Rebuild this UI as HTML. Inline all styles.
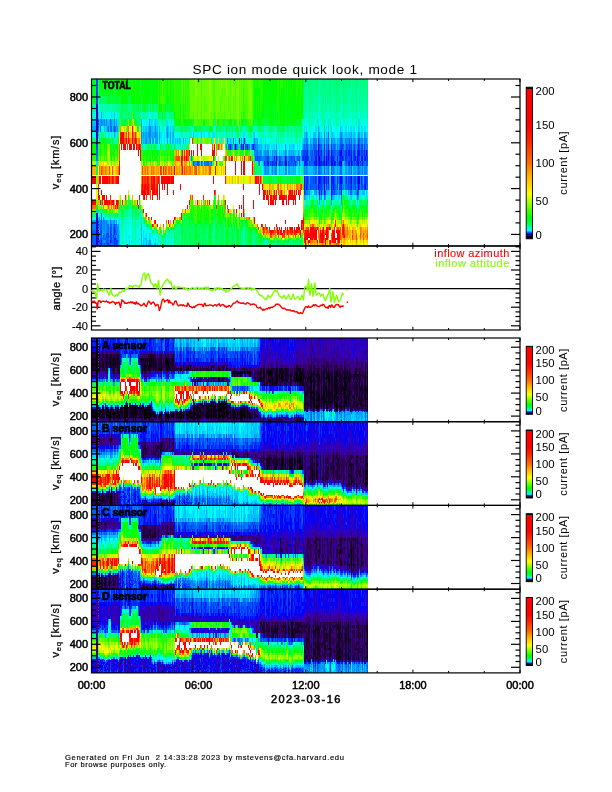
<!DOCTYPE html>
<html><head><meta charset="utf-8"><title>SPC ion mode quick look</title>
<style>html,body{margin:0;padding:0;background:#fff}svg{display:block}text{font-family:"Liberation Sans",sans-serif}</style>
</head><body>
<svg width="612" height="792" viewBox="0 0 612 792">
<rect width="612" height="792" fill="#fff"/>
<g shape-rendering="crispEdges">
<g transform="scale(.1)" fill="none">
<path stroke="#00ff20" stroke-width="40" d="M940 790v250"/>
<path stroke="#00ffa0" stroke-width="40" d="M940 1040v75"/>
<path stroke="#00ffdf" stroke-width="40" d="M940 1115v71m0 983v35"/>
<path stroke="#00c0ff" stroke-width="40" d="M940 1186v69"/>
<path stroke="#00a0ff" stroke-width="40" d="M940 1255v65m0 884v34"/>
<path stroke="#00ffff" stroke-width="40" d="M940 1320v63"/>
<path stroke="#00ff60" stroke-width="40" d="M940 1383v60"/>
<path stroke="#00ff00" stroke-width="40" d="M940 1443v113"/>
<path stroke="#23ff00" stroke-width="40" d="M940 1556v53"/>
<path stroke="#a9ff00" stroke-width="40" d="M940 1609v51"/>
<path stroke="#ffb000" stroke-width="40" d="M940 1660v90"/>
<path stroke="#ff0000" stroke-width="40" d="M940 1750v87m0 167v45"/>
<path stroke="#fff" stroke-width="40" d="M940 1837v167"/>
<path stroke="#ff7000" stroke-width="40" d="M940 2049v42"/>
<path stroke="#69ff00" stroke-width="40" d="M940 2091v40"/>
<path stroke="#00ff80" stroke-width="40" d="M940 2131v38"/>
<path stroke="#0080ff" stroke-width="40" d="M940 2238v61"/>
<path stroke="#0060ff" stroke-width="40" d="M940 2299v148"/>
<path stroke="#0040ff" stroke-width="40" d="M940 2447v13"/>
<path stroke="#0040ff" stroke-width="20" d="M970 790v250m0 403v58"/>
<path stroke="#3200be" stroke-width="20" d="M970 1040v343m0 786v291"/>
<path stroke="#1900de" stroke-width="20" d="M970 1383v60m0 688v38"/>
<path stroke="#0060ff" stroke-width="20" d="M970 1501v55"/>
<path stroke="#0080ff" stroke-width="20" d="M970 1556v53"/>
<path stroke="#00dfff" stroke-width="20" d="M970 1609v51"/>
<path stroke="#00ff40" stroke-width="20" d="M970 1660v90"/>
<path stroke="#69ff00" stroke-width="20" d="M970 1750v87m0 167v45"/>
<path stroke="#e2ff00" stroke-width="20" d="M970 1837v167"/>
<path stroke="#00ff00" stroke-width="20" d="M970 2049v42"/>
<path stroke="#00c0ff" stroke-width="20" d="M970 2091v40"/>
<path stroke="#00ff40" stroke-width="10" d="M985 790v172m0 539v55m30-676v82m0 358v63m10 708v40m20-748v60m0 648v40m10-1169v78m10 343v60m10-481v78m0 343v60m30 648v40m20-1169v78m20-250v250m50 1009v42m10-1129v78m0 75v71m10 0v69m10-215v75m0 71v69m0 876v38m10-983v69m0 794v42m10-905v69m0 794v42m20-42v42m20-976v71m0 766v52m10-1042v78m30 0v75m0 976v40m10-1016v71m10 863v42m10-1051v75m0 1016v38m10-983v69m0 794v42m10-1051v75m10 140v65m0 811v38m10-983v69m30-215v75m0 328v58m0 590v40m10-630v55m20-516v75m10-75v75m10-75v75m10 328v58m20-461v75m0 386v55m20-516v75m0 1184v29m10-1288v75m0 1184v29m20-827v55m20-516v75m50 386v55m10 743v29m40-1288v75m0 386v55m10-516v75m50 1154v30m10-1113v69m0 1014v157m40-222v34m30 31v30m0 29v132m30-291v278m20-1192v65m0 849v278m10-316v38m10-38v38m10-914v65m0 63v60m0 795v61m0 29v51m0 24v23m0 21v13m10-256v34m0 31v30m0 29v132m10-256v34m0 61v29m10-59v59m0 26v25m0 68v13m10-256v34m10 61v161m10-1205v65m0 918v31m0 30v29m0 75v23m10-23v23m20-188v61m10-30v30m0 29v26m0 49v23m0 21v13m10-81v47m20-157v30m0 29v26m0 49v57m10-256v199m0 23v34m10-256v34m10 90v26m0 25v24m60-1148v65m0 63v60m0 795v31m10 30v29m10-279v155m10-113v78m10 0v130m0 29v51m10-110v134m10-165v90m0 26v25m0 24v23m0 21v13m20-1205v65m0 918v31m10-31v31m10 30v29m0 26v49m10-199v34m10-34v243m10-1261v69m0 914v35m30-1018v69m0 983v141m0 24v44m20-178v59m0 26v106m10-222v31m10 0v191m20-256v34m10 31v110m10-878v55m0 648v34m10-983v65m0 949v30m0 29v26m0 93v13m10-1140v63m10-63v63m10-197v69m0 949v34m10 61v55m0 25v81m10-256v65m10 0v30m10-95v34m10-107v73m20 65v30m10-30v30m10-1044v65m0 979v29m0 26v25m0 47v34m10-1205v65m0 979v29m0 26v72m0 21v13m20-132v132m20-191v30m10-1113v69m10-69v69m0 1044v55m10-1168v69m0 1073v26m0 25v68m20-68v47m0 21v13m10-1205v65m0 1059v47m10-72v49m10 0v23m0 21v13m10-1274v69m0 1148v23m20-676v87m20-87v87m10-87v87m20-651v69m0 1124v24m40-653v87m0 566v23m30-1240v69m0 495v87m10-582v65m10 1106v34m20-57v23m20-676v87m10-582v65m0 430v87m10-582v65m0 430v87m20 566v23m10-1171v65m0 1083v23m10-676v87m10-87v87m20-87v87m20 566v23m20-676v87m20 566v23m30 0v21m30-1657v90m0 957v59m10 195v40m20-82v42m10-42v42m30-87v45m60 0v42m30 78v35m20-113v78m20-165v45m10 82v73m40-155v42m20-87v45m10 120v35m10-113v40m10-40v40m10-82v42m20-42v42m20-42v42m10-42v42m10-42v82m20-179v52m40 0v45m30-45v45m10 0v42m50-42v42m10-42v42m10 40v38m20-165v45m10-45v45m10-45v45m10 0v42m20-42v42"/>
<path stroke="#00ff60" stroke-width="10" d="M985 962v78m0 403v58m10-539v78m30-78v78m20-78v78m20-78v78m20 343v60m0 688v38m10-38v38m10-1207v78m0 343v60m40 0v58m50-539v78m10 0v75m0 934v42m10-1051v146m0 905v78m10-1054v71m0 983v35m10-1164v75m0 1016v38m10-1129v75m10-75v75m0 934v42m10-1051v146m0 905v40m10-1091v75m0 71v69m10-293v78m0 964v87m10-87v45m30 82v38m10-1129v75m10-75v146m10-71v71m0 983v35m10-1164v75m0 976v78m20-1054v71m0 983v35m20-1164v75m0 71v69m0 836v78m70-726v58m10-461v75m0 1123v31m10-826v58m20 768v30m20-856v58m10 768v30m10-30v30m10-1259v75m0 328v58m20 853v25m10-1264v71m0 315v55m0 772v26m10-55v29m10-1213v71m10 0v69m20 1099v25m10-1264v71m0 257v58m0 827v26m10-1314v75m0 1154v30m30-1184v71m0 257v58m10 768v30m10-1184v71m0 257v58m10-386v71m20 69v65m0 1106v34m10-222v31m10-31v31m0 110v24m0 44v13m10-222v31m20-31v31m10-31v31m20-826v58m10 630v38m10-914v65m0 1127v13m10-1205v65m0 849v69m0 141v24m10-960v58m0 946v13m10-291v100m0 30v29m0 26v49m10-960v58m0 668v100m0 59v26m0 25v24m10-104v29m0 51v24m0 23v21m10-148v29m10-90v61m0 29v132m10-222v31m0 59v26m0 25v68m10-209v31m10 0v30m30-61v31m0 157v21m10-1192v65m0 979v161m10-1205v65m0 918v31m0 30v29m0 51v24m0 23v21m10-178v110m0 47v34m10-191v30m10 55v49m10 0v23m10-188v116m0 72v34m10-1205v65m0 949v59m0 26v25m0 24v57m10-222v116m0 25v81m10-1205v65m0 918v61m0 29v26m0 25v68m10-209v222m30-191v30m0 55v25m0 24v57m10-851v51m0 609v30m0 55v25m0 24v57m10-851v51m10-474v69m10-69v69m0 1044v29m0 51v81m10-57v57m10-1205v65m0 1008v26m0 25v24m0 23v21m10-243v34m0 31v157m10-157v191m10-1205v65m10-65v65m10 949v30m10 148v13m10-256v65m0 59v51m0 24v23m10-1171v65m0 949v134m0 23v34m10-1140v63m10 996v24m0 44v13m10-1205v65m0 949v85m0 25v81m30-1205v65m20-134v69m0 1099v25m10-1124v65m0 1059v81m10-222v61m10 0v29m0 26v93m30-209v31m30-1014v65m0 979v161m10-959v55m0 682v31m10-1083v69m0 949v34m10 31v30m10 0v55m0 25v47m10-127v80m0 47v21m10-119v26m10 72v21m20-1127v63m10-128v65m0 979v29m20-29v29m10 26v72m10-817v141m0 604v25m0 68v13m10-132v26m10-1099v65m0 1106v21m10-21v34m10-1205v65m0 1083v57m10-34v21m10-68v24m30-1217v69m0 495v87m30-87v87m0 566v23m20-1171v65m40 430v87m10-87v87m20 589v34m10-1140v63m10 367v87m10-582v65m0 1106v21m10-44v23m10 0v21m20-21v21m10-697v87m10-87v87m10 589v34m40-57v23m20-676v87m20-582v65m10 1083v44m10-1192v65m0 1106v34m10-1274v69m0 1124v24m20-1083v63m0 1064v13m10-800v90m0 604v72m20-1546v160m20 1009v42m40-1301v90m20 1124v45m60-1259v172m10 1087v42m10 40v38m40-1374v85m10 1211v40m10-1336v167m20 1042v45m20-1259v172m10-172v172m10 1169v38m20-120v42m30-1301v90m20-85v85m30 1251v38m20-1379v90m10-90v5m0 1157v52m30-52v52m10 0v45m30 0v42m10-1301v5m0 1209v45m10-45v45m10-45v45m10-45v45m10-1259v90m10 1211v40m10-40v40m20-1341v5m20 1209v45m10-1259v90m0 1124v45m10-45v45"/>
<path stroke="#00ffc0" stroke-width="10" d="M985 1040v75m0 268v60m10-403v75m30 1016v38m20-1129v75m0 205v63m0 748v38m10-1054v71m10 134v63m30-268v71m0 983v35m10-1164v75m0 1016v38m20-1054v71m0 134v63m0 786v35m20-821v60m0 688v38m10-786v60m0 726v35m10-1089v71m0 983v35m10-1089v71m0 983v35m10-1089v71m0 983v35m10-1089v71m10 1018v34m0 31v178m10-243v34m0 61v161m10-106v72m0 21v13m10-256v95m10-130v35m10-35v69m10-34v34m0 31v157m0 21v13m10-291v69m10-69v130m0 55v49m10-312v40m10 0v73m20 222v21m10-243v65m10-65v65m20 0v191m10-291v35m10 65v110m10-248v38m10 159v75m20-1288v71m0 945v73m30-1089v71m30-71v71m0 1083v59m20-1213v71m10 1113v55m10-26v26m10-26v26m10-55v29m20-1213v71m10 1142v26m10-1099v65m10-134v69m10-69v69m10-69v69m0 1171v21m20-1261v69m10 1148v23m0 21v13m20-1345v71m0 197v60m0 856v127m20-98v75m10-1217v69m0 1192v13m10-161v29m0 26v25m10 68v13m10-1274v69m0 1099v93m10-93v25m10-1059v123m20 0v58m40 853v49m20-1020v60m10 761v34m0 209v13m10-1140v63m10-63v63m40-63v63m10 173v53m20-354v65m10-65v65m20 0v63m10-63v63m140-63v63m30-128v65m0 918v31m0 59v26m0 25v24m0 23v21m10-44v23m10-1171v128m10 0v60m10-123v63m20-63v123m50-188v65m10 0v63m20-63v63m10-63v63m50-128v65m10 0v63m10 1043v34m50-1077v60m10-188v65m0 1008v51m0 24v44m10-1127v63m10-128v65m0 979v161m30-1140v63m10-63v63m10 0v60m20-60v60m10-60v60m10-123v63m0 118v55m10 847v44m10-1192v65m10-65v65m30 0v63m20-63v63m10-63v63m30-63v63m10 1064v13m10-1140v63m0 1043v34m10-1140v63m0 1020v23m0 21v13m10-34v34m20-1077v60m10-60v60m10-123v63m0 1064v13m10-1140v123m10-188v65m0 1106v34m10-1140v63m10-128v65m0 1083v57m20-1017v58m10-181v63m0 1064v13m20-1077v60m20-60v60m10-60v60m10-188v65m0 1106v21m10-21v34m20-1077v60m10 983v21m10-1064v60m10-60v60m10-60v60m10-123v63m0 1064v13m60-1077v60m30-123v63m20-268v71m10 818v45m10-934v71m10-71v71m10 0v69m20-69v69m0 697v52m10-889v71m0 766v52m10-818v69m10-140v71m10-71v71m10-71v71m10-71v71m10 69v65m0 632v52m10-1042v153m10-75v146m10-71v71m20 69v65m20-358v153m10 205v63m10-268v71m10-71v140m0 697v52m10-964v75m0 837v52m10-749v65m10 632v52m10-964v146m10-71v71m10-71v71m10-71v71m0 818v45m10-863v69m10 0v65m0 684v45m10-934v140m20-140v71m0 818v45m10-1009v75m10-75v146m0 863v42m10-1051v146m10 0v69m10-69v69m0 641v56m10-837v71m10-71v71m10 0v69m10-215v146m10 766v52m10-889v71m10-146v146m20-71v71m10-71v71m0 766v52m10-889v71m10 69v65m10-205v71m0 863v42m10-1129v153m10-75v75m10 71v69m10-140v71m10-71v71m10 0v69m20-215v75m10 0v71m10 0v69"/>
<path stroke="#00c0ff" stroke-width="10" d="M985 1115v71m0 134v63m0 786v35m10-1018v69m0 1044v29m30 0v26m20-1099v65m10-134v69m10 0v65m10-134v69m10-69v69m0 949v34m10-1052v134m0 884v65m0 59v26m10-185v35m20-1018v134m0 884v34m10-1052v69m10-140v71m50 1113v148m220-209v31m0 30v29m10-1008v63m10-128v65m0 1083v44m10-1127v123m10-188v65m0 1059v24m10-1148v65m0 1059v47m10-1106v123m10-188v65m0 63v60m0 983v34m10-81v24m20-1148v128m10-128v65m10 0v63m10-128v65m0 1106v21m10-1261v69m10 0v65m0 1127v13m10-1205v65m20-65v65m70-65v128m20-128v128m20-128v65m20 0v123m10-188v65m0 63v60m20-60v60m20-60v60m20-60v60m10-60v60m50-60v60m80-123v63m80-63v63m290 0v60m50-60v60m30 0v58m70-118v60m80-60v60m10-123v63m0 173v53m10-226v60m10-60v60m20 0v58m10-58v58m10-58v58m10-58v58m20 0v55m40-113v58m10-58v58m20 0v55m10 104v90m20-249v55m0 104v90m10-307v58m30 108v51m40-159v55m0 104v90m20-249v55m0 104v90m10-249v55m40-55v55m10-113v58m10 0v55m0 104v90m10-90v90m10-249v55m0 104v90m10-307v58m10 0v55m0 104v90m10-249v55m40-55v55m0 104v90m10-194v104m20-217v58m0 108v51m10-277v60m0 166v141m10-430v63m10-63v63m0 569v52m20-684v63m10 277v90m10-307v58m0 159v90m0 202v52m10-344v90m10-367v60m0 217v90m10-367v60m0 217v90m10-430v63m10-63v63m10-63v63m20 60v58m30 451v52m10-684v63m10 0v60m0 217v90m10-367v60m0 217v90m10-495v65m10 123v58m0 159v90m10-430v63m0 513v56m10-56v56m10-697v65m0 576v56m10-509v58m0 249v87m10-394v58m0 249v146m10-576v63m10-63v63m10 569v52m10-52v52m10-621v60m0 217v90m10-307v58m0 159v90m20-367v60m0 217v90m0 87v59m20-641v65m20 0v63m0 277v90m10-367v60m10-60v60m10-123v63m10-63v63m0 513v56m10-292v90m10-430v63m10-63v63m0 513v56m10-632v63m10 569v52m10-621v60m0 453v56m10-632v63m0 513v56m10-632v63m0 513v56m20-292v90m20-495v65m30 0v63m10-63v63m0 513v56m10-569v60m0 217v90m0 146v56m10-56v56m20-632v63m0 513v56m10-569v60m0 217v90"/>
<path stroke="#0040ff" stroke-width="10" d="M985 1186v134m0 884v65m0 59v26m0 72v21m10-44v23m10 0v34m10-132v26m0 25v24m30 23v34m20-106v25m0 24v23m10-98v26m0 72v21m10-119v51m0 47v34m20-191v134m10-75v26m0 25v47m0 21v13m20-106v25m10-1124v65m0 918v31m0 134v23m10-127v29m0 75v44m10-44v23m10-23v23m0 21v13m760-851v51m40-51v51m40-51v51m440-217v58m70-58v58m30 55v53m20-53v53m100-53v53m10-53v53m20 0v51m30-51v51m10-51v51m10-51v51m40-104v53m10 0v51m60-104v53m20 0v51m30-104v53m30-53v53m50-53v104m30-104v53m10-108v55m10-55v108m0 287v56m10-451v55m10-55v55m0 194v87m10-228v51m0 177v59m10-340v53m10 0v51m10 177v59m10-340v53m10-108v55m10 194v87m10-336v55m10-55v55m10 194v146m20-513v60m10 0v113m0 281v59m0 56v52m10-503v108m0 228v59m10-340v53m0 141v146m10-287v51m10 90v87m30-336v55m0 281v59m10-340v104m10 177v59m30-236v90m10-249v55m0 281v115m10-451v55m0 53v51m10-104v53m0 141v202m30-343v51m0 177v59m20-340v53m0 141v146m10-453v58m0 336v59m10-453v58m10-58v58m0 249v87m10-281v53m20-108v55m10-113v58m0 55v104m10-104v53m10 141v146m10-453v58m0 55v53m0 141v87m10-336v108m0 141v146m10-453v58m10 108v51m10-159v108m10-166v58m0 108v51m0 90v87m10-87v146m10-287v51m20-277v60m0 453v56m10-509v58m0 55v53m0 228v59m10-287v51m10-217v113m0 281v59m10-453v113m0 281v59m20-453v58m0 249v87m20-281v104m0 90v87m10-281v53"/>
<path stroke="#00ff20" stroke-width="10" d="M985 1556v53m0 482v40m10-1341v5m10-5v250m10-250v90m0 503v60m20-653v172m0 1087v42m10-1301v172m10 421v60m10-653v172m10-172v5m0 85v82m10-172v250m10-78v78m10-250v172m0 481v58m10-711v250m0 403v58m10-118v60m10-653v250m0 403v58m10 0v55m10-766v250m0 403v58m10-711v250m10-250v90m0 82v78m0 1091v38m10-1379v5m0 167v78m0 343v60m10-648v85m10 1124v45m20 42v40m30-945v69m10-293v78m10-250v172m0 1087v42m20-1301v172m10-172v5m0 85v82m0 224v69m10-465v250m10 1009v42m10-42v42m20-905v69m0 836v40m20-1341v90m0 82v78m20-250v250m0 964v45m20-1259v250m0 461v55m20-676v82m0 78v75m10-75v75m0 386v55m20-55v55m10 682v31m20-1474v85m0 82v78m0 516v53m10-819v250m0 516v53m10-647v78m30 403v58m10-711v5m0 85v160m0 516v53m20-108v108m0 690v29m10-1213v71m20-146v75m30-75v75m0 328v58m10-386v71m0 315v55m40-113v58m0 768v30m10-1259v75m0 1184v29m10-1288v75m20 386v55m10-516v75m0 386v55m10-113v58m20 703v34m20-1052v69m30 0v65m0 979v29m10-1073v65m0 1034v106m10-1274v69m10 876v38m30-983v69m20 949v34m10 0v31m10-1083v69m0 914v35m10-1018v69m0 301v104m0 544v34m10-147v113m10-949v65m0 918v31m10 0v30m0 29v75m0 23v34m10-191v59m0 26v49m0 23v34m10-329v38m0 35v34m20 116v25m10-1124v65m0 918v31m10-138v107m10-983v65m0 918v31m0 30v29m30-90v31m10-65v34m10-34v34m10-34v34m10-983v65m0 949v191m10-191v191m10-329v38m0 35v34m10-983v65m0 884v65m10-1083v69m10 697v139m10 40v38m20 35v34m10-1052v69m0 914v35m10 0v34m10-34v34m10 0v61m0 29v26m0 49v57m10-291v35m10-1018v69m10 876v38m10 69v31m10 59v75m0 44v13m30-222v31m0 59v26m10-853v55m0 613v69m20-983v65m0 1008v51m0 24v57m10-1017v58m0 668v35m20-35v35m20 124v26m0 25v81m20-1017v58m0 668v35m10-949v65m0 1034v25m10-1193v69m0 246v55m30-113v58m10 0v55m0 682v31m10-768v55m0 682v31m20 110v47m10-98v26m10-1099v65m0 1034v106m10-161v29m10-59v30m20-690v51m0 609v30m30-1113v69m0 1044v29m10 0v51m10-25v25m20-1193v69m0 1124v24m20-1217v69m0 495v87m10-722v140m0 1124v24m10-1441v224m0 1168v25m10-1339v215m10-215v215m0 1124v24m10-1608v167m0 78v215m20 495v87m10-87v87m0 566v23m10-1386v215m20-215v215m0 1124v24m10-1363v215m0 1148v23m10-1464v224m10 1217v23m10-1171v65m10-205v140m10 495v87m10-651v69m10 0v65m30-525v460m10-375v375m20-69v69m10-215v215m10-69v69m20 495v87m10-722v140m10 495v87m10-651v69m10-69v69m10-69v69m0 1124v24m20-653v87m10-582v65m40 811v38m10-78v40m10-40v40m10-40v40m10-82v42m10 0v40m30-127v45m10-45v45m10 0v42m10-42v42m20-87v45m10 42v78m20-120v42m10 78v35m10-155v42m10-42v42m20 0v40m10-82v82m20-40v40m10-127v45m20 155v34m60-189v42m20 0v40m10 0v38m10 0v69m20-286v52m20 0v45m30 0v42m10-42v42m20 0v78m60 0v35m10-73v73m10-155v42m30 0v40m20-40v40m10-127v45m10 0v42"/>
<path stroke="#46ff00" stroke-width="10" d="M985 1609v51m40-217v113m10-55v55m40 535v40m80-630v55m10-55v55m20-113v58m0 590v40m10-876v65m10-134v69m110 749v45m10-934v71m20 818v45m40 42v40m40-575v53m90-53v53m10 0v51m40 609v30m20-1504v85m0 82v78m0 1288v26m20-1392v78m0 461v55m10 0v53m10-814v320m0 441v53m10-647v78m0 461v55m10 53v51m10-104v53m10-53v53m0 629v31m20-713v53m10-53v53m20-108v108m10 0v51m10-51v51m10-870v250m60 1164v34m10-1448v465m10-293v224m0 945v38m20-1379v250m20-250v396m30-306v306m10 863v42m30-1211v82m0 153v71m0 197v60m10 606v42m0 40v38m10-983v69m0 794v82m0 38v35m10-113v40m0 38v69m10-1443v85m0 82v293m20-69v69m10-69v69m10-465v396m0 197v60m10 606v42m10-87v45m10-1087v153m10 71v69m10-215v75m10 71v69m0 128v60m20 688v107m10-147v147m10-1123v140m20-465v396m0 818v45m10-1259v325m10 0v71m10 905v40m20-1016v71m10 423v51m10-698v293m10 794v155m10-1324v160m0 75v71m10 818v87m10-1211v82m0 78v146m10-71v71m10 0v69m0 246v55m0 682v31m10-178v78m10-1207v153m10 386v55m0 575v38m10-1379v396m10 315v55m0 575v107m10-1052v69m0 246v55m0 682v31m10-1474v85m0 82v224m10 315v55m10-766v396m20 315v55m0 682v31m10 0v30m10-1509v396m0 315v55m0 575v38m10-983v69m10-465v325m0 1054v35m10-1164v146m10-396v90m0 160v75m10-325v250m10-160v306m10-391v85m0 82v224m10-306v82m0 78v146m10 315v55m0 648v65m10-1083v69m0 949v65m20-31v31m10-1479v465m10 983v31m70 30v29m10 0v26m10 0v25m60 0v24m10-49v25m70-25v25m10 0v24m20-24v24m30 0v23m90-47v24m30-24v24m50-24v24m20-75v26m10-604v87m20 367v34m20-69v35m10-35v35m10-73v73m10-35v69m10-107v38m10-38v38m10-78v78m10-38v38m10 0v35m20-35v35m10-113v40m50 38v35m10-73v38m20 0v35m40-113v40m10-40v40m10 107v31m30-138v38m20-38v38m10 0v35m10-35v35m50-200v45m10 0v82m10 0v38m20-78v40m50 0v38m30 0v35m10-35v35m10 34v31m10-65v34m10-107v38m10-78v78m10-38v38m10 0v35m10-73v73m10-35v35m30-73v38"/>
<path stroke="#ffff00" stroke-width="10" d="M985 1660v90m30 202v52m20 0v45m10-440v51m10-51v51m10 389v42m30-482v51m20 0v90m60 341v40m20-179v52m100-749v65m50-65v65m130 884v34m40-34v34m30-629v51m30 609v30m30-690v51m20 668v26m60-745v51m30 578v31m80-768v55m40 53v51m10 431v40m40-522v51m20-51v51m50-104v53m10-53v53m100 395v45m20-45v45m10-493v53m10-53v53m100 51v90m20-90v90m10-141v51m10 0v90m40 0v87m70 294v38m10-419v87m20-281v53m40 141v87m20-336v55m60 613v35m20 0v34m90 31v30m110-403v56m40-115v59m0 432v26m30-517v59m40 483v24m20-507v56m10-115v59m10 458v25m40-25v25m20-542v59m60 458v25m70 68v13m30-191v30m10-95v34m60 0v31m20 134v23m10 21v13m10-222v31m10 0v30m10-61v31m60 134v44m10-243v34m10-34v34m10 209v13m20-222v31m10-65v34m10-107v38m30 69v31m40 157v21m30 0v13m10-34v34m10-256v34m10 0v31m0 134v23m0 21v13m10-57v57m10-34v34m10-191v30m0 104v23m20 0v34m10-57v57m20-191v30m10 0v29m10 51v24m30 23v34m10-57v44m10-209v31m10-31v31m0 134v23m0 21v13m10-34v34m10-222v31m0 157v34m10-256v34"/>
<path stroke="#ff9600" stroke-width="10" d="M985 1750v87m0 167v45m50-389v90m30-90v90m80 254v87m60-836v65m40 0v63m10-63v63m20 0v60m40-60v60m30-123v63m20-63v63m20 0v60m30 307v87m30-177v90m0 419v35m10-73v38m30-509v90m40-90v90m20-90v90m20-90v90m20-90v90m60-90v90m60 454v34m30-578v90m10-194v53m10 0v51m10 0v90m30-90v90m0 419v35m10-35v35m40-595v51m10-51v141m10-141v51m10 0v90m10-90v90m10 299v42m30-431v90m60-90v90m10-90v90m20 254v45m20-389v90m20-90v90m110-249v55m10-113v58m10 451v52m10-561v58m60 590v40m20-630v55m10 0v53m60-53v53m0 482v40m20-575v53m40-53v53m80 560v35m30 0v34m20-578v90m60 549v29m30-29v29m20 0v26m40-55v55m10-517v59m10 0v56m10-56v56m10 402v25m10-483v56m70-115v59m20 0v56m20-56v56m20 376v26m20-458v56m20-115v59m30 458v25m50-542v59m70 373v30m20 104v23m30 0v21m10-209v31m20 134v23m10-23v23m20-23v23m10 21v13m60-34v21m10-44v23m30-23v23m30 21v13m40-222v31m0 157v21m10-21v34m10-191v30m20 148v13m10-191v30m20 55v72m30-188v31m10 30v80m10-80v80m10-25v25m10-51v26m10 0v25m10 0v24m30-75v26m0 25v24m20-104v29m0 26v49m60-134v85m20-55v29m0 75v23m20-127v29m0 26v25m10-51v75m10-134v30m0 80v24"/>
<path stroke="#ff0000" stroke-width="10" d="M985 1837v167m10-254v87m0 115v52m10-254v87m0 167v45m10-153v56m10-202v87m0 115v52m10-254v87m0 115v52m10-254v87m0 115v97m10-299v87m0 167v45m10-299v87m0 115v97m10-299v87m0 167v45m20-299v87m0 167v45m30-299v87m0 167v45m10-45v45m30-299v87m0 167v45m10-299v87m0 167v87m10-341v87m10-228v141m10-367v60m10-123v181m10-181v123m0 561v45m10-729v181m10-58v58m10-58v58m10-118v60m20-60v60m10 0v58m10-58v58m10-58v58m10-246v188m10 0v58m10-58v58m10-118v60m10 0v58m10 503v45m10-548v55m0 493v42m10-648v58m0 451v52m10-503v108m20 141v202m10-56v56m0 139v40m10-294v167m10-167v115m10 179v38m10-419v202m10-115v115m30-202v146m0 273v35m10-367v167m0 234v31m10-519v202m10-202v202m10 252v34m10-342v56m10-115v167m0 234v31m10-519v87m10 0v167m20-254v87m10-87v146m10-146v87m10-87v146m10-146v87m10-87v87m10-87v202m10-202v87m0 367v34m10-488v87m20-87v87m10-87v87m10-87v87m0 59v56m0 252v34m10-578v90m0 419v35m60-367v59m10-340v104m0 471v73m10-703v108m0 51v90m20-194v53m20-53v53m10 440v42m20-590v55m0 448v45m20-548v55m20-55v55m40-113v113m0 448v45m30-606v58m10-58v113m80 448v45m30-548v55m10-55v55m0 194v87m10-394v113m0 340v56m10-292v90m10-141v51m90 344v45m30 42v40m30-575v53m40 0v141m10 341v40m30-82v42m20-482v141m0 299v42m0 40v38m20-560v141m0 87v59m0 56v217m10-613v194m80-141v141m10 254v87m10 78v69m10-488v87m10-87v87m20-87v87m10 0v115m10-202v87m10 401v31m10-432v59m10 0v108m0 265v30m10-403v108m20-52v52m0 265v30m10-403v108m10 0v45m10-153v56m0 317v30m10-347v97m0 250v55m10-402v97m0 250v29m10-324v45m0 250v29m10-376v97m10-153v108m10 0v45m10-97v52m0 234v31m10 0v85m10-55v55m10-402v52m0 265v30m10-347v52m0 295v55m10-458v108m0 265v85m10-402v97m0 279v26m10-402v97m0 250v29m10-376v52m0 295v29m10-124v34m0 31v30m10-295v45m10 220v85m10-402v97m10-153v108m10-108v108m0 265v59m10-376v52m0 265v30m10-403v108m0 265v59m10-376v97m10-153v108m0 265v30m10-347v97m0 250v29m10-432v56m0 317v59m10-59v59m10-432v56m0 286v61m10-347v52m0 265v30m10 0v55m10-150v95m10-95v34m10-34v95m10 80v24m10-104v127m10-98v75m10-104v104m10-104v80m0 24v23m10-98v51m0 24v23m10-157v134m10-134v134m10-134v134m10-134v110m10-80v104m10-104v104m10-104v104m10-134v30m0 104v23m30-127v104m10-75v51m0 24v23m10-127v127m10-157v134m20-75v26m0 25v68m10-178v134m10-134v134m20-134v30m10-30v30m0 104v23m20-127v127m10-127v104m10-104v127m10-188v31m0 110v47m10-127v29m0 51v24m10-104v104m10-104v127m10-127v127m40-188v116m10 0v25"/>
<path stroke="#c6ff00" stroke-width="10" d="M985 2049v42m40-42v42m40-482v51m20-104v53m20 440v42m50-535v53m10 0v51m30-340v63m20-128v65m10-65v65m10 684v45m50-153v56m20-697v65m50-65v65m30 0v63m10-128v65m300 289v51m40 578v31m10-65v34m70-34v34m70-147v40m10-40v40m40-127v45m50-493v53m60-53v53m10-53v53m10-53v53m10-53v53m10-53v53m100-53v104m140 471v38m30-613v53m20-53v53m20 482v40m20-381v87m20-281v53m10 141v87m10 332v35m70-454v87m20 401v31m270 85v25m10-542v59m10-59v59m110 458v25m40-51v26m40-55v29m10-432v56m10 286v31m40-65v34m60-34v34m40-34v34m10 31v30m40-95v34m40-34v34m50 0v31m20-100v35m20 0v34m40-34v34m10 31v30m0 148v13m20-329v38m10 0v35m20 0v34m30-34v34m10 0v31m20-65v34m10-34v34m30 0v31m20 178v13m50-256v34"/>
<path stroke="#00ffdf" stroke-width="10" d="M985 2131v38m10-1054v71m0 945v38m10-1054v71m10-146v75m0 140v65m10-205v71m10-146v75m10 0v71m10 983v35m10-1089v71m10-71v71m0 134v63m0 786v35m10-35v35m20-884v63m30-268v71m0 134v63m0 786v35m20-1089v71m40 945v38m10 278v13m30-161v161m10-256v124m0 26v25m10-141v188m10 0v21m20-148v55m0 49v57m10-329v73m10 0v65m0 30v29m10-159v69m20 31v191m10-191v178m30-243v65m0 85v25m10 0v81m10-291v69m10 165v57m20-256v65m0 30v29m10-90v31m10-1083v69m0 1014v30m10-61v61m10-856v58m0 768v30m10 0v55m10-26v26m10-85v30m10-856v58m10-386v71m0 197v60m0 911v49m10-49v49m10-49v72m10-1311v71m0 1142v26m10-55v29m10 0v75m10-960v58m20 902v23m0 21v13m10-1205v65m0 63v60m0 1004v13m10-1205v65m10 0v63m10 1064v13m10-1205v65m10-65v65m20 1034v49m0 23v21m10-1261v69m0 1148v44m20-119v26m0 25v47m10-1171v65m10 123v58m0 827v26m0 93v13m10-161v55m0 25v47m20-1106v63m10-63v63m10-63v63m0 60v58m20-181v63m0 60v58m20-118v118m20-58v58m20-58v58m10-118v60m20-123v63m30-128v65m30 0v63m60-63v123m20-123v63m10-63v63m0 226v51m140-277v60m10-123v63m20-63v123m20-123v63m20-63v63m60-63v63m30-63v63m20-63v63m40-128v65m50-65v65m10 0v63m40 0v60m70-123v63m40 226v51m20-277v60m20-60v60m10-188v128m0 1020v44m10-1064v60m20-123v63m10 0v60m30-60v60m20-123v123m10-60v60m10-123v63m10 60v58m10 159v90m10-367v60m30 0v58m10-58v58m20-181v63m10-63v63m30-63v123m50-60v60m40-60v60m20 0v58m30-315v69m10-69v69m10-69v134m20-134v69m10 0v65m10 0v63m10-128v65m10-65v65m10-65v65m10-134v69m10-69v69m10-69v69m10-69v69m10 65v63m10 569v52m10 45v42m10-905v134m10-134v69m20 0v65m0 632v52m10-889v71m10 818v45m10-97v52m40-684v63m10 666v42m10-905v69m0 749v45m10-863v69m10-69v69m10 0v65m30-65v65m10-134v69m10-140v71m20 0v69m20 0v65m10-134v69m10-69v69m10 641v56m10-766v69m0 697v52m10-889v71m10 0v69m20 0v65m0 632v52m10-818v69m0 697v52m10-818v69m10-69v69m10 65v63m0 621v45m10-863v69m10-140v71m0 818v45m10-934v71m10 69v65m10-134v69m20 0v65m10-205v140m0 697v52m10-889v71m10 0v69m10 0v65"/>
<path stroke="#0020ff" stroke-width="10" d="M985 2269v30m30 0v29m0 75v57m90-13v13m40-191v85m0 25v24m0 23v21m10-68v24m10 23v21m1140-1004v58m90-118v60m20 0v58m30-118v60m30 0v58m60-58v58m110 108v51m30-51v51m10-51v51m40-51v51m20-104v53m50 0v51m160-51v51m80-104v53m10 0v51m0 177v59m10-340v104m10-104v104m0 177v59m10-395v108m0 141v87m70-228v51m10-104v104m0 90v87m10-336v55m20 53v51m0 90v87m20-228v51m0 90v87m10-336v55m0 53v51m0 236v56m20-343v51m10-217v113m20 194v87m20-394v58m0 108v51m30-217v58m0 451v52m10-448v53m0 141v87m10-281v53m0 141v146m20-287v51m20-104v53m0 141v87m20-336v55m10 0v53m10-53v53m0 228v59m10-340v53m30-53v53m10-108v55m0 194v87m20-336v55m0 53v51m10-159v55m0 53v51m20-159v55m0 281v59m30-395v108m10-53v53m20-108v55m0 53v51m0 90v87m0 59v56m10-509v58m0 55v53m10-108v55m20 0v53m0 141v87m10-228v51m20-159v108m0 228v59m10-340v53m0 141v87"/>
<path stroke="#0000ff" stroke-width="10" d="M985 2299v29m0 51v47m120-23v23m1660-870v104m90-104v53m190 141v87m120-281v104m20-217v58m0 336v59m10-146v87m0 59v56m50-396v104m0 90v87m20-281v104m20-159v55m0 194v87m30-336v159m0 90v146m10-287v51m20-51v51m50-51v51m10-159v55m0 53v51m0 90v87m10-228v51m0 90v87m0 59v56m100-343v51m0 90v87m60-281v53m10-108v55m0 194v146m10-146v87m30-281v53m30 228v59m10-395v55"/>
<path stroke="#1900de" stroke-width="10" d="M985 2354v25m0 68v13m1370-1017v58m80-58v58m420 108v51m10-51v51m320-159v55m10 0v53m50 228v115m40-396v53m30 287v56m100-451v55m100 0v53"/>
<path stroke="#00ff00" stroke-width="10" d="M995 795v167m0 421v60m10 0v113m10 448v45m10-1259v172m0 421v60m10-60v60m10 0v58m10-711v172m10 481v58m0 590v40m10-1336v85m20-90v172m10 539v55m10-55v108m10-819v172m10 539v55m10 0v53m10 522v38m10-726v58m10-621v82m0 481v113m10-761v167m10-172v5m0 85v82m10-172v172m10-167v245m0 1009v42m10-1211v160m10-250v250m10-250v250m10-250v250m0 964v45m10-1259v172m0 1042v45m10-1087v78m10-250v172m10 224v69m10-460v85m0 82v78m20-78v78m10-250v250m10-250v250m20-245v245m10-160v82m0 293v65m10-530v325m20-325v5m0 167v78m0 1009v42m10-535v53m10-819v172m10-172v90m0 82v78m0 516v104m10-870v250m0 1164v34m10-1448v250m0 461v55m0 613v35m10-1414v250m0 516v53m10-819v250m0 461v55m10-766v250m10-250v5m0 85v82m0 539v55m20-766v172m0 481v58m10-711v250m0 461v108m10-819v250m0 461v55m10-766v250m0 461v55m10-761v85m10-90v250m0 461v108m10-819v250m10 461v55m10-766v325m0 441v53m10-166v58m10-461v75m0 1184v29m10-1213v71m0 1168v25m20-51v26m10-1314v75m10-153v78m0 403v58m10-711v250m0 516v53m10-647v78m20-250v250m0 461v108m10-569v75m0 1154v30m10-1259v75m0 441v53m10-729v160m0 516v53m10-494v71m0 1052v31m10-1083v69m10-69v69m10-69v69m20-69v69m10-215v215m10 246v55m0 682v31m10-65v150m10-1314v146m10 0v69m10-69v69m10-69v69m0 876v38m20-983v69m10 354v51m0 509v35m10-1018v69m0 914v35m10-113v78m10 0v35m10-155v42m30-836v65m0 918v31m0 59v26m10-305v82m0 38v35m10-73v38m0 35v34m10-34v34m10-107v107m10-189v82m20-945v69m10-69v69m0 794v155m10-35v69m10-107v73m10-113v40m0 38v35m10-73v73m10 34v31m10-1014v65m0 918v31m10-178v40m0 38v35m10-113v40m0 38v35m20-648v53m10 482v40m10-876v65m0 123v58m0 737v31m10-1083v69m0 876v38m10-165v165m10-78v113m10-155v155m10 0v34m10-189v120m10-38v73m10-200v127m10 38v69m10-983v65m0 979v29m0 75v44m10-243v34m10-737v55m0 613v100m10-1083v69m10-69v69m0 876v38m10-983v69m0 983v31m10 30v29m0 51v24m10-312v78m10-983v69m0 983v31m20-65v65m10 30v29m0 26v25m10-80v148m20-178v30m20-1113v69m0 949v65m10-1083v69m20-69v69m0 949v34m10-34v34m10-737v55m0 682v31m10 0v30m10-30v30m10-30v85m10-1099v65m10 236v53m0 629v31m10-1083v69m10-465v396m0 474v90m10-960v5m0 85v306m0 1083v30m10-1419v82m0 1337v29m10-1538v396m10-306v82m0 153v140m10-375v375m10-69v69m0 1073v26m10-1239v71m0 1168v25m10-1339v146m10-391v391m0 1193v24m10-1613v325m10-325v172m10-172v250m10-250v250m10-250v5m0 167v78m10-245v391m0 564v87m10-1042v460m0 1148v23m10-1631v460m10-465v250m10-250v465m10-465v250m10-250v250m10-250v172m10 153v140m10 495v87m0 566v23m10-1636v325m10-153v293m10-375v306m0 564v87m0 542v24m10-1613v5m0 85v375m10-465v465m10-375v375m0 1148v23m10-1636v5m10-5v90m10 160v215m0 495v87m10-1047v396m0 1217v23m10-1636v250m0 1339v24m10-1613v90m0 82v224m0 564v87m0 542v24m10-1613v465m10-465v5m0 85v375m10-465v325m10-325v465m10-465v396m10-146v146m0 564v87m0 542v24m10-1441v224m0 564v87m10-957v306m0 564v87m10-1047v465m10-69v69m0 1148v23m10-1464v224m10-396v396m30 945v38m20-38v38m30-120v42m10-42v42m20-42v42m10 0v40m10-40v40m10-40v78m30 35v34m10-147v78m20-78v40m50-82v42m10 40v38m10-120v42m30 40v73m10-73v38m10-78v40m10-82v42m20 0v40m10-40v40m10 0v38m30-165v87m20-87v45m10 0v42m10-42v42m10-87v87m10 0v78m10-78v40m10-40v78m20-120v42m10-42v42m10-42v120m20-78v40m10 73v34m20-147v40m10-82v42m10-42v42m10 40v38m10-120v42m20-42v82m10-40v40m10-127v45"/>
<path stroke="#00dfff" stroke-width="10" d="M995 1255v65m40-205v71m10 983v35m10-949v65m30 0v63m30-268v71m0 134v63m30 786v35m10-1018v69m0 65v63m0 821v34m20-1052v69m0 65v63m10-197v134m0 884v34m10-69v130m100 55v25m0 24v57m10-13v13m10-57v23m0 21v13m60-13v13m20-81v24m0 23v34m20-291v69m10-855v60m0 983v34m10-161v104m10-1148v65m0 1059v81m10-106v25m0 24v57m10-1274v69m0 1073v51m10-1124v65m0 1083v57m10-57v23m10-98v51m10-1193v69m0 1073v75m10-1217v69m0 1171v34m10-1274v69m10 0v65m0 1127v13m10-1274v69m10 1124v47m10-1240v69m0 1171v21m10-1261v69m0 1171v34m30-1140v63m10-63v123m30-123v123m20-257v69m10-69v69m0 1192v13m20-1140v123m10 1004v13m20-1205v65m30 123v58m10-118v60m20-60v60m20 0v58m70-118v60m100-123v63m70-63v63m40-63v63m50-63v63m10-63v63m140 0v60m10-60v60m20-60v60m120-123v63m10-63v63m60 60v58m30-181v63m70 0v60m10-60v60m10 0v113m0 53v51m10-217v58m0 159v90m10-307v58m10-118v60m10 0v58m30-58v113m0 104v90m10-90v90m10-307v113m10-113v58m10-58v58m30-118v60m10 58v55m20-113v58m10 0v55m0 104v90m10-307v58m10 0v55m0 104v90m20-90v90m20-307v58m40-58v58m10-58v58m10-58v58m20-58v58m20 0v55m10-113v113m10 53v141m10-307v58m20 108v51m10-277v60m20-188v65m20-65v65m0 632v52m10-52v52m10-621v60m20-123v63m0 513v56m10-56v56m40-697v65m10-65v128m0 569v52m10-621v60m0 217v90m0 146v56m10-766v69m10 0v65m10 0v63m10 621v45m30-863v69m0 749v45m10-666v60m10-188v65m10 0v63m10-197v69m10 128v60m0 217v90m0 146v56m10-56v56m10-697v65m20 0v63m10-63v63m20 0v60m0 509v52m10-684v63m10 569v52m10-684v63m0 569v52m10-818v69m10 0v65m10-65v65m10 0v63m0 226v141m10-430v63m0 277v90m10-495v65m0 576v56m10-697v65m10 0v63m10-128v65m20-65v65m0 632v52m10-749v65m10 0v63m0 277v90m10-495v65m10-65v65m10 0v63m10 0v60m0 509v52m10-684v63m0 621v45m10-863v69m10-69v134m0 576v56m10-632v63m0 513v56m10-697v65m0 576v56m10-697v65m20-65v65m10-65v65m10 632v52m10-684v63"/>
<path stroke="#00ff80" stroke-width="10" d="M995 1320v63m0 708v40m10-748v60m20-403v75m0 205v63m10-421v78m20 1091v38m60-38v38m10-38v38m10-786v60m0 688v38m20-1129v75m10 268v60m0 688v38m10-1129v75m10-75v75m0 1016v38m10-983v69m0 836v40m10-40v40m10 38v35m10 0v34m10-1123v71m0 905v40m10-1016v71m0 905v40m10-1016v71m0 905v40m10 0v38m10-1054v71m0 905v40m10-1091v75m10-75v146m10-146v146m0 863v42m10-1051v146m0 863v42m10 78v69m0 31v30m10-208v40m10-40v78m10 35v124m0 51v24m10-1288v71m0 983v35m10-1089v140m0 836v78m10-983v69m0 949v34m10-1198v146m10-71v71m10-146v75m20 0v71m0 1018v34m10-1123v71m10 257v58m10 737v31m30-1229v75m10 1154v30m10-1259v75m30-75v75m10-75v75m0 328v58m10 798v29m20-1142v69m0 1124v47m20-1311v71m10 257v58m0 827v26m10-1099v65m0 1059v68m10-1332v71m0 1142v26m0 72v21m20-93v25m20-936v58m30-386v71m0 257v58m10 798v29m0 26v25m20-1264v71m20 69v65m0 1008v51m10-110v110m0 24v44m10-1192v65m0 949v157m0 21v13m10-1205v65m0 918v222m10-1205v65m0 979v55m0 25v24m0 23v34m10-1205v65m10 0v63m10-63v63m10 886v30m10-856v58m10 737v141m0 24v57m20-1205v65m0 949v30m0 29v26m0 49v57m10-191v59m0 26v25m0 24v57m30-1140v63m20 886v191m40-1205v65m0 949v157m0 21v13m40-1205v65m0 918v31m0 30v104m30-49v72m20-1171v65m0 1034v25m10-80v29m0 26v25m0 68v13m10-1205v65m30 979v55m0 25v24m10-75v26m0 25v24m10-199v34m10-69v35m20-884v63m20 855v31m0 157v34m20-191v191m20-1205v65m0 918v31m0 30v161m10-1205v65m10 949v59m0 51v24m0 23v34m10-1017v58m0 902v23m20-1171v65m10 1034v25m10-1124v65m10 949v134m0 44v13m20-1140v63m10 855v116m0 25v81m20-1205v65m30 63v60m10 826v59m0 51v24m0 23v21m10-1127v63m10 886v30m20-30v30m10 0v29m0 26v49m10-1148v65m0 979v127m0 21v13m10-1205v65m0 1034v25m0 47v34m10-1205v65m0 1059v47m0 21v13m30-1140v63m20 945v132m10-161v29m10 0v51m10 47v34m20-800v90m0 604v106m10-800v90m10-90v90m10-90v90m10-495v65m10-65v65m0 1106v34m10-1205v65m0 1083v44m10-44v23m50-1171v65m0 1083v57m10-34v34m10-1205v65m0 1106v21m10-1192v65m0 430v87m10-582v65m20-65v65m10 1059v24m10-1083v63m10 0v60m10-188v65m0 1083v23m10-1106v63m0 1064v13m10-1205v65m0 1106v34m10-1140v63m0 1064v13m10-34v21m10 0v13m30-1140v63m10-128v128m20 1020v57m10-1205v65m10-65v65m0 1083v57m20-1205v65m0 1083v23m0 21v13m10-34v34m10-1205v128m0 1064v13m10-1140v63m10-128v65m0 1083v23m0 21v13m10-1205v65m0 1083v44m20-1261v197m0 1043v34m10-1274v69m0 405v90m0 604v25m0 24v23m10-1386v146m10-391v85m10-90v250m10-250v5m0 1209v45m10-1259v90m10-90v250m0 964v45m10-1169v235m10-325v250m10-250v250m10-250v250m10-250v172m0 990v52m10-1214v172m0 1042v45m10-1259v172m0 1042v45m10-1259v90m10 82v153m0 71v69m10 749v45m10 42v40m10-1341v172m10-172v5m10-5v325m10-325v5m0 85v160m20-250v5m0 167v153m0 934v42m10-1301v5m0 1209v45m10-1259v250m10 964v45m10-1087v153m10-153v153m0 71v69m10 836v40m10-1341v90m0 1169v42m10-1301v90m10-90v172m10-172v250m0 964v45m10-1169v235m0 71v69m10-465v250m0 964v45m10-1259v5m0 85v235m10-325v250m10 964v45m10 42v40m10-1341v172m10-82v160m0 75v71m0 710v56m10-1157v245m10-250v250m0 912v52m10-1214v90m10-90v172m10-172v90m10-90v90m10-90v90m20-85v245m10-250v90m10-90v90m10-90v172m10-82v235m0 71v69m10-465v90m10 1169v42m20-1296v167m10-172v250m0 912v52m10-1214v5m10 85v160m10-250v90m10-90v90m10-90v172m0 1042v45m10-1259v250m0 912v52"/>
<path stroke="#23ff00" stroke-width="10" d="M995 1443v113m10 0v53m0 482v40m10-688v113m20-113v58m10 0v108m10-166v113m0 535v40m10-630v108m30-226v60m0 648v40m10-575v53m20-166v113m0 535v40m10-575v53m40-53v53m40-819v5m10-5v90m40 306v69m10 0v65m30 684v45m10-863v69m10-465v172m0 1042v45m20-863v69m10-465v250m0 1009v42m10-1301v5m10 1254v42m30-1296v167m20 0v78m0 461v55m10 613v35m10-648v104m10-104v53m10 0v51m0 544v34m10-682v53m10-108v108m10 595v34m10-629v51m0 578v31m10-768v55m0 682v31m20-713v53m10-53v53m30 0v51m10-870v5m0 85v82m0 78v75m10 494v51m10-870v172m0 1307v30m10-1509v250m0 461v55m10-766v5m10-5v172m10-172v325m0 441v53m10-819v250m0 461v55m0 743v29m10-1538v172m0 539v55m10 713v30m10-1509v172m0 539v55m10-766v250m0 461v55m20-766v250m10-250v250m0 1229v30m10-1509v90m10 160v75m10-325v396m10-396v396m10-396v396m0 1018v34m10-1448v396m10-396v396m0 1018v34m10-1448v250m20 146v69m0 914v35m10-1414v250m10 0v146m10-396v396m20-396v396m10-396v396m10 0v69m0 876v38m10-78v78m10-165v87m10-87v165m10-983v69m10 836v40m0 38v69m10-107v38m0 35v34m20-855v60m10-257v69m0 794v82m0 38v35m10-155v155m10-113v40m10-945v69m10 836v147m10-189v155m20-155v120m10-983v69m0 794v82m10-82v42m0 40v38m10-983v69m0 794v82m40 0v38m20-1054v71m10 766v139m10 40v107m10-189v82m0 38v35m20-1018v69m0 794v42m10-482v51m10-474v69m10-69v69m0 354v51m10 431v40m10-575v53m10-423v69m10 1014v30m10-856v58m0 668v35m10-1018v69m10 914v69m30 31v30m20-168v107m10-1052v69m10-69v69m0 246v55m0 575v73m10-949v65m0 949v30m10-1044v65m0 1127v13m20-959v55m0 648v65m10-1154v71m10 315v55m10-676v160m0 75v71m10-146v146m20 0v69m10-69v69m0 949v34m10-1052v69m10 246v55m10-370v69m10 301v53m0 660v30m20-1509v396m20-391v85m10-90v90m0 82v224m0 1083v30m20-1509v90m0 82v153m10-325v90m10-90v396m10-396v325m10-325v250m10-250v5m30 1584v24m30-1613v5m10-5v5m10-5v5m10 1608v23m50-1636v325m0 635v87m10-1047v465m20-465v172m10-172v90m10-85v85m10 1523v23m10-1636v90m10 1499v24m20-1613v250m30-160v82m20-167v85m0 1499v24m30 0v23m10-1636v250m10-250v172m10-172v90m0 1474v25m20-1589v396m0 564v87m10-1047v172m10 1366v26m20-185v35m10-35v35m10-73v38m20-78v40m10 0v38m10-78v40m10-40v40m10-82v42m10 0v40m10 0v38m10-38v38m20-120v42m30 78v35m10 0v34m10-107v38m10-78v40m10 73v34m10-107v38m10-38v38m10-78v78m30-120v42m30 78v35m30-113v40m10 0v38m10-38v38m10 0v35m10-35v35m20-113v40m30-40v40m10-40v78m30-38v38m10 0v35m10-35v35m10-113v40m10-40v78m20-78v78m10-38v38m50-78v40m20-40v40m10 0v38m10-38v38m10-38v38m10-120v82"/>
<path stroke="#69ff00" stroke-width="10" d="M995 1556v53m0 440v42m30-535v53m10-53v53m20-53v53m20-166v58m0 55v53m40 0v51m0 431v40m10-575v53m10 482v40m10-522v51m0 431v40m20-40v40m20-630v55m10 448v45m30 0v42m190-482v51m170-104v104m10 639v29m10-772v53m30-53v53m0 660v30m40-690v51m30 578v31m50-768v55m0 648v34m70-1448v172m30 1169v38m40-1379v90m10-90v396m0 818v45m10-1259v396m10-396v396m10-396v90m0 82v153m10-325v465m0 128v60m10-481v224m10-71v140m0 794v42m0 40v38m10-1379v5m0 85v82m10-172v396m0 197v60m10-653v396m10-396v396m20-396v465m0 128v60m10-648v391m10-396v172m0 153v71m0 197v60m0 561v45m10-1259v396m0 197v60m10-653v250m0 75v71m0 197v60m10-653v396m10-396v396m0 197v60m10-481v78m0 146v69m0 794v82m10-1016v140m0 794v42m10-1301v325m10-325v465m30-465v325m0 441v53m10-814v460m10-465v396m0 423v51m0 344v45m10-1259v325m10-325v396m10-396v172m10-82v306m0 423v51m0 344v45m10-1259v90m0 160v75m10-325v396m0 370v53m10-819v90m0 82v78m10-250v325m0 1016v38m10-1207v224m0 983v69m10-1448v396m10-396v172m0 153v71m0 945v38m10-1379v396m20-396v396m10-71v71m0 983v69m10-1448v5m0 85v82m10-172v396m20-396v396m10-391v85m0 82v293m0 914v69m10-737v55m0 613v35m0 34v31m20-1479v396m20-396v250m30-250v90m10-90v5m0 85v82m10-172v90m0 82v78m10-250v396m10-396v396m10-391v85m0 235v71m0 1018v65m10-1479v465m20 301v53m40 660v30m20 29v26m80 0v25m50-542v59m10 483v24m10-49v25m60 0v24m70-24v24m10-24v24m50-24v24m100 0v57m120-291v35m20-73v38m10 0v35m10 34v31m40-100v35m20 0v34m10-69v35m10-35v35m20-73v38m10-38v38m110 69v31m20-220v42m40 40v38m10 0v35m10-35v35m10 0v34m10-34v34m20-69v35m10-35v35m120-35v35"/>
<path stroke="#ffca00" stroke-width="10" d="M995 1609v51m10 389v42m10-482v51m20-51v51m50 0v90m10 299v42m10-431v90m30-90v90m20-90v90m150-430v63m30-128v65m60 0v63m20 277v90m20 381v38m30 0v35m30-544v90m10-90v90m10-141v51m40 0v90m40-90v90m10 488v31m40 30v29m30-668v90m90-141v51m10-51v51m0 509v35m20-595v51m10-104v194m30-90v90m80 202v52m40 0v45m40-45v45m10-389v90m0 299v42m30-708v60m10 217v90m30-90v90m100-90v90m50-307v58m10 159v90m0 202v52m20-503v55m10 194v87m0 294v38m30-419v87m10-281v53m0 482v40m70-381v87m30 332v35m40-113v40m20-575v53m30 141v87m60 401v31m10-31v31m100-373v56m30 376v26m20-517v59m90 458v25m80-542v59m10-59v59m40 0v56m20-56v56m80 0v97m10 377v21m20-44v23m10 0v21m30 0v13m10-13v13m10-13v13m10-34v21m10-209v31m0 178v13m10-222v31m10 157v21m20-209v31m10 30v29m10 119v13m10-13v13m50-222v31m0 157v21m50-21v21m10-178v30m0 127v21m10 0v13m40-222v31m0 178v13m20-13v13m40-13v13m10-34v34m10-222v31m0 110v24m20-24v47m10-72v25m40 24v57m20-191v59m10-59v30m0 104v23m10 21v13m30-191v30m0 55v25m10-141v31m0 134v23m20-157v30m0 29v26m0 25v24m10 23v34m20-81v24m10-134v30m10-61v31m0 134v23"/>
<path stroke="#ff7000" stroke-width="10" d="M995 1660v90m30-90v90m30-90v90m60 299v42m20-42v42m10-341v87m20 212v42m20-431v90m0 299v42m10-648v58m90-246v65m20 63v60m30-123v123m60-60v60m60 217v90m20-90v90m20 0v87m10-87v146m10-236v90m20-90v90m20 0v87m40 432v30m70-639v90m0 454v34m20-578v90m10-90v90m60-194v53m10-108v55m20-55v55m30 104v90m40-194v53m10 51v90m20-249v55m10 104v90m10-90v90m40-90v90m110 254v45m160-606v58m40 108v51m0 389v42m170-535v53m40 560v35m20-648v53m10-53v53m80 629v31m40-519v87m10 432v30m30-30v30m10 0v55m60-402v52m0 324v26m20-26v26m10-26v51m10-110v59m10-491v59m20 403v55m60-55v29m10-29v29m10-491v59m20 432v26m40-55v55m30-517v59m10-59v59m60 235v38m50 257v21m10-148v29m10-90v31m0 134v23m10-23v23m10-23v23m10-47v24m40 23v21m10-119v51m10-51v26m10-85v30m10 0v29m10-59v30m0 127v34m20-161v29m0 51v24m10 44v13m40-222v31m20 59v26m0 25v47m50 21v13m10-34v21m50-93v25m10-175v34m10 141v24m30-134v85m50-26v26m40-26v26m0 49v23m40-157v59m0 51v24m30-49v25m40-80v55"/>
<path stroke="#fff" stroke-width="10" d="M995 1837v115m10-115v167m10-254v146m10-59v115m10-115v115m10-115v115m10-115v167m10-167v115m10-115v167m10-167v167m10-167v167m10-167v115m10-115v167m10-167v167m10-167v167m10-167v167m10-167v212m10-212v167m10-167v167m10-167v167m10-254v202m10-509v509m10-451v503m10-561v561m10-503v503m10-503v503m10-503v451m10-509v509m10-451v503m10-561v453m10-395v451m10-451v503m10-503v503m10-561v509m10-451v503m10-503v503m10-561v561m10-503v503m10-503v503m10-448v493m10-548v451m10-343v395m10-52v97m10-97v97m10-45v87m10-87v165m10-217v179m10-127v127m10-179v252m10-252v217m10-217v217m10-165v200m10-308v273m10-165v234m10-286v286m10-286v252m10-252v252m10-252v286m10-234v234m10-401v462m10-295v265m10-519v488m10-401v432m10-373v432m10-491v401m10-342v403m10-462v432m10-432v367m10-252v286m10-401v367m10-367v401m10-401v367m10-367v401m10-401v401m10-401v59m0 56v252m10-454v419m10-419v419m10-419v419m10-419v419m10-419v419m10-419v419m10-419v87m0 59v273m10-419v381m10-381v341m10-341v341m10-341v341m10-341v341m10-341v341m10-341v299m10-299v341m10-341v254m10-621v173m0 194v202m10-569v118m0 249v202m10-509v113m0 194v202m10-509v58m0 249v254m10-561v113m0 194v299m10-606v113m0 194v254m10-561v113m0 194v299m10-299v254m10-561v113m0 194v254m10-561v113m0 194v254m10-503v108m0 141v299m10-299v254m10-561v113m0 194v299m10-606v113m0 194v202m10-509v113m0 194v254m10-561v113m0 194v254m10-561v113m0 194v254m10-561v113m0 194v254m10-561v113m0 194v254m10-561v113m0 194v254m10-561v113m0 194v299m10-606v113m0 194v299m10-493v53m0 141v299m10-212v167m10-254v146m10-453v113m0 194v146m10-340v53m0 141v299m10-548v108m0 141v254m10-503v55m0 194v202m10-451v108m0 141v254m10-503v108m0 141v299m10-548v108m0 141v254m10-503v108m0 141v254m10-561v113m0 194v202m10-509v113m0 194v202m10-115v167m10-395v141m0 87v294m10-575v194m0 87v212m10-440v141m0 87v254m10-482v141m0 87v254m10-482v141m0 87v254m10-482v141m0 87v254m10-482v141m0 87v294m10-575v194m0 87v212m10-440v141m0 87v254m10-254v294m10-522v141m0 87v254m10-482v141m0 87v332m10-560v141m0 87v332m10-613v194m0 87v212m10-440v141m0 87v332m10-332v212m0 42v40m10-522v141m0 87v332m10-273v56m10-115v254m10-482v141m0 87v332m10-560v141m0 87v332m10-560v141m0 87v332m10-560v141m0 87v332m10-560v141m0 87v332m10-560v141m0 87v332m10-560v141m0 87v367m10-367v367m10-367v167m0 87v78m10-332v332m10-332v401m10-401v401m10-401v401m10-401v432m10-317v347m10-462v432m10-432v401m10-342v342m10-234v265m10-265v265m10-317v286m10-234v265m10-265v265m10-220v250m10-347v317m10-220v250m10-250v250m10-250v250m10-250v250m10-295v265m10-220v250m10-295v234m10-342v373m10-317v347m10-295v265m10-265v295m10-295v265m10-220v279m10-279v250m10-295v295m10-295v200m0 34v31m10-220v250m10-403v373m10-220v250m10-295v265m10-265v265m10-265v265m10-265v265m10-220v250m10-295v265m10-220v250m10-347v317m10-373v373m10-317v286m10-234v265m10-317v347m10-403v308m10-308v308m60 175v24m10-24v24m0 23v21m80-148v104m80-49v25m40-80v104m10-104v104m50-134v110m10-51v51m0 24v23"/>
<path stroke="#ffb000" stroke-width="10" d="M995 2004v45m10-389v90m40-90v90m30-90v90m0 299v42m90-431v90m10-90v90m90-495v65m10 684v45m20-729v63m30-197v69m0 697v52m30 0v45m20-666v60m60 217v90m30-90v90m30 419v35m10 0v34m60 0v31m10-609v90m10 549v29m80-719v51m40 0v90m20-90v90m0 488v31m20-768v55m0 53v51m30 0v90m10-90v90m40 341v40m10-575v53m60-53v53m20 0v141m110-90v90m40-90v90m20-90v90m70-367v60m60 217v90m20-367v60m90 307v87m60-87v87m90 332v35m30-454v87m30-228v51m0 509v35m10-454v87m50-87v87m10 432v30m30-462v59m20 403v29m20 0v26m30-517v59m30-59v59m0 458v25m60-483v56m20-115v59m30-59v59m10 432v26m10 0v25m60-542v59m20-59v59m30 432v26m20-517v59m30-59v59m10 153v82m0 197v26m20 72v21m30 0v13m30-34v21m10-21v21m20-21v21m10-44v44m20-209v31m10 110v24m10 23v21m10-21v21m10-21v21m20-209v31m0 178v13m30-57v23m10-188v31m0 157v34m10-222v31m0 110v24m10 44v13m10-222v31m30 0v30m0 127v21m20-278v35m40 222v21m20-119v26m10-150v34m0 141v24m10-24v68m10-44v23m10-157v30m10-30v30m0 80v24m10-165v31m10 30v29m0 51v24m10-134v85m10-55v80m0 24v23m20-157v30m10-30v59m0 26v25m10-51v75m10-75v26m10-55v29m0 98v21m10-68v24m40-49v25m10-80v29m0 26v25m10-110v30m10 0v104m10-134v30m0 29v26m10-55v29"/>
<path stroke="#00a0ff" stroke-width="10" d="M995 2169v69m0 31v30m0 55v49m10-1217v69m10-140v71m10 0v69m0 949v124m0 26v25m10-1193v69m0 1044v29m10 75v23m10-222v150m0 93v13m20-1205v65m0 884v34m20 31v59m0 51v24m20-1217v69m0 949v34m10 0v116m10-150v34m10-918v63m20-197v134m0 884v34m0 116v25m10-1124v65m0 918v31m10-31v116m0 72v34m10-13v13m220-1274v134m0 949v30m0 29v119m20-1127v123m0 1004v13m20-1140v123m10-123v63m0 1043v34m20-1140v63m10-197v69m0 128v60m0 960v57m10-57v57m20-1140v123m10-60v60m10-123v63m0 1064v13m10-1077v60m0 983v34m10-1140v123m10-123v123m20-123v123m80-188v65m0 63v60m30-123v123m30-123v63m100 0v60m120 166v51m10-51v51m130-51v51m10-51v51m160-217v58m60-58v58m50-58v58m30-58v58m30-118v60m80 0v58m50-58v58m10-118v60m10 58v55m10-55v55m20-55v55m20 53v51m10-159v55m0 104v90m10-307v58m10 0v55m0 104v90m10-90v90m30-194v53m10-53v53m30-108v55m0 104v90m10-249v55m10-113v58m20 55v53m10-108v55m0 104v90m30-194v53m10-53v53m20-166v58m10 0v55m10 0v104m10 0v90m10-249v55m0 104v90m20-249v55m20-55v55m0 104v90m20-194v53m0 51v90m20-141v51m10-159v55m30 0v53m30-226v60m0 509v52m10-621v60m0 217v90m10-430v63m10 277v90m10-307v58m0 395v56m10-451v55m0 194v87m10-454v60m20 0v58m10 159v90m10-90v90m0 146v56m10-56v56m20-202v87m10-582v65m0 576v56m10-632v63m0 621v45m10-666v60m10-60v60m10 0v58m0 395v56m10-509v58m0 395v56m20-451v55m0 281v59m0 56v52m10-344v90m10-367v60m0 217v90m20 87v59m10-395v55m10 448v45m10-666v60m0 509v52m10-621v60m10-60v60m0 217v90m20 0v87m10-454v60m0 217v90m0 146v56m10-509v58m0 395v56m10-569v60m0 217v90m20 254v45m10-440v51m10 90v87m10-394v58m0 108v51m0 90v146m10-236v90m10-90v90m10-367v60m10 217v90m0 146v56m20-569v60m0 217v90m10-430v63m10 60v58m10-118v60m0 217v90m10-90v90m10-367v60m0 217v90m0 146v56m10-509v113m10-173v60m10 509v52m10-684v63m10 0v60m0 217v90m10-90v90m20-307v58m0 249v87m10-517v63m10-63v63"/>
<path stroke="#0080ff" stroke-width="10" d="M995 2238v31m0 59v26m0 93v13m10-1205v65m0 884v34m0 116v25m10-1193v69m10 1124v47m0 21v13m10-291v130m0 29v26m0 49v57m10-1274v69m0 949v175m10-25v25m0 24v44m10-1261v69m0 949v124m10-90v90m20 26v25m0 24v23m0 21v13m10-1205v65m0 884v34m10 188v21m10-93v49m0 23v34m10-1205v65m0 918v31m10-1083v69m0 949v34m10-983v65m10 918v90m10-59v134m10-49v72m230-1106v123m0 1004v13m50-1077v60m30-188v128m10-128v128m50-128v128m120-63v63m240 173v53m30 0v51m50-51v51m30-51v51m30-51v51m10-51v51m250-217v58m30-58v58m70-118v60m70 0v58m10-58v58m50-118v60m0 58v55m10-113v113m10-55v55m10-113v58m10 108v51m20-159v55m10 0v53m10-53v53m10-53v53m10-53v53m10-108v55m0 104v90m20-249v55m10-55v55m0 104v90m10-194v104m30-159v108m0 51v90m10-194v53m20-53v53m0 51v90m10-249v55m0 104v90m10-194v53m10 0v51m30-104v53m20 0v51m10-104v53m10-108v55m0 104v90m10-90v90m20-194v53m80-53v104m50-159v55m20-113v58m10 159v90m10-307v58m10-118v60m0 217v90m0 146v56m10-569v60m0 453v56m10-451v55m0 53v51m0 177v59m10-340v53m0 228v115m10-509v58m0 55v53m10-166v58m20-118v60m0 58v55m10-173v60m10-60v60m0 217v90m10-367v60m0 217v90m0 146v56m10-396v53m0 228v59m10-576v63m10 0v60m10 217v90m0 146v56m10-292v90m0 202v52m10-503v108m10-108v55m0 281v59m10-576v63m10 173v53m10-226v60m10 0v58m0 336v59m50-453v58m0 159v90m10-90v90m20-307v58m0 55v53m0 141v87m0 59v56m10-451v159m0 177v115m10-509v58m10 55v53m0 141v87m10-394v58m0 395v56m10-632v63m0 513v56m10-632v63m10 0v60m0 394v59m10-59v59m10-340v53m10-226v118m10-118v60m10 166v51m0 90v87m10-454v60m10 217v90m30-249v108m0 141v146m20-513v60m10 0v58m10 249v202m10-292v90m10-430v63m10 277v90m10-307v58m0 55v53m0 141v146m10-513v60m10-60v60m0 217v90m10-194v53m0 228v59m10-513v60m0 217v90m10-367v118m0 108v141m10-367v118m0 159v90m10-307v58"/>
<path stroke="#0060ff" stroke-width="10" d="M995 2426v21m10-209v116m0 25v47m10-295v168m0 55v25m10 47v21m10-93v49m10-24v24m10-24v24m10-75v26m0 25v24m0 23v34m10-106v72m0 21v13m10-1205v65m0 918v90m0 51v47m10 0v21m10-1261v69m0 983v31m0 157v21m10-1192v65m0 918v90m0 26v25m10 24v23m10-157v85m0 25v81m10-106v25m10-141v61m0 29v51m0 68v13m10-132v26m0 25v24m0 44v13m10-34v21m330-1064v60m480 166v51m60-51v51m30-51v51m10-51v51m30-51v51m160-277v60m10 0v58m10-58v58m40-118v60m30 0v58m60-58v58m40-58v58m80-58v58m20 55v53m10-108v55m10 0v53m10-53v104m10-104v53m50-53v104m10-104v104m50-51v51m90-104v53m10 0v51m10-51v51m20-51v51m50-104v104m10-104v104m10-51v51m10-104v104m10-104v104m10-51v51m30-104v53m10-53v53m40-108v55m20-113v58m10 249v202m10-509v58m10-58v58m10 249v87m20-336v55m0 53v51m0 90v87m10-336v55m0 53v51m0 90v146m10-340v104m0 90v146m10-453v58m0 55v104m0 177v59m10-453v58m0 55v53m0 141v146m10-453v58m0 336v59m10-453v58m10 0v55m0 53v51m10 0v90m10-90v90m10-307v58m10-58v58m10 249v146m10-340v53m10-226v60m0 217v90m0 202v52m10-395v51m0 90v87m0 59v56m10-509v58m10 0v55m0 194v87m10-517v123m0 217v90m10-249v159m10-104v104m10-277v60m20 0v58m0 395v56m10-509v113m10-55v55m0 281v59m20-395v55m10-55v55m0 53v51m20-277v60m0 217v90m10-367v60m0 217v90m0 202v52m10-503v55m10-113v113m10-55v55m10 53v51m0 90v146m10-59v59m10-453v113m0 281v59m10-453v58m0 55v53m10-226v60m0 394v59m10-453v58m0 108v51m0 236v56m10-569v60m0 217v90m0 146v56m20-509v58m0 108v51m0 90v146m10-59v59m10-395v55m0 53v51m10-104v53m10-166v58m0 336v59m0 56v52m10-344v90m10-367v60m0 166v51m10-159v55m10 53v51m10 90v87m10-336v55m0 53v51m10-51v51m10-159v55m10 281v59m10-395v55m0 53v51m0 90v146"/>
<path stroke="#00ffa0" stroke-width="10" d="M1005 1040v75m0 1016v38m10-1207v78m0 1009v42m20-771v63m0 708v40m20-1091v75m0 205v63m10-343v75m0 1016v38m10-1129v75m0 1016v38m10-1129v75m10-75v75m0 205v63m20-343v75m0 268v60m10-403v75m10-75v75m10-75v75m20-75v75m10 268v60m10-123v63m10-343v75m10 1016v73m0 34v31m10-31v61m10-61v116m0 72v21m10-278v35m10-73v38m10-38v38m10 0v35m0 34v31m10-138v38m10-78v78m10-120v42m10 0v40m10-40v78m10 69v31m0 30v127m0 21v13m10-329v73m10-35v35m10 124v51m0 24v57m10-256v65m20-31v31m10-220v82m10 38v159m10-885v58m0 590v40m30 107v31m10-65v34m10-1123v71m10-71v71m0 1083v30m20-61v31m30-1154v71m0 257v58m10-386v71m40-71v71m10 1240v34m20-132v119m10-93v72m0 21v13m10-13v13m10-106v72m10-1240v69m0 1124v24m0 23v21m10-1261v69m0 1124v81m20-1345v71m0 1113v29m10-1213v71m0 1113v29m10 0v119m20-1261v69m0 1073v26m0 25v68m10-148v29m10-885v58m20 768v59m0 51v81m10-1205v65m10 1106v21m10-1004v58m10 768v30m0 55v25m0 24v23m10-157v85m0 49v57m30-1205v65m0 849v35m0 34v31m0 30v148m30-1127v63m10 60v58m10-246v65m20-65v128m100 226v51m10 743v57m20-1205v65m10-65v65m50 0v63m30-63v63m10 886v59m0 26v25m0 24v23m0 21v13m10-256v199m0 23v34m40-1205v65m30 0v123m20-123v63m30 0v60m30-123v63m10-128v65m0 1083v44m10-1127v63m10 0v60m30 856v127m10-1106v63m10 0v60m20 885v51m0 24v23m0 21v13m20-161v29m0 51v24m0 44v13m30-222v61m0 29v26m0 49v57m10-34v21m30-1127v63m10-63v63m40-128v65m0 181v55m0 772v75m0 44v13m10-81v81m10-851v141m10-495v65m10-65v65m0 289v51m20-340v63m20 226v141m10-430v63m10-63v123m0 1004v13m10-1205v65m0 1106v34m10-81v24m10-1148v65m0 1083v23m10-1171v65m0 1106v21m10-1192v65m10 0v63m10-63v63m10-63v63m0 1064v13m10-34v21m10-21v34m10-57v23m10 0v34m20-1077v60m20 983v21m10-1064v60m10-123v63m10 0v60m10-123v63m0 1064v13m10-1140v63m10 1020v23m10-1171v65m10 63v60m10 983v34m10-1205v65m0 1083v23m0 21v13m10-1205v128m10-63v63m0 1043v34m10-1140v63m10-128v65m0 1106v21m10-1127v63m0 1043v21m10-1127v123m10-60v60m10-60v60m10-123v63m0 1043v21m10-1127v63m0 1064v13m10-1077v60m20-188v65m0 1059v24m0 23v34m20-1670v5m0 85v235m0 934v42m10-1051v146m10-391v320m10-235v235m0 889v45m10-1009v146m10-71v205m0 729v42m10-1051v146m10-146v75m0 71v69m10-215v146m0 766v52m10-1042v153m10-153v153m10-153v153m10-235v235m0 889v45m10-934v71m10-396v172m10-172v250m10-78v153m0 889v45m10-1254v391m0 863v42m10-976v140m0 749v45m10-1009v215m10-465v172m0 1087v42m10-976v205m10-525v320m10-75v75m10-325v250m10 75v140m0 697v52m10-889v71m0 69v65m10-530v250m10-160v235m10-235v235m0 889v45m10-1087v153m10-75v146m10-71v71m10-146v75m10 0v140m0 749v45m10-1009v75m10-325v250m10-250v250m10-78v78m0 856v56m10-912v75m10-75v146m10-146v75m10-235v235m0 837v52m10-1042v224m10-306v160m10-160v235m10-235v235m0 889v45m10-1259v250m0 964v45m10-1009v215m10-375v235m10-235v235m10-153v153m10 0v71m10-306v235m10-325v172m10-172v250m0 912v52m10-1042v224m0 766v52m10-964v75m10-320v320m10-75v146m10-306v235m10-235v160m0 912v52m10-1042v153m10-75v146"/>
<path stroke="#00ffff" stroke-width="10" d="M1005 1320v63m0 786v35m10-113v40m10-876v65m0 849v35m10-949v65m0 811v38m30 0v35m20-1089v71m20-71v71m10 983v35m50-884v63m10 821v34m70 90v26m0 25v81m10-34v34m20-222v222m20-256v150m0 25v24m10-134v30m0 29v119m10-209v165m0 23v21m30 0v13m30-191v85m0 25v68m20-209v141m0 24v23m20-1311v71m0 945v38m10-983v134m0 949v30m0 29v98m10-1240v69m0 188v58m0 768v30m10-856v58m0 798v80m10-1193v69m0 1044v55m10-55v29m10-1142v69m0 1099v49m10-1217v69m0 1099v49m10-1288v71m0 1113v29m10-29v29m10 75v23m10-23v57m10-1274v69m0 1171v21m10-1064v60m0 911v72m10-1311v71m0 1142v51m10 24v23m10-72v72m10-1106v181m10-58v58m0 853v49m0 23v21m30-1064v118m10-246v188m10 0v58m10-181v123m10 983v34m10-132v26m0 49v23m10-1043v60m0 1004v13m10-1205v65m10-134v69m0 1171v21m10-1127v123m20-257v69m0 1171v34m50-1140v63m20-63v63m30-63v63m10 0v60m30-123v63m10 0v60m40-123v63m60-63v63m10-63v63m60-63v63m10-63v63m10-63v63m40-63v63m10 0v60m10-60v60m10-188v65m80 63v60m30-60v60m90-60v60m20-60v60m30-123v63m20-63v63m10 0v60m40-60v60m10-60v60m40 58v55m10-173v60m30-123v63m20-63v63m10 0v60m10-60v60m30 217v90m50-367v60m10-60v60m20 0v58m50-58v58m20 159v90m10-249v55m20-113v58m40-58v58m10-118v60m0 1004v13m10-1077v60m10 0v113m0 104v90m10-307v58m50-118v60m20 0v58m10-58v58m0 159v90m10-90v90m10-307v58m20 0v55m0 104v90m10-367v118m20-246v128m0 367v87m10 167v45m20-863v69m10 0v65m10 0v63m0 569v52m10-621v60m0 561v45m20-729v63m10-63v63m0 513v56m10-697v65m0 576v56m10-697v65m0 632v52m10-52v52m30-889v71m10 0v69m20 0v65m10 0v63m0 569v52m10-684v63m30-197v69m10 0v65m10-205v71m10 134v63m10 0v60m0 217v90m10-564v69m10 0v65m10-65v65m10-65v65m10 0v63m0 569v52m10-684v63m10-128v65m0 632v52m10-684v63m10-128v65m10 632v52m10-818v69m20 0v65m40-65v65m20-134v134m20-134v69m40 0v65m0 632v52m20-749v65m50-134v69m0 697v52m10-684v63m0 569v52m20-818v69m0 641v56m10-697v65m10 576v56"/>
<path stroke="#a9ff00" stroke-width="10" d="M1005 1609v51m10-104v53m60 0v51m10-51v51m0 431v40m10-630v108m40 0v51m20-51v51m90 344v45m40-863v69m10 697v52m40-818v69m30 749v45m50 0v42m70-482v51m40 609v30m20-61v31m10-31v31m140 0v30m20-690v51m220-104v53m40-53v53m40-53v53m340 141v87m70 332v35m10-454v87m150 462v29m40-578v87m0 491v26m10 0v25m10-25v25m60 0v24m80-24v24m60-24v24m50-49v25m30-25v25m30 0v24m10-49v25m40 0v24m60-199v34m30 0v31m30-100v35m10-35v35m30 0v34m10-69v35m40 34v31m10-65v34m20 0v31m10-31v31m60 0v30m60-95v34m10-34v34m90-69v35m10 0v34m30 0v31m30-65v34m10-34v34m20 31v30m10-61v31m30-100v35m30 0v34m10-69v35m10 0v34m10-69v35"/>
<path stroke="#ff4b00" stroke-width="10" d="M1015 1660v90m70 299v42m10-431v90m10 0v87m0 167v45m10-299v87m10-177v90m30 0v87m40-336v108m50-226v60m10-60v60m10-123v63m30 0v60m50-60v60m30 0v58m40 336v59m10-236v90m10 0v87m30-87v87m0 59v56m30-115v115m10-56v108m30 234v31m20-432v59m10-146v87m30-87v87m20-177v90m20 488v31m20-609v90m60-90v90m40 419v35m10-648v53m10-53v53m10-53v53m10-53v53m30 0v51m20 0v90m10 341v40m20-630v55m10 0v53m20 343v52m20-52v52m30-344v90m10-90v90m110 254v45m20-389v90m10-90v90m20-307v58m30 395v56m110-396v53m30-53v53m200 560v35m150 65v59m10-90v31m20 0v59m30 26v25m10-25v25m20-51v26m10-55v29m10-29v29m30-491v115m0 402v25m20-483v56m30 376v51m50-51v51m10-110v59m10 0v26m20-26v26m30 0v25m10-51v26m30-458v56m0 376v26m10-517v59m20 342v31m10 30v29m10-29v29m20-59v30m10-30v30m20 148v13m30-222v31m10-31v31m30 0v30m20-30v59m10 26v49m40 0v23m10-98v51m10-80v29m30-29v80m10 47v21m20-93v25m50 47v21m10-178v30m0 104v23m10-157v30m0 127v21m20-178v134m20-165v31m20 0v59m80-29v29m0 51v24m40-49v49m40-75v51m30-51v26m0 25v24m40-49v25"/>
<path stroke="#ffe500" stroke-width="10" d="M1025 1609v51m30 389v42m70-42v42m30 0v40m40-748v60m20 561v45m50-97v52m10-684v63m40-63v63m90 0v60m210 826v30m10-639v90m30 519v30m20-61v31m80-609v90m20-249v55m10 53v51m50-159v55m40 53v51m20-217v58m40 159v90m40-90v90m10 254v45m30-389v90m100-194v53m0 51v90m10-90v90m0 299v42m10-648v58m20 108v51m10 0v90m20-367v60m0 217v90m10-90v90m0 254v45m10-606v58m20 503v45m20-666v60m30 307v87m20 254v40m20-381v87m20-336v55m10 194v87m60-87v87m50-281v53m20-53v53m10 141v87m30-87v87m130 0v59m10-59v59m10-59v59m10-59v59m10 0v56m0 402v25m60-542v59m10-59v115m40 402v25m30 0v24m10-507v56m30-56v56m50-115v59m40-59v59m90 373v30m0 148v13m10-13v13m10-222v31m0 157v21m10-209v31m0 178v13m10-222v31m40-65v34m10-34v34m0 209v13m20-13v13m10-13v13m10-256v34m80 31v30m10 148v13m50-161v29m10 119v13m20-13v13m20-222v31m40-31v31m0 157v21m10-148v29m10 75v23m0 21v13m10-291v35m10 0v34m10 165v44m10-209v31m0 134v23m10 0v34m10-191v30m0 127v21m10-209v31m0 110v24m10-134v30m10 0v104m10-165v31m10-31v31m0 134v23m10-188v31m10 157v34m20-132v51m0 24v44m10-119v51m10-141v31m0 30v55m0 25v24m10 23v34m10-222v31m0 110v47m30-157v30m10-61v31m0 134v23m10-23v23m10 0v34"/>
<path stroke="#ff2600" stroke-width="10" d="M1025 2004v45m60-299v87m0 167v45m20-97v52m10 0v45m20-299v87m20 212v42m30-87v45m20-729v63m50 569v52m20-561v58m10-181v63m70-63v63m10 0v60m20 0v58m20-58v58m10 395v56m20-115v59m0 56v52m10-254v87m10-87v87m10 0v59m0 56v52m20-254v87m0 332v35m40-454v87m20 367v34m10-342v56m10-115v59m10-146v87m30-177v90m30-90v90m60 488v31m10-519v87m140-336v55m20-55v55m10 0v53m50-226v60m110 509v52m100-448v53m30 440v42m20-648v58m70 55v53m0 51v177m20 212v42m50-535v53m180-53v53m70 141v87m10 432v30m40-61v31m10 30v55m20-458v56m30 0v52m10 295v29m20 0v26m20-55v29m10-59v30m10-347v52m10-108v56m60 402v25m20-51v51m10-427v52m10-52v52m20 295v29m30-432v56m0 347v55m30-55v55m10-26v26m30-55v29m10-29v29m10-432v56m0 402v25m10-542v59m10 373v30m10-130v35m10 124v51m0 24v23m20-127v29m20-59v30m60-30v30m10-30v30m40 104v23m10-23v23m10-47v24m70-134v30m10 104v23m10 0v21m30-44v23m10-157v30m10-95v34m70 31v85m10 0v25m10-51v26m80 0v25"/>
<path stroke="#e2ff00" stroke-width="10" d="M1045 2049v42m40-590v55m20 53v51m20-51v51m20 0v90m40-141v51m50-405v65m20-65v65m60-65v65m20 684v45m30-794v65m10 0v63m30-63v63m0 621v45m20-440v51m0 389v42m210-482v51m50 578v31m80-100v35m20-35v35m50-113v40m30-40v40m80-575v53m50-53v53m30-53v53m110 51v90m10-367v60m0 166v141m100-141v51m0 292v52m60-254v87m10 254v40m20-381v87m0 212v42m60-341v87m20-281v53m20 560v35m20-454v87m10-87v87m10-87v87m60-87v87m130 517v25m20-542v59m40 483v24m50-49v25m80-542v59m0 458v25m160-80v29m20 26v25m20-141v31m60-65v34m40-34v34m30 188v34m60-191v30m0 127v34m20-256v34m20-34v34m0 209v13m110-222v31m10 134v23m0 21v13m10-34v21m10-278v35m30 0v34m60 188v34m40-222v31m20 178v13m10-191v59m0 75v44m10-243v34m0 165v57m10-256v34m10-34v34m10 0v31m0 178v13m20-34v21m10-243v34"/>
<path stroke="#8cff00" stroke-width="10" d="M1075 1501v55m10-113v58m10-58v58m70 55v53m10 0v51m10-104v53m20 343v52m40-749v65m160-65v65m50 289v51m20-51v51m10 544v34m10-629v51m40-51v51m0 609v30m20-690v51m10-51v51m50-51v51m10-51v51m30-51v51m50-51v51m100-159v55m50-55v55m20 535v40m80-1341v172m0 421v60m10-653v325m0 268v60m30-60v60m40-653v5m0 761v53m60-819v172m0 78v146m0 197v60m10-653v325m0 268v60m10 606v42m50-1301v5m50-5v90m50-90v172m60-172v325m50-325v5m0 85v82m10-172v465m0 949v34m120-1448v5m0 85v235m0 386v55m30 648v34m80 61v29m40 0v26m60 25v24m40-24v24m110-24v24m40-49v25m70-25v25m40-629v87m20 542v24m20-199v34m20-34v34m30-69v35m10-35v35m90 0v34m80-69v35m10-35v35m10-35v35m20 0v34m10-34v34m20-147v40m10 38v35m30 0v34m30-107v38m10-78v40m10 0v38m10 0v35m10-35v35m60-35v35m40 0v34m30-69v35m10-35v35m20 0v34"/>
<path stroke="#3200be" stroke-width="10" d="M1145 2447v13m2040-904v53m10 0v51m390-51v51"/>
<path stroke="#0020ff" stroke-width="40" d="M940 3380v88"/>
<path stroke="#0000ff" stroke-width="40" d="M940 3468v39m0 259v26"/>
<path stroke="#3e0078" stroke-width="40" d="M940 3507v37m0 165v29m0 452v27"/>
<path stroke="#2d0056" stroke-width="40" d="M940 3544v36m0 599v11"/>
<path stroke="#1c0034" stroke-width="40" d="M940 3580v129"/>
<path stroke="#3200be" stroke-width="40" d="M940 3738v28m0 307v18"/>
<path stroke="#0060ff" stroke-width="40" d="M940 3792v26"/>
<path stroke="#00ff80" stroke-width="40" d="M940 3818v45m0 171v20"/>
<path stroke="#46ff00" stroke-width="40" d="M940 3863v44"/>
<path stroke="#8cff00" stroke-width="40" d="M940 3907v29"/>
<path stroke="#c6ff00" stroke-width="40" d="M940 3936v28"/>
<path stroke="#ffff00" stroke-width="40" d="M940 3964v26"/>
<path stroke="#a9ff00" stroke-width="40" d="M940 3990v23"/>
<path stroke="#23ff00" stroke-width="40" d="M940 4013v21"/>
<path stroke="#00c0ff" stroke-width="40" d="M940 4054v19"/>
<path stroke="#0e001a" stroke-width="40" d="M940 4091v88"/>
<path stroke="#000000" stroke-width="20" d="M970 3380v837"/>
<path stroke="#0020ff" stroke-width="10" d="M985 3380v88m0 586v19m10-693v88m10-41v80m0 259v26m10-408v84m0 298v26m10-408v43m10-47v4m10-4v4m0 84v39m10-123v84m10-88v4m10-4v4m10 0v123m10-127v4m10 354v28m10-382v84m0 586v19m10-689v123m0 231v54m10-365v41m10-88v47m0 339v52m10-434v84m10-88v4m0 43v80m0 259v26m10 262v19m10-693v4m10 0v43m10-47v4m0 84v76m10 0v36m10-73v37m10-76v39m10-80v41m10 76v36m10-200v88m10 39v37m0 490v20m20-627v80m10 0v37m0 36v35m10-147v39m10-80v80m10-123v84m0 39v37m10-76v39m10-123v84m10 0v39m10-39v76m10 71v33m20-221v41m20-88v4m0 43v41m10 0v39m0 231v28m10-382v123m10-123v43m0 41v39m10-80v41m10-41v80m10-127v4m0 43v41m20-41v80m10-127v88m10 0v39m0 231v28m10-386v88m10 0v39m0 231v28m10-339v80m0 231v28m10-259v37m20-37v37m10-76v39m0 231v28m10-386v4m0 354v28m30 372v15m10-444v29m10-358v4m10-4v88m0 298v26m10-408v43m0 41v39m0 259v26m10-412v4m0 382v26m0 316v15m10-616v37m10 564v15m20-743v4m0 43v80m0 231v28m10-386v47m0 41v39m10 0v37m20 36v35m10-71v36m10 35v33m10-104v36m10 129v29m10-194v71m0 476v17m10-493v33m10-141v73m0 511v17m30-640v112m10-73v73m10-36v36m10 511v17m10-601v73m0 474v19m10-307v26m20-248v71m10-71v36m20 0v68m10-68v35m10-35v35m20-35v35m60-35v35m10-35v35m30-35v35m10-108v73m10-73v37m0 36v35m0 64v30m10-165v36m10 410v23m10-506v37m20 71v33m10-180v39m10 37v36m10 0v35m10-35v35m10-71v36m10-73v108m10-147v39m0 37v36m20-73v73m10 186v26m10-177v33m0 386v20m10-20v20m10-474v35m10 0v33m0 90v28m10-186v99m10-64v33m10-68v68m10-141v37m0 71v33m10-33v33m10-141v37m0 319v73m20-321v33m10-141v141m10-104v104m10-141v37m0 319v44m10-327v35m10-108v37m0 36v35m10-71v71m10 123v28m10-259v37m0 36v35m0 248v44m10-400v37m10 36v35m10-71v71m10-71v71m10-35v35m0 177v26m10-26v26m10-274v71m0 458v18m20-18v18m10-584v37m0 36v35m10-108v141m10-141v37m0 36v35m0 508v30m10-773v47m0 436v44m0 231v15m10 13v13m20-316v44m20-527v88m10-88v4m80 0v43m0 436v44m0 259v13m10-799v4m0 479v44m30-527v47m20 436v44m0 259v13m10-316v44m10-44v44m30-44v44m20 246v13m20-786v88m10 711v11m10-806v43m10-47v4m10 0v84m0 76v36m20 283v44m20-44v44m50 259v13m230-106v18m80-18v18m10 17v15m60-15v15m40-15v15m90-32v17m20 0v15"/>
<path stroke="#1900de" stroke-width="10" d="M985 3468v39m0 259v26m10 281v18m10-353v28m10-259v37m10 222v26m10-324v39m0 259v26m20-324v39m0 231v28m50-386v4m0 43v41m10 0v39m0 231v28m20-298v39m30 231v28m10-339v41m10 0v39m10 259v26m60-408v123m10-39v39m40 683v12m50-695v37m30 658v10m10-705v37m0 510v19m10-566v37m10-37v37m30-37v37m10-37v37m20 194v28m10-28v28m10-298v39m0 259v26m20-324v39m0 231v28m10-57v29m0 353v17m20 0v15m10-616v37m20 668v5m30-710v37m0 165v29m10-311v80m0 231v54m10-285v37m20 658v10m10-744v39m10 616v15m10-631v37m0 579v15m10-711v41m0 270v28m20-259v37m0 658v10m10-503v29m20-29v29m30-123v33m20 61v29m50-123v33m20 542v27m10-126v17m10-17v17m10-528v35m10 0v33m10-68v35m10 0v33m0 144v26m0 255v18m10-299v71m10-248v33m10-68v35m80 0v33m10 554v10m10-10v10m10-22v12m30-587v33m20-33v33m10-68v35m20-35v35m30 0v33m10 0v31m0 87v26m10-248v71m60 64v30m10-94v33m20-33v33m40 61v29m0 335v18m30-443v31m10-31v31m20-31v31m30-31v31m10-31v31m10-135v36m0 35v33m10 0v31m10-31v31m20-31v31m0 375v19m30 0v18m20-18v18m10-443v31m10 444v15m0 64v15m10-569v31m10-31v31m10 523v10m10-564v31m10-31v31m0 429v15m10-475v31m0 474v13m0 13v11m10-763v41m0 350v45m10-356v73m10-200v47m0 41v39m0 356v44m0 272v11m10-810v88m0 685v13m10-786v47m10 41v39m10-80v41m0 76v36m10-153v41m0 39v37m10-160v43m10-47v47m10-47v47m0 80v37m10-160v43m0 41v76m0 319v44m10-527v4m0 43v41m10 76v36m0 599v11m10-763v41m0 39v73m10-36v71m0 564v11m20-810v4m0 43v80m0 356v44m10-327v35m10-147v39m0 659v13m10-752v41m0 76v36m10-200v4m0 123v37m10-164v88m0 76v36m10-112v39m0 73v35m0 551v13m10-795v43m0 41v39m0 37v71m10-35v35m10-108v37m10-117v41m10-88v4m0 43v41m0 39v37m0 622v24m10-646v104m10-221v80m10-80v41m0 39v108m10-35v35m10-35v68m10-268v4m0 84v39m10-127v164m0 622v13m10-795v43m0 153v35m20-235v88m10 395v44m10-480v41m10-88v4m0 782v13m10-795v84m10-88v47m0 739v24m0 12v10m10-785v41m0 39v37m10-164v4m0 43v41m0 623v17m10 0v15m10-743v4m20-4v88m0 39v37m30-164v4m0 84v76m10 564v15m20-743v164m20 564v15m20-739v43m10-43v43m20-43v43m0 80v37m10 564v15m20-743v47m40-47v4m20 724v15m20-739v43m0 41v112m50-200v47m0 41v76m10-164v4m0 196v35m30-235v4m0 43v41m10-88v4m0 43v41m0 39v37m20 529v18m10-711v4m10 43v41m20-88v4m10 724v15m10-743v47m0 41v39m10-127v47m0 80v37m10-164v47m0 41v112m10-196v160m0 547v17m10-728v4m0 43v80m10 584v17m20-640v39m0 601v15m10-743v47m0 664v17m10-728v88m20-88v4m0 43v41m10-84v84m0 39v37m10-164v4m0 43v41m0 76v36m20-200v47m0 41v39m0 37v36"/>
<path stroke="#2d0056" stroke-width="10" d="M985 3507v37m0 165v29m0 441v11m0 12v10m10-632v35m0 564v11m10-646v104m0 518v13m10-599v99m0 412v17m0 15v30m10 49v10m10-632v35m0 64v30m0 481v27m10-673v135m0 412v17m0 30v15m0 26v11m10-646v71m0 33v31m0 429v30m10-631v37m0 165v57m0 424v12m10-493v29m0 441v11m10-646v71m0 587v10m10-668v36m0 622v15m10-710v37m0 658v10m20-668v36m0 493v18m0 62v13m10-428v28m10 446v5m10-109v15m10-579v36m0 68v31m0 412v17m0 30v15m0 26v11m10-683v37m10-37v37m0 104v31m0 30v29m0 441v11m0 22v5m10-673v71m20 523v15m10-99v19m10 50v15m0 15v26m10 33v5m30-38v11m0 22v5m10-126v17m0 58v13m0 11v12m10-94v45m20 26v11m10-11v38m10-27v22m50-121v99m10-24v13m10 0v11m0 12v10m10-564v61m0 470v11m0 12v15m10-27v12m10-554v31m0 474v13m0 36v10m10-668v36m0 158v28m0 436v10m10-22v12m10-658v36m0 35v33m0 61v29m0 441v23m10-148v19m0 106v11m10-575v33m0 531v23m10-493v29m10-29v29m0 428v13m0 11v27m10-710v37m0 135v30m0 457v13m0 11v12m10-523v30m0 399v15m0 30v26m0 23v10m10-46v24m0 12v15m10-38v11m10-646v36m10 0v35m0 538v26m10-599v35m0 33v61m10-129v35m0 551v24m10-646v36m0 599v23m10-658v36m0 68v31m0 523v10m10-503v29m10-123v94m0 429v15m10-573v129m10-94v64m10-172v37m0 135v30m0 503v5m10-673v36m10-36v36m0 632v5m20-538v30m0 470v11m10-610v35m0 33v31m0 444v15m0 52v12m0 10v5m10-673v36m0 99v30m0 470v11m10-646v36m0 599v11m10-11v23m10-64v15m0 13v24m10-542v61m0 414v15m0 28v13m30-500v30m0 414v15m0 64v10m10-533v30m0 470v38m20-569v31m0 523v10m10-33v11m10 12v10m10-533v30m0 399v71m10-531v31m0 429v15m10-475v31m10-31v31m0 523v15m10-126v17m0 94v10m10-564v61m0 470v23m10-523v30m10-61v61m10 382v17m0 30v15m0 37v12m10-410v26m0 361v11m0 12v15m10-569v31m10 0v30m0 83v71m0 191v19m0 35v15m0 30v26m0 11v12m10-523v30m0 345v19m10 117v27m10-38v11m10-511v30m0 83v26m0 305v15m0 41v11m10 12v10m10-533v30m0 345v54m0 45v26m10-531v61m0 304v21m0 57v17m10-429v30m0 470v11m10-511v30m0 399v15m0 30v26m10-500v30m0 345v84m0 28v13m10-531v31m0 511v12m0 10v5m10-425v26m0 394v5m10-569v31m0 511v12m0 10v5m10-538v30m0 364v18m10-443v61m0 325v20m0 125v11m20-424v26m0 281v18m0 47v15m0 26v11m10 0v12m10-554v31m0 87v52m0 216v20m0 125v11m10-511v30m0 481v22m10-533v30m0 345v19m0 106v23m10-148v19m0 35v58m20-400v26m0 387v11m0 12v10m10-533v30m0 83v26m0 305v15m0 74v5m10-538v30m0 83v26m0 361v11m0 12v10m10-533v30m0 57v26m0 398v12m0 10v5m10-569v31m0 334v21m0 178v5m10-451v26m0 387v33m10-533v30m0 345v19m0 18v17m10-342v26m0 398v27m10-569v31m0 113v26m10-139v30m0 444v13m10-487v30m0 444v13m10 24v12m0 10v5m10-126v17m0 15v30m0 26v23m10-12v12m10-523v30m0 29v28m10-87v30m0 493v10m10-533v30m0 29v28m0 436v10m10-89v15m0 15v13m0 24v22m10-10v10m10-104v30m0 28v24m10-99v32m0 30v26m10-500v30m0 503v5m10-5v5m20-538v30m0 364v18m0 99v12m10-148v19m0 117v22m10-533v30m0 364v18m10-412v59m0 335v35m0 15v15m0 15v13m20 0v24m10-99v17m0 82v12m10-523v30m0 493v10m10-533v30m0 382v17m0 15v30m10-444v29m0 370v15m0 79v10m20-533v87m0 26v26m0 273v17m0 94v10m10-503v57m0 26v26m0 335v37m10-481v83m0 316v15m0 15v15m10-474v30m0 29v28m0 325v32m0 67v12m10-523v30m0 444v13m0 13v11m0 12v10m10-503v109m10 348v13m10-500v30m0 29v28m0 446v5m10-538v59m0 452v22m10-564v31m0 139v45m0 303v13m10-531v31m0 500v11m0 12v10m10-474v28m0 52v45m10-184v30m0 29v28m0 26v26m10-139v30m0 29v80m0 394v5m10-569v31m0 487v36m10-12v12m10-554v31m0 511v12m0 10v5m10-15v10m10-564v31m10 30v57m0 436v15m10-538v87m10-87v30m0 57v26m0 398v22m10-597v64m0 511v12m10-554v31m0 500v23m10-493v29m0 54v26m0 384v15m10-399v45m10-125v28m0 26v26m0 372v12m0 10v5m10-569v31m10-31v31m0 139v45m0 339v10m10-533v30m10 493v15m10-399v45m0 316v23m0 10v5m10-569v31m10 87v26m10 0v26m0 372v12m10-464v28m10-87v30m0 493v15m10-538v59m0 28v26m0 26v45m0 316v11m10-511v30m0 83v26m10-52v52m10-170v31m0 500v11m0 12v15m10-538v30m0 109v45m0 327v12m10-36v24m0 22v5m10-51v13m10-470v29m0 441v11m0 12v10m10-564v31m0 511v12m10-554v31m10 0v30m0 481v22m10-33v23m10-554v31m10 0v59m0 252v23m0 41v37m10-443v31m0 59v28m0 52v89m0 106v21m10-355v30m0 29v28m0 26v26m0 45v44m0 57v49m0 41v54m10-370v28m10-186v35m0 33v61m0 227v98m10-386v61m0 29v28m0 52v45m0 44v29m0 54v83m10-425v31m10-135v104m10 61v29m0 198v28m0 49v78m10-476v94m10-165v36m0 35v33m10 61v57m0 26v71m0 44v57m0 26v64m0 19v18m10-412v59m0 28v52m0 216v20m10-474v35m0 33v31m10-64v64m10 0v59m0 335v18m10-325v97m0 44v29m0 28v26m0 23v60m10-458v64m0 139v45m0 210v18m10-382v57m0 97v44m0 29v28m0 70v39m20-458v64m10 30v29m0 80v45m0 44v57m10-384v35m10 0v64m0 30v29m0 54v26m0 45v44m0 83v23m10-398v64m0 375v37m10-443v90m0 316v37m10-443v31m0 30v83m0 26v89m10-292v94m10-129v35m0 33v61m0 325v20m10-262v172m10-316v31m0 394v35m10-460v61m0 281v23m0 60v18m10-476v33m0 31v30m10-61v31m0 87v26m0 144v28m10-285v30m0 57v97m0 44v57m0 70v20m10-375v30m0 255v70m0 39v35m10-460v31m0 257v28m0 26v23m10-398v64m0 30v29m0 353v17m10-429v59m0 28v52m0 118v54m0 23v21m10-296v28m0 198v26m20-342v31m0 311v23m10-433v35m0 64v30m0 83v26m0 89v29m10-257v30m0 304v21m10-386v31m0 139v45m0 210v18m10-127v26m0 64v19m10-458v33m0 31v30m0 109v45m10-97v141m0 29v28m0 26v83m0 18v17m10-370v54m0 71v44m0 29v28m0 26v23m0 21v20m0 19v18m10-325v52m0 118v28m0 109v18m20-412v30m0 57v52m0 118v77m0 21v20m0 19v18m10-511v99m0 113v26m10-203v33m0 31v30m0 57v26m0 26v45m0 101v49m10-304v29m0 125v101m0 49v21m0 20v54m10-429v30m0 325v20m10-375v59m0 169v57m0 26v23m0 41v37m10-476v123m0 28v52m10-203v64m0 87v26m0 172v26m0 23v21m0 57v17m10-399v83m0 71v73m0 28v127m10-325v26m0 26v45m0 44v29m0 54v83m10-566v37m10 363v57m0 26v118m10-493v33"/>
<path stroke="#1c0034" stroke-width="10" d="M985 3544v165m10-165v36m0 68v61m10-61v31m0 412v17m0 30v28m0 13v11m10-82v15m0 30v26m10-672v73m10-36v36m0 35v33m0 425v18m0 17v15m0 15v28m10-487v30m0 399v30m0 15v26m10-564v33m0 443v17m10-528v35m0 64v30m0 503v5m10-637v129m0 414v15m0 28v13m10-564v33m0 443v17m0 30v15m0 13v24m10-575v64m20-135v135m0 394v18m0 32v30m0 13v13m10-599v129m0 382v17m0 58v13m10-635v36m0 511v17m0 104v5m10-673v36m0 129v29m0 452v22m10-668v36m0 68v31m0 412v17m0 15v56m10-599v68m0 460v15m0 30v13m10-457v29m0 441v23m0 10v5m10-673v71m0 64v30m0 364v18m0 99v12m10-587v64m0 30v29m0 370v30m10 15v37m10-136v19m0 18v47m0 15v13m10-93v35m0 30v15m0 13v13m10-106v18m0 88v11m10-52v15m0 26v33m10-10v10m10-22v27m20-144v18m0 17v45m0 26v11m10-117v35m0 58v13m10-125v37m0 17v15m0 30v26m10-106v18m0 17v15m0 15v15m0 13v13m10-88v17m0 58v13m10-71v15m0 56v11m10-136v19m0 50v67m20-117v35m0 58v13m10-125v19m10 0v18m10 0v17m0 15v30m0 26v11m10-610v35m0 439v19m0 18v32m0 15v41m10-564v33m0 443v62m10-609v36m0 129v29m0 400v28m0 13v11m0 12v10m10-632v68m0 31v30m0 345v19m0 35v45m0 13v13m10-599v35m0 94v29m0 452v12m10-587v33m0 31v59m10-59v30m10-129v35m0 33v61m0 364v18m10-547v71m0 64v30m0 345v37m0 47v28m0 36v10m10-668v36m0 610v12m0 10v5m10-673v71m0 64v30m0 364v18m0 88v11m10-11v11m0 12v10m10-668v135m0 444v15m0 52v12m10-658v36m0 543v15m0 52v12m10-658v104m0 31v30m0 414v30m10-573v35m10 0v94m10 429v15m10-538v64m0 474v13m10-551v94m10-129v68m0 518v24m50-24v13m0 11v12m10-523v30m0 493v15m20-673v36m10 0v99m0 474v13m10-551v33m0 505v13m10-586v99m0 444v15m10-490v61m0 414v30m0 13v13m10-635v135m10-31v61m10 399v15m10-444v30m0 481v12m0 10v5m10-538v30m0 399v15m0 30v13m0 13v11m10-52v52m10-52v15m10 37v22m20-89v56m10-531v61m20 429v15m10 26v23m0 10v5m10-538v30m0 457v36m10-12v12m0 10v5m10-79v28m10 13v11m0 12v10m10-74v15m0 26v11m0 22v5m10-538v30m0 414v15m0 15v13m0 13v11m10-542v31m0 87v26m0 221v21m0 132v13m0 11v12m10 0v10m10-139v35m10-35v18m0 17v58m0 13v11m10-511v30m0 457v13m10-387v26m0 236v19m0 18v17m10-74v39m0 18v17m0 30v15m10-505v31m0 87v52m0 255v18m0 17v15m0 56v11m10-156v20m0 54v45m0 26v11m10-24v13m10-125v125m10-125v54m0 15v30m10-15v15m10-474v30m0 83v26m10-139v30m0 382v17m0 58v36m10-523v30m0 470v11m10-156v39m0 50v67m10-117v18m0 17v15m0 43v13m10-413v26m0 410v15m10-569v31m0 355v20m0 37v47m10-459v30m0 57v26m0 410v15m10-204v21m0 20v19m0 18v17m0 15v30m10-387v26m0 316v15m0 56v11m10-24v13m10-88v17m0 58v13m20-531v31m0 511v12m0 10v5m10-79v15m0 13v46m10-158v19m0 50v30m0 13v13m10-531v31m0 113v26m0 290v15m0 43v24m0 12v10m10-446v26m0 398v22m10-564v31m0 533v5m10-183v20m0 54v15m0 15v41m10-531v61m0 83v26m10 0v45m0 339v15m10-163v19m0 18v32m0 15v15m0 13v24m10-136v19m0 50v30m0 13v24m10-511v30m0 382v17m0 45v13m0 13v11m10-37v26m10-441v28m0 357v15m0 15v13m0 13v11m10-99v17m0 58v24m10-52v28m0 24v12m0 10v5m10-109v15m0 56v23m10-493v57m0 372v15m0 13v13m10 33v5m10-126v17m0 30v28m10-428v28m0 413v11m10-117v18m0 99v12m10-464v28m0 307v18m0 88v23m10-523v30m0 503v5m10-508v29m0 385v15m10-459v30m0 470v11m10-82v45m0 26v11m10-52v15m0 13v13m10-500v30m0 481v22m10-503v29m0 370v45m10-30v15m0 41v11m10-67v15m0 74v5m10-64v26m10-441v28m0 372v28m0 13v11m20-424v26m0 316v30m10-15v30m10 0v13m10-457v29m0 28v26m0 346v15m10-444v109m20 361v11m0 12v10m10-503v29m0 28v52m10-52v97m10 327v27m30-508v29m0 28v26m0 26v45m10-45v45m10-97v26m10-113v30m0 57v52m10-139v30m0 57v26m0 26v45m10-71v26m0 394v5m10-538v30m0 29v28m0 436v15m10-538v30m0 57v97m10-97v52m0 372v12m10-493v29m0 54v26m10 361v11m10-481v57m0 52v45m0 339v15m10-479v28m10 413v38m10-538v30m0 493v10m10-503v29m0 428v36m10-12v12m0 10v5m10-508v57m0 26v26m10-139v87m0 26v26m10-139v59m0 54v26m10 0v45m0 316v23m10-523v87m0 26v26m10-109v29m0 80v45m20-154v29m10 0v28m10-57v57m20-87v59m10-29v83m0 410v10m10-564v61m0 481v22m10-564v31m0 500v23m10-464v28m0 400v13m0 11v12m0 10v5m10-38v11m10-11v11m0 22v5m20-538v30m0 29v54m0 420v5m10-538v59m10 28v26m0 26v45m0 44v83m0 44v20m10-345v29m0 169v29m0 28v49m0 21v20m0 19v18m10-325v26m0 115v57m0 70v20m10-288v26m0 26v89m0 57v109m0 18v17m10-399v83m0 71v73m0 118v19m10-364v29m0 54v26m0 45v44m0 57v26m10-311v59m0 296v20m20-316v28m0 26v26m0 146v49m10-275v28m0 26v26m0 118v28m10-384v35m0 476v17m10-54v19m10-335v28m0 141v29m0 28v26m0 23v21m10-355v30m0 83v26m0 45v44m0 29v28m0 49v21m0 57v17m10-429v59m0 296v20m10-316v28m0 26v144m0 77v21m10-44v23m10-334v30m0 304v21m10-268v26m0 198v44m10-454v35m0 64v30m0 57v26m10-113v30m0 154v44m0 166v18m10-412v30m0 57v26m0 172v49m10-398v94m0 29v28m0 198v26m10-83v29m0 28v26m0 23v41m0 19v18m10-412v30m0 227v28m0 70v20m10-191v44m0 57v26m0 44v20m0 37v17m10-316v26m0 118v54m0 23v41m10-262v26m0 216v39m0 18v17m10-399v29m10 226v49m10-398v33m0 31v30m10 0v57m0 26v26m0 89v29m0 77v41m0 37v17m10-460v31m0 311v44m10-355v30m0 281v23m0 78v17m10-399v57m0 97v44m0 57v49m0 41v19m10-364v57m0 52v89m0 29v28m0 70v39m10-394v59m0 54v144m0 155v17m10-429v30m0 227v54m0 44v20m10-316v28m0 52v45m0 127v23m0 41v37m10-382v29m0 54v26m0 118v28m0 49v41m10-439v123m0 353v17m10-429v30m0 29v28m0 97v44m0 29v54m0 44v20m10-345v57m0 170v28m10-255v304m0 21v57m10-382v57m0 97v73m0 77v60m10-394v30m0 57v26m0 26v89m0 29v28m0 26v64m10-316v28m0 26v26m0 45v44m0 29v28m0 26v118m10-370v28m0 141v29m0 137v18m10-273v45m0 101v26m0 64v19m0 18v17m10-245v44m0 127v39m10-364v29m0 28v26m0 26v146m0 49v78m10-353v28m0 52v118m0 77v21m0 20v19m0 18v17m10-342v26m0 71v44m0 57v26m0 23v21m0 39v18m10-228v73m0 77v41m0 19v18m10-353v54m0 26v45m0 101v26m10-252v54m0 71v73m0 28v26m0 23v21m0 39v18m10-353v80m0 146v26m10-252v28m0 52v45m0 44v29m0 137v18m10-382v57m0 170v28m0 26v23m0 21v20m0 19v18m20-353v28m0 26v26m0 45v44m0 57v26m0 101v17m10-493v94m0 364v18m10-228v44m0 57v26m10-342v31"/>
<path stroke="#0000ff" stroke-width="10" d="M985 3738v28m10-298v39m0 259v26m30-412v4m0 43v41m0 586v19m10-689v84m10-41v41m20-41v41m10-84v123m10 566v18m10-664v80m10-123v43m0 252v59m10 28v26m20-412v47m10 0v80m10-39v39m0 259v26m20-412v47m10-43v43m0 339v26m10-365v80m50 0v37m10-164v4m10 629v21m10-650v43m20 80v37m10 0v36m10-153v41m0 39v37m10-37v37m10-76v39m20-127v4m0 84v39m0 527v20m10-547v37m20 0v71m20-147v39m10 231v28m10-298v39m0 259v26m30-412v4m0 43v41m0 298v26m10-324v76m0 222v52m30-438v88m10-84v43m30 282v57m0 342v15m20-414v29m20-231v37m0 165v29m10 0v28m30-386v47m0 681v15m10 67v12m0 10v5m10-508v29m10-231v37m10-160v43m0 664v17m10-640v39m10-80v41m10-84v43m0 41v39m50-80v41m10 241v29m0 385v15m10-523v33m20-33v33m20-33v33m10-141v108m20 94v29m10-158v35m10 0v33m10-33v33m0 531v11m10-610v35m10-35v35m10-108v37m40 71v33m10 342v23m10-506v37m0 274v45m10-248v33m10 118v26m10-177v33m0 118v26m10-177v33m10-33v33m20-33v33m20-33v33m10-33v33m10-33v33m0 554v10m20-597v33m0 170v45m0 171v20m20-439v33m30 342v23m60-506v37m10 36v35m10 0v33m20-68v35m20-35v35m20-35v35m10-35v35m20 0v33m0 144v26m10-203v33m10 0v31m40-99v35m0 439v19m10 0v18m10-547v104m0 425v18m20-18v18m30-511v35m20 0v33m0 90v28m10-151v64m20-135v36m0 35v33m0 406v19m10-425v31m10-64v64m10-64v64m10-31v31m10 87v26m10-144v31m0 87v26m0 398v12m10-587v33m30-33v33m20-104v36m0 35v33m10-180v39m10-127v127m10-80v41m30 39v108m10-231v43m0 436v44m10-527v4m0 84v39m10-127v4m0 769v13m20-739v41m0 395v44m0 259v13m10-13v13m10-795v43m0 480v29m0 243v11m10-810v127m0 356v44m10-527v4m0 84v39m0 672v11m10-806v160m10 622v13m10-13v13m10-752v153m0 586v13m10-799v4m0 43v41m0 395v44m10-523v43m0 41v39m10 646v13m10-13v13m10-786v88m0 39v37m10-164v4m0 782v13m10-799v88m10 395v44m0 246v13m10-786v47m0 41v112m0 238v45m10-479v43m0 41v39m0 356v44m10-439v76m0 319v44m0 272v11m10-283v29m10-556v4m0 84v39m10-123v123m0 659v13m10-711v76m10-160v84m0 685v13m20-786v4m0 754v15m20-685v39m0 646v13m30-303v44m10-527v4m20-4v4m30 724v15m40-32v17m30 0v15m40-15v15m20-743v4m0 43v80m90 601v15m80-15v15m200-32v17m80-17v17"/>
<path stroke="#0080ff" stroke-width="10" d="M985 3792v26m20-26v26m10-26v26m30-26v26m0 255v18m50-18v18m10-299v26m20 236v19m40-281v26m0 236v19m30-281v26m20-203v33m20-268v4m50-4v4m10 196v35m30-71v36m0 454v20m20-510v36m20-36v36m10-36v36m50 454v20m70-262v26m0 216v20m30-288v26m30-26v26m10-408v43m0 339v52m10-434v43m20 681v15m10-15v15m10-331v26m0 273v17m10-728v4m0 724v15m10-743v4m0 43v80m10-123v43m0 41v39m10 566v18m20-299v26m0 290v15m20-331v26m10-80v54m10-26v26m30-412v4m0 43v41m0 270v28m10-298v76m0 165v29m20-29v29m0 353v17m20-640v39m10-123v43m0 646v18m40-623v39m10-39v76m10-117v41m10-41v41m10-41v41m0 241v29m10-270v39m20-39v39m30 506v21m20-527v73m0 238v45m30-395v39m10-39v39m0 311v45m10-356v37m20-37v37m0 222v26m0 242v20m10-586v76m40-76v39m0 506v21m30-44v23m40-545v39m0 311v45m20-319v36m10-153v41m20 0v39m0 311v45m20 127v23m10-195v45m20-395v39m20-39v39m10 37v36m0 186v26m20-324v39m20 547v19m30-605v39m10 356v73m30-73v73m10-468v39m10-39v39m20-39v39m10 527v20m20-586v39m0 356v44m50-141v26m10-324v39m10-39v180m20-180v76m10-76v39m20-80v41m10-88v88m20 685v13m30-28v15m30 0v13m10-28v15m10 0v13m20-13v13m20 0v13m30-41v15m10-15v15m30 0v13m30-303v44m0 246v13m10-13v13m20-28v15m10-290v44m0 231v15m10 0v13m20 0v13m10-316v44m10 246v13m20-303v44m0 231v15m20-30v15m10 0v15m20-15v15m10-15v15m30-15v15m10-45v15m30 15v15m30-45v104m10 0v5m20-94v67m10-37v13m0 24v12m20-94v15m10 0v56m0 23v10m10-89v43m0 13v38m20-126v17m10 15v15m0 15v37m30 0v12m80-111v17m40 15v30m0 26v11m10-67v56m0 11v12m0 10v5m40-94v56m0 11v22m30-74v15m0 26v11m0 12v10m40-104v15m80-15v15m10 0v15m40-30v15m40 56v11m20 22v5"/>
<path stroke="#00ff40" stroke-width="10" d="M985 3818v45m0 150v21m40-21v21m30-44v23m20 0v21m10-216v45m20 0v44m50 106v21m10-216v45m40-154v29m20-123v64m10-64v33m10 31v59m0 275v21m10-296v28m0 198v26m10-26v26m10-342v61m10-94v33m10 365v21m20-21v21m10-386v90m0 275v21m10-355v59m10-123v64m20-64v94m0 304v21m10-386v31m20 0v30m0 325v20m10-64v23m50-195v45m40 127v23m10-23v23m20-221v26m40 236v19m20-19v19m30-210v44m0 83v23m10-221v26m10 0v45m30-45v45m30-45v45m30 150v21m10-21v21m10 20v19m20-255v45m10-45v45m10 228v17m10-290v45m20-45v45m10-45v45m20 210v18m10-299v26m0 236v19m10-19v19m10-255v45m20 171v20m10-236v45m10-125v28m120-57v29m40-29v29m70 0v28m100 52v45m20 101v26m20 23v21m10-296v28m20 0v26m0 26v45m30-97v26m40 242v20m100-288v52m100 118v28m0 109v18m40-155v28m20-28v28m20 159v15m10-30v15m10-216v29m10 28v26m40-54v28m0 159v15m30-174v26m10-54v28m40 127v17m30 0v15m10-216v29m10 155v17m40 15v15m20-231v29m0 172v15m30-216v29m10 137v18m50-155v28m20 49v21m0 39v18m300 32v30"/>
<path stroke="#23ff00" stroke-width="10" d="M985 3863v44m10-44v44m20 127v20m10-64v23m10-23v23m20-195v45m20 0v44m40-89v45m30 44v29m10-118v45m20 127v23m10-150v44m10-44v44m10 106v21m10-44v23m10-275v28m10 247v21m10-296v28m30 198v26m10-281v57m30 224v23m10-49v26m20 0v23m10-275v28m20-28v28m0 224v23m10-304v57m10 224v23m10-49v26m10 0v23m10-150v44m10-89v45m10 44v29m0 54v23m10-150v44m0 57v26m10-127v44m0 83v23m10-195v45m0 127v23m20-106v57m10 0v26m10-83v29m10-118v45m0 101v26m10-127v44m10 83v23m10-150v44m0 83v23m50-23v23m50-150v44m0 29v28m10 26v23m10-150v44m0 83v23m10-77v54m20 0v23m10-195v45m20 127v23m30 41v19m40-39v20m130-345v29m50 0v28m10-57v57m10-28v28m10-57v29m10 0v28m50-28v28m10-28v28m0 224v23m10-304v29m10-29v57m20-57v29m30-29v57m10-28v28m10-57v29m20-29v57m0 198v26m10-281v57m10-57v57m10 198v26m30-281v57m10-57v29m60 296v20m30-288v26m0 26v45m10-97v26m30-26v26m10-26v52m0 216v20m10-262v71m10-97v26m10 26v45m50 171v20m10-236v45m0 44v29m20-118v45m70 101v26m10-54v28m50 127v17m20-118v23m30 95v15m10-159v26m0 101v17m10-144v26m10 23v21m10-44v23m10-49v26m0 118v15m10-159v26m0 118v15m10-32v17m40-118v23m20-49v26m10-54v28m20 127v17m20-172v28m10 0v26m20 23v21m10-98v28m0 127v17m10-172v28m10 144v15m10-187v28m10 127v17m10-172v28m10 26v23m40-23v23m10-23v23"/>
<path stroke="#a9ff00" stroke-width="10" d="M985 3907v29m0 28v26m10 0v23m10-106v29m10 77v21m20-70v26m20-127v44m10 29v28m10-57v29m0 28v26m10 0v23m30-49v26m20 0v23m30-23v23m10-77v28m10-28v54m10-54v28m40 26v23m30-275v28m20 224v23m20-275v28m40 198v26m30-26v26m40-83v57m150 0v26m10-127v44m0 83v23m10-23v23m40-150v44m0 57v26m10-83v29m0 77v21m10-171v44m0 83v23m50-77v54m10-54v28m10-28v28m50 70v20m70-20v20m20-20v20m190-90v26m120 0v23m200-195v45m60 150v21m90 0v20m40 0v19m70-60v21m10-44v23m10 60v18m50 0v17m70-74v20m10 19v18m10 0v17m30-118v23m40-23v23m10-23v23m30 0v21m20-44v23m20-23v23m40 41v37m20-18v18m10-78v21m0 39v18"/>
<path stroke="#c6ff00" stroke-width="10" d="M985 3936v28m10-28v28m10 26v23m10-77v28m10-28v28m10-57v29m30 28v26m10-54v28m10-28v28m10 0v49m20-106v29m10-29v29m20 28v26m10-83v29m0 28v26m10-83v29m30 28v26m10-224v26m20 172v26m30-224v26m0 144v28m10-57v29m30-198v28m60 170v28m210-28v28m0 26v23m10-106v83m50-83v29m10 0v54m10-83v57m210-146v45m40 150v21m10-70v26m120-26v26m70 0v23m40-49v26m300 23v21m90-98v28m70 0v26m10 64v19m10-83v23m30 0v21m0 20v19m40-83v23m10 21v20m10 19v18m10-78v21m10 0v20m20-41v21m0 57v17m10-95v21m0 57v17m10-54v37m50-37v19m10 0v18m20-78v21m60 0v20m30 37v17m20-35v18m10-127v26m10 23v41m10-64v23m10 21v39m10-39v39m10-60v21m10 0v20"/>
<path stroke="#46ff00" stroke-width="10" d="M985 3990v23m10 0v21m10-171v44m10-44v44m20-44v44m10-44v44m20 83v23m20-150v44m0 106v21m20-98v28m10 26v23m10-150v44m10 29v28m0 49v21m30-171v44m30 0v29m30 54v23m50-275v28m20 198v26m10-26v26m10-252v28m10-28v28m20-28v28m20-28v28m20 247v21m40-127v57m10 0v26m10-54v54m20-83v29m0 28v26m10-26v26m10-127v44m0 57v26m20-127v44m0 29v28m10-101v44m20 57v26m10-127v44m0 57v26m20 44v20m10-236v45m10 0v44m0 127v20m10-191v44m0 83v23m10-150v44m40-89v45m10 44v29m10-29v57m10-57v29m0 28v26m10-83v29m10 77v21m10-216v45m10 127v23m10-150v44m0 57v49m10-150v44m10 127v20m10 0v19m20-19v19m180-335v28m10-28v28m50-28v28m10-57v29m10 0v28m10-57v57m10-57v57m40-28v28m50-57v29m30 0v28m110-28v28m20 97v44m10 127v20m10-288v97m10-97v26m0 115v29m10-144v26m10-26v26m30-52v26m20 26v45m10-97v26m30-26v52m10-52v26m0 26v45m10-45v45m80 73v28m20-146v45m10 73v28m30 0v26m10-26v26m0 101v17m10-118v23m20-23v23m10 95v15m20-159v26m10-26v26m10 23v21m20-44v23m10 95v15m20-133v23m10-23v23m30-49v26m10 101v17m20-35v18m30-101v23m10-49v26m30 101v17m10-144v26m20-26v26m20-54v28m10 109v18m10-127v26m30-26v26m10 101v17"/>
<path stroke="#00ffff" stroke-width="10" d="M985 4034v20m20 0v19m20-39v20m50-20v20m10-316v28m10-57v29m110 316v19m10-39v20m30-20v20m10-474v35m60 0v33m0 386v20m90-316v28m40 52v45m60-71v26m10 172v23m10 0v21m10 0v20m10 19v18m10-18v35m20-316v26m30 273v17m30 15v15m10-30v15m30-50v18m20 17v15m30-331v26m10-26v26m0 236v19m10-281v26m0 273v17m20-342v26m10-26v26m20-26v26m20 281v18m10-353v28m20 0v26m10-412v4m10 354v28m20-28v28m0 26v26m20 195v21m10-216v45m10-97v26m30-412v4m10-4v4m0 629v21m10-21v21m40-654v47m20-47v88m10-88v88m0 350v45m10-483v88m0 350v45m10 127v23m30-633v47m0 586v21m50-216v45m20-483v4m10-4v88m0 545v21m70-70v26m40-610v47m10-47v4m10 354v28m10-386v4m50-4v47m20-47v47m10-47v4m70-4v4m20-4v4m20 479v44m30-527v47m10 436v44m30-44v44m10-44v73m10-118v45m20 260v15m20-30v15m70 0v15m50-231v29m0 202v15m10-246v29m50 172v15m50-15v15m20 0v15m10 15v13m20-43v15m30-30v15m10 0v15m10-47v17m70-172v28m170 215v11m50-99v17m0 58v24m10-37v13m10 36v10m10-104v58m40 0v24m20-67v30m180 59v5"/>
<path stroke="#000000" stroke-width="10" d="M985 4073v18m0 17v45m10-15v28m30-551v33m0 425v106m10-88v17m30-17v47m0 15v26m10-88v32m0 15v28m10-13v13m10-58v82m10-575v33m0 443v111m10-94v15m20-543v35m0 94v29m0 370v94m10-94v45m30-505v31m0 394v106m10-71v45m10-15v41m10-71v15m0 15v15m20-45v15m20-69v84m0 15v26m10-125v148m0 10v5m10-183v74m0 15v43m10-112v19m0 18v47m0 28v13m50-106v18m0 17v45m10-99v37m0 32v30m0 13v13m20-125v136m0 12v10m10-59v13m60-112v69m0 43v13m20-88v17m0 15v67m10-99v62m0 13v24m10-117v35m0 30v15m10-30v15m10 28v13m10-599v99m0 375v136m10-82v58m10-622v71m0 476v32m10 15v15m10-573v35m0 523v28m20-13v13m40-28v28m10-28v15m10-573v129m0 429v64m0 10v5m40-637v68m0 460v45m10-538v33m0 490v41m10-599v35m0 64v30m0 429v28m10-551v64m0 459v41m0 11v12m40-49v13m10-28v15m0 13v13m30-56v30m30 13v13m10-71v82m0 22v5m10-109v71m20-71v15m0 30v26m30-71v15m0 15v41m10-71v15m0 15v28m10-58v71m20-88v47m20 28v13m10-125v69m10-89v168m0 10v5m20-51v13m10-387v26m0 236v19m0 18v75m0 13v11m10-117v18m0 75v13m10-26v13m10-132v20m0 37v17m0 15v30m20-99v37m30 62v13m10-93v18m0 17v58m10-112v19m10-19v54m0 30v28m30-487v30m0 83v26m0 195v166m0 11v12m10-189v21m10 0v156m10-82v15m10-89v20m0 19v35m0 15v15m0 15v26m10-88v32m20-444v30m0 57v52m0 195v177m10-156v57m0 17v15m0 15v28m10-132v74m10-17v17m10-95v78m0 47v28m10-132v89m0 30v13m0 13v11m10-177v41m0 19v35m0 15v30m0 13v13m20-166v95m0 15v30m10-99v19m0 35v82m30-117v18m0 17v15m20-15v15m10-414v29m0 370v30m0 15v13m10-428v28m0 342v15m0 43v13m10-56v30m20-444v29m0 353v99m30-481v57m0 342v15m0 15v52m10-481v29m0 353v17m0 15v43m10-457v29m0 353v88m10-88v17m10-399v29m0 335v18m0 17v58m10-13v13m20-457v29m0 353v99m20-481v29m10 415v37m20-67v15m20 15v13m30-374v26m0 335v13m30-457v109m30-109v83m10-83v57m0 26v26m40-26v26m10-109v29m0 474v5m10-508v29m0 54v26m10-109v29m0 28v26m10 0v71m40-184v184m10-97v52m20-80v54m10-26v26m0 26v45m10-184v30m0 29v80m10-109v57m0 26v26m40-109v29m0 54v26m40-80v125m40-97v26m10 0v26m10-80v54m10-83v154m10-71v26m10-80v54m0 26v45m10-154v154m0 339v10m10-446v26m0 420v5m10-508v29m10 0v28m40 307v18m30-325v52m0 89v29m10-198v275m0 21v39m20-210v44m0 57v49m0 21v39m10-281v262m0 19v18m20-18v18m10-382v57m0 52v45m0 44v29m0 54v23m0 41v37m10-299v26m0 118v98m0 39v18m10-325v26m0 198v23m20-150v44m0 29v28m20-255v57m0 26v71m0 44v201m10-399v29m0 169v106m0 21v20m20-345v29m0 28v26m0 71v101m0 49v41m0 19v18m20-382v29m0 54v26m0 89v29m10-198v28m0 26v26m0 172v23m20-247v26m0 115v29m0 77v21m10-242v26m0 118v28m0 26v44m20-296v125m0 101v70m0 20v19m20-166v29m0 98v57m10-382v29m0 169v29m0 118v19m30-109v26m10-198v26m0 45v73m30-198v275m0 21v57m10-78v21m10-268v26m0 26v45m0 101v49m20-49v26m10-198v26m70-109v29m0 198v28m0 70v20m40-20v20m10-90v49m30-77v28m10-255v281m0 23v21m20-325v29m0 28v268m0 20v37"/>
<path stroke="#0e001a" stroke-width="10" d="M985 4091v17m0 45v26m10-564v33m0 443v47m0 28v13m10-71v30m10 41v11m10-610v35m0 33v61m0 470v11m10-542v31m0 444v15m0 28v13m20-125v37m0 47v15m10-609v36m0 35v64m0 394v18m0 47v15m0 26v11m10-646v36m0 493v18m0 121v5m10-109v30m10-558v35m0 575v12m10-658v71m0 33v31m0 533v5m10-126v17m0 45v13m10-58v45m10-538v94m10-129v129m0 444v37m10-610v68m0 425v18m10 32v15m0 28v13m10-635v104m0 31v30m0 493v10m10-597v33m0 443v17m0 45v26m10-500v30m0 470v11m10-117v35m0 15v15m0 52v12m10-129v18m0 75v13m10-56v15m0 15v13m10-58v15m0 15v15m30-45v15m0 43v13m10-106v18m0 47v28m20-112v19m0 80v13m10-75v17m0 15v30m10-99v19m0 18v17m0 15v15m0 15v13m10-112v19m0 80v13m10-75v17m0 45v13m10-93v50m10 67v12m0 10v5m10-163v19m0 35v45m10-80v80m0 13v13m20-106v18m0 17v15m0 30v13m10-93v18m0 32v15m10-558v35m0 458v18m0 62v26m10-599v129m0 414v15m10-65v35m10-493v94m0 399v15m0 89v5m10-637v35m0 33v31m0 394v18m0 62v13m0 46v5m10-637v35m0 33v31m0 429v30m0 15v26m10-564v33m0 443v32m0 15v41m10-531v31m0 412v47m10-459v30m0 493v10m10-597v64m0 375v19m0 18v17m10-493v64m0 444v43m0 46v5m20-602v94m10-61v31m0 474v26m10-564v94m0 429v15m0 13v13m10 0v11m20-511v30m10-129v35m0 551v13m10-500v30m0 444v13m10-622v36m0 543v15m0 64v10m40-668v36m0 68v31m0 474v13m0 13v11m0 12v10m10-632v35m0 33v31m0 500v23m10-587v64m0 487v24m10-610v35m0 64v30m0 414v15m0 41v11m0 12v15m10-51v13m10-500v30m0 429v15m10-15v41m10-599v68m10 31v30m0 414v15m0 15v13m10-13v13m10-28v15m10-45v15m0 30v37m10-67v30m0 13v13m20-56v15m0 15v13m10-518v61m10-30v30m0 470v11m20-67v30m0 26v11m30-511v30m0 414v15m10-15v15m10-490v61m0 470v11m10-82v30m0 28v13m10-531v31m0 459v41m10-71v30m0 15v26m20-145v20m0 69v43m10-487v30m0 83v26m10 305v30m0 26v11m10-99v17m10-35v18m10-57v20m0 54v58m10-93v18m0 17v15m0 43v13m10-500v30m0 345v19m0 80v26m20-145v20m0 54v58m20-132v20m20-20v39m0 18v17m0 58v24m10-117v18m0 17v58m10-374v26m0 216v20m0 54v30m0 28v13m10-88v32m10-69v19m0 18v17m0 15v43m10-518v31m0 500v11m10-136v19m0 80v13m10-518v31m0 113v26m10 255v18m0 62v13m10-112v19m0 65v15m10-30v43m10 13v11m10-542v31m0 511v27m10-538v30m0 83v26m0 195v21m0 57v17m0 15v15m0 28v13m10-71v15m0 30v13m10-153v41m0 19v18m0 17v15m0 30v13m10-75v17m0 15v15m10-459v30m0 83v26m0 305v30m0 13v13m10-125v19m0 35v15m0 30v13m10-93v18m0 32v15m10-30v15m0 30v26m10-500v30m0 364v35m0 82v12m10-79v15m10-65v18m0 17v15m10 0v30m0 13v13m20-470v29m0 353v17m0 30v15m0 13v13m10-106v18m0 47v15m0 37v12m10-493v29m0 353v17m0 15v15m0 41v11m10-481v29m0 335v35m0 45v26m10-71v15m0 56v11m10-452v28m0 424v12m10-493v29m10-29v29m0 385v30m10-62v17m0 15v15m0 64v10m10-104v15m0 43v13m0 23v10m10-139v18m0 88v33m10-104v15m0 15v41m10-88v17m0 58v13m10-470v57m0 325v17m0 58v13m10-71v15m10-50v18m0 121v5m10-64v13m10-428v28m0 372v41m10-470v57m0 372v15m0 37v12m10-493v29m10 428v13m20-41v15m0 13v13m10-413v26m20 331v15m0 28v13m30-500v30m0 481v12m0 10v5m30-538v30m0 83v26m0 361v11m10-511v30m0 57v26m0 26v45m0 327v12m0 10v5m30-508v29m10-59v87m0 436v10m10-474v28m0 52v45m0 339v10m10-474v28m0 436v10m10-533v30m0 29v28m0 52v45m10-154v29m0 28v26m20 26v45m10-125v28m0 52v45m10 339v15m10-538v30m20-30v59m0 54v26m10-109v29m10 464v15m10-538v30m0 57v26m10-26v26m10 26v45m10-125v54m10-113v30m0 29v54m0 420v5m20-538v30m0 29v54m30 0v26m30-80v28m0 26v26m20-109v29m0 54v26m10-139v30m0 493v15m10-538v30m0 57v26m10-113v59m0 54v26m0 384v15m10-538v30m0 481v12m10-493v57m0 26v71m10-71v71m10-97v97m10-125v28m0 97v44m10-141v52m0 118v28m0 90v19m10-255v45m0 150v21m10-325v29m0 54v26m0 89v57m10-172v26m0 216v20m10-288v26m10-54v28m0 52v89m0 29v98m0 20v37m10-443v90m0 275v21m0 39v18m10-184v29m10-227v29m0 28v26m0 26v45m0 44v29m0 77v21m0 39v35m10-460v144m0 262v19m20-137v28m0 26v23m0 41v19m10-307v26m0 172v26m0 44v20m10-316v54m0 26v118m0 118v19m0 18v17m10-172v54m0 44v39m20-364v109m0 89v29m0 28v49m0 21v39m10-109v26m10-342v31m0 184v44m10-169v125m0 150v21m0 20v19m10-210v44m0 106v21m10-242v71m0 127v23m0 41v19m10-335v54m0 144v28m0 90v19m10-335v54m0 26v89m0 57v70m10-268v26m0 26v45m0 44v57m0 49v21m10-127v29m0 54v23m0 41v19m10-364v57m0 52v89m0 29v77m0 60v18m10-353v54m0 26v118m0 28v26m20-281v29m0 125v101m0 70v20m10-288v26m0 26v89m0 29v54m0 64v19m10-364v198m0 29v54m0 101v17m10-370v28m0 26v115m0 57v26m0 23v41m0 19v18m20-325v52m0 89v29m10-198v54m0 221v78m10-353v54m0 26v45m0 127v44m0 20v37m10-228v44m10-141v26m0 71v73m0 118v19m10-60v21m10-325v29m0 28v97m0 44v29m0 118v19m10-210v44m0 106v60m20-307v52m0 118v28m0 26v23m10-304v57m0 141v29m10-227v29m0 28v26m0 115v29m0 28v26m30-252v28m0 198v26m0 23v21m10-296v28m0 26v26m0 146v49m10-304v29m10-59v30m0 29v28m0 52v45m0 44v29m0 54v23m0 41v19m10-335v28m0 26v26m0 118v28m0 90v19m10-83v23m0 21v20m10-345v29m0 54v71m0 73v28m0 26v23m10-150v44m0 106v21m10-171v44m0 29v28m0 49v60m10-255v118m0 118v19m30-83v23m0 21v39m20-394v30m0 29v28m0 268v20m0 37v17"/>
<path stroke="#3200be" stroke-width="10" d="M985 4190v12m20-695v37m0 165v29m10 0v28m0 436v10m10-744v39m0 202v57m20-259v37m0 194v28m10-57v29m10-270v39m0 259v26m10-26v26m30-324v39m0 566v18m10-382v29m20 54v26m10 273v17m10 104v5m10-27v12m20-775v41m0 270v28m20-222v36m10 610v22m20-22v12m0 10v5m30-710v37m20 658v10m10-178v20m50 148v10m50-668v36m40-73v37m10 248v26m30-311v37m0 165v29m10-231v37m20 194v28m10 288v19m20-566v37m10-37v37m0 165v29m0 464v10m20-668v36m10 610v12m10 10v5m10-710v37m0 579v15m10-15v15m20 64v10m10-22v22m10 0v5m10-790v41m0 241v29m10-231v37m0 194v28m10-28v28m20-57v29m0 400v15m20-646v37m10-37v37m0 165v29m20-194v36m10 610v12m30-554v31m0 533v5m10-109v15m20-508v33m10 0v31m0 533v5m20-5v5m20-602v33m10-33v33m50 0v31m0 375v19m20-458v33m20 386v20m10-236v45m10-215v31m0 523v10m20-597v33m10 118v26m0 410v10m10 0v5m20-27v12m0 10v5m10-38v11m0 22v5m10-602v33m0 554v10m30-446v26m0 410v10m30-597v33m0 144v26m20-203v33m0 31v30m10-94v33m40-33v33m20-33v33m20-33v33m30-33v33m10 386v20m10-406v31m0 523v10m10-564v31m10 355v20m30-406v31m30 0v30m20-61v31m50 533v5m40-569v31m40 511v12m20-464v28m0 342v15m0 30v37m20-99v17m10-460v31m0 511v12m0 10v5m30-15v10m10-705v108m0 538v13m10-586v68m0 170v45m0 316v11m10-683v108m0 597v5m20-790v80m0 37v36m0 283v44m10-292v64m0 500v23m10-734v76m0 36v68m10-264v43m0 153v68m0 518v13m10-752v41m0 112v35m10-188v80m0 356v44m0 272v11m10-722v39m0 37v71m10-235v4m0 160v36m10-112v39m0 37v36m0 35v33m0 215v44m10-400v37m0 36v35m0 33v31m10-99v99m20-295v84m0 395v44m10-523v43m0 80v73m10 35v64m10-295v43m0 117v36m10-200v4m0 123v37m0 71v33m0 531v11m10-806v43m0 41v39m10-39v76m10 0v36m0 35v33m10-221v41m0 39v37m0 71v33m10-180v112m0 35v33m10-268v127m0 73v35m10-35v68m10-104v104m10 0v31m0 523v15m10-837v47m0 80v37m10 622v13m10-672v73m0 35v33m10 542v27m10-710v108m10-71v71m0 564v11m10-763v41m0 350v45m10-483v127m0 37v36m10-73v108m10-235v4m0 43v41m0 698v13m10-799v47m0 41v76m0 319v44m0 259v13m10-795v160m10-76v39m0 73v35m0 248v44m10-480v80m10-123v43m0 41v39m10-123v43m0 41v147m10-235v88m0 39v37m10-160v84m0 39v73m10-200v47m0 41v76m10-76v39m0 37v36m30-196v84m0 76v71m10-235v47m0 117v36m10-200v4m10 160v36m0 35v33m10-268v4m0 84v112m30-200v4m0 84v39m0 37v36m0 511v17m10-564v36m10-200v47m0 80v37m10-164v4m0 43v80m0 37v36m20-200v4m0 707v17m10-681v41m0 39v37m10-160v43m10-47v4m0 43v80m0 37v36m20-196v160m10-164v127m0 37v71m0 476v17m10-728v4m10-4v4m0 43v80m10-127v4m0 43v41m0 586v19m20-693v127m0 37v36m10-200v88m10-84v43m0 41v39m0 73v35m10-188v41m0 605v18m10-707v160m10-164v4m0 43v80m0 37v36m10-200v4m10 0v43m0 41v112m0 511v17m10-724v43m0 41v39m0 37v36m10-200v4m10 43v153m10-196v84m0 76v36m0 493v18m10-707v43m0 41v39m0 584v17m10-728v164m10-160v123m0 566v18m10-711v4m0 43v153m10-153v41m0 39v108m0 493v15m10-696v41m0 76v36m10-153v41m10-88v4m0 196v35m10-108v108m10-235v164m10-164v47m0 117v36m10-200v88m0 39v108m10-147v112m10-112v112m0 511v17m10-728v4m0 84v39m10-39v112m10-200v4m0 84v39m0 584v17m10-724v43m0 41v39m0 108v33m20-221v41m0 39v37m0 36v35m0 493v15"/>
<path stroke="#3e0078" stroke-width="10" d="M985 4212v5m10-508v29m0 464v10m10-533v30m10-165v36m0 99v59m10 452v12m0 10v5m10-710v37m0 165v29m0 441v11m10-481v29m0 452v27m10-538v30m0 444v13m0 46v5m10-15v10m10-705v37m0 646v22m10-22v12m10-111v17m20-601v37m0 135v30m0 470v11m10-683v37m0 165v29m0 441v23m10 0v10m10-474v28m10-259v37m0 135v30m0 470v11m0 12v10m10-705v37m0 135v59m0 464v10m10-446v26m10 410v10m10-121v17m0 82v12m10-622v35m10 564v11m0 22v5m10-38v11m0 12v15m10-126v17m30 71v11m10 0v22m10-59v13m10 13v23m10-23v11m0 22v5m10-5v5m20-5v5m10-27v12m20-23v38m10-64v13m0 13v11m20 22v5m10-673v36m0 610v12m0 10v5m10-673v36m0 129v29m0 452v12m10-695v37m0 668v5m10-673v36m20-36v36m0 158v28m0 436v10m10-474v28m0 436v15m10-673v36m0 610v22m10-503v29m10-231v37m0 194v28m50 424v12m10-79v15m0 41v38m10-27v12m10-658v36m0 35v33m0 505v37m0 12v10m10-668v36m0 129v29m0 452v22m10-10v10m10 0v5m10-710v37m10 0v71m0 508v15m0 28v13m10-635v36m0 573v37m10-610v35m0 64v30m0 429v15m0 13v13m20-470v29m10-29v29m0 452v22m10-705v37m10 646v22m10-668v36m0 586v13m10 23v15m10-27v27m10-5v5m10-602v33m0 542v27m10-64v13m0 13v11m10-542v31m0 523v10m10-22v22m10-22v12m20-587v33m10 564v5m10-538v30m10 481v12m0 10v5m10-38v23m10-523v30m0 382v17m0 15v15m10 64v10m20-597v33m10 564v5m10-27v12m0 10v5m10-27v22m10-104v15m0 79v15m10-538v30m10 57v26m10 420v5m10-569v31m0 113v26m0 372v22m10-564v31m10 0v30m0 481v12m0 10v5m10-569v31m0 87v26m0 398v27m10-27v12m0 10v5m20-38v33m10-420v71m0 327v12m0 10v5m10-569v31m0 87v52m0 195v21m0 145v11m10-398v26m0 216v20m20-406v31m10 87v26m0 410v10m20-420v26m0 195v21m0 156v12m0 10v5m20-51v13m20-13v13m0 23v15m10-569v31m0 113v26m0 394v5m10-183v20m10-375v30m0 83v26m0 255v18m30-443v31m0 87v26m10-144v31m0 87v26m0 420v5m30-425v26m10-170v31m0 87v52m0 361v11m0 12v10m10-33v11m20-117v18m10 0v17m0 94v10m10-10v10m10-104v15m0 79v15m10-538v30m0 364v18m0 111v10m10 0v5m20-5v5m10-126v17m0 104v5m10-538v30m10 29v28m0 307v18m0 99v12m0 10v5m10-27v12m0 10v5m20-538v30m20 345v19m0 106v11m10 22v5m10-5v5m10-27v27m20-538v30m0 29v28m0 325v17m0 82v22m10-533v30m0 503v5m10-109v15m10-15v15m0 56v11m0 12v15m10-538v30m0 481v12m0 10v5m10-538v30m10 470v23m0 10v5m10-538v30m10 83v26m0 305v15m0 28v13m10 0v11m10-52v15m0 13v13m0 11v12m10-523v30m0 481v12m10-554v31m10 511v22m10-474v28m10-151v33m10-68v68m10 31v59m0 28v26m0 410v10m10 0v5m10-38v33m10-597v33m0 564v5m20-38v11m10-11v23m10-12v12m20 10v5m20-637v35m10 0v33m10 31v30m0 57v26m0 26v45m0 327v12m30-658v36m0 35v33m0 170v45m10 316v11m10 22v5m10-569v31m0 87v26m0 398v12m10-554v31m10 523v10m10-564v31m0 500v23m0 10v5m10-569v31m0 523v10m10-420v71m20-215v31m0 511v27m10-451v26m0 26v45m0 339v15m10-538v87m10 400v13m10-531v31m0 533v5m10-602v33m0 505v13m10-659v37m0 71v33m10 0v31m0 139v45m10-319v36m0 35v33m10-33v33m10 0v31m0 500v11m10-542v31m0 523v10m10-597v33m10-33v64m0 113v26m0 195v21m10-355v30m10-61v31m0 30v29m10-90v61m10-94v33m0 170v45m0 210v18m10-476v33m0 288v28m0 109v18m10-623v39m0 37v104m0 443v17m10-728v127m10 108v33m0 31v30m0 57v26m0 26v89m0 184v17m10-601v37m10-37v37m10 135v30m0 154v44m0 57v26m10-342v31m0 139v89m10-363v36m0 35v33m10-264v43m0 80v37m0 36v35m10-108v37m0 104v31m10 0v87m0 97v44m0 29v28m10-384v35m10 0v94m0 83v71m0 44v29m0 137v18m10-664v117m0 71v33m10-180v39m0 73v35m10 0v64m0 59v28m0 26v26m0 236v19m10-646v80m10 172v30m0 109v45m0 228v17m10-528v35m10 0v33m10 31v30m0 364v18m10-547v71m10-71v36m0 35v33m0 406v37m10-511v35m0 64v59m0 28v26m0 221v41m10-674v4m0 84v39m0 73v35m10-108v37m0 564v15m10-579v71m10 0v33m10-33v64m10-31v31m0 429v15m10-508v33m10-68v35m10 292v29m0 98v20m10-375v30m0 109v45m0 127v23m0 60v35m10-528v35m10 0v33m10 0v31m10-64v64m10-64v33m0 31v30m0 382v17m10-528v99m10-31v31m10 0v30m0 255v26m10-342v90m0 54v26m0 89v29m0 77v21m10-419v33m0 31v30m0 109v45m0 44v29m10-288v61m10-61v31m20-99v35m0 94v29m10-90v61m0 83v26m10-203v64m0 375v19m10-493v68m0 170v45m20-184v30m0 83v26m10-139v30m0 83v26m0 118v28m10-285v59m0 335v18m0 17v15m10-739v84m0 112v35m10 33v215m10-356v108"/>
<path stroke="#38009b" stroke-width="10" d="M995 3507v37m0 194v28m0 424v12m0 10v5m10-27v27m10-27v12m0 10v5m20-479v28m0 288v19m20-566v37m0 622v46m20-474v28m10-259v37m0 104v31m0 533v5m10-710v37m20 646v27m10-15v15m10-710v37m0 222v26m10-285v37m10 165v57m0 424v12m10-129v18m0 121v5m10-749v39m0 231v28m20-259v37m0 194v28m0 436v15m10-602v33m0 554v15m20-27v12m10 0v10m20-705v37m30 668v5m10-15v15m10-183v20m0 148v10m10-22v22m30 0v5m30-27v27m10-27v12m0 10v5m10-637v68m0 542v22m10-597v33m0 386v20m20-316v28m10-57v29m0 441v23m0 10v5m10-451v26m0 281v18m30 121v5m10-5v5m20-710v37m10 165v29m0 275v41m0 19v18m10-584v37m0 635v11m0 22v5m20-5v5m20-508v29m0 464v15m30-508v29m0 474v5m10-27v12m20-49v13m0 13v11m10 22v5m10-673v36m0 573v13m0 13v23m40-493v29m10-194v36m0 632v5m10-38v11m10 0v12m20-695v37m0 658v10m10-632v35m10 587v15m20-569v31m0 533v5m20-569v31m10 412v17m10 82v12m10-12v22m20-564v31m0 523v10m10-59v26m40 23v10m10-597v33m0 425v18m10 0v17m10-35v18m30-443v31m0 523v10m10 0v5m10-183v20m10-288v26m30-144v31m0 113v26m0 372v12m0 10v5m10-451v52m10-170v31m20-31v31m0 87v26m10-26v26m0 221v21m10 168v10m20-564v31m0 113v26m0 372v12m0 10v5m10-451v26m0 410v10m10-597v33m10 542v27m10-602v33m0 365v21m10 156v12m20-554v31m0 87v52m0 255v18m0 111v15m10-183v20m0 136v27m10-602v33m30 542v12m10-587v33m20-33v33m0 342v23m10 177v12m0 10v5m30-425v71m0 327v12m0 10v5m10-27v12m0 10v5m10-569v31m0 375v19m10-394v30m10 503v5m10-15v10m50-533v30m0 493v10m10-533v30m0 493v10m30-564v31m0 59v28m0 288v19m10 129v10m20-22v22m10-33v11m10-452v28m10 307v18m0 121v5m10-109v15m0 79v10m10-121v17m10-370v28m10 325v17m10-399v29m0 353v17m0 30v15m20-45v15m0 67v27m10-538v30m0 382v17m0 71v11m10 12v15m10-94v15m0 74v5m10-51v13m0 33v5m10-602v33m10 0v31m10-64v64m10-211v147m10-108v37m0 622v13m10-387v26m0 394v5m10-569v31m0 511v22m10-668v36m0 68v31m10-211v112m0 238v45m10-356v172m10-64v33m10-221v41m0 112v99m10-172v37m0 36v35m10 0v33m0 542v12m10 0v10m10-597v64m0 533v5m10-837v4m0 84v112m10 0v35m10 564v11m10-683v37m0 36v99m10-99v35m0 33v31m10-252v41m0 112v35m10-35v68m0 518v13m10-531v31m0 139v45m0 316v33m10-33v11m10-24v13m0 23v10m10-668v36m0 35v33m0 518v13m10-13v13m0 23v10m10 0v5m10-538v59m0 28v26m0 398v12m10-658v135m0 184v44m0 283v12m10-587v33m10 0v31m0 500v23m10-554v31m0 139v45m10-248v33m0 170v45m0 327v12m10-587v33m10-180v112m10 0v35m10 0v33m10-264v43m0 41v76m0 36v35m10-71v71m10-71v104m10-141v73m0 35v33m10-141v108m0 248v44m0 283v12m0 10v5m10-673v71m0 476v17m10-493v33m10-180v39m0 37v104m10-180v39m0 73v68m10-221v41m0 76v36m10 0v35m10-235v88m0 39v37m10-37v37m10 104v31m10-252v80m0 73v35m10-231v123m10 73v35m0 33v31m0 87v26m10-408v84m0 112v68m0 443v17m10-728v164m10-164v4m0 43v80m0 37v36m10-153v41m0 112v68m10-141v37m0 36v99m0 394v18m10-664v80m0 37v36m10 0v35m10-235v47m0 117v36m10-196v84m0 39v73m10-112v39m0 37v71m0 419v20m10-674v4m0 123v73m0 511v17m10-724v43m0 80v37m0 36v35m10-235v200m10-36v71m10-108v37m0 71v33m10-264v160m10-160v43m0 80v37m10 71v64m0 59v28m10-382v84m0 39v73m10 0v68m10-180v76m0 564v15m10-743v4m0 43v41m0 39v73m10-36v71m0 398v21m10-490v36m0 35v33m10-264v43m0 80v37m0 36v35m10-231v196m10 0v99m10-99v99m10-295v196m10-200v47m0 153v35m10-147v76m0 71v33m10-268v4m0 123v108m10-71v71m10-108v73m10-196v43m0 153v35m10 0v64m0 30v29m10-270v39m0 73v68m10-68v35m0 33v31m0 30v29m0 252v23m10-469v36m0 35v33m10-264v43m0 188v33m10-104v36m10-153v117m0 104v31m10-64v33m10-221v41m0 112v35m10 33v31m10-295v84m0 39v108m0 476v17m10-724v43m0 153v35m10-71v135m0 139v45m10-356v37m0 36v35m0 33v31m10-299v4m0 84v39m0 37v36m10 35v33m10-268v127m0 601v15"/>
<path stroke="#0060ff" stroke-width="10" d="M995 3792v26m10-434v43m20 365v26m40 236v19m10-281v26m50-438v4m10 689v18m30-707v43m20 365v26m0 236v19m30-693v4m0 123v37m0 36v35m10-235v4m0 160v36m10-196v84m0 76v36m10-36v36m10 454v20m20-674v4m10 0v123m10-127v4m20 160v36m20-36v36m10-200v4m10 160v36m10-200v4m10-4v4m10-4v88m10-88v4m10 295v30m10-325v84m0 298v26m0 262v19m20-307v26m0 242v20m40-288v26m30 242v20m10-288v26m10-412v4m0 689v18m10-325v26m10-26v26m10 316v15m10-743v4m0 84v39m0 231v28m10-386v4m0 84v39m10 259v26m10-408v43m0 339v26m10-26v26m20-365v41m0 241v29m10-354v43m10-47v4m0 43v41m0 270v28m20 26v26m30-80v28m10-382v43m10-47v4m0 354v28m0 342v15m20-357v26m10-408v43m0 41v39m10 37v36m10-112v39m0 202v29m10-270v39m10 0v73m20-153v41m10 0v39m0 202v29m10-231v108m20-108v37m0 165v29m10-194v36m30 493v18m20-299v26m10-274v36m30-112v39m10 0v73m0 454v20m20-510v36m30-36v36m0 433v21m20-566v112m20-36v71m10-108v37m0 36v35m0 398v21m10-566v39m10 37v36m0 186v26m10 26v45m10-356v37m0 36v35m10-147v39m20-39v39m10 311v45m30-356v73m10-73v37m0 36v35m10 203v45m0 127v23m10-23v23m10-506v37m0 469v21m10-566v39m0 37v36m20-112v39m10 0v37m10-37v37m30-37v37m10-37v73m20-73v37m10 0v36m0 283v44m10-44v44m0 147v19m10-566v37m0 319v73m10-73v44m10-363v36m20-73v73m0 283v44m10-400v73m10 474v19m10-210v44m10 127v20m10-191v44m10-439v39m10 356v44m10-400v73m10-112v39m10 37v71m30-147v76m10 529v18m20-623v39m10 37v36m10-73v141m10-180v39m0 566v18m10-623v39m10-39v39m20 356v44m10 259v13m10-41v15m20-290v44m0 259v13m30-316v44m20 246v13m20 0v13m10-272v29m20 230v13m30-316v44m30 231v15m40 0v13m60-13v13m20-303v44m0 259v13m20-26v13m60-13v13m10-13v13m10-13v13m80-58v104m10-104v15m20 0v30m0 13v24m0 12v15m40-51v13m10-71v15m20-32v17m20 15v94m40-109v15m10-32v17m70 15v15m30-47v17m30 0v15m20-15v15m10 0v15m0 15v26m0 11v12m0 10v5m10-126v17m10-17v17m50 15v15m140-30v71m0 11v27m20-79v74"/>
<path stroke="#00ff80" stroke-width="10" d="M995 3818v45m0 171v20m10-236v45m20-45v45m10 150v21m30-216v45m30-45v45m10 171v20m70-236v45m10-45v45m30-215v31m10 355v20m30-375v30m0 281v23m10-433v35m0 375v23m10-433v35m30 33v31m40-99v35m10 0v64m0 334v21m50-268v26m40 242v20m20-236v45m10 150v21m40-70v26m20 23v21m40 20v37m10-273v45m30-45v45m10 191v19m10 0v18m10-18v18m10-299v26m20 216v20m20 0v19m10-281v26m50-26v26m50 0v45m20 228v17m20-316v26m40 0v45m10-45v45m20-154v29m210 0v28m20 198v26m100-252v28m70 26v26m0 45v44m90 0v29m170-29v29m0 118v19m40 35v15m30-216v29m10 187v15m10-202v28m30-28v28m20 144v15m40 0v15m10-30v15m10-216v29m20 172v15m60-15v15m60-15v15m20-216v29m0 187v15m20-30v15m40-187v28m0 144v15m10-15v15m270 30v13m60-58v15m0 30v13"/>
<path stroke="#8cff00" stroke-width="10" d="M995 3907v29m30 28v26m20-83v29m0 77v21m10-70v26m30-83v29m20 28v26m20 0v23m10-49v26m10-54v28m0 49v21m30-127v29m0 28v26m10-83v29m10 77v21m20-70v26m170 0v23m20-77v28m30-57v57m30-28v28m10-57v57m10-57v57m40-57v29m20 0v28m20-57v29m0 77v21m20-98v54m0 23v21m20-70v26m30-127v44m60 0v29m0 54v23m10-150v73m10-29v29m0 28v26m10-54v28m60 109v18m10-37v19m20-39v20m30 0v19m30-39v20m10-41v21m30-44v23m10 0v21m90-44v23m200-49v26m170-198v26m10 0v45m40-71v26m30-26v26m0 195v21m40 20v19m60-137v28m90 26v23m10 95v15m10-133v23m0 78v17m10-35v18m100-101v23m20 78v17m20-118v23m10 60v18m10 0v17m20-35v18m10-127v26m30 118v15m20-133v23m30-23v23m30 60v18m10-78v21m30-21v21m0 57v17"/>
<path stroke="#ffff00" stroke-width="10" d="M995 3964v26m20-26v49m20-77v28m10 0v49m40-49v26m30-54v28m40-28v28m10 0v26m30 0v23m80-77v28m120-198v26m10 26v45m340 127v23m40 41v19m40-19v19m20-39v20m20-41v21m100-44v23m100-49v26m40-26v26m140-54v28m60 26v23m50-106v29m120 77v21m10-127v29m150 118v19m20-60v21m10 0v39m0 18v17m10-95v21m0 39v18m10-57v20m30 0v19m10 0v18m10-57v20m0 37v17m40-74v39m40-39v20m10-41v60m10-83v23m10 21v20m0 19v18m30-37v19m10-60v21m0 39v18m10 0v17m30-35v18m20-101v23m40 0v21m30 20v19m10-19v37"/>
<path stroke="#00dfff" stroke-width="10" d="M995 4054v19m90-364v29m0 316v19m10-394v30m20 325v20m60-20v20m20-236v45m120-283v35m50 419v20m30-406v31m50 375v19m30-39v20m10-20v20m50 19v18m20-299v26m10 305v15m10-30v15m10 0v15m10-47v17m10-316v26m10 216v20m40-41v60m10 0v35m10-17v17m10-54v19m40 18v17m10-17v17m20-728v47m10 311v28m10-386v4m10-4v88m0 270v28m10-28v28m0 325v17m20-370v54m10-412v88m10 270v54m10-412v47m10-43v84m10 298v26m0 281v18m10-353v54m0 281v18m20-711v47m0 282v29m0 54v26m20-438v4m10-4v88m10-88v4m0 434v45m20-479v123m10-123v84m20-88v47m10-47v47m20 0v41m0 545v21m10-654v47m0 391v45m10-395v39m10 483v23m20-633v4m10-4v47m10-47v4m10 43v41m10-88v47m0 563v23m20-633v47m10 563v23m10-633v4m0 43v41m10-88v4m10 0v84m0 545v21m30-650v43m10-47v47m10-47v47m0 391v45m10-483v4m10-4v4m0 606v23m20-633v88m30-41v41m10-84v84m10-88v47m0 282v29m10-354v123m10-127v47m10-47v47m10-47v47m10-47v4m10 43v41m20-41v41m10-84v123m40-127v47m20-47v47m10-43v84m20-84v84m10-88v47m10 365v26m0 89v29m10-556v4m20 43v41m20-88v4m0 689v18m10-711v88m60 439v29m0 202v15m30 0v13m10-13v13m10-28v15m40-30v15m10 0v15m10 0v13m10-28v15m40-15v15m10-30v15m30-15v15m10-15v15m20-15v15m80 15v13m60-259v29m0 187v15m20-15v15m30-15v15m0 15v13m0 24v27m10-5v5m10-27v12m30-36v13m0 11v27m30-64v13m0 13v11m0 12v10m30-104v15m0 15v79m10-15v10m40-104v15m0 15v41m0 11v27m20-51v51m30-27v27m10-51v24m10 22v5m10-51v24m10-67v43m0 24v22m10-46v13m0 33v5m20-27v12m20-49v37m40-82v15m0 56v11m0 12v15m50-15v10m20-10v10m20-10v15m40-64v26m0 23v15m10-38v33m10-74v41m0 11v27m20-38v23m50-12v12m30-79v15m0 15v13m0 13v38m10-38v23m0 10v5m20-79v15m0 26v23"/>
<path stroke="#0040ff" stroke-width="10" d="M1005 3380v4m0 689v18m10-711v4m0 84v39m30-123v43m0 339v26m10-412v4m0 382v26m0 242v20m10-670v43m0 365v26m10 236v19m10-693v4m10 0v43m10 339v26m10-412v4m40-4v4m0 670v19m20-281v26m20-438v4m10 0v84m10-84v123m10-123v123m10 0v37m10-164v47m0 41v39m30-80v80m10 0v73m10-196v43m0 117v36m10-200v127m0 108v33m10-268v47m10-47v47m10-47v4m10 0v84m0 39v37m20-160v84m10-84v84m10 0v76m10-160v123m10-127v47m0 221v31m10-299v4m0 84v39m10-123v43m10-47v88m10-88v4m10 408v26m0 236v19m10-693v47m10-47v47m10-43v43m0 41v39m0 259v26m20-412v4m0 382v26m20-408v84m10 0v39m10-127v88m10-88v47m10 0v41m0 670v15m10-726v41m0 655v15m10-758v127m0 631v15m10-773v4m0 43v41m10-84v123m20-123v43m0 41v39m10 0v37m0 194v28m10 357v15m10-400v54m20-412v4m20-4v127m10-127v4m0 43v80m0 202v29m10-354v123m10-123v43m0 339v26m0 316v15m10-385v28m0 342v15m10-15v15m10-543v35m0 476v17m10-601v73m0 511v17m10-601v37m0 36v35m10-35v35m10-108v37m0 36v35m0 94v29m10-270v39m10 0v37m20-76v39m0 202v29m10-194v71m10-35v35m10 94v29m10-270v39m0 202v29m10-270v39m10 0v108m10-147v39m0 259v26m10-285v37m0 36v35m0 419v39m10-566v108m10-147v76m20 36v35m20-108v37m10-37v73m10-73v108m10-108v37m10 0v71m10-35v35m10-71v71m20-71v36m10-73v73m10-73v37m10-37v108m10-71v36m10-73v73m10-112v39m10 37v36m10-112v76m10-76v147m10-71v71m0 398v21m10-454v35m30-147v76m10 0v36m10-73v37m10-76v76m30 0v71m0 398v21m10-566v39m0 483v23m10-506v73m10 0v35m10-35v35m0 151v26m10-285v73m10-36v71m10-108v37m10-37v108m10-71v36m0 493v18m10-547v36m10-73v37m0 36v35m0 33v31m20-99v68m0 406v19m10-493v35m0 33v31m10 184v44m10-400v37m0 510v19m10-605v39m10 0v73m0 35v33m0 90v28m10-222v36m0 283v44m10-400v37m0 510v19m10-493v68m20-33v33m10-141v73m10-73v37m10 71v33m10-141v73m0 35v33m10 425v18m10-584v37m10 36v68m20-104v36m30 543v15m40 15v13m20-259v29m0 243v11m10-327v44m20 0v29m0 230v13m70-26v13m10-13v13m20-13v13m50-303v44m80-44v44m10-527v4m0 795v11m40-37v13m10-303v44m10 246v13m10-13v13m80-75v17m10-17v17m60-17v17m70-17v17m170 15v15m100-47v17m30 0v15m100-15v15m50 0v15"/>
<path stroke="#e2ff00" stroke-width="10" d="M1005 3936v28m40-28v28m10-28v28m70-28v54m20 0v23m20-77v28m130-28v28m10-28v28m90 0v26m10-83v29m220 0v28m10 26v23m10-49v26m100-127v44m0 106v21m10 0v20m20-20v20m30-41v21m170-44v23m200-23v23m60-49v26m110-54v28m40-57v29m90-29v29m20 98v20m10-118v28m10-57v29m20-29v29m0 98v20m20-90v26m40 64v19m10-83v23m20 78v17m20-74v20m10 37v17m30-95v21m0 20v19m10-19v37m10-78v21m0 20v19m10-39v20m0 19v18m10-37v19m0 18v17m50-95v21m20 39v18m10-78v21m10-21v21m40 39v18m60-18v18m30-37v19m20-83v64m20 0v19m30-39v20m0 19v18"/>
<path stroke="#ffe500" stroke-width="10" d="M1005 3964v26m50-83v29m150 28v26m120-54v28m60-198v26m0 172v26m20-127v44m340 29v28m110 49v21m30-44v23m410-150v44m240 29v28m80 109v18m20-78v21m70 0v20m30 0v37m20-57v20m0 19v18m30-78v21m10-21v21m10 39v18m40-37v19m20-60v21m0 20v19m10-83v23m10 21v39m40-19v19m10-60v21m10-21v41m10-41v60m30-39v20"/>
<path stroke="#69ff00" stroke-width="10" d="M1005 4013v21m10-127v29m10-29v29m40-29v29m10 54v23m20-77v28m0 49v21m10-44v23m10-150v44m40-44v44m0 83v23m30-23v23m20-23v23m10-275v28m30 198v26m40 23v21m30-70v26m20-26v26m30-26v26m40-198v26m10 45v44m0 57v26m20-127v44m20 0v57m20-101v44m30 0v29m20-73v44m0 29v28m10-57v57m10-57v29m10-29v83m10-127v44m10 106v21m10-127v29m10-29v83m10-83v57m20-146v45m0 127v23m10 21v20m10-41v21m20-70v26m10-54v28m20-101v44m10 57v26m10-127v44m10 0v29m10-29v83m90 83v18m40-57v20m80-64v23m40-23v23m10-23v23m120-49v26m70-26v26m150-198v71m10-45v45m20-71v26m10 118v28m10-146v45m10-71v26m40-52v26m10 221v21m10-242v26m0 89v29m10-170v26m20 26v45m50-45v45m100 210v18m20-127v26m10 23v21m40-44v23m10 78v17m20-95v21m0 74v15m30-110v21m10-44v23m20-23v23m40-49v26m40 83v18m10-101v23m10-23v23m0 95v15m30-159v26m0 101v17m10-144v26m10-26v26m20 64v19m50 18v17"/>
<path stroke="#00ff60" stroke-width="10" d="M1005 4034v20m70-236v45m10 171v20m30-41v21m60-21v21m30-355v30m40-94v64m20-64v123m10-123v33m0 365v21m20-386v31m10 334v21m10-386v31m10-64v33m10-33v64m20 0v59m0 252v23m20-398v33m50 342v23m30 0v21m30-21v21m10-216v45m30 127v23m20 0v21m20-216v45m60 171v20m20 0v19m30-255v45m10-45v45m0 150v21m20-21v21m100 20v19m30-255v45m30-45v45m70 101v26m10-281v29m90 275v21m20-44v23m200-23v23m20-304v29m20-29v29m20 169v29m10-29v29m20 118v19m30-307v26m0 262v19m130-255v45m20 44v29m80 0v28m30-57v29m0 155v17m70-201v29m20 187v15m40-202v28m20-57v29m10-29v29m20-29v29m10-29v29m40-29v29m10 155v17m10-201v29m0 172v15m60-32v17m30-172v28m30-28v28m10 144v15m10-187v28"/>
<path stroke="#00ffc0" stroke-width="10" d="M1015 3818v45m30-45v45m40-71v26m10-26v26m0 236v19m30-39v20m110-474v35m10-35v35m40-35v35m50-35v35m10 419v20m10-474v35m20 419v20m30-41v21m20-21v21m10-21v21m20 0v20m90-262v26m20 290v15m10-32v17m10-35v18m0 17v15m20-69v19m90 0v35m10-54v37m10-37v19m10-39v20m10-20v20m30 19v18m10-299v26m40-26v26m10-26v26m30-52v26m10 0v26m10-26v26m10 236v19m20-364v57m50-57v29m350 80v45m190-97v26m50 262v19m20-210v44m0 147v19m40-166v29m0 155v17m50-201v29m60-29v29m60 172v15m10 0v15m50-30v15m60 15v15m80-246v29m50 187v15m230-30v15m10 0v15m70 52v12"/>
<path stroke="#00ffa0" stroke-width="10" d="M1015 4054v19m30-19v19m10-281v26m90 236v19m20-39v20m30 0v19m30-493v35m30 0v64m0 30v29m0 275v21m30 20v19m40-493v35m40-35v35m10-35v35m40 419v20m50-20v20m90-20v20m10 19v35m20-17v17m10-74v20m10-20v20m10-41v21m10 39v18m10 0v32m10-32v17m10-118v23m10 21v20m40-20v20m10-20v20m30 19v18m10-18v18m20-18v18m120-353v28m0 288v19m20-60v21m160-21v21m200-21v21m20-21v21m10-21v21m50 0v20m10 0v19m30-19v19m100-281v26m40 45v44m20 0v29m40-29v29m20-29v29m10 187v15m20-30v15m30-216v29m20 187v15m10-30v15m20-187v28m20 159v15m80-30v15m150-15v15m60-133v23m0 78v17m240 15v30m0 13v13m60-13v24"/>
<path stroke="#00a0ff" stroke-width="10" d="M1015 4073v18m20-299v26m70 236v19m20-281v26m10 0v45m10-45v45m0 210v18m50-18v18m10-443v31m70-135v36m20 35v33m90 406v19m20-364v29m10 54v26m50 236v19m20-281v26m50 273v17m40-370v54m10 0v26m30 255v18m10-353v28m20 0v26m20 316v15m30-357v26m0 331v15m50-372v26m20-365v41m40-88v4m10-4v4m0 43v41m10 640v15m10-739v84m10 623v17m20-728v47m10-47v47m10-47v47m0 339v26m10-26v26m10-408v84m0 566v20m40-674v88m30 0v39m10-39v39m0 311v45m10-45v45m0 150v21m20-566v39m40-39v39m10 311v45m30-45v45m20-479v84m0 350v45m20-436v41m30 350v45m20-483v47m10 0v41m40-41v41m10-41v41m30-41v41m20 0v39m0 311v45m10-97v52m10 236v19m10-605v39m10-39v39m40-39v39m10-39v39m40-123v84m30 0v39m20-123v84m10 0v39m0 356v44m10-439v39m0 356v44m10-480v80m0 566v18m10-299v26m30-391v41m10-41v41m20-41v41m10-88v47m0 664v17m20 0v15m10 15v15m10 0v13m40 0v13m40-41v15m10-15v15m10 0v13m40-43v15m20 15v13m10-28v15m40-15v15m30-30v15m100-275v44m0 201v15m20 15v15m30-15v15m20-246v29m20 172v30m10-15v30m10-30v15m0 15v49m10-94v82m20 22v5m30-27v27m30-94v15m10 41v23m0 10v5m20-94v56m0 11v12m20-94v15m0 15v15m0 37v27m30-51v24m0 12v15m20-109v15m0 89v5m40-109v15m10 15v28m0 24v27m40-15v10m10-59v26m0 11v27m10-38v11m0 12v10m20-74v15m0 26v11m10-67v56m0 11v22m10 0v5m10-109v30m30-30v58m10-28v15m0 26v38m10-109v71m10-56v30m0 26v38m10-109v58m0 24v12m0 10v5m10-94v67m0 12v10m40-104v15m10 15v15m10-30v94m10-109v15m0 15v15m0 13v13m0 11v12m10-79v30m0 13v13m10-71v58m0 13v11m10-82v45m10-30v94m10-94v15m0 15v26m10-71v15m30 0v15"/>
<path stroke="#00ff00" stroke-width="10" d="M1025 3863v44m10-89v45m10 171v20m20-191v44m30-44v73m0 98v20m10-41v21m20-21v21m10-127v29m10-73v44m0 127v20m20-41v21m10-171v44m20 127v20m20-345v29m0 275v21m10-325v29m0 275v21m10-325v57m0 268v20m10-64v23m40-334v30m0 325v20m10-345v29m0 252v23m10-23v23m30-275v28m0 224v23m10-304v29m0 275v21m20-44v23m20 21v20m10-316v28m30 198v26m20-127v44m10 83v23m30-23v23m10-150v44m10-89v45m10-45v45m0 73v28m20-146v45m0 127v23m10-195v45m10-45v45m40-45v45m0 150v21m10-216v45m0 150v21m10-127v83m50-127v44m20-44v44m10 127v20m30-236v45m30-45v45m40 210v18m40-37v19m10-255v45m80-125v28m30 247v21m10-325v29m10 0v28m10-57v29m20-29v29m60-29v57m20-57v29m40 80v45m10-154v29m30-29v29m60-29v57m10-57v57m10-57v29m20 0v28m10-28v28m60 268v20m40-262v71m40 44v29m10-144v26m20 0v45m30-45v45m50 191v19m20-255v45m10-45v45m0 73v28m10-57v29m50 0v28m10 0v26m0 118v15m10-159v26m10-26v26m10-54v28m10 0v26m20-54v28m10 26v23m30-23v23m10-49v26m20-54v28m10 26v23m10-49v26m0 101v17m10-172v28m10 0v26m10-26v26m10-26v26m10-54v28m0 127v17m10-201v29m0 155v17m10-144v26m10-54v28m10 0v26m10-83v29m10 0v28m10-28v28m10 26v23m40-106v29m10 0v28m20 127v17m10-172v28m10 26v23m10-23v23m0 78v17m20 0v15"/>
<path stroke="#00c0ff" stroke-width="10" d="M1035 4034v20m50-375v30m30 83v26m40-26v26m110-274v36m160 212v26m50-26v26m50 216v39m20 18v17m50-316v26m20 236v19m10-307v26m10-26v52m50-26v26m0 255v35m20-17v17m50-681v41m10-88v47m10-43v84m10 0v39m0 601v15m10-743v88m10 270v54m10-408v43m10 41v39m10-127v4m10 43v41m10 241v29m0 335v18m40-664v41m0 605v18m10-711v4m10 0v84m10 0v39m0 202v29m10-354v84m20 298v26m10-324v39m10-127v88m10-41v41m0 545v21m10-607v41m10-88v88m10 350v45m10-436v41m0 522v23m40-629v84m10-41v80m10-123v84m10 0v39m10-80v41m0 350v45m10-483v4m10 43v41m10-88v47m10-43v43m10-43v84m10 0v39m10-39v39m0 311v45m20-483v4m0 434v45m10-436v41m10-41v41m0 522v23m10-629v84m0 350v45m10-479v43m10-47v47m10 391v45m10-483v88m0 350v45m10-483v47m10 41v39m20-80v41m20-41v41m10-41v41m10-41v80m10-123v84m10 0v39m10-127v88m30-88v88m10-88v88m10-88v4m10 43v41m0 566v20m10-674v88m10-41v41m10 566v20m10-674v4m10 670v19m10-646v41m10-88v47m0 339v26m10-408v84m0 395v44m0 147v19m10-693v88m0 395v44m20-527v47m10-43v43m20-47v47m10 391v45m10 0v44m0 201v15m40 0v15m10-15v15m40-15v15m10 0v15m50 0v13m10-13v13m20-43v15m30 0v15m10-30v15m10 0v15m20-15v15m10-15v15m20-30v15m10 0v15m10-246v29m0 230v13m10-26v13m10-28v15m10-15v15m20-30v15m10 0v15m20-30v15m10-15v15m20-15v15m20-231v29m0 202v15m10-30v15m10 0v15m0 13v24m10-52v74m10-59v37m0 12v15m10-15v15m10-27v27m10-109v58m0 13v11m30-67v30m0 13v13m0 11v12m0 10v5m30-94v15m10 0v64m0 10v5m30-38v11m0 12v15m10-94v15m20-30v58m20-58v58m20 24v22m20-22v27m10-51v24m0 22v5m10-94v43m0 13v33m10-89v15m0 28v24m10 12v15m20-27v27m10-79v64m0 10v5m30-94v56m0 11v12m10-49v26m0 11v27m10-38v11m0 22v5m10-38v11m10-52v79m10-94v79m0 10v5m20-51v36m0 10v5m10-109v30m0 15v26m10 0v23m10-49v26m10-13v24m0 12v10m10-22v12m0 10v5m10-79v15m0 26v23m10-79v56m10-71v30m0 41v11m10-67v94m10-94v15m0 15v26m0 23v15m20-64v13m0 13v11m0 12v15m10-64v13m0 13v38m10-51v13m0 11v27m10-64v37m0 12v15m20-79v15m0 26v38m10-79v15m0 13v13m10-56v56m0 23v10m20-59v26m0 23v15"/>
<path stroke="#00ffdf" stroke-width="10" d="M1055 4013v21m10 0v20m20-288v26m10-54v54m10 26v45m30 191v19m20-39v20m30-20v20m50 0v19m100-39v20m50-406v31m50 113v26m60 195v21m10-21v21m30-242v26m0 236v19m10-39v39m10-19v19m40-19v37m10-18v18m20 0v17m20-316v26m20 236v19m10-19v19m10-39v20m30-262v26m0 255v35m10-54v37m10-18v18m20-353v54m10 0v26m10-80v28m10 0v52m10-26v26m10-26v26m20-52v26m10 0v26m0 255v18m10-353v28m10-28v28m70 268v20m200-90v26m350 44v20m20 0v19m40-19v19m20-210v44m40 184v17m60 30v15m10-15v15m10-30v15m10-30v15m50 15v15m10-246v29m60-29v29m0 187v15m40-231v29m0 187v15m30-30v15m30-187v28m0 174v15m20-30v15m10 0v15m50-45v15m20-216v29m10-29v29m20 28v26m0 118v15m220 0v43m10-28v15m10 26v23m50-94v58m10-75v17m0 94v15"/>
<path stroke="#00ff20" stroke-width="10" d="M1065 4013v21m40-127v29m20-118v45m10 0v44m0 127v20m50-41v21m20-296v28m0 268v20m10-375v30m10-30v30m10-61v61m30 227v28m10-255v29m0 252v23m10-365v31m10 0v30m10-30v59m10-59v59m10 252v23m10 0v21m10-355v30m10 255v26m10-281v29m10-59v59m0 275v21m10-355v30m10 0v29m0 275v21m20-216v45m0 150v21m10-216v45m10 127v23m10 0v21m20-21v21m20-216v45m10 101v26m20-198v26m40 195v21m20 0v20m50-41v21m10 20v19m10-39v20m10-236v45m0 101v26m10 23v21m10-21v21m10-44v23m30 0v21m20-216v45m10-45v45m40-45v45m30 191v19m60-19v19m10-39v20m20-64v23m30-275v28m10-28v28m30-57v29m30 252v23m110-304v57m20-28v28m20 224v23m30-304v57m20 224v23m80-304v29m130 296v20m10-236v45m30 171v20m20-288v52m50 0v45m20 44v29m30-118v45m20 210v18m10-18v18m30-155v28m40-28v28m10 127v17m20-172v28m10-28v28m10 0v26m20-54v28m40 144v15m10-187v28m10-28v28m0 144v15m10-187v28m30-28v28m20-28v28m30 159v15m10-174v26m10-83v29m50-29v29m10 28v26m10-83v29m0 155v17m10-144v26m10-26v26m10-26v26m10-26v26m10 44v39"/>
<path stroke="#ffca00" stroke-width="10" d="M1205 3792v26m50-26v26m0 89v29m100-170v26m390 115v29m60-73v44m0 83v23m70 0v21m20-44v23m50-150v44m130 83v23m110-150v44m90-44v44m0 83v23m20-23v23m60 0v21m10 0v20m30-20v20m130-90v26m40 44v20m20 0v19m50-39v20m20 19v18m10-18v18m10-57v39m70-39v20m40 19v18m50-78v60m20-60v21m50 57v17m10-95v21m10-21v21"/>
<path stroke="#ff0000" stroke-width="10" d="M1205 3818v118m10-144v26m0 89v29m10-144v26m0 89v29m10-144v26m0 118v28m10-57v29m10-118v89m20-115v26m10-26v26m0 118v28m10-172v71m10-71v115m10-115v26m0 45v73m10-144v26m0 45v44m10-115v26m0 45v44m10-115v26m0 45v73m20-144v115m10-115v144m10-29v57m10-146v89m360-44v44m0 83v23m10-77v54m10 0v44m10-127v29m0 77v41m10-147v29m0 54v23m10-106v29m0 28v26m10-83v83m10-83v29m0 77v41m10-147v83m10 0v44m10-171v44m0 83v23m10-106v83m10-83v83m10-83v57m10 0v26m30 0v23m30-106v29m10-29v29m30 28v26m40-83v29m10-73v44m10-44v44m30 57v26m10-127v44m30-44v44m20-44v44m70-44v44m70 0v29m20-29v29m0 28v26m10-54v28m0 49v21m10-21v21m80-21v21m30-127v29m10-29v29m20-29v29m30 0v54m0 23v21m10-44v23m10-49v26m0 23v21m10 0v20m20-90v26m40 0v23m10-23v44m20 0v39m10-19v19"/>
<path stroke="#ff7000" stroke-width="10" d="M1205 3936v28m10-28v28m110-57v29m10 0v28m10-198v26m50 0v26m370 45v44m0 106v21m50-171v44m20 106v21m30-171v44m0 83v23m20-49v26m30-127v44m20 29v28m70 0v26m60-127v44m90-44v44m100 57v26m20-83v29m20-29v29m50 98v20m20-118v28m30-28v28m20 49v21m90-70v26m0 44v20m40-20v20m60-20v20m190-20v20m100 0v37m10-18v18m10-57v20m20-20v39"/>
<path stroke="#ffb000" stroke-width="10" d="M1215 3766v26m20-26v26m10-26v26m90-26v26m20 115v29m10 0v28m380 0v26m50 44v20m20-41v21m20-171v44m140-44v44m140-44v44m10 29v28m110-101v44m140 127v20m50-147v29m90 0v28m60 0v26m40 23v21m130 20v37m10-37v19m50-39v20m50 0v19m20-60v41m20-20v20m10 0v19m10-19v19m10-39v20"/>
<path stroke="#fff" stroke-width="10" d="M1215 3818v89m10-89v89m10-89v118m10-118v89m20-115v71m10-45v89m10-89v118m10-73v44m20-89v45m10-45v45m10-45v45m10-45v45m10-45v45m30-45v89m370 0v83m10-83v29m10-29v83m10-54v77m10-77v54m30-54v77m20-106v83m10-83v83m40-83v57m10-57v29m10-29v57m10-28v54m10-83v29m10 0v54m10-54v54m10-54v54m10-54v54m10-83v83m10-83v57m10-57v57m10-57v83m10-83v57m10-28v54m10-83v57m10-57v57m10-57v57m10-28v54m10-83v57m10-57v83m10-83v57m10-57v57m10-57v29m10-29v57m10-57v29m10-29v57m10-57v83m10-83v83m10-83v57m10-57v57m10-57v57m10-57v57m10-57v57m10-57v57m10-57v29m10-29v57m10-57v29m10 0v54m10-54v54m10-54v54m10-54v28m10 0v49m10-77v77m10-77v77m10-49v70m10-98v77m10-49v70m10-70v70m10-98v77m10-49v70m10-98v77m10-77v77m10-77v77m10-77v77m10-77v77m10-77v77m10-77v77m10-77v77m10-77v77m10-23v23m10 0v21m10-44v23m10-23v44m10-70v70m10-44v44m10-44v64m10-90v70m10-44v64m10-41v41m10-20v20"/>
<path stroke="#ff9600" stroke-width="10" d="M1225 3766v26m20 144v28m20-198v26m10-26v26m10-26v26m30-26v26m0 144v28m10-198v26m40-26v26m10-26v26m500 71v44m10-44v44m60 0v29m10-73v44m50-44v44m80-44v44m50-44v44m10 29v28m460 49v21m20 0v20m30-20v39m130-39v39m10-19v19m10-19v19m50-39v20m10-20v20m70 19v18"/>
<path stroke="#ff2600" stroke-width="10" d="M1225 3936v28m10 0v26m10-198v26m20 45v44m20 57v26m10-83v29m10-29v29m30-29v29m30-29v29m20-144v26m10 89v29m360 77v21m20-171v44m20 106v21m10-98v28m10 26v23m10-150v44m20-44v44m50-44v44m20 57v26m20-127v44m20 83v23m10-150v44m50-44v44m10-44v44m50 0v29m30-73v44m70-44v44m30 57v26m50-127v44m80 106v21"/>
<path stroke="#ff4b00" stroke-width="10" d="M1275 3907v29m20-170v26m10-26v26m40 144v28m10-172v26m0 45v44m20 29v28m20-28v28m370 26v23m20-150v44m10-44v44m40 83v23m40-23v23m30-150v44m0 29v28m20-101v73m50-29v29m10-73v44m10-44v44m40-44v44m0 83v23m20-49v26m20-127v44m80 57v26m10-127v44m30-44v44m10-44v44m20-44v44m20-44v44m20-44v44m0 29v28m20-101v44m0 83v23m100 0v21m70-21v21m30-21v21m140 39v18"/>
<path stroke="#0060ff" stroke-width="40" d="M940 4217v88m0 180v31"/>
<path stroke="#0040ff" stroke-width="40" d="M940 4305v39"/>
<path stroke="#1900de" stroke-width="40" d="M940 4344v37"/>
<path stroke="#3e0078" stroke-width="40" d="M940 4381v36m0 632v5"/>
<path stroke="#38009b" stroke-width="40" d="M940 4417v35"/>
<path stroke="#0020ff" stroke-width="40" d="M940 4452v33"/>
<path stroke="#00a0ff" stroke-width="40" d="M940 4516v30"/>
<path stroke="#00dfff" stroke-width="40" d="M940 4546v29"/>
<path stroke="#00ffdf" stroke-width="40" d="M940 4575v28"/>
<path stroke="#00ffa0" stroke-width="40" d="M940 4603v26"/>
<path stroke="#00ff60" stroke-width="40" d="M940 4629v26"/>
<path stroke="#23ff00" stroke-width="40" d="M940 4655v45"/>
<path stroke="#ffca00" stroke-width="40" d="M940 4700v44"/>
<path stroke="#ff0000" stroke-width="40" d="M940 4744v83"/>
<path stroke="#ff2600" stroke-width="40" d="M940 4827v23"/>
<path stroke="#e2ff00" stroke-width="40" d="M940 4850v21"/>
<path stroke="#00ff20" stroke-width="40" d="M940 4871v20"/>
<path stroke="#00ffff" stroke-width="40" d="M940 4891v19"/>
<path stroke="#3200be" stroke-width="40" d="M940 4910v18"/>
<path stroke="#2d0056" stroke-width="40" d="M940 4928v62m0 26v33"/>
<path stroke="#1c0034" stroke-width="40" d="M940 4990v26"/>
<path stroke="#000000" stroke-width="20" d="M970 4217v837"/>
<path stroke="#0060ff" stroke-width="10" d="M985 4217v88m0 180v31m0 394v18m20-664v41m0 180v31m10-299v4m0 295v30m20-329v127m10-80v41m30-88v4m0 264v31m10-299v88m10-88v47m0 221v31m10 0v30m30-94v33m10-268v4m10-4v4m0 43v80m0 141v31m10-64v33m10-268v4m10-4v88m30-84v84m0 566v20m0 37v17m10-728v47m0 681v15m0 15v15m0 13v36m10-212v23m0 21v20m0 84v15m20-773v4m0 650v20m0 19v18m0 17v15m10-743v88m0 586v19m0 65v15m0 37v12m0 10v5m10-109v15m0 67v12m10-12v12m20-818v43m0 726v13m10-786v4m0 629v21m10-654v4m0 650v20m0 19v35m0 15v15m0 15v13m10-786v47m0 739v24m20-156v20m10-670v84m0 655v43m0 36v10m10-104v15m10-579v36m0 454v20m10-670v43m0 188v33m10-268v4m0 739v15m10-758v47m0 726v26m10-26v13m20-13v13m10-43v15m10-754v43m20 739v13m10-672v37m0 622v13m10-799v127m0 231v28m0 413v11m10-37v13m10-428v28m10-28v28m0 357v15m10 0v15m10 0v13m10-782v43m0 726v13m10-13v13m10-28v15m10-726v117m0 194v28m10 372v15m40-769v43m0 41v39m10-127v4m20 769v13m10-786v4m0 43v41m0 39v37m20-164v88m0 698v13m10-799v4m0 769v13m30-698v76m0 594v28m10-622v36m0 558v15m0 37v12m20-658v71m0 523v28m10-586v35m0 538v13m10-659v37m0 547v17m0 94v10m10-46v13m0 11v12m10-658v71m0 575v12m10-79v15m0 41v11m0 12v10m10-668v36m0 543v30m0 37v12m20-622v35m0 523v15m0 13v13m0 33v5m10-94v15m0 52v12m10-111v17m0 15v15m0 64v15m10-79v15m0 13v13m0 23v10m10-668v71m0 493v45m0 13v13m10 23v10m10-668v36m0 543v30m10-646v37m0 248v26m0 320v15m0 26v11m10-575v33m10-68v35m0 575v12m10-658v36m0 622v10m10-668v36m0 543v30m0 49v10m10-668v36m0 573v59m10-668v104m10-141v37m0 564v15m10-579v36m0 573v13m10-622v36m10-36v36m0 558v28m0 13v11m10-683v37m0 594v41m10-599v68m0 518v24m10-646v104m10-104v36m0 35v33m10-141v37m0 529v18m0 17v15m0 89v5m10-673v71m0 551v24m10-37v26m0 23v10m10-597v33m0 531v11m10-646v71m10-71v36m0 573v59m10-668v36m0 212v26m0 320v28m0 24v12m10-658v71m10 575v12m0 10v5m10-79v15m0 59v5m10-673v71m0 538v59m10-668v71m10 523v28m10-622v36m0 558v15m0 13v13m0 11v12m20 0v10m10-668v36m0 573v13m10-622v36m0 599v11m10-610v68m10 460v15m10-579v36m0 212v26m10 305v30m0 13v13m10-26v13m0 24v12m20-23v11m10-11v11m10-575v33m10-141v37m0 622v24m0 12v15m10-673v36m0 610v12m10-658v71m0 587v10m10-668v71m0 575v12m10-622v35m0 597v5m10-602v33m10-33v33m10-33v33m20-104v71m0 575v27m10-637v35m10-71v104m0 554v10m10-668v36m0 610v27m10-38v11m10-575v33m20-68v35m10-71v36m0 632v5m10-673v36m10 35v33m20 564v5m10-673v36m40-196v84m0 39v73m0 632v5m10-837v47m20 763v12m20-775v41m10 734v10m10-10v15m10-15v15m20-15v15m10-15v15m30-5v5m20-27v12m20-822v4m10 828v5m20-5v5m20-27v12m20 0v10m10 0v5m10-15v10m20 0v5m10-354v44m0 305v5m10-5v5m10-5v5m30-5v5m10-837v4m0 828v5m10-27v12m30 0v15m20-354v44m0 305v5m40-833v84m20 545v21m70-44v23m20 0v21m40-654v4m40 629v21m80-44v23m20-23v23m10-23v23m10-23v23m40 0v21m30 0v20m80-20v20m10 0v19m30 18v17m90-35v18m20-18v18"/>
<path stroke="#0040ff" stroke-width="10" d="M985 4305v39m10-127v127m10-123v43m10 0v80m10-127v88m0 180v31m0 375v19m20-693v47m0 41v39m20-127v127m0 141v31m10-211v39m10-39v39m10-80v41m10-88v127m0 141v31m10-295v43m0 221v31m10-299v47m0 41v39m0 141v31m20-295v84m0 180v31m20-252v80m10-123v123m0 141v31m10-211v39m0 108v33m10-221v41m0 566v20m10-627v41m0 640v15m10-743v4m0 689v18m0 17v15m0 15v41m0 11v12m0 10v5m10-790v80m0 616v15m0 74v5m10-837v47m0 586v21m0 20v19m0 18v17m0 71v23m10-822v4m0 670v37m0 111v15m10-790v41m0 623v17m0 58v24m10-722v39m0 601v15m0 30v13m0 13v11m10-810v47m0 41v39m0 527v20m0 84v28m0 36v10m10-832v88m0 623v17m0 15v30m0 26v11m10-646v36m0 493v18m20-707v123m0 527v57m0 111v15m10-833v123m0 547v19m0 65v15m0 13v13m0 23v15m10-749v39m0 547v37m0 32v15m10-754v43m0 607v20m0 136v12m20-822v4m0 84v39m0 566v50m0 56v11m10-810v88m0 623v17m0 30v15m0 13v13m10-799v127m0 547v37m10-711v4m0 43v117m0 510v54m0 15v15m0 74v5m10-749v39m0 631v28m0 24v12m10-775v41m10-88v88m10 298v26m0 361v13m30-786v4m0 123v37m0 194v28m10-386v200m0 573v26m10-752v41m0 39v37m10-160v43m0 41v39m0 646v13m10-659v73m10-196v43m10-43v84m0 698v13m10-41v15m10-773v127m0 231v28m0 387v26m10-799v47m0 739v13m10-799v4m0 43v41m0 76v36m10-200v4m0 43v41m0 698v13m20-795v43m0 117v36m0 573v26m10-413v26m10 346v15m10-769v43m20 0v41m0 39v37m10-160v160m10-164v88m0 39v37m10-164v4m30 84v76m10-160v160m20-117v41m20 685v13m20-551v33m0 518v13m10-564v33m10-104v36m10 0v68m10-33v33m0 531v11m10-610v35m0 538v13m10-586v35m0 551v13m10-635v36m0 528v15m0 15v15m0 49v10m10-597v33m0 531v33m10-668v36m0 558v15m0 13v13m0 33v5m10-710v37m0 622v13m10-635v71m0 508v15m0 15v13m10 13v23m10-587v33m0 531v11m10-398v26m0 335v26m10-635v71m10 33v31m0 139v45m10-248v33m10 490v52m10-37v49m10-622v35m0 177v26m20 305v15m0 28v13m10-599v68m10-33v33m10-68v68m0 518v13m0 11v12m10-658v71m10 575v12m20-410v26m10-238v35m0 508v15m20-594v71m0 523v15m0 26v23m10-658v71m10 64v30m10-129v35m10 0v33m0 518v24m0 12v10m10-597v33m10-68v35m10-35v68m0 505v59m10-597v33m10-33v33m10-104v36m0 586v36m10-622v35m0 538v13m0 13v11m10-646v104m10-68v68m10-68v35m10-35v35m20-108v37m0 579v43m0 13v11m20-646v36m0 573v13m0 13v23m10-658v71m10-35v35m0 64v30m10-129v35m10-71v71m0 575v27m20-673v104m0 542v12m10-622v35m0 587v15m10-5v5m10-15v15m40-569v31m10-64v33m20-33v33m20-68v68m10-104v36m0 610v12m0 10v5m10-569v31m10-64v33m20-68v35m10-35v35m10-35v35m10-35v35m0 151v26m10-248v36m10 0v35m10-35v68m0 144v26m10-238v35m10-71v71m10-147v39m10-39v76m0 274v45m10-483v47m0 41v39m10 705v5m20-833v43m0 80v37m40 668v5m10-749v39m20-127v4m20-4v4m20 818v10m10-785v41m30 0v39m30 695v15m10-837v4m0 43v41m20-88v127m10 705v5m10-837v4m0 43v41m0 76v36m50-200v164m0 319v44m10 305v5m40-5v5m10-15v10m40-349v44m10 106v21m20-490v36m10-153v41m0 522v23m20-23v23m30 0v21m30-654v4m10 580v26m30-610v127m0 73v35m10 375v23m10-545v39m30-127v4m20 606v23m30-545v39m50-127v4m80 650v20m30-20v20m10 0v19m10 0v18m70-37v19m10-39v20m50-20v20m20-674v4m10 689v18m10-623v39"/>
<path stroke="#3200be" stroke-width="10" d="M985 4344v37m20 658v10m20-705v37m20 547v17m50-528v35m10-108v37m10-76v39m10 0v37m10 0v71m0 476v32m0 67v12m30 10v5m20-637v35m0 597v5m10-637v35m0 523v15m10-573v35m0 575v12m150-23v11m60-542v61m40-165v36m30 0v35m10 575v22m10-632v35m0 94v29m0 464v15m30-51v13m10 0v11m40-11v11m10 12v10m10-33v11m10-646v36m10 586v13m10-13v13m10 11v12m40-12v27m20-673v36m0 599v11m40-610v99m0 511v12m20-523v30m50-61v31m20-31v31m10-31v31m40-31v31m30-31v31m10-31v31m10 0v30m20-61v31m0 113v26m10-26v26m40-26v26m10-139v30m10-61v31m0 113v26m30-139v30m10-30v30m30 83v26m20-26v26m30-139v30m30 83v26m20-170v31m10-31v31m0 113v26m40-26v26m10-139v30m20-30v30m10-61v31m10-31v31m60-31v31m210-31v31m40-31v31m20-31v31m10-299v4m0 196v68m20 0v31m20-31v31m10-31v31m50-31v31m10-31v31m20-135v36m10 68v31m20-31v31m20-99v68m10-68v35m10-35v35m10 64v30m10-94v33m10 31v30m10-61v31m30-64v33m10-33v64m20 0v59m20-90v31m10-31v31m10-295v84m0 39v108m30 0v33m10-33v33m10-268v4m0 160v71m10 33v31m0 30v83m10-177v33m10-141v37m10 274v45m0 44v29m10-288v31m10-31v61m10-129v68m10-33v33m20-268v4m0 84v39m0 73v35m10-71v135m20-99v99m10-295v43m0 41v39m0 37v135m10-211v39m0 172v30m10-129v68m0 316v26m10-281v29m0 54v26m0 89v29m10-392v71m10 94v57m0 26v144m0 28v26m10-375v64m0 59v28m10-186v35m10 94v29m0 54v26m0 45v44m10-363v104m0 342v23m10-633v4m0 160v36m0 35v33m10-264v43m0 188v94m0 281v23m10-469v36m10 186v26m10-212v68m10-68v35m10 0v33m0 316v26m10-563v153m10 35v64m10-31v31m10-99v35m0 349v26m10-610v4m0 43v80m0 37v36m10 0v68m10 316v26m10-410v99m0 285v26m10-26v26m10-342v31m10-252v41m0 39v37m0 490v20m10-439v33m0 31v30m10-61v61m0 281v23m10-433v68m10 0v31m0 375v19m10-493v35m10-108v73m10-112v39m0 37v71m0 419v20m10-670v43m0 117v36m10-36v36m0 35v64m10-135v71m0 33v31m10 0v30m0 325v20m10-439v64m0 334v21m10-527v73m10 0v35m0 419v20m10-41v41m10-439v94m30-30v30m0 345v19m10-493v68m0 406v19m10-425v31m0 59v28m0 268v20m10-627v80m0 37v36m0 474v19m10-646v80m0 37v36m10-36v36"/>
<path stroke="#2d0056" stroke-width="10" d="M985 4381v71m0 493v30m10-30v15m0 43v13m0 33v5m10-79v15m0 26v23m10-658v71m0 523v15m0 26v11m10 12v15m10-126v17m0 82v27m10-109v15m0 30v13m0 24v12m0 10v5m10-109v15m0 15v15m0 37v22m10-74v15m10-62v32m0 15v52m10-99v17m0 58v24m0 12v15m10-673v36m0 528v45m0 13v13m10-88v17m20-564v36m0 586v13m0 23v10m20-121v17m0 58v13m10-56v15m10-30v15m0 30v13m10-75v17m0 82v12m0 10v5m10-38v11m240-610v129m10-129v68m0 564v5m10-637v35m0 33v61m0 503v5m10-51v13m10-531v61m10-94v64m0 523v10m10-597v33m0 31v30m0 503v5m30-602v94m0 493v10m10-533v30m10-129v35m20 33v31m0 523v10m10-597v33m0 554v10m10-564v31m0 30v29m0 464v10m10-632v35m10 0v33m10-68v35m20-71v135m10-99v99m10-64v64m20-135v36m0 68v31m0 487v36m0 10v5m10-637v35m0 551v13m0 23v15m20-51v13m20-531v31m0 511v12m10-587v64m10-135v36m0 632v5m10-15v10m100-533v30m20-30v30m210-30v30m280-30v30m80-30v59m10-29v29m20-59v30m50-30v59m40-29v29m10-29v29m10-29v29m30 28v26m10-83v57m10-57v29m20-29v29m0 54v26m20-52v26m10-113v30m10 0v57m10-87v30m10 0v109m10-109v29m0 54v26m10-26v26m10 0v45m10-97v26m10-83v29m10-90v31m10 59v54m10-54v28m0 26v71m10-97v26m0 26v45m10-125v54m30 26v45m10-71v71m10-184v30m20 0v29m10 28v52m10-139v30m30-30v30m10 29v28m0 26v71m10-184v30m30-61v31m10 0v87m0 52v45m10-184v30m10-30v59m10 0v28m30-57v29m0 54v26m0 89v29m0 28v26m10-281v57m0 26v71m20-154v29m0 80v45m10 44v29m10-227v29m0 28v26m10-54v28m0 26v26m10-139v59m0 28v26m10-113v30m10 57v26m0 26v45m0 44v29m0 28v26m10-311v30m10 198v29m10-257v30m10 109v45m10-71v115m0 29v28m20-285v30m30 0v83m0 26v45m20-154v29m0 54v71m10-184v30m0 57v26m10-83v57m0 52v45m0 44v29m0 28v26m10-311v59m0 125v44m10-198v29m10 80v89m0 29v28m10-172v26m0 45v73m10-227v29m0 28v97m20-125v28m0 52v89m0 57v26m10-281v29m0 28v52m0 45v44m10-228v30m0 198v57m10-285v30m10 109v118m0 28v26m10-281v29m0 28v52m0 45v44m0 29v28m10-198v52m0 89v57m10-255v255m10-198v26m0 26v45m0 44v29m0 28v26m10-198v26m0 45v73m10-198v54m0 26v45m0 44v29m10-144v26m10 45v101m0 26v44m10-325v29m0 28v26m10-83v57m0 26v26m0 118v28m0 49v21m10-216v89m0 29v28m0 49v21m10-296v28m0 97v44m0 29v77m10-106v29m0 77v41m10-236v146m10-255v109m0 45v73m0 77v21m10-70v26m10-224v52m0 45v44m0 29v28m10-172v71m10-125v28m0 97v44m0 83v44m10-325v29m0 54v71m0 73v28m10-226v28m0 26v26m0 146v70m10-325v29m0 169v57m10-226v28m0 141v29m10-118v89m0 57v26m0 44v20m10-236v45m0 150v21m10-171v44m0 29v28m10-384v35m20 123v54"/>
<path stroke="#0000ff" stroke-width="10" d="M985 4452v33m20-141v37m0 71v33m10-141v37m0 547v17m10-640v39m10 108v33m10-33v33m20-33v33m10-33v33m10-33v33m10-180v39m40 0v37m0 668v5m10-602v33m10-141v37m0 71v33m20-33v33m10-141v37m10-37v73m0 493v18m0 62v13m0 13v11m0 12v15m10-749v39m0 37v36m0 454v20m0 19v18m0 32v43m0 46v5m30-144v18m0 32v15m0 74v5m10-749v39m0 584v62m0 13v36m10 0v10m20-121v17m10 58v13m10-752v117m0 490v20m0 37v32m0 30v13m0 46v5m20-126v17m0 71v11m20 12v10m10-104v30m0 28v13m0 23v15m10-790v41m0 655v15m0 74v5m20-749v39m0 527v20m0 69v15m0 52v12m0 10v5m10-637v35m0 493v45m0 26v11m0 12v10m10-59v49m10-695v37m0 622v24m0 22v5m10-710v37m0 165v29m10-270v39m0 659v13m10-795v43m0 41v112m0 586v24m10-683v73m0 158v28m10-386v4m0 354v28m0 372v15m10-685v39m0 659v24m30-481v29m0 441v11m10 0v12m10-734v112m10 129v29m10-231v37m20 0v36m0 599v11m20-683v37m10-117v41m0 76v36m20-200v164m0 609v13m10-739v80m0 172v30m0 444v13m30 0v13m50-672v37m0 594v15m30-685v39m20 659v24m50-610v68m0 505v13m0 13v23m30-12v12m10-23v11m10-575v33m0 518v13m0 11v12m20-587v33m0 505v13m0 13v11m10-610v35m0 64v30m0 429v15m10-538v33m30 542v12m30-410v26m20-170v31m10-31v31m80-31v31m10-31v31m10-135v36m0 599v23m30-554v31m60-31v31m10-31v31m10 0v30m30-61v31m10-31v31m10 113v26m20-26v26m10-203v33m0 144v26m60-203v33m10 0v31m50-31v31m70-31v31m10-31v31m50-31v31m10-31v31m10-31v31m0 87v26m50-144v31m10-31v31m10-99v35m0 177v26m10-238v35m0 33v31m10-172v37m10-160v84m0 76v36m10-196v84m0 39v108m20-231v43m0 153v35m10-235v200m10-200v88m0 39v37m10-164v4m0 43v80m10-127v4m0 43v41m0 76v71m10-147v39m0 37v36m10-36v104m10-221v41m0 39v73m10-112v76m10-160v231m20-231v43m0 188v33m10-180v112m10-200v47m0 41v39m0 37v71m10-108v37m0 36v35m10-231v43m0 41v39m0 37v36m10 632v5m10-837v47m0 80v37m10-76v39m0 108v33m10-268v4m0 43v41m0 744v5m10-602v33m10-264v43m0 80v73m10-196v43m0 41v39m0 73v35m0 33v31m10-295v43m0 41v76m10-164v4m0 43v80m0 37v36m10-200v4m0 43v80m0 37v36m10-196v43m0 117v36m0 283v44m10-292v33m10-264v84m0 39v37m0 36v35m10-235v4m0 43v117m0 36v35m10-231v84m0 112v35m10 587v15m10-673v36m10-200v47m0 41v39m0 705v5m10-837v4m0 43v80m0 37v36m10-196v43m0 41v112m10-196v84m10 76v71m10-235v4m0 43v153m10-200v47m0 41v39m10 73v68m10-268v4m0 84v76m10-117v117m0 446v23m10-629v123m0 37v36m10-200v4m0 606v23m10-629v43m20-47v164m10-164v4m0 606v23m10-545v39m0 37v36m10-200v4m10-4v4m10-4v47m10 188v64m0 59v28m20-222v71m10-188v153m10-200v4m0 84v76m10-117v41m0 39v37m0 36v35m0 33v31m0 334v21m10-654v47m0 41v39m10-80v41m10-88v4m0 43v80m0 37v36m0 433v21m10-650v84m10 39v73m0 410v23m10-633v47m0 41v39m0 37v36m10-153v41m0 39v37m0 446v23m10-629v43m0 117v36m20-153v41m0 76v36m10-200v4m0 43v41m10 0v76m10-37v37m10-164v88m10-88v47m10-47v200m10-196v43m0 563v23m10-633v4m0 43v80m0 506v21m10-650v43m0 41v39m10-127v4m0 43v41m0 76v36m10-196v231m0 398v21m10-654v88m0 76v36m10-112v76m10-164v47m10 0v41m0 586v19m30-605v39m0 506v21m10-654v47m0 41v39m10-123v84m0 39v73m10-112v112m10-200v4m0 689v18m10-711v47m10-47v127m10-127v4m0 84v147m10-235v47m0 41v39m0 37v36m10-153v117m10-160v43m0 41v147m10-235v47m0 41v39m10-80v41m0 76v36m0 474v19m30-693v4m0 84v39m0 547v19"/>
<path stroke="#00a0ff" stroke-width="10" d="M985 4516v30m10 0v29m10-59v30m20-30v30m20 0v29m10-59v30m10 0v29m20-59v30m10 325v20m20-345v29m20-358v4m0 264v31m20 0v30m0 364v18m10-711v47m0 221v31m10 0v30m0 345v19m10-425v31m0 375v19m10-458v33m30 406v19m70-493v35m10-71v36m0 454v39m0 18v32m0 43v36m0 10v5m30-710v37m30-37v37m0 510v19m20-458v33m20 460v15m10-385v28m0 372v15m10-387v26m0 346v15m20-387v26m0 331v15m10-372v26m0 316v15m10 15v15m10-15v15m10-387v26m30-26v26m0 346v15m10-15v15m30-15v15m10-15v15m10-387v26m0 346v15m10-30v15m20-346v26m10-109v29m40 415v13m10-28v15m20-474v30m0 457v13m10-56v15m40-459v30m20-202v37m0 564v15m0 79v10m10-104v15m10-616v37m0 668v5m20-749v39m10 0v37m0 658v10m10-705v37m0 564v15m0 15v15m0 49v10m10-705v37m0 547v17m0 104v5m10-126v17m0 94v10m20-89v15m0 15v13m10-698v39m0 202v29m0 370v15m10-655v39m10 0v37m0 547v17m10-17v17m0 94v10m10-74v15m0 59v5m10-126v17m0 104v5m20-673v36m0 599v11m0 12v15m10-94v15m10-65v50m0 89v5m10-710v37m0 547v32m0 89v5m10-94v15m0 74v5m10-425v26m0 320v28m0 13v11m10-156v39m0 139v5m10-538v30m0 399v30m10-631v37m0 594v28m0 13v11m10 12v10m10-121v17m0 71v11m10-683v37m0 579v15m0 64v10m10-10v10m20-785v80m0 527v20m10 69v15m10-30v15m0 89v5m10-64v13m0 36v10m10-104v15m10-331v26m0 305v15m10-631v37m0 547v47m10-631v37m0 579v15m0 15v13m10-28v15m10-45v30m10-631v37m10-37v37m0 594v28m0 13v23m10-94v15m0 79v10m10-104v15m0 79v10m10-705v37m0 579v15m0 64v10m10-59v26m0 33v5m20-94v15m0 15v13m10-13v26m0 11v22m10-158v19m0 129v10m10-74v28m0 13v11m10 12v10m10-705v37m0 579v15m10 28v13m0 11v12m0 10v5m10-5v5m10-710v37m0 564v58m10-622v36m0 610v27m20-79v15m0 13v13m10-56v15m0 15v49m10-36v24m10-11v11m10 12v10m10-668v36m0 622v15m10-673v36m0 622v10m10-10v10m40-33v11m10-683v37m0 594v41m20-441v28m0 436v15m10-15v15m30-15v10m10-705v37m0 668v5m10-710v37m0 635v11m10-683v37m0 646v12m10 10v5m10-5v5m10-790v117m0 658v15m10-15v10m10-10v10m10-10v15m10-38v11m30 0v12m0 10v5m30-27v12m10-12v12m10-12v12m10 0v15m10-354v44m50 295v10m10-10v10m10 0v5m20-27v12m30-12v12m20-12v12m20 0v10m30-10v10m70-22v12m30 0v10m40-222v23m40 0v21m20 0v20m10-41v21m10-21v21m40-44v23m40-23v23m10 21v20m40-20v20m60-41v21m40-21v21m120 39v18m10-18v18m70-37v19m20 0v18m10-37v19m10-19v19"/>
<path stroke="#00dfff" stroke-width="10" d="M985 4546v29m10 0v28m50-28v28m0 307v18m10-18v18m30-382v29m0 316v19m30-335v28m20-87v30m20 0v29m10-59v30m20-30v30m60 304v21m20-21v21m20-527v37m70-37v37m30 469v21m20 39v18m10 32v15m20-15v15m40-372v26m0 331v15m10-346v26m20-52v26m0 346v15m10-30v15m10-15v15m40-15v15m90-459v30m10-30v30m10-30v30m10 444v13m30-28v15m30-444v29m10-354v123m10 584v17m0 94v15m10-837v127m30 584v17m0 104v5m10-790v80m0 584v17m10-728v127m10-123v123m20-39v76m0 564v15m30-743v88m10-84v123m0 566v18m10-664v117m0 564v15m10-743v4m0 43v41m10-88v127m0 506v78m10 47v15m10-726v80m0 584v32m0 89v5m10-837v4m10-4v47m10-47v88m0 586v54m10-601v37m0 564v15m20-696v80m0 584v17m0 94v15m10-790v41m0 640v15m10-743v88m0 545v41m10-674v88m0 545v41m0 148v15m10-790v80m0 547v19m0 139v5m10-749v39m0 601v15m0 89v5m10-710v37m0 579v30m0 13v13m20-795v123m0 527v20m0 19v50m10-743v47m0 627v19m10-689v123m0 566v50m10-743v4m0 43v80m0 547v54m0 104v5m10-837v47m0 41v39m10-127v88m0 566v20m0 19v18m10 0v32m10-739v43m0 41v76m0 564v30m10-758v47m10-47v127m0 527v57m10-623v39m0 601v30m0 64v10m10-832v47m10-47v127m0 527v39m10-646v80m0 566v50m0 89v5m10-710v37m0 529v18m0 32v15m10-754v123m0 506v78m0 111v15m10-790v41m0 605v50m0 79v10m10-705v37m0 579v15m10-758v47m10 80v37m0 579v15m10-758v47m0 646v18m10-711v127m0 547v54m10-681v80m0 566v18m10-711v127m0 527v20m0 19v80m20-685v39m0 672v11m10-810v4m0 325v29m0 296v39m0 50v15m10-758v47m10-47v88m0 270v28m10-386v47m10-47v127m0 566v50m0 30v26m10-711v76m0 609v13m0 13v11m10-683v37m0 646v12m10-775v117m0 194v28m0 372v15m0 26v11m10-763v117m0 564v15m0 43v13m10-799v88m0 586v37m0 17v45m10-726v117m0 622v13m10-795v123m0 566v35m0 15v56m10-799v127m0 566v50m0 15v41m10-88v17m10-728v164m10-160v160m0 646v12m10-822v88m0 39v37m0 635v11m10-810v4m0 769v37m10-810v4m0 43v41m0 698v13m10-799v4m0 782v24m10-810v47m0 726v26m10-26v13m10-786v4m0 754v28m10-782v84m0 711v11m10-810v47m0 41v39m0 672v11m10-398v26m0 372v12m10-384v45m0 327v12m40-12v12m90 0v10m10-22v12m30 0v10m10-22v12m10-339v44m40 272v11m10 12v10m40-10v10m30-10v10m20 0v5m10-27v12m10-12v12m20-23v11m30-327v44m10-44v44m20 0v29m40 77v21m10 0v20m50-20v20m70-41v21m160-21v21m50 0v20m10 0v19m90 18v17m30-35v18m10-37v19m10 35v15"/>
<path stroke="#00ffdf" stroke-width="10" d="M985 4575v28m20-28v28m10 0v26m0 281v18m10-325v26m20-26v26m20-26v26m20-54v28m10-28v28m20 0v26m0 221v21m10-268v26m20-54v28m30-28v28m10-57v29m60-231v37m40 0v36m40-73v37m10 490v20m10-547v37m30-37v37m0 469v21m30 20v19m40-281v26m10-26v26m10-26v26m30-52v26m10 331v15m10-346v26m10 290v15m40-331v26m20 290v15m30-15v15m30 15v15m30-30v15m20-30v15m70-743v47m20-47v4m30 689v18m20-18v18m40-37v19m30 18v17m20-118v23m10-629v43m0 646v18m20-78v21m30-654v4m0 650v20m0 19v18m30-57v20m40-20v20m10-674v127m0 584v32m0 79v10m60-178v20m20-20v20m20-20v20m20-41v41m0 158v5m10-204v21m10-21v21m40-21v21m10 0v39m10-307v26m10 262v54m60-54v54m0 30v15m0 13v13m10-166v21m10 20v19m10 0v18m10-353v28m20 307v18m0 17v15m10-385v28m0 325v17m10 0v15m30-69v37m20-37v19m10-335v28m10 342v15m10 0v15m0 15v13m10-43v15m10-15v15m10-15v30m10-15v28m10-43v30m10-30v15m10-30v15m20 30v13m70 24v12m20-23v11m30-11v11m50-327v44m90-44v44m10-44v44m10 283v12m110-339v44m20-44v44m70 106v21m100-21v21m70 20v19m10-19v19m20-39v20m30-20v20m60-20v20m50-20v20m30 37v17m40 0v15m120-32v17m30 0v15m20-32v17"/>
<path stroke="#00ffc0" stroke-width="10" d="M985 4603v26m0 262v19m10-307v26m30 242v20m10-288v26m10 0v26m10-80v28m20-28v28m30 26v26m30-109v29m10 28v26m10-54v28m10-57v29m0 275v21m50-454v35m100 375v23m90-334v30m10 399v15m30-15v15m90-32v17m20 15v15m20-346v26m50 305v15m10-15v15m70 0v15m50-80v18m20-18v18m50-18v18m40 0v17m20-35v18m40-325v26m10 262v19m80-60v21m20-70v26m10 23v21m20 20v37m0 121v5m170-227v23m40 21v20m20-20v20m40 54v15m20-385v28m30 288v19m20 0v18m20-353v28m0 307v18m30-353v28m50 342v15m30 0v15m10-30v15m10-15v15m20 15v15m20 13v13m10 0v11m20-11v11m20-327v44m20 272v11m20-11v11m10-11v11m20-11v11m10-11v11m40-327v44m10-44v44m20 283v12m10-339v44m0 283v12m20-23v11m50-11v11m10-327v44m0 283v12m10-12v12m40 0v10m10-349v44m40 272v11m40 0v12m10-266v28m10 90v19m10-19v19m20-39v20m20-20v20m30 0v19m60-60v21m20 0v20m100-20v20m70-20v20m20-20v20m50 19v18m10-18v18m10 0v17m80-17v17m30-17v17m80 0v15m10-15v15"/>
<path stroke="#00ff80" stroke-width="10" d="M985 4629v26m20 236v19m20-281v26m10 236v19m40-307v26m30 26v45m0 191v19m20-281v26m10-80v28m20 26v26m10-80v28m10 268v20m10-20v20m10-64v23m10-23v23m20 21v20m10-90v26m30-483v37m20 36v35m30-108v37m50 490v20m30-406v31m0 334v21m10-325v29m10 54v26m70 0v45m10 245v15m50-331v26m40 0v45m10-71v26m50 305v15m40 0v15m40-30v15m10-30v15m10-385v54m10-83v29m20-29v29m20 0v54m0 262v19m30-364v29m10-29v29m10 0v28m10 0v26m10-54v28m10 0v26m10-26v26m10 262v19m20-39v20m10-375v30m140 304v21m70-216v45m90-71v26m0 216v20m100-191v44m50 147v19m10-335v28m10-28v28m70-28v28m20 325v17m10-342v26m0 316v15m20-15v15m50-331v26m10 305v15m10-30v15m10 30v13m80-303v44m10-44v44m10-44v44m40 283v12m100-36v13m10 11v12m30-339v44m40 283v12m10-295v29m20 243v11m10-327v44m0 272v11m10-11v11m10-24v13m90-145v20m20 0v19m30-19v19m10 0v18m10-37v19m200-19v19m80-19v19m10 0v18m10 17v15m60-15v15m20-15v15m10-50v18m40 32v15m20-47v17m30-17v17m60 0v15"/>
<path stroke="#00ff00" stroke-width="10" d="M985 4655v45m20-45v45m10 191v19m40-255v45m60 127v23m10-195v45m10-71v26m50-26v26m20-139v59m20-158v68m10-33v33m20-104v165m0 281v23m10-469v36m0 68v61m10-94v94m0 281v23m10-334v30m10 281v23m10-398v33m10-33v64m10-31v31m30 30v29m10-158v129m20 0v29m10-29v29m10 28v26m40 299v17m90-290v45m0 210v18m10-273v45m50-45v45m30-125v28m10-28v28m20-57v29m0 370v15m10-414v29m10-29v29m10 385v15m10-65v18m20-382v29m10 0v28m10 0v26m0 299v17m40-316v26m60-26v26m0 236v19m10-19v19m50-364v57m10 0v26m30 242v20m10-236v45m10-97v26m10-26v26m0 26v45m10 150v21m40-268v26m30-26v26m50-26v26m10 26v45m50-154v29m0 54v26m30 172v23m60-247v26m0 198v23m40-23v23m50-150v44m60-44v44m20 0v29m70 137v18m70 0v17m60 58v13m10-316v44m10 246v13m30-303v44m10 259v13m10-13v13m40-13v13m10-272v29m10 230v13m40-13v13m70-13v13m20-13v13m10 0v11m20-283v29m30 254v12m60-36v13m20 0v11m20 12v10m10-121v17m40-35v18m10-18v18m10 0v17m10-17v17m10 0v15m20-32v17m0 94v10m10-158v19m10-19v37m0 99v12m30-168v20m10 148v15m10-163v19m10-19v19m10 35v15m20 89v5m10-126v17m0 94v10m20-22v12m10-129v18m10-18v18m0 121v5m30-126v17m0 82v12m10-129v18m20-37v19m0 139v5m20-5v5m10-144v18m0 111v10m10-139v18m10 0v17m0 104v5m30-5v5m40-94v15m0 74v5m10-94v15m10-15v15m0 74v5m10-5v5m10-126v17m10 104v5m30-64v13m10 46v5m30-109v15m0 79v15m50-79v15m0 49v10m10 0v5"/>
<path stroke="#e2ff00" stroke-width="10" d="M985 4700v44m10-44v44m40-44v44m10 127v20m20-191v44m0 106v21m10-21v21m60-21v21m10-171v44m0 106v21m60-70v26m20-311v30m0 304v21m10-98v28m160 26v23m30 60v18m50-228v44m10 0v29m20-73v44m30-44v44m20 0v29m60-73v44m30-89v45m0 210v18m10-18v18m10-37v19m10-255v45m10 228v17m10-74v20m10-236v45m0 228v17m10-290v45m10 210v18m70-273v45m30-45v45m80-125v28m10-57v29m50 252v23m10-304v29m90 80v45m10-154v29m40 80v45m20-154v29m50 80v45m40 150v21m20-216v45m50-45v45m10-125v28m10 224v23m110-150v44m80 166v18m60-18v18m30 0v17m20 30v15m30 0v13m10-259v29m40 202v15m60 0v13m60-28v15m10-15v15m40 0v13m40-230v28m10-28v28m10 0v26m20-83v29m60 217v13m30 13v11m10-52v15m20-45v15m30 0v15m10 41v11m10-11v11m50-82v15m0 43v13m30-106v35m0 94v10m10-89v15m30 0v15m10-15v15m10 37v12m20-64v15m10-45v15m10 0v15m20-15v15m0 52v12m20-49v13m10-43v15m10 52v12m10-111v17m40 15v15m10 41v11m10-52v15m0 37v12m10-23v11m10-37v13m0 13v11m10-37v37m20 0v12m70-36v13m10-26v26m30-13v13m10-13v24m30 0v12m20-23v11"/>
<path stroke="#ff4b00" stroke-width="10" d="M985 4744v29m10 0v28m10-57v29m10 54v23m10-106v83m10 0v23m10-49v26m0 23v21m10-127v29m10 0v77m20-23v23m10-49v26m10-54v28m20-57v57m10-101v44m20 0v29m60-170v26m0 172v26m30-224v26m90-26v26m0 198v23m10-247v26m80 221v21m40-70v49m0 21v20m20-64v23m0 21v39m20-19v19m10-39v20m10-147v29m0 98v20m20-147v83m10 0v23m0 21v20m10-118v28m10-28v28m40 70v20m10-147v29m0 28v70m10-127v29m0 28v49m20-150v44m40 0v29m0 54v44m10-171v44m0 147v19m20-60v41m10-147v83m100 44v20m170-90v26m20-252v28m100-28v28m20-57v29m30 252v23m20-275v28m40 52v45m30-154v29m0 80v45m50-97v26m0 26v45m180-45v45m10-45v45m10 0v44m0 147v19m130-109v26m20-54v28m0 159v15m60-15v15m20-15v15m10-15v15m10-30v15m10 15v15m10-217v28m0 159v15m20 0v15m10-45v15m20-15v15m20-159v26m20 133v15m20-148v23m20-23v23m0 125v15m10-140v21m10 119v13m10-202v26m0 133v15m20-202v28m10 26v23m20-49v26m10 133v15m10 0v15m20-62v32m0 15v15m30 0v13m120-13v13m10 24v12m40-23v11m20-24v13m20-13v24m30-37v13m40 0v13m10-13v13m10-41v15"/>
<path stroke="#ff2600" stroke-width="10" d="M985 4773v54m10-26v49m20-77v28m0 49v21m20-98v54m10-54v28m0 26v23m10 0v21m10-127v29m10 54v23m20-77v28m30 0v26m20-83v106m30-49v26m50-252v28m100 0v26m20 172v26m20-224v26m10-26v26m0 172v26m90 23v21m10-98v118m10-41v21m10-127v29m30 28v26m20 0v23m0 21v20m10 37v17m10-144v49m10-49v70m40-21v21m10-98v28m0 70v20m10-118v28m0 49v41m40-147v57m10-101v44m10 29v28m20 70v20m10-118v54m20 64v19m20-39v20m140-41v21m20-325v29m20 0v28m0 224v23m30-275v28m40-57v29m20-29v29m10 0v28m40-28v28m20 224v23m10-304v57m40-28v28m50-28v28m10-28v28m90 198v26m40-224v26m30 0v26m30-26v26m10 118v28m10-172v26m60 216v20m50-147v29m10-118v45m10 44v29m20 0v28m10 109v18m10-184v29m10 155v17m20-172v28m0 144v15m20 0v15m10 0v15m20-189v26m0 118v15m20-159v26m0 118v15m30-187v28m10 174v15m10-217v28m10 0v26m50-26v26m20 0v23m20-49v26m0 148v15m20-217v28m20 174v15m20-163v23m50 110v15m110 28v13m90-26v13m30 0v13m30-41v15m10 13v13m10-13v13m10 11v12m20-49v13m30-13v13m0 13v11m60-52v28m10-13v13"/>
<path stroke="#ff0000" stroke-width="10" d="M985 4827v23m20-77v77m10-49v26m40-54v77m20-106v83m10-83v83m10-83v29m40-29v57m0 26v23m20-77v77m10-150v101m10-57v57m10-57v83m10-172v45m0 73v28m30-198v52m10-52v26m20-26v26m10-26v26m10-26v26m10-26v26m20-54v28m10 0v26m20 0v26m20-26v26m10-26v26m20 0v45m10-45v45m20 73v54m80-54v118m10-118v118m20-118v28m0 26v44m20-21v21m10 20v37m10-78v21m30-98v98m10 0v39m40-166v147m10-147v147m10-147v127m10-70v70m10-127v166m20-166v147m10-147v127m30-171v191m10-20v20m30-20v20m30-20v20m80-64v44m30-216v45m10-125v28m0 247v21m50-296v28m20-57v57m10-28v28m40-28v28m10-57v57m20 224v23m20-275v28m10 198v26m20 0v23m10-275v28m10 247v21m30-325v57m40-28v28m10-57v29m10-29v57m10-28v28m20-28v28m0 224v23m20-150v44m30-115v26m20-26v26m10-26v71m10 73v28m10-146v45m10-71v26m0 89v29m10-144v26m20 45v44m20-115v26m10-26v26m10-26v26m10-26v26m0 89v29m10-118v45m0 44v29m10-118v45m20 44v29m0 98v20m10-20v20m10-191v73m0 118v37m30-18v18m10-273v45m20 44v29m10-73v44m0 166v18m10-155v54m10-54v54m0 101v32m10-159v26m10-26v26m0 101v17m10-118v23m10-49v26m0 133v15m10-174v26m0 118v15m10-133v23m10-49v49m0 95v15m10-133v23m10-49v26m0 118v15m10-159v26m0 118v15m10-159v26m0 118v15m10-133v44m10-70v26m0 118v15m10-133v23m10-23v23m10-49v49m0 110v15m10-174v26m0 118v15m10-133v23m0 110v15m10-148v23m0 110v15m10-174v26m10 118v15m10-159v26m10 0v23m0 110v15m10-148v23m10-49v26m0 133v15m10-174v49m0 95v15m10-159v26m0 133v15m10-125v21m0 89v15m10-125v21m0 89v15m10-125v21m20-44v23m0 125v15m10-163v23m10-49v49m10-49v26m0 133v15m20-174v26m0 118v15m10-133v23m10-23v23m10-23v23m0 110v15m10-125v21m0 89v15m170 0v28m0 13v11m20-37v13m0 13v11m10-52v28m20 0v24m50-24v13"/>
<path stroke="#ffca00" stroke-width="10" d="M985 4850v21m40-44v23m20-106v29m40-73v44m30-44v44m90-115v26m20-109v29m20 0v28m30 198v26m10-26v26m80-252v28m10-28v28m10 26v26m20 172v23m10-150v44m20 29v54m10-83v29m10-29v29m20 118v19m20-19v19m30-210v44m40 0v29m10-29v29m0 155v17m30-144v49m30-150v44m20 147v19m30 0v18m50-228v44m20-89v45m60-45v45m130-154v29m10-29v29m10-29v29m40 80v45m70-125v28m100-57v29m150 28v26m50 242v20m40 0v19m190-166v29m0 172v15m30-216v29m40-29v29m60 217v13m10-28v15m20-217v28m0 159v15m30-202v28m20-57v29m20-29v29m0 187v15m70 15v13m10-202v26m0 163v13m60-230v28m10-57v29m20 0v28m30 90v19m0 93v13m10-13v13m10-13v13m10-56v15m10 41v11m10 0v12m10-49v13m0 13v11m10-24v13m10-26v13m20-28v15m0 26v11m10-24v13m20-56v15m30-15v15m10 0v15m40 49v10m30-22v12m40-64v15m10 26v11m20 0v12m20-94v15m10 15v28m10-13v26m10-26v13m10-28v15"/>
<path stroke="#23ff00" stroke-width="10" d="M985 4871v20m40-236v45m130-45v45m10 127v23m10-195v45m30-125v28m10 224v23m20-365v31m10 311v23m20-433v68m0 342v23m30-304v29m10-90v31m60 30v29m20 252v23m10-275v28m10 247v21m70 57v17m20-290v45m130-97v26m0 299v17m10-342v26m10 316v15m20-385v28m0 325v17m10-370v28m20-28v54m20-54v28m10 0v52m10-26v26m10 0v45m10-71v26m0 236v19m10-19v19m40-281v26m10-26v26m10 236v19m110-364v29m0 54v26m20 0v45m80-71v26m20 0v45m90-97v26m30-26v26m40-26v26m50 172v26m10-172v45m250 228v17m60-17v17m20 30v15m240 26v11m50-283v29m10 243v11m10-11v11m10-11v11m20-24v13m10-13v13m20-26v13m80-58v15m0 89v5m20-144v18m0 121v5m10-126v17m10-17v17m0 104v5m10-15v10m10-10v10m10-10v10m10-121v17m20-35v18m0 121v5m20-126v17m10 104v5m20-144v18m20-18v18m0 121v5m20-126v17m10 0v15m20-15v15m10-50v18m30 0v17m0 104v5m10-144v18m0 121v5m30-5v5m10-15v10m10-139v18m10 0v17m20 104v5m10-15v10m10-104v15m20-15v15m10-15v15m0 89v5m10-94v15m0 74v5m30-5v5m20-79v15m10 49v15m10-94v15m20 64v15m20-94v15m10 74v5m10-94v15m20-30v15m10 15v15m10-15v15m40-15v15m0 59v5"/>
<path stroke="#1c0034" stroke-width="10" d="M985 4928v17m0 30v28m0 13v33m10-668v36m0 511v17m0 15v43m0 13v23m10-79v15m0 28v13m10-56v15m0 15v13m0 24v12m0 10v5m10-144v18m0 17v15m0 67v12m10-64v52m10-11v11m10-24v13m10-88v17m0 58v13m0 33v5m10-94v15m10-30v58m10-93v35m0 82v12m10-658v71m0 493v15m0 89v5m10-710v73m0 474v19m10 35v45m0 59v5m20-109v58m0 24v22m10 0v5m20-109v30m0 15v13m0 13v11m10-37v13m240-457v29m10-90v90m10-123v33m10-68v35m0 64v59m0 441v33m60 0v5m20-602v94m0 493v15m10-538v30m10-94v33m0 31v59m0 474v5m10-569v31m10-64v33m0 564v5m10-569v90m0 464v10m20-22v12m10-622v35m0 33v31m0 500v11m10-11v38m10-38v33m30-10v10m10-597v33m0 531v23m20-658v104m0 531v11m0 12v15m30-637v35m0 575v12m10-622v99m0 500v11m0 12v10m590-533v59m20-59v30m10 0v29m20-59v59m10-29v29m90-59v30m100 57v26m30-54v28m10 0v26m10-26v26m10-113v87m10-28v28m0 52v45m20-45v45m10-154v29m0 54v26m10 0v45m10-45v45m20-97v26m0 26v45m10-97v26m10-83v57m0 26v26m10-109v57m0 26v71m10-125v54m10-113v59m10 54v26m10-52v26m10-54v28m0 26v26m10-26v71m10-184v30m0 109v45m10-184v30m10-30v59m20-29v83m20 26v45m20-154v29m10-29v57m10-57v29m10-29v29m20-29v57m10 0v52m40-109v29m20-29v29m0 28v52m10-139v59m20 0v28m0 170v28m10-198v26m0 71v44m0 29v54m30-172v45m0 101v26m10-172v45m10-154v29m0 80v118m10-198v28m0 52v172m10-198v26m0 146v26m10-198v26m0 45v44m0 29v28m10-255v29m0 80v45m0 73v28m20-226v54m0 26v45m0 73v28m10-198v26m0 71v127m10-281v29m20 80v45m0 44v57m20-28v28m10-101v73m0 28v26m20-224v26m0 71v44m0 29v54m10-252v28m0 26v172m10-28v28m10-226v80m20-26v26m30-139v30m0 227v28m20-226v28m0 141v29m10-227v57m0 26v26m0 45v44m10-44v44m0 29v28m10-226v80m0 118v28m10-226v28m0 141v29m30-198v28m0 26v26m0 45v44m10-198v29m0 28v26m0 198v23m10-77v28m20-172v71m10 127v44m10-268v26m0 26v89m0 57v26m10-252v80m0 89v29m0 28v49m10-247v26m0 26v45m10-154v57m0 26v115m10-198v29m0 54v26m0 146v26m10-26v49m10-23v23m20-247v26m0 71v44m0 57v26m0 64v19m10-307v97m0 44v29m10-73v44m10-44v73m10-198v28m0 97v44m20 106v21m10-325v29m0 28v26m0 71v73m0 28v26m10 0v23m10 21v20m10-345v57m0 26v71m0 44v29m0 28v26m10-281v29m0 80v45m0 44v106"/>
<path stroke="#0e001a" stroke-width="10" d="M985 5003v13m10 23v10m20-104v15m0 43v13m10-88v17m0 15v15m0 15v37m10-82v30m10-15v30m0 13v13m0 23v10m20-59v13m0 13v23m30-49v13m0 13v11m10-24v13m0 11v22m10-104v15m0 56v11m0 12v15m10-126v17m0 71v11m20-11v11m30-52v15m0 13v13m260 23v10m20-597v64m0 533v5m130-602v33m0 542v12m0 10v5m20-602v33m0 31v30m0 493v10m10-597v33m0 554v10m20 0v5m60-27v12m30 0v15m10-27v12m630-493v29m110-29v29m160 28v52m30-80v28m0 26v26m10-80v28m0 52v45m10-97v52m10-80v28m0 26v26m20-80v28m20 0v26m20 0v71m60-154v29m0 28v52m10-80v28m0 26v26m10-52v52m20 0v45m20-125v80m20-26v71m10-97v26m0 26v45m10-125v125m10-97v26m0 26v45m20-97v97m10-125v28m20-87v30m0 29v28m20 26v26m10-52v26m10 26v45m10-125v28m30 141v29m50-170v26m0 144v28m10-172v26m10-109v29m0 28v26m0 26v89m0 29v28m20-172v26m0 45v73m20-227v29m0 54v26m0 89v29m10-227v29m30-29v29m0 28v52m0 45v44m30-115v26m0 118v28m20-226v28m0 141v29m20-170v26m0 71v44m10 0v29m30-118v45m20-125v28m0 26v26m40-109v154m0 44v29m20-118v45m40-45v45m0 73v54m50-83v29m0 54v23m20-304v29m0 54v26m10 118v77m20-195v45m0 73v28m30-255v57m0 141v57m0 26v23m0 21v20m10-345v29m30 28v26m0 26v45m0 101v26m30-54v28m20-146v45m0 127v44m10-268v26m0 198v23m10-150v44"/>
<path stroke="#3e0078" stroke-width="10" d="M985 5049v5m10-637v35m10 493v15m0 30v13m0 46v5m10-15v10m10-668v71m10-71v71m10-71v71m10 538v13m10-622v71m0 587v10m20-668v36m0 610v12m10-695v37m0 658v15m30-637v35m10 508v15m0 15v37m10-646v71m0 597v5m10-673v71m0 476v17m0 30v74m10-158v54m0 15v30m0 13v13m10-635v36m0 493v18m0 111v10m10-121v47m0 28v13m0 11v22m230-632v68m0 564v5m10-27v27m10-27v12m10-12v22m20-597v33m0 554v15m10-538v59m0 452v12m0 10v5m10-569v31m0 30v29m0 464v10m10-564v31m0 533v5m10-569v61m10-129v35m0 94v29m0 452v12m10-587v33m10 531v23m10-622v99m0 523v15m20-637v35m0 64v59m10-59v30m0 481v12m20-523v30m0 503v5m20-51v13m20-635v36m10 0v35m0 597v5m10-637v35m0 33v31m0 533v5m10-637v68m10-104v36m0 68v31m10-64v33m20 0v31m0 511v27m10-637v35m0 564v11m0 12v15m10-38v11m10-24v13m10-500v30m0 503v5m10-538v30m20-30v30m60-30v30m40-61v31m10 0v30m30-30v30m40-30v30m40-61v31m0 113v26m80-170v31m20 0v30m30-30v30m10-30v30m30-30v30m10-30v30m20-30v30m90-30v30m30-61v31m20 0v30m10-61v31m20 0v30m20-30v30m20 0v29m10-29v29m10-29v29m20-59v30m10-30v30m10 0v29m40-59v59m20-59v30m10-30v59m10-59v30m0 29v28m10-87v30m0 29v28m10-87v30m0 29v28m20-87v87m10-28v28m10-87v59m20-59v30m0 29v28m10-118v31m0 139v45m10-184v30m0 57v26m10-54v28m0 26v71m10-184v59m20-59v30m20-30v30m0 109v45m10-184v30m10-30v87m20-87v30m10-61v61m20 0v29m0 80v45m10-184v59m10-29v29m10-59v59m20-90v31m10-31v31m10 59v28m10-118v31m10 59v54m0 26v45m10-184v30m10 0v57m0 52v45m20-184v30m10-30v30m10-61v31m10 87v26m20-113v59m0 80v45m10-184v87m0 26v71m20-71v26m10-170v31m20-31v31m10-31v31m20 87v26m0 26v45m20 0v44m0 29v28m10-198v26m0 71v73m10-227v29m0 28v52m0 118v28m10-226v28m0 26v26m0 45v73m10-288v31m0 285v26m20-375v64m0 311v23m10-304v29m10-123v64m0 59v54m0 172v26m10-281v29m0 28v141m0 29v28m20-316v31m0 59v28m10-28v54m0 115v29m20-321v33m20 118v26m0 26v118m20-198v28m0 52v45m10-184v30m10 0v29m10 54v26m10-238v35m0 33v31m0 257v28m10-146v89m0 29v54m10-281v83m0 115v29m10-227v83m0 172v26m10-252v28m0 97v101m10-349v64m10 87v26m0 115v57m10-146v45m0 73v28m10-198v26m0 26v45m10-215v31m0 285v26m10-311v59m10-90v61m10 109v89m10-259v31m10 257v28m10-226v28m0 247v21m10-325v29m0 54v26m0 45v44m10-169v54m0 115v83m10-311v113m0 172v26m10-252v28m0 26v71m0 73v54m10-342v61m10-30v30m0 325v20m10-41v21m10-268v26m10-54v28m10-87v30m10 0v29m0 28v26m0 71v101m0 49v21m10-355v87m0 52v45m0 44v29m0 54v23m10-365v31m10 257v54m10-252v54m0 115v29m0 28v26m10-281v29m0 28v26m0 26v45m0 73v28m10-285v30m0 83v26m0 195v21m10-268v26m0 26v45m0 127v23m10-304v57m0 26v26m0 89v57m0 26v23m10-365v31m0 59v28m0 26v26m0 172v23m10-195v45m0 44v29m0 28v26m0 23v21m10-419v94m10-94v94m0 325v20m10-406v61m0 304v21"/>
<path stroke="#1900de" stroke-width="10" d="M995 4344v37m0 71v33m20-33v33m10-33v33m10-141v37m10-37v37m20-37v37m0 529v18m10-584v37m0 36v35m0 458v18m10-584v37m20 71v33m10-33v33m10-33v33m10 425v18m0 47v15m0 49v10m10-705v37m0 529v18m20-511v35m10-108v37m10 529v18m10 99v12m10-36v24m0 12v10m80-10v10m10-158v19m0 93v36m50-49v13m10-75v32m0 15v28m0 24v22m30-46v13m0 11v12m10-622v35m0 523v15m0 49v10m10-632v35m0 587v10m10-22v12m10-23v11m10-452v28m10-386v4m0 782v13m10-795v43m0 41v39m10 683v12m10-23v11m10 0v12m30-464v28m0 413v11m10-11v11m10-646v36m0 573v13m20-659v37m20 0v36m0 599v11m10-452v28m0 400v13m10-470v29m10-194v36m0 586v13m10-795v43m0 80v37m40 622v13m10-26v13m20-622v36m0 599v11m30-24v13m20-672v37m20 104v31m10-31v31m10-31v31m10-31v61m10 414v15m0 28v13m30-531v31m20 500v11m20-542v31m0 523v10m10-597v33m20 0v61m50-61v31m50-64v33m10 0v31m10-31v31m0 113v26m30-170v31m0 113v26m10-26v26m20-203v33m10 0v31m0 113v26m10-170v31m10 113v26m10-170v31m20-31v31m10-31v31m10 139v45m30-215v31m10 113v26m20-26v26m30-170v61m60-61v31m70-31v31m60-31v31m40-31v31m30-31v31m20 59v28m20-118v31m10-31v31m0 87v26m40-26v26m10-177v33m10 144v26m10-203v33m0 170v45m10-395v76m0 658v10m10-744v39m0 108v33m10-68v68m10-33v33m10-68v35m10-71v104m10-264v43m0 80v108m10 0v33m10-221v41m0 39v37m0 36v68m20-33v33m10-33v33m10-33v33m10-268v164m0 36v35m30 0v33m10-33v33m10-268v4m0 43v41m0 39v37m10-164v200m10-153v80m0 37v36m10 68v31m10-295v43m0 41v147m10 33v31m10-211v39m0 73v68m10-33v33m10-221v41m0 76v104m10-264v43m0 80v37m0 36v35m10-108v37m0 36v35m10-235v4m0 43v117m0 36v35m10 33v31m10-299v4m0 84v39m0 37v36m0 35v33m10-33v33m10-33v33m10-268v4m0 84v39m10-39v39m0 73v68m10-221v41m0 39v141m10-141v37m0 36v35m10-35v35m10-147v76m10 71v33m10-264v43m0 153v35m10-71v71m10 33v61m0 29v80m10-274v104m0 316v26m10-410v68m10-141v37m10-160v231m10-235v4m0 43v188m0 375v23m10-629v84m0 39v37m10 446v23m10-629v196m10 384v26m10-563v41m0 39v37m10-160v84m0 39v73m10-112v39m0 37v36m10 99v30m0 57v26m0 26v89m0 57v26m10-610v164m10 71v94m10-129v35m0 349v26m10-606v84m0 76v36m10 35v33m10-221v41m0 39v37m10-160v43m0 41v76m10-37v37m0 36v35m10-235v4m0 84v76m10 36v129m0 83v26m10-391v41m0 39v37m0 420v26m10-610v4m0 160v36m10-73v37m0 36v35m10-235v47m10 153v35m0 375v23m10-545v76m0 36v68m10-268v88m0 76v36m10-196v43m10 41v112m10-153v153m20-200v4m0 43v221m10-141v141m10-268v4m0 160v36m0 474v19m10-689v43m0 41v76m0 36v35m10 0v33m10-180v76m0 490v20m10-510v104m10-221v117m0 510v19m10-693v47m0 41v39m0 73v35m10-188v41m0 39v37m10-164v4m0 43v117m0 71v33m10-268v4m0 43v41m0 39v37m0 36v35m10-188v41m0 39v37m10 36v68m10-68v35m10-231v123m10-80v153m10-73v37m0 36v35m20-188v41m0 39v37m0 36v35m10-71v135m0 334v41m10-439v33m10-221v41m0 39v73m10 0v68m10-268v47m0 80v37m10-164v47m0 80v37m10-160v84m0 39v37"/>
<path stroke="#0020ff" stroke-width="10" d="M995 4485v31m10-211v39m10 141v31m20-31v31m10-31v31m10-172v37m0 71v33m40-33v33m20-268v4m0 43v41m0 566v20m10-627v41m20 0v39m20 527v20m30-674v47m0 41v39m0 547v19m0 35v15m10-743v47m0 80v37m0 510v19m0 18v17m10-640v39m0 616v15m0 64v10m10-139v18m0 62v13m10-739v41m0 640v15m0 30v26m0 23v10m10-828v84m0 566v20m0 99v13m10-698v39m0 547v19m0 50v43m0 24v12m0 10v5m10-94v15m0 64v10m10-785v41m0 586v37m0 75v24m0 22v5m10-749v39m0 527v57m0 17v15m0 30v13m0 46v5m10-837v47m0 711v15m0 49v10m20-104v71m0 11v12m10-94v15m0 56v23m10-775v41m0 623v32m0 15v28m0 24v12m0 10v5m10-837v4m0 43v80m0 547v54m0 30v15m0 26v11m10-810v47m0 41v39m0 547v37m0 75v13m10 11v12m10-148v37m0 62v13m0 13v11m0 12v10m10-705v37m0 547v17m0 45v13m0 46v5m10-673v36m0 528v15m10-696v41m0 76v36m0 35v33m10-180v39m0 37v36m0 599v11m10-683v73m0 158v28m10-386v4m0 43v41m10-84v123m10-80v41m0 39v37m10-117v41m0 76v36m10 158v28m10-382v43m0 41v39m0 37v36m0 158v28m0 413v11m10-646v36m20-200v4m0 43v41m0 698v13m10-711v112m10-200v127m10 0v73m10-153v80m10-39v76m0 194v28m0 400v24m10-806v43m0 41v39m0 231v28m10-386v47m0 41v76m0 609v13m10 13v11m20-810v4m10-4v4m0 43v117m10-164v164m10-164v4m20 84v39m10-123v160m10-76v39m10-127v127m30-127v88m0 39v37m0 135v30m0 457v13m10-799v47m0 41v39m0 646v13m10-622v36m10 0v68m0 518v24m20-11v23m20-94v15m0 15v15m10-505v31m20-135v36m0 35v33m0 490v15m0 13v13m10-564v33m0 505v13m10-586v35m0 508v15m0 15v13m10-518v31m10-99v35m10-71v36m0 528v15m0 30v13m0 13v23m10-23v23m10-587v33m10 0v31m0 511v12m10-622v68m0 531v11m10-575v33m30-68v68m0 542v12m10-622v68m10-33v33m10 0v31m10-135v71m0 64v30m0 429v28m0 13v23m40-587v33m0 118v26m40 346v41m0 23v10m10-597v33m10-33v33m20-33v33m10-33v64m10-99v35m10 177v26m10-203v64m10-135v36m20 212v26m10-238v68m10-33v33m20 170v45m10-248v33m10-33v33m10 0v31m10-135v71m0 551v13m10-564v64m10-99v68m10-33v33m10-33v33m10-33v33m40-33v33m10-33v64m10-64v33m10-33v33m10 0v31m10-31v31m20-31v31m10-64v33m10 0v31m30-99v68m0 554v10m20-564v31m10-64v33m10-33v33m0 90v28m10-151v33m20-33v33m10-68v68m10-33v33m0 118v26m10-144v31m10-64v33m0 118v26m10-177v33m20-221v41m0 76v36m0 35v33m10-221v41m0 76v71m20-235v4m0 828v5m10-837v4m0 84v39m0 37v36m10-200v4m0 43v153m20-112v39m20-123v43m0 80v37m10-164v47m10-43v160m10-164v47m0 41v39m0 73v35m10-231v84m0 76v71m10-235v4m0 828v5m10-5v5m10-837v4m0 84v147m10-231v84m0 112v68m10-221v41m0 39v37m10-164v88m0 76v36m20 622v10m20-828v43m0 80v108m20-108v108m10-235v4m0 43v41m10 39v37m10-164v4m20 0v43m0 436v44m20-363v71m20-231v43m0 117v36m10-112v112m20-200v88m0 39v37m20-160v43m10-47v4m0 43v41m20-88v164m20-117v41m10-88v4m0 84v76m0 420v26m10-606v43m10-47v47m0 117v36m10-200v4m60 0v84m0 39v37m30-117v41m0 39v37m10-37v73m20-196v84m0 39v37m10-164v47m10 586v21m10-650v43m0 41v39m0 37v36m40 384v26m10-610v88m10 522v23m10-629v43m0 41v39m10-127v4m0 43v80m20-123v43m0 41v76m10-160v43m0 117v36m30 410v23m40-629v43m20 586v21m10-654v4m20-4v88m10 76v36m20-200v47m0 627v19m10-19v19m10-689v43m20-47v4m0 84v39m10-127v88m30 76v36m10-196v84m0 586v19m20-693v47m10 0v41m0 605v18m20-711v47m0 80v37m20 529v18"/>
<path stroke="#0080ff" stroke-width="10" d="M995 4516v30m0 364v18m10-711v4m0 689v18m10-707v43m20 252v30m0 364v18m10-412v30m10-329v127m0 141v31m10 0v30m10-325v84m10 180v31m20 30v29m0 335v18m10-412v30m10-30v30m10-325v123m10 172v30m10-325v43m40 586v21m10-419v33m0 365v21m10 20v19m0 106v11m10-683v37m0 547v17m0 94v10m10-744v39m20-123v43m10 607v20m0 19v35m0 58v13m10-56v15m30-758v4m0 43v117m0 579v30m0 49v10m60-46v13m0 33v5m30-183v20m10-670v43m30 711v15m10-15v15m20 0v13m20-786v4m10-4v4m0 43v41m0 270v28m10 387v26m20-799v4m0 769v13m30-400v26m30-26v26m10-412v4m30 295v30m0 444v13m10-487v30m0 444v13m10-487v30m0 444v13m40-782v43m20 252v30m20 444v13m10-28v15m10-773v88m10 655v15m10-594v104m0 475v79m10-94v30m0 64v10m10-668v36m0 543v30m0 13v36m10 10v5m10-673v36m0 543v30m0 26v11m10-67v15m0 15v26m10-71v15m10-616v37m0 564v15m10-616v37m0 547v17m0 104v5m10-673v36m20 493v18m10 17v15m0 89v5m10-710v37m0 609v13m10-622v71m0 538v26m10-672v37m0 564v15m0 79v10m10-104v30m0 15v26m10-599v35m10-71v36m0 558v52m0 12v10m10-705v37m0 579v15m20 0v15m10 13v13m0 11v22m10-139v35m0 94v10m10-705v37m0 594v15m0 13v36m10-622v35m0 551v13m0 11v12m10-695v37m0 564v30m10-30v30m10-594v36m0 558v28m10-28v64m10-622v35m10 439v19m0 18v17m10 30v28m0 24v22m10-89v15m10 0v15m0 13v13m0 11v12m10-695v37m0 579v79m10-64v15m0 59v5m10-5v5m10-79v15m0 13v36m10-658v36m0 573v37m0 12v10m20-89v30m20-646v37m0 579v15m10-631v37m0 579v15m10 0v64m10-658v36m0 599v23m10-695v37m0 564v45m0 13v24m10-683v37m0 594v15m0 13v13m0 11v12m10-658v36m0 599v11m10-117v35m0 82v12m10-622v35m0 575v12m10-695v37m0 564v15m10 15v15m0 13v24m0 12v10m10-705v73m0 599v11m10-683v73m0 586v13m0 11v22m10-46v13m10-599v35m10 538v13m10 13v11m30-646v36m0 610v22m10-668v71m0 597v5m10-637v35m10-35v35m0 597v5m10-673v71m0 597v5m10-38v11m10-646v36m0 610v27m10-5v5m30-673v71m0 587v15m10-673v71m10-71v36m0 158v28m10 424v22m10-446v26m0 420v5m10-673v36m0 632v5m10-673v36m0 622v10m10-22v22m10-10v15m10-673v36m10-36v36m20-200v4m10 828v5m30-15v10m10 0v5m40-15v10m40 0v5m10-15v10m10-10v10m20 0v5m10-5v5m30-27v22m30 0v5m40-5v5m10-354v44m50 295v10m10-10v10m10-10v10m20-10v10m30 0v5m40-204v21m60-21v21m100-44v23m110-23v23m20 0v21m40-21v21m10-44v23m10-23v23m30 60v18m50-18v18m30-18v18m70-37v19"/>
<path stroke="#00ffa0" stroke-width="10" d="M995 4629v26m0 236v19m10-307v26m10 0v26m20-26v26m20-52v26m10 0v26m20-52v26m10-26v26m50 0v26m10-52v26m20-26v26m10-54v28m10-118v31m20-135v36m40-73v37m20-37v37m30 36v35m20 398v21m30-21v21m50 0v20m30-236v45m20 228v17m20-316v26m0 290v15m30-331v26m30-26v26m20 0v45m50-45v45m10-97v26m40 331v15m60-15v15m10-429v29m40 335v18m20-18v18m10-382v29m10 335v18m40-382v29m0 28v26m10 299v17m10-342v52m10-109v57m10-57v29m20 54v26m60 195v21m30-44v23m70 21v20m30-41v21m30-216v45m20 150v21m70-21v21m20-355v30m0 57v26m30-113v30m50 304v21m10 0v20m150 0v19m50 35v15m10-331v26m10-26v26m40-26v26m0 305v30m30 26v11m20-24v13m20-316v44m90 272v11m30 0v12m10-23v11m70-11v11m50 0v12m20-12v12m70-23v11m20 0v12m20-238v26m120 44v20m20 0v19m40-39v20m40 0v19m70-39v20m10-20v20m10 0v19m20-39v20m170 37v17m20-35v18m80 17v15"/>
<path stroke="#00ff40" stroke-width="10" d="M995 4655v45m50-45v45m10 191v19m80-307v26m30-26v26m30-113v59m40-231v37m50 446v23m10-365v31m60-135v165m20-165v36m30 158v28m20 342v15m30-305v45m10-45v45m60-71v26m20 273v17m30 0v15m50-15v15m10-15v15m10-414v29m60 385v15m30-429v29m10 54v26m20-80v54m20-26v26m10 0v26m10-80v54m10-54v28m30 26v26m10-80v28m0 26v26m30-26v26m10-52v26m50 221v21m60-268v26m70-26v26m0 26v45m40-97v26m0 198v23m20 0v21m20 0v20m20-236v45m80 150v21m40-21v21m10-325v29m0 275v21m20-296v28m10-28v28m90 141v29m10-73v44m0 127v20m70 37v17m10-316v26m10-26v26m20 273v17m50 30v15m110 13v13m10-316v44m0 259v13m30-316v44m20 259v13m20-316v44m30-44v44m20-44v44m80 0v29m20-29v29m50-73v44m20 272v11m20-283v29m10 276v5m20-144v18m40-37v19m10-19v19m10 0v18m10 0v17m40-74v20m120 0v19m0 129v10m90-158v19m30-19v19m20 18v17m20-17v17m10-17v17m10 0v15m10 0v15m70-30v15m10-32v17m20 0v15m70-15v15m10 89v5"/>
<path stroke="#ff9600" stroke-width="10" d="M995 4744v29m40-29v29m40-73v44m20-44v44m10 106v21m10-127v57m70-101v44m0 83v23m70-275v28m10 198v26m10-252v28m20 198v26m60-224v26m70 144v54m10 23v21m0 20v19m10-109v26m30-83v29m30-29v29m10 0v54m0 64v19m20-166v57m0 49v21m20-70v26m30-26v26m20 23v21m10-44v23m30 41v19m20-39v20m10-20v20m20-191v44m30 147v19m10-39v20m30-236v45m230-154v57m50-57v29m10-29v29m150-29v29m30 0v28m40-57v29m10-29v29m10 0v28m10 97v44m30-141v26m80 0v26m40 89v29m30-144v26m10 236v19m50 0v18m40-273v45m40 44v29m10 172v15m60 0v15m30-231v29m30 202v15m20-217v28m10-57v29m10 28v26m10-54v28m10 159v15m10-174v26m10-54v28m10-28v28m10 159v15m10-231v29m0 202v15m10-217v28m20 174v15m30-15v15m80-189v26m30 83v18m0 32v15m0 15v13m50 0v13m50-26v13m40 13v11m10-52v15m0 26v11m20-24v13m20-56v15m0 41v11m10-37v13m20 13v11m10-52v15m0 13v13m20-56v15m10 0v15m10-15v15m20-15v15m0 13v13m20 0v11m10-67v15m0 41v11"/>
<path stroke="#ffb000" stroke-width="10" d="M995 4850v21m170-70v26m10 0v23m40-275v28m70-28v28m40-28v28m80 52v45m10 150v21m20-44v23m0 21v20m20-118v98m30-98v28m0 109v18m60-37v19m40-137v28m20 127v17m10-201v57m0 90v19m10-210v44m160-89v45m120 171v20m90-90v26m60 0v23m40-23v23m10-304v29m90-29v29m120 125v44m50-115v26m0 45v44m30 127v20m40-288v26m10-26v26m60 71v44m0 147v19m120 50v15m20-202v28m0 174v15m20-246v29m20 0v28m10-28v28m10-57v29m40-29v29m10 0v28m70 159v15m20 15v13m50-202v26m10-26v26m20 0v23m20-77v28m0 174v15m10-15v15m10-246v29m0 202v15m10-189v26m30 148v15m10-217v28m10 174v15m50-15v41m10-26v13m0 13v11m10-24v13m50-26v13m10 13v11m10-52v28m10-13v13m60 24v12m40-49v13m10-13v13m10 24v12m10-23v11m10-11v11m30-52v15m20 13v13m40-26v13"/>
<path stroke="#69ff00" stroke-width="10" d="M995 4871v20m190-41v21m20-268v26m120-83v29m50-29v29m0 252v23m20-247v26m60 262v19m30-210v44m20 184v17m20-35v18m30 17v15m90-331v26m10-80v28m20 26v26m10-80v28m10 288v19m10-335v28m0 342v15m10-357v26m0 299v17m10-17v17m50-54v19m80 0v18m70-127v26m30 0v23m30-247v26m60 198v23m80-247v26m20 26v45m50-45v45m20-45v45m20 101v26m40-224v26m70-54v28m20 0v26m80 242v20m70 37v17m80-290v45m20 0v44m0 246v13m50-13v13m40-13v13m10-13v13m80 0v13m10-13v13m60-13v13m100-13v13m40-272v29m10-29v29m10 230v13m10-166v21m0 156v12m30-129v18m20 17v15m20-15v15m20 0v15m10-30v15m20-32v17m0 94v10m10-121v17m20-17v17m30-35v18m10 0v17m0 94v10m10-89v15m20 64v10m10-22v12m10-79v15m10-47v17m0 71v11m30 12v10m20-33v11m10 22v5m10-144v18m0 111v10m10-139v18m10 0v17m50 15v15m10 74v5m10-94v15m20 64v10m10-59v13m10-13v13m10-13v13m0 36v10m10-10v10m10-22v22m10-89v15m10 0v15m30 26v11m0 12v10m10-74v15m10-30v15m0 64v10m10-74v15m10-30v30m0 37v12m10-79v15m0 64v15m10-64v13m10-13v13m30 0v13m0 11v12m10-49v13m0 36v10"/>
<path stroke="#38009b" stroke-width="10" d="M1005 4381v71m0 476v17m50-564v71m0 476v17m0 15v15m0 41v11m0 22v5m20-673v36m0 610v27m10-637v35m0 458v18m10-37v19m20-493v35m10 458v18m30 17v15m10-616v73m0 599v33m10-632v35m10-71v36m0 558v15m10-62v17m0 15v15m0 28v13m100-56v15m120 64v10m30-503v29m0 441v11m10-37v13m10-586v35m0 94v29m10-158v35m20-35v68m0 31v30m10-94v33m20-68v35m0 33v31m0 511v27m10-508v29m10-29v29m0 452v12m10-622v35m0 123v28m0 424v12m10-12v12m0 10v5m10-637v35m20-35v35m0 33v31m0 511v12m10-464v28m40-222v36m0 599v11m0 12v10m10-668v36m0 35v33m0 531v33m30-632v35m0 33v31m10-31v31m0 474v13m10-586v68m10-104v36m0 35v33m10-104v36m70 68v61m10-30v30m10-30v30m10-30v30m30-30v30m50-30v30m40-30v30m20-30v30m10-30v30m10-30v30m40-30v30m10-61v31m10 0v30m30 83v26m10-139v30m20-30v30m50-30v30m50-30v30m10-30v30m10-30v30m10-61v31m30-31v31m20 113v26m10-139v30m20-30v30m10-61v31m10 30v29m60-59v59m10-59v30m10-30v30m10-30v30m30 0v29m30-59v59m10-59v59m30-29v29m10 0v28m10-57v29m30-59v30m0 29v28m20-87v59m20-59v30m10 83v26m20-170v31m10 0v59m0 28v26m10-144v31m10-64v33m20-33v64m10-31v31m10-31v31m10-31v31m0 139v45m10-184v30m30-94v33m10 31v30m10-61v31m10 0v30m10-61v31m10-31v31m10-64v33m10-33v33m10 61v29m0 28v26m20-83v29m0 54v26m20-139v30m10-61v31m10-31v31m20-64v33m20 0v31m20 87v26m10-177v33m10 0v31m20-31v31m10 0v30m10-94v33m10 31v30m0 83v71m10-215v61m0 154v44m0 83v23m10-398v94m0 281v23m10-304v29m10-59v30m0 29v28m0 26v26m0 118v28m10-226v28m0 97v44m10-259v61m0 255v26m10-311v30m10-94v64m10-135v36m10 99v30m0 29v28m10-186v35m10 64v30m0 29v28m20-186v68m0 342v23m10-365v61m10 227v28m10-316v31m0 285v26m10-224v26m0 144v28m10-285v59m0 54v26m10-203v94m0 281v23m10-334v30m0 57v26m0 115v106m10-365v31m10-99v35m0 33v31m0 285v26m20-375v33m10 90v28m0 141v29m10-288v61m10-94v94m0 227v28m10-316v61m10-129v35m0 349v26m10-311v59m0 54v26m10-139v30m0 255v26m10-375v64m10-99v68m10 0v31m10-99v68m10 31v87m10-87v30m10-30v59m0 252v23m10-433v129m10-61v31m0 285v49m10-304v29m0 80v89m10-259v31m10 0v30m0 154v73m0 98v20m10-439v33m0 386v20m10-439v64m0 30v29m10-123v94m10-129v35m0 33v61m10-30v30m0 57v26m0 198v23m10-398v33m0 386v20m10-406v31m0 59v28m0 26v71m10 101v26m10-410v68m0 31v30m10-94v94m10-94v94m0 281v23m10 21v20m10-439v64m0 311v23m10-334v59m0 54v26m0 45v44m0 29v54m10-342v31m0 87v26m10-113v30m0 325v20m10-375v59m0 28v52m20-238v35m0 439v19m10-493v68m0 386v20"/>
<path stroke="#00c0ff" stroke-width="10" d="M1005 4546v29m10-29v29m10-29v29m10-29v29m40-59v30m20-30v30m10 29v28m20-57v29m0 316v19m20-364v29m30-29v29m80 275v21m20-21v21m10-21v21m10-21v21m10-21v21m0 39v18m100 0v17m30-316v26m30-52v26m20 361v13m10-28v15m40-387v26m0 316v15m10 0v15m10-346v26m10-52v26m30 346v15m10-30v15m10-15v15m10 0v15m10-15v15m40-15v15m30 0v13m10-487v30m30 414v15m10-47v17m0 104v5m10-710v37m10 547v17m10-601v37m0 564v15m0 79v10m10-832v88m0 605v18m10 17v15m0 30v13m10 46v5m20-5v5m10-837v127m20-127v88m0 39v37m10-164v88m10 0v39m10 705v5m10-94v15m10-754v43m0 41v39m0 566v18m10 0v17m0 82v12m10-49v26m0 11v12m10-695v37m10-160v123m0 527v39m10-646v80m0 527v57m10-623v76m0 564v15m10 0v15m0 74v5m10-837v127m0 506v21m20 89v15m0 64v10m10-744v39m0 547v54m0 104v5m10-749v39m0 547v37m10-18v50m10-616v37m0 579v15m10 15v13m0 13v23m10-822v47m10 80v37m0 668v5m10-790v117m0 490v20m0 19v35m10-601v37m0 579v15m0 74v5m10-15v10m10-785v41m0 39v37m0 529v50m10-655v39m0 547v19m10 129v10m10-121v17m10-681v117m0 274v45m0 191v54m10-17v32m0 89v5m10-51v13m10-752v80m0 527v74m0 104v5m10-144v35m0 104v5m20-79v15m10-62v17m0 82v12m20-64v15m10-726v80m0 506v41m0 158v5m10-51v13m0 23v10m10-785v80m0 527v39m0 18v17m0 104v5m10-425v26m0 290v15m0 89v5m10-109v58m0 36v10m10-59v13m10-786v127m0 547v54m20-724v123m0 566v50m0 15v15m10-726v117m0 529v65m0 15v13m10-698v76m0 547v32m0 15v15m10-726v117m0 529v93m10-659v37m10 646v12m20-12v12m10-12v12m10-734v76m0 547v17m0 45v26m10 0v11m10-683v37m0 635v23m10-695v37m0 579v15m10-758v127m0 601v30m10 41v23m20-734v39m0 683v12m10-818v160m0 222v26m10-408v43m0 41v76m0 635v33m10-828v160m0 646v12m10-775v80m0 672v23m10-822v127m0 659v13m10-795v123m0 659v24m10-810v4m0 84v76m0 646v22m10-785v41m0 39v37m0 646v22m10-832v47m30 763v12m30 0v10m20-22v12m10-12v12m40-12v12m80 0v10m60-10v10m40-10v10m80-22v12m30 0v10m30-178v20m10-20v20m40-41v21m70-44v23m30-23v23m50 21v20m10-20v20m10-41v21m20-44v23m10 0v21m10-21v21m10-21v21m10-21v21m30-21v21m40-21v21m10-21v21m50 20v19m10 0v18m10 0v17m60-35v18m40-18v18m50 0v17m10-17v17m10-35v18m10 0v17m10-17v17m10-17v17"/>
<path stroke="#00ff60" stroke-width="10" d="M1005 4629v26m10 0v45m30 191v19m10-281v26m30-26v26m0 216v20m10-41v21m20-242v26m10 216v20m30 0v19m20-281v26m10-52v26m20-144v31m10-64v33m80-33v33m10 342v23m80-365v31m40 139v45m10 245v15m10-305v45m20 245v15m20 0v15m10-346v26m20 0v45m0 245v15m50-15v15m10-305v45m20 245v15m10-15v15m10-331v26m10-109v29m10-29v29m30 370v15m10-15v15m20-32v17m50-17v17m10-370v54m10-83v29m10 0v54m10-83v29m20-29v29m10-29v29m0 28v26m10-54v54m10-54v54m50-54v28m10 26v26m10 255v18m70-273v45m10-45v45m10-97v26m10 198v23m50 0v21m120-21v21m180-171v44m10 0v29m10-73v44m20 147v19m20 0v18m20-353v28m10-28v28m10 288v19m50-307v26m30 316v15m30-32v17m10-290v45m30 303v13m40 0v11m110-11v11m60-24v13m50 0v11m100-327v44m180 147v19m40-39v20m10-41v21m30 0v20m10 19v18m10-18v18m10-18v18m10-37v19m10 0v18m10-57v20m10 0v19m20-19v19m20 129v15m50-163v19m30 0v18m70 17v15m20-15v15m90-15v15m10-32v17m20 15v15"/>
<path stroke="#ffff00" stroke-width="10" d="M1005 4700v44m10 0v29m10-73v44m30-44v44m70-44v44m30-44v44m10-89v45m70-154v29m60 0v28m10 198v26m30-252v28m20-28v28m40 26v26m30 89v29m20 118v19m10-39v20m70 0v19m60-166v29m10-73v44m0 184v17m30-54v19m10-19v19m20-255v45m10-45v45m10 191v19m10-255v45m10-45v45m20 191v19m60-255v45m60-45v45m100-97v26m50-83v29m170 28v26m170 221v21m50-127v29m10-170v26m70-26v26m10-26v26m30 115v29m20-118v45m40-45v45m50 0v44m20 231v15m40-15v15m10-15v15m10-246v29m0 202v15m10-246v29m10 202v15m10-15v15m90 0v13m20-230v28m50 174v15m20-217v28m0 189v13m30-13v13m10-230v28m50 174v15m10-217v28m30 189v13m10-132v20m10 136v12m10-23v11m60-52v15m10 0v26m10 11v12m40-64v15m10-30v15m10-30v15m70 56v11m20-24v13m50-41v15m30 26v11m10-24v13m10-41v15m10-30v15m0 28v13m10 0v11m10-52v41m10-26v13m20 0v13"/>
<path stroke="#ff7000" stroke-width="10" d="M1005 4850v21m30-21v21m70-70v49m20-23v23m30 0v21m80-296v28m10 198v26m10-26v26m10-252v28m30 0v26m20-54v28m70 198v26m30-83v29m0 54v23m10-23v23m0 21v39m20-137v28m0 26v64m20-118v28m0 90v19m20-109v26m30 0v44m20-70v49m20 0v21m30-44v44m10-127v29m20 28v26m30-127v44m20-44v44m10-44v44m20 57v26m20-127v44m10 0v29m0 54v23m10-23v44m190-296v28m30-28v28m10-28v28m60-57v29m70 0v28m40-28v28m30-28v28m10-28v28m40-57v29m40-29v29m0 252v23m30-275v28m70 141v29m40-29v29m40 77v21m40-242v26m10 89v29m10-73v44m20 0v29m0 137v18m120-155v28m20-28v28m20-28v28m0 159v15m10-15v15m20-202v28m0 159v15m10-202v28m0 159v15m20-174v26m30-26v26m30 148v15m20-217v28m70-28v28m20 174v15m30-189v26m20-54v28m20 144v15m10-187v28m0 159v15m10-15v15m20-174v26m10 0v23m40 125v15m0 26v11m70-24v13m20-41v15m0 13v13m20-13v13m30-26v13m10 24v12m30-49v13m10-13v13m30-28v15m20 13v13m10-26v26m10-26v13m20-13v13m20-43v15"/>
<path stroke="#8cff00" stroke-width="10" d="M1005 4871v20m30-20v20m60-236v45m10 0v44m170-198v29m130 54v26m20 45v44m20 166v18m10-228v44m80 147v19m50 18v17m50-35v18m10 0v17m10-316v26m0 273v17m10-316v26m0 255v18m10-18v18m10-325v52m0 290v15m10-331v26m10-26v26m10-26v26m10 0v45m10 210v18m180-273v45m120-184v30m0 29v28m170 52v45m20-97v26m60 26v45m30-125v28m20 268v20m80-288v26m10 262v19m60-19v19m120 50v15m20 15v13m10-28v15m20 13v13m20-26v13m10-13v13m10-13v13m100-259v29m50-29v29m30 217v13m20 0v13m10-13v13m70-41v15m10 0v13m30 0v13m30-56v15m10-15v15m10 74v5m10-109v15m20-15v15m10 67v12m10-12v12m20 0v10m10-22v12m20-23v11m10-67v15m10-65v18m30 0v17m0 104v5m30-94v15m10-15v15m10-30v15m30-15v15m0 89v5m10-109v15m30-15v15m10-15v15m20 67v12m40-94v15m10 67v12m20-49v13m20-43v15m0 64v10m10-74v15m20 13v13m0 11v12m20-49v26m0 11v12m10-36v24m20 0v12m10-64v15m0 49v10m10-89v30m0 37v12m10-12v12m10-49v13m0 13v23m10-64v15m10 49v10m10-59v13m30 0v13m0 23v10m10-74v28m0 46v5m10-38v11m10-11v11m10 0v12"/>
<path stroke="#00ffff" stroke-width="10" d="M1015 4575v28m10-28v28m10-28v28m20-57v29m10 0v28m0 288v19m10-364v29m0 316v19m20-364v29m10 28v26m20-54v28m10 288v19m10-19v19m70-566v37m0 469v21m130-21v21m60-386v31m10 87v26m10 0v26m0 305v15m40-15v15m20 0v15m10-30v15m30-372v26m20-26v26m0 316v15m30 0v15m10-346v26m10-52v26m0 331v15m20-400v28m40 372v15m10-30v15m30-459v30m30 429v15m10-30v15m10-30v15m10-743v4m10 43v80m20-123v123m0 584v17m0 104v5m20-837v127m10-127v47m20-47v4m10 689v18m10-711v88m0 241v29m40-358v4m10-4v47m10 627v19m10 129v15m10-837v4m0 43v117m0 547v47m10-758v47m0 607v57m30-57v20m10-670v123m0 547v19m0 18v17m20-728v47m0 586v78m10-711v47m0 41v39m0 547v54m0 104v5m20-227v23m0 177v12m10-822v47m0 607v20m10-674v88m0 586v54m20-95v21m10-654v4m0 670v19m20-693v4m0 650v39m10-689v43m0 586v41m10 0v19m20-693v127m0 547v37m0 121v5m10-837v4m0 43v41m0 586v37m10-299v26m20-438v88m0 586v54m30-728v47m0 607v39m10-693v127m0 547v19m0 18v32m10-743v4m10-4v47m0 41v39m0 527v39m0 139v5m10-837v127m0 566v50m0 89v5m10-227v23m10-633v127m0 601v15m0 89v5m10-204v21m20-654v47m0 607v39m0 18v17m10-399v29m0 316v19m20-693v88m0 39v37m0 579v15m0 15v13m50-43v30m10-773v88m0 623v17m0 15v30m0 13v13m10-799v127m0 601v82m10-810v47m0 664v17m0 15v15m0 15v26m10-799v47m0 664v17m0 15v43m0 13v11m20-810v47m0 664v75m10-786v4m0 724v15m20-50v18m10-353v28m0 357v56m10-799v4m0 754v15m0 13v24m10-52v41m10-41v15m10 0v13m30-374v26m0 320v15m10-30v15m10 15v26m10-13v13m10 0v11m20 0v12m140-12v12m10-23v11m50-11v11m10-327v44m140 283v12m40-12v12m100-168v20m10-20v20m30-20v20m10-41v21m20 0v20m40-41v21m10-21v21m50 20v19m10-60v21m30 0v20m30-20v20m40-20v20m60 0v19m40 18v17m10-17v17m10-17v17m20-54v19m60 0v18m20-18v18m10-18v18"/>
<path stroke="#a9ff00" stroke-width="10" d="M1015 4700v44m30-44v44m50 83v23m10 21v20m20-41v21m10-216v45m20 171v20m20-41v21m10-216v45m70-154v29m30-29v29m30 226v26m10 0v23m60-247v26m60 71v44m20-44v44m10 166v18m40-228v44m30 166v18m40-228v44m20 0v29m20 137v18m220-273v45m20 210v18m50-101v23m100-195v45m10-45v45m40 127v23m10-23v23m70-23v23m20-304v29m50 252v23m10-304v29m80 54v26m40 172v23m20 41v19m20-39v20m20-288v26m0 262v19m70-39v20m10-191v44m10-115v26m0 255v18m40 0v17m40 0v15m150 30v13m20-13v13m10-259v29m20 230v13m10-26v13m40-259v29m30 217v13m30 0v13m40-243v28m0 202v13m10 0v11m10-37v13m30-259v29m20-29v29m0 217v13m30-230v28m20 238v10m20-121v17m20 15v15m10 52v12m30-12v12m10-79v15m20-30v15m20 79v10m10-104v15m10-69v19m10 117v12m10-94v15m30 89v5m60-27v12m20-94v15m0 67v12m20 0v10m10-121v17m40 0v15m10 67v12m20 0v10m10-46v13m0 23v10m10-74v15m0 37v12m20-49v13m0 24v12m10-36v13m0 23v15m10-38v11m10-24v13m0 11v12m10-23v11m20-52v15m0 26v11m10-37v13m0 13v11m40-24v13m10-26v13m0 13v23m10-49v13m10 0v24m10-52v28m10 0v13m10 0v23m10 0v10m30-46v24"/>
<path stroke="#ffe500" stroke-width="10" d="M1015 4871v20m90-147v29m10 28v26m60-127v44m20-115v26m20-109v29m90-29v29m40 0v28m70 268v20m50-147v29m30-73v44m10 166v18m10-184v29m20 98v20m10-191v44m10 29v28m10 127v17m40-172v28m100 109v18m20-228v44m80-89v45m70-45v45m20-45v45m20-125v28m170-57v29m10-29v29m170 0v28m40 224v23m40-195v89m50-141v26m10 71v44m50 127v20m70-236v45m90 44v29m0 187v15m20-15v15m20 15v13m60-259v29m10 202v15m10-217v28m40 189v13m10-28v15m10 0v13m60-230v28m0 174v15m20-246v29m10 217v13m50 0v13m20-272v29m20 187v15m20 0v15m20 0v13m10-202v26m20 163v13m0 13v11m10-37v13m10 24v12m10-79v15m10 0v15m10-15v15m10-15v28m10 0v13m30-41v15m0 26v11m10-67v15m20 52v12m30-23v11m10-67v15m40 0v15m10-30v15m40-15v15m20-15v15m30-30v15m20 0v15m10 41v11m10-52v15m10 13v13m20-13v24"/>
<path stroke="#46ff00" stroke-width="10" d="M1025 4850v21m50-216v45m10-45v45m30-45v45m50-71v26m30-52v26m20-144v31m10-31v31m10 0v30m10 0v29m60-59v30m30 304v21m10-325v29m0 252v23m40-275v28m30 52v45m0 210v18m10 0v17m10-245v44m0 184v17m30-17v17m20 0v15m10-32v17m20-17v17m10-290v45m30 0v44m50-44v44m10-89v45m10-71v26m10-26v26m0 273v17m10-370v54m10-26v26m10-26v26m10-26v26m0 299v17m30-342v26m40 281v18m20-299v26m20-26v26m0 236v19m20-19v19m10-19v19m40-255v45m20 171v20m10 0v19m60-307v26m30-26v26m10 221v21m30-44v23m30-195v45m10-97v26m10-26v26m20-26v26m20-26v26m20 221v21m10-268v26m30-26v26m0 221v21m30-44v23m10-23v23m50-247v26m0 26v45m40-97v26m190-26v26m10 299v17m100 0v15m50 43v13m90 0v11m20-24v13m10-26v13m50-13v13m10-13v13m10-13v13m170 0v13m40-71v15m0 89v5m10-15v10m10-158v19m10 18v17m0 94v10m10 0v5m10-15v10m20-104v15m20 89v5m10-109v15m30-15v15m0 89v5m10-163v19m0 129v10m20-121v32m30 89v5m10-109v15m30 89v5m20-126v17m10-17v17m0 94v10m10-104v15m10-32v17m0 94v10m20-121v17m30 82v12m10-94v15m0 79v10m10-121v17m0 82v12m10-111v17m0 94v10m10-104v15m10 89v5m10-79v15m10 49v10m30-74v15m10-15v15m0 49v10m10-74v15m10-15v15m10 0v13m10-58v15m0 67v12m10 0v10m10-89v15m0 74v5m10-109v15m10 43v13m0 33v5m10-15v10m20 0v5m40-5v5m10-94v15m10 15v26m0 11v12m10-49v13m0 36v10"/>
<path stroke="#000000" stroke-width="10" d="M1025 4975v15m40-45v30m40-15v43m0 13v11m10-117v35m0 15v56m0 11v12m10-49v13m0 24v12m480-554v31m0 30v29m0 474v5m10-27v12m0 10v5m1060-451v26m20-83v29m0 28v26m70-54v125m50-125v28m10-57v29m0 28v26m0 26v45m10-125v28m20 26v26m40-80v54m10 0v26m20-80v28m0 26v26m50-109v29m0 28v97m10-97v26m10-54v54m0 26v45m10-125v28m0 26v71m20-97v97m70 73v28m30-226v28m0 141v29m40-73v44m10-115v26m30-80v28m80 52v45m50-154v29m0 28v26m0 26v118m170-29v29m60 77v21m90-325v109m0 45v127m10-127v44m0 29v28m0 49v21m10-242v26"/>
<path stroke="#00ff20" stroke-width="10" d="M1035 4655v45m30-45v45m0 171v20m10-262v26m0 216v20m20-262v26m40 216v20m10-236v45m0 171v20m50-316v28m30-222v36m10-36v71m10-71v165m30-165v71m10 0v64m10 0v30m20-165v71m0 64v30m10-165v104m0 31v30m10-165v194m10-194v165m20-165v36m10 0v129m10-30v30m10-30v30m20 382v17m40-35v18m20-273v45m30-45v45m0 245v15m20-32v17m40-290v45m50 228v17m70-399v29m10-29v29m10-29v29m10 370v15m10-15v15m10-385v28m50-28v28m40 26v26m40 0v45m10-71v26m30-109v29m0 80v45m10-97v26m0 221v21m110-268v26m0 198v23m60-195v45m0 150v21m10-216v45m10 150v21m80-268v26m10-26v26m10-26v26m70 221v21m10-268v26m100 71v44m20 0v29m40-73v44m10-44v44m10-44v44m10-44v44m120 216v15m10 15v13m20 0v13m10-316v44m20 272v11m10-24v13m30-13v13m10-316v44m20-44v44m50 272v11m20-11v11m10-11v11m20-24v13m40-316v44m30 272v11m90-24v13m40 0v11m10-200v23m10 60v18m10 0v17m20-54v19m30 0v18m0 121v5m10-5v5m10-5v5m10-144v18m10-18v18m0 121v5m20-15v15m10-144v18m30-37v19m30 18v17m20-17v17m10-35v18m0 121v5m10-126v17m10 104v5m20-163v19m10 0v18m10-37v19m10 0v18m20-37v19m20 129v15m10-144v18m10-37v19m0 139v5m40-94v15m80-15v15m20-30v15m30 15v15m20-45v15m50 0v15m20-15v15m10-15v30m10-30v15"/>
<path stroke="#c6ff00" stroke-width="10" d="M1055 4871v20m30-41v21m110-70v26m20-311v30m50 0v29m50-29v29m40 252v23m10 0v21m50 20v19m20-166v29m0 137v18m30-18v18m20 0v17m10-35v18m20-18v18m50-228v44m10-44v44m40 166v18m10-273v45m10-45v45m80 210v18m20-273v45m0 191v19m60-39v20m90-236v45m10 171v20m10 0v19m90-255v45m40 73v28m90-255v29m170-29v29m0 252v23m10-247v26m50-26v26m0 242v20m20-288v26m50-26v26m40 242v20m10-288v26m30 0v26m30 0v45m110 44v29m90 230v13m30-272v29m0 202v15m10-246v29m30-29v29m30 202v15m10 13v13m10-272v29m30-29v29m30 230v13m40-26v13m10-13v13m90-28v15m0 37v12m10 0v10m10-22v12m10 0v10m20-89v15m10-15v15m10 0v15m0 26v11m20-67v15m10 52v12m30-12v12m10 10v5m20-15v10m10-104v15m0 67v12m10 0v10m40-10v10m20-10v10m40-89v15m0 28v13m40-71v15m0 56v11m10-67v15m0 52v12m10-23v11m20-67v15m20 52v12m20-64v15m0 37v12m10-36v24m10-11v11m20-11v11m30-37v26m10-13v13m10-26v13m0 13v23m10-23v11m40 0v12m20-36v36m10-23v11m0 12v15m20-51v13m0 11v12"/>
<path stroke="#fff" stroke-width="10" d="M1135 4801v26m60-127v73m10-118v146m10-172v172m10-146v195m10-221v144m10-144v172m10-172v172m10-172v172m10-172v172m10-172v172m10-172v172m10-198v198m10-172v172m10-172v198m10-172v172m10-198v172m10-146v172m10-172v195m10-221v172m10-101v101m10-101v127m10-127v127m160 44v57m10-57v57m10-57v57m10-57v57m10-18v18m150-228v171m10-171v171m10-171v191m10-191v171m10-171v171m10-171v191m10-191v171m10-171v191m10-191v171m10-171v191m10-191v210m10-210v210m10-210v171m10-171v191m10-191v127m10-127v150m10-150v127m10-127v101m10-101v150m10-150v127m10-127v127m10-127v127m10-127v150m10-150v150m10-150v101m10-101v101m10-101v127m10-127v127m10-172v118m10-73v127m10-127v127m10-127v127m10-127v127m10-127v127m10-127v127m10-127v127m10-127v101m10-101v150m10-150v127m10-127v127m10-127v150m10-150v150m10-150v127m10-127v127m10-127v127m10-127v127m10-127v127m10-127v150m10-150v101m10-101v127m10-127v127m10-127v101m10-101v127m10-127v127m10-83v83m10-172v45m0 44v57m10-172v26m0 89v83m10-172v45m0 44v106m10-221v71m0 44v127m10-127v83m10-54v98m10-216v45m0 101v90m10-118v98m10-216v45m0 73v98m10-216v45m0 73v98m10-216v45m0 73v118m10-236v45m0 101v90m10-236v45m0 73v118m10-236v45m0 44v106m10-195v45m0 44v127m10-216v45m0 73v98m10-216v45m0 73v98m10-98v98m10-98v98m10-98v118m10-118v98m10-98v98m10-98v118m10-191v44m0 29v155m10-228v210m10-210v44m0 29v137m10-210v210m10-210v73m0 28v144m10-245v44m0 29v137m10-137v137m10-83v101m10-101v101m10-101v118m10-118v101m10-78v110m10-133v133m10-133v118m10-95v95m10-95v95m10-95v95m10-118v118m10-118v118m10-118v118m10-74v104m10-148v118m10-95v110m10-110v95m10-95v110m10-133v118m10-95v110m10-110v110m10-133v118m10-95v95m10-118v118m10-95v110m10-110v110m10-133v133m10-110v95m10-118v133m10-89v89m10-89v89m10-89v104m10-104v104m10-125v125m10-125v110m10-110v110m10-133v133m10-110v95m10-118v118m10-95v110m10-110v110m10-110v110m10-89v89m170 43v13m20-13v13"/>
<path stroke="#0060ff" stroke-width="40" d="M940 5054v88"/>
<path stroke="#0040ff" stroke-width="40" d="M940 5142v39"/>
<path stroke="#1900de" stroke-width="40" d="M940 5181v37"/>
<path stroke="#3e0078" stroke-width="40" d="M940 5218v36m0 632v6"/>
<path stroke="#38009b" stroke-width="40" d="M940 5254v35m0 458v18"/>
<path stroke="#0020ff" stroke-width="40" d="M940 5289v33"/>
<path stroke="#0080ff" stroke-width="40" d="M940 5322v31m0 375v19"/>
<path stroke="#00c0ff" stroke-width="40" d="M940 5353v30"/>
<path stroke="#00ffff" stroke-width="40" d="M940 5383v29"/>
<path stroke="#00ffdf" stroke-width="40" d="M940 5412v28"/>
<path stroke="#00ffa0" stroke-width="40" d="M940 5440v26m0 242v20"/>
<path stroke="#00ff80" stroke-width="40" d="M940 5466v26"/>
<path stroke="#00ff20" stroke-width="40" d="M940 5492v45"/>
<path stroke="#a9ff00" stroke-width="40" d="M940 5537v44"/>
<path stroke="#ff4b00" stroke-width="40" d="M940 5581v29"/>
<path stroke="#ff2600" stroke-width="40" d="M940 5610v54"/>
<path stroke="#ffb000" stroke-width="40" d="M940 5664v23"/>
<path stroke="#46ff00" stroke-width="40" d="M940 5687v21"/>
<path stroke="#2d0056" stroke-width="40" d="M940 5765v62m0 26v33"/>
<path stroke="#1c0034" stroke-width="40" d="M940 5827v26"/>
<path stroke="#000000" stroke-width="20" d="M970 5054v838"/>
<path stroke="#0040ff" stroke-width="10" d="M985 5054v88m10-88v47m10 80v37m10 104v31m10-252v41m20-84v84m10-88v4m0 43v41m10-41v41m20-41v41m0 147v33m0 406v19m10-693v4m0 43v41m10-41v41m0 147v33m20-180v39m10-127v4m0 43v41m10 0v39m10-123v43m0 41v39m10-39v39m0 108v33m10-221v80m10-123v43m0 607v20m10-627v41m0 623v17m0 30v15m0 49v16m10-205v21m0 20v19m10-646v80m0 547v37m0 17v58m0 13v11m0 12v10m10-199v21m10 39v50m0 43v13m0 11v12m10-822v88m0 605v18m0 62v13m0 24v28m20-750v39m0 566v18m0 88v11m10-810v127m0 527v20m0 19v18m0 17v45m0 13v13m10-799v88m0 545v21m0 89v43m0 13v23m0 10v6m10-674v36m0 454v20m10-674v88m0 76v36m0 474v54m0 71v11m0 22v6m10-838v4m0 84v39m0 527v20m0 19v50m0 15v28m0 24v12m10-822v4m0 724v15m0 67v22m10-158v19m0 50v15m0 15v26m0 23v16m10-80v28m0 13v11m10-810v4m0 43v80m0 547v19m0 35v15m0 79v10m10-744v39m0 547v37m0 47v28m0 13v33m10-89v15m10-670v39m0 584v17m0 30v15m0 13v36m10-822v4m0 43v80m0 108v33m0 425v50m10-743v4m0 84v112m0 35v33m10-268v127m0 37v36m0 573v26m10-799v4m0 43v41m0 39v73m0 158v28m0 387v13m20-786v4m10-4v4m0 43v41m0 270v28m0 387v13m10-786v4m0 123v37m0 609v13m10-786v4m0 84v39m10-127v4m0 84v39m0 646v13m10-739v41m20-88v164m10-160v43m10-47v4m0 84v39m0 646v13m10-428v28m10-339v41m10-84v43m0 726v13m10-782v43m0 117v36m0 586v24m10-52v15m10-685v39m10-39v39m0 37v36m10-196v43m0 41v76m10-164v47m0 41v76m0 609v13m10-786v4m0 43v41m10 0v76m0 622v13m10-799v88m20 211v30m10-325v43m0 80v37m10-164v47m0 41v39m10 646v13m10-782v123m10-127v4m0 43v80m10-127v47m20 153v68m0 554v10m10-632v35m0 523v28m20-622v36m0 558v15m0 59v6m10-65v13m10-551v33m20-104v71m0 508v15m0 41v11m10-646v71m0 564v23m10-658v36m0 558v28m0 24v12m10-79v15m0 15v26m0 23v10m10-668v36m0 35v33m0 518v13m0 11v22m10-632v68m0 531v23m10-622v35m0 538v26m10-564v33m0 542v12m10-587v33m10-68v35m20 0v33m10-33v33m10 0v31m20 511v22m10-597v33m10-68v35m20-35v68m0 518v13m10-599v68m10-33v33m20-68v68m10 475v15m0 64v10m10-632v68m0 518v13m10-564v33m10-68v68m0 531v11m10-575v33m10 144v26m10-274v71m10-35v35m0 203v45m0 339v10m20-564v31m0 113v26m10-238v68m10-68v68m10-104v104m10-104v36m0 558v41m0 11v12m10-523v30m20-165v71m10 0v33m10-68v68m10-104v36m0 558v15m0 26v11m20-37v13m0 13v11m10-646v36m0 586v13m0 11v22m10-668v104m10-68v68m0 554v10m10-597v33m10-68v35m0 587v16m10-570v31m10 523v10m20-632v35m20 0v33m10-33v33m20-68v35m0 575v28m10-570v31m10-64v33m10 554v10m10-597v33m10-33v33m20-68v35m10-35v68m10-68v68m0 90v28m20-222v36m0 35v33m20-104v71m30-35v35m20-71v36m0 632v6m20-834v43m0 41v39m0 695v10m10-828v43m0 41v112m0 35v33m0 554v10m10-744v39m10-127v4m0 84v39m0 695v10m10-832v4m0 123v37m0 658v10m10-785v117m0 71v33m10-268v4m0 818v16m10-838v4m0 123v37m0 646v12m0 10v6m10-838v47m10 763v22m10-832v47m0 80v37m10-117v41m0 39v73m10-153v41m0 744v6m10-838v4m0 123v37m0 36v35m10 564v23m20-818v123m0 108v33m10-268v4m10 43v153m20-196v43m0 775v16m10-39v11m10-810v4m0 123v37m0 658v10m10-785v41m0 722v12m10 0v16m10-750v39m10 672v33m10-832v4m0 84v39m0 356v44m10-480v41m0 112v35m10 564v11m10-806v123m10-127v164m0 36v35m10-235v4m0 43v80m0 37v71m10-235v127m10 356v44m10 283v22m10-22v22m30-832v47m0 41v39m0 695v10m10-832v47m0 41v147m10-235v127m0 37v36m20-200v4m20 650v20m20-20v20m10 0v19m20-60v21m30-21v21m80-21v21m30-21v21m10-607v41m0 545v21m40 0v20m10-41v21m30-650v43m0 586v21m60 20v19m10-19v19m50-689v43m0 117v36m20 454v20m10 0v19m30-19v19m40-19v19m20 0v18m60-57v20m20 0v19"/>
<path stroke="#0020ff" stroke-width="10" d="M985 5142v39m10-80v80m0 108v33m10-33v33m10-268v47m10 41v39m0 108v33m10-33v33m0 425v18m10-623v39m10-39v39m10-39v39m0 108v33m10-33v33m10-180v39m10-123v43m0 188v33m10-180v39m10 108v33m10-33v33m20-33v33m10-33v33m0 406v19m20-458v33m0 406v19m10-605v39m10 601v30m0 52v12m10-822v47m0 41v39m0 527v20m10 37v17m0 82v12m20-818v123m0 631v28m0 13v11m0 12v16m10-750v39m0 672v11m20-810v88m0 586v19m0 35v15m0 15v15m0 13v13m0 11v22m10-59v13m0 13v39m10-184v20m0 19v35m0 58v13m10-672v37m0 469v21m0 20v19m0 35v15m0 43v13m10-711v76m0 564v30m0 15v13m10-782v84m0 586v19m0 106v11m10-763v80m0 527v20m0 19v18m0 32v43m0 13v11m20 12v10m10-89v30m0 26v11m0 22v6m10-791v41m20 112v35m0 458v18m0 17v15m10-69v19m10 65v15m10-646v37m0 165v29m0 400v15m10-685v39m10-123v84m0 39v37m0 194v28m0 357v15m10-754v84m0 670v15m10-769v43m0 41v112m10-196v123m0 231v28m10-382v84m0 39v37m0 194v28m0 387v26m10-795v84m0 39v73m10-200v47m0 41v112m0 158v28m0 387v13m10-782v43m0 726v13m10-622v36m0 158v28m10-386v4m0 43v153m10-196v43m0 80v73m10-200v47m0 696v15m10-758v47m0 311v28m0 372v15m10-726v117m20-164v47m0 80v73m10-36v36m0 129v29m0 441v11m10-481v29m10-311v41m0 698v13m10-752v41m10-84v43m0 41v39m20-39v76m0 135v30m0 470v11m10-810v164m10-164v4m0 43v41m10-88v4m0 43v80m10-80v41m0 39v37m10-160v84m10 39v37m0 609v13m20-698v39m20 141v31m10-64v33m0 31v30m0 457v13m10-531v31m10-99v68m0 505v26m0 11v22m10-632v35m0 551v24m20-511v30m10-94v33m0 505v13m0 24v12m10-587v33m0 518v13m0 23v10m10-632v68m0 518v24m0 12v10m10-668v71m0 564v23m30-587v33m0 542v12m40-587v33m50 144v26m10-170v31m10-64v33m10-33v33m10 0v31m20-31v31m10-99v68m10 144v26m10-274v36m0 558v64m40-410v26m10-170v31m10-64v33m10-33v33m10 0v31m20-31v31m30-99v35m10-35v68m20-33v33m30-33v33m0 505v26m0 11v22m20-632v68m10-68v99m20-31v31m20-64v33m40-33v33m40 0v31m10-64v33m30-33v33m10 0v31m20-64v64m10-64v33m30-33v64m20-99v68m0 118v26m10-177v33m0 118v26m10-212v35m10 0v64m20 87v26m10-212v68m10-104v36m0 212v26m10-311v108m10-35v35m0 203v45m10-483v88m0 39v73m0 622v16m10-791v41m0 76v71m10-231v123m10 73v35m10-231v196m0 35v33m10-264v123m0 73v35m10-147v112m0 632v6m10-838v47m0 41v76m0 668v6m10-791v80m0 37v71m10-235v47m0 41v39m0 108v33m0 554v10m10-832v4m0 123v73m10-196v43m0 41v39m0 37v36m10-196v160m0 658v16m10-838v4m0 818v10m10-832v4m0 123v73m10-196v43m0 41v112m10-196v43m0 311v28m10 97v44m0 283v12m10-822v4m0 43v41m10 722v12m10-818v123m0 37v71m10-231v43m0 41v39m0 37v36m0 622v16m10-838v4m0 43v41m0 395v44m10-527v88m0 39v37m10-160v43m0 41v76m10-160v84m0 39v37m0 36v35m10-235v4m0 84v76m0 71v33m10-221v41m0 722v12m10-822v4m0 828v6m10-674v36m10 35v33m0 90v28m0 52v45m10-319v104m10 542v22m10-832v164m10-164v88m0 39v37m0 668v6m10-39v11m0 22v6m10-838v235m0 587v16m10-791v41m0 76v71m20-35v68m0 170v45m10-436v41m10-84v196m0 410v23m10-629v43m10 41v39m10 527v20m20-20v20m60-64v23m10 0v21m50-527v37m0 469v21m30-21v21m10-607v41m10-84v43m0 41v39m30-127v4m0 84v39m0 73v35m30-231v43m0 41v39m20-127v4m0 84v76m10-160v43m0 41v39m0 37v36m10 454v20m20-41v21m20 0v20m10-20v20m10-20v20m10-586v39m0 506v21m10 0v20m10-670v43m0 117v36m0 454v20m10-674v4m0 43v80m0 506v21m30-607v41m10 566v20m10 37v17m20-35v18m10-18v18m10-18v18m10-711v4m0 43v41m0 39v108m30-235v4m0 160v36m10 474v19m30-693v4m0 84v39m10-127v164m10 490v20m20-674v47"/>
<path stroke="#3200be" stroke-width="10" d="M985 5181v37m20 658v16m10-603v33m10-141v37m10 646v12m0 10v6m20-711v37m10-37v37m10 36v35m0 493v15m0 43v13m10-599v35m20-35v35m30 439v19m20-566v37m0 36v35m10-35v35m0 587v10m10-705v37m10-37v37m20 529v50m0 43v13m0 23v16m20-145v65m0 52v12m0 10v6m70-80v15m100-573v35m0 564v11m10 0v12m10-587v33m0 531v23m20-658v36m0 558v15m10-609v36m10 599v11m20-481v29m30 441v11m40-646v36m10-36v36m0 573v26m10-470v29m10-29v29m0 452v28m20-16v16m10-28v12m0 10v6m10-674v36m30-36v36m20-36v36m0 599v11m30-24v13m30 0v11m10-24v13m130-500v30m20-30v30m40-61v31m40 0v30m80-30v30m20-61v31m10 113v26m20-170v31m0 113v26m20-139v30m40-30v30m20-61v31m20 113v26m10-170v31m30-31v31m30 0v30m50 0v29m10-90v31m50 0v59m20-90v31m10 30v29m40-90v31m20 30v29m10-29v29m70-90v31m20 87v26m20-54v28m20-87v30m10-61v31m10 0v87m10-118v90m10 54v71m10-97v26m0 26v45m10-45v45m10-215v31m0 87v26m10-26v26m10-83v29m10-59v30m0 29v28m0 52v45m10-97v52m10-139v30m0 57v26m0 26v45m10-215v31m0 113v26m10-139v30m10 29v54m10-248v36m0 35v94m10 109v45m10-97v26m20-285v37m0 71v33m10 31v30m0 57v26m10-144v31m10 0v30m0 57v52m10-139v87m0 52v45m20-248v33m0 31v30m10-61v61m10-30v30m0 83v26m10-109v29m0 80v45m10-248v64m10 0v87m10 26v26m10-26v26m10-109v57m0 52v45m10-184v30m10 83v26m10-139v59m20-59v30m0 57v97m10-125v54m10-113v30m0 57v26m10-26v26m10-177v64m10 30v83m0 71v44m10-292v64m10 0v30m0 281v23m10-506v73m0 433v21m10-607v41m0 147v64m0 334v21m10-419v33m0 31v30m10-165v36m0 68v31m10-99v35m0 33v31m0 311v23m10-398v33m0 316v49m10-433v68m0 31v30m0 227v54m10-26v26m10-606v84m0 496v26m10-483v37m0 446v23m10-365v31m0 113v26m0 118v28m10-384v99m0 257v28m10-457v73m0 410v23m10-398v33m0 316v26m10-342v61m0 198v29m10-556v4m0 196v35m10 33v31m0 59v28m10-118v31m10-31v31m0 113v26m10-139v30m0 29v28m0 26v71m10-483v4m0 84v76m0 36v35m0 375v23m10-398v33m10 31v30m10-129v99m0 311v23m10-586v41m0 76v36m0 35v33m0 342v23m10-398v33m0 118v52m0 118v28m10-584v4m0 196v99m0 311v23m10-334v30m0 57v26m0 71v44m10-228v30m0 109v45m10-436v80m0 108v33m0 342v23m10-334v30m10-202v37m0 71v64m0 311v23m10-469v36m10-196v43m0 117v104m0 365v21m10-650v160m10 36v35m0 398v21m10-386v31m0 285v26m10-375v64m0 334v21m20-419v123m0 28v26m0 26v45m0 44v29m0 28v26m10-610v47m0 80v73m0 35v64m10-99v68m10 0v31m0 334v21m10-527v37m0 71v33m10-141v37m0 36v35m10-71v36m0 35v64m0 311v23m10-633v47m0 41v112m0 35v33m10-264v43m10 188v64m0 355v20m10-406v61m0 304v21m10-654v88m0 586v19m10-493v35m0 64v30m10 83v26m0 45v44m10-228v30m0 325v20m10-547v73m0 454v20m10-439v64m10 59v28m0 141v29m0 54v23m10-334v30m0 281v23m10-398v33m0 365v21m10-386v31m0 30v57m0 97v44m0 106v41m10-375v30m0 29v28m0 170v28"/>
<path stroke="#1c0034" stroke-width="10" d="M985 5218v36m0 493v18m10 88v11m0 12v10m20-668v36m10 599v11m0 12v10m20-104v45m0 13v13m0 23v10m10-668v36m0 599v11m0 12v10m10-104v15m0 15v52m20-117v18m0 62v37m10-117v18m0 111v10m10-158v19m0 80v13m0 46v6m10-39v11m20-82v45m10 13v13m0 23v10m10-121v17m0 15v15m0 15v13m0 13v11m20-117v50m0 15v28m0 24v22m250 0v6m10-570v31m0 500v11m0 22v6m10-638v68m0 31v30m0 470v23m20-587v123m0 464v10m10-533v30m0 481v12m10-554v61m10-94v64m0 523v10m10-503v29m0 452v28m20-539v30m0 493v10m10-533v30m10-129v68m10-68v35m0 64v30m0 470v11m30-542v31m0 523v10m30-564v31m20 523v16m20-570v31m10 511v12m0 10v6m10-638v35m0 33v31m0 533v6m10-570v31m10 500v11m10-610v99m0 500v11m0 12v10m10-33v11m0 12v10m20-564v31m0 500v39m610-509v29m70-59v59m180-29v29m210 28v26m0 26v45m20-45v45m50-45v45m80-154v29m0 28v97m30-154v29m90 0v28m0 141v29m0 28v26m10-127v44m10-169v28m0 26v26m10 0v45m40-125v28m10-28v28m10-28v28m0 97v44m0 57v26m30-281v29m0 28v26m0 71v44m30-44v73m20-227v29m0 28v26m30-54v28m0 52v89m10 0v57m20-226v28m10-57v83m20-83v29m0 80v89m0 29v28m30-101v44m10-89v45m10-97v26m10-83v29m0 80v118m10-227v83m0 115v83m10-252v54m0 144v28m30-255v29m0 54v26m0 118v28m30-198v26m0 115v29m0 28v26m10-127v44m0 57v26m10-127v44m0 57v49m10-195v45m30-154v29m0 28v26m0 26v118m20-227v29m0 125v44m0 106v21m20-268v52m0 172v44m10-242v26m0 89v29m0 28v26m30-224v26m0 26v118m10-170v26m30 115v29"/>
<path stroke="#2d0056" stroke-width="10" d="M985 5254v35m0 597v6m10-674v36m10 610v12m20-622v35m0 458v35m10 71v11m10-646v71m0 476v17m0 82v12m0 10v6m20-674v71m0 508v15m0 52v28m20-110v45m0 49v10m10-668v36m10 493v35m0 15v30m0 26v11m10-52v15m10-45v30m0 28v13m10-635v36m0 493v18m0 121v6m10-145v35m0 30v28m10-93v18m0 17v15m0 43v13m0 23v10m20-46v13m10-56v15m0 28v13m240-564v64m20-31v31m0 30v29m10-158v35m0 33v61m0 503v6m10-638v35m0 597v6m10-638v99m0 523v10m10-597v33m10 542v12m0 10v6m10-638v35m10 0v33m0 31v30m0 503v6m10-603v64m0 30v29m0 452v12m0 10v6m10-638v35m0 33v31m0 533v6m10-52v24m10-575v33m10 0v31m0 533v6m10-603v33m10-68v68m0 61v29m10-123v33m20 542v28m10-638v35m0 564v11m0 12v16m10-638v68m0 542v12m20-622v68m0 542v22m10-632v99m10-64v33m10 531v11m10 0v22m10-668v36m10 0v68m0 518v13m0 11v12m10-554v31m10-99v68m50 31v30m280-30v30m240-30v30m20-30v59m20-59v30m10-30v30m10 0v29m20-29v29m60-59v59m40-59v30m20-30v30m30 0v29m10 0v28m10-28v28m10-57v29m10 0v28m20-87v30m0 29v28m40 26v26m20-80v28m110 52v45m20-154v29m20 54v26m10-80v28m0 26v71m40-71v26m20-80v80m30-109v29m0 28v26m0 26v45m60-125v28m20-28v54m0 26v45m50-125v54m0 26v45m30-45v89m10-198v29m0 80v89m10-198v109m0 89v83m10-83v83m10-281v29m0 28v26m0 71v44m0 29v77m10-247v52m0 45v44m10-198v29m10 28v26m10 26v45m0 44v29m10-257v59m0 28v97m0 44v29m10-118v45m10-154v29m0 28v26m0 26v45m10-154v29m0 80v89m10-169v28m0 26v26m0 118v28m10-285v184m0 73v28m20-255v154m10 0v44m0 29v28m10-172v71m0 44v57m10-101v44m20-141v52m0 146v26m10-224v141m0 57v26m20-224v52m0 45v44m0 29v54m10-198v26m0 45v44m0 29v28m20-226v80m0 89v29m0 28v26m30-252v28m0 26v71m0 44v57m10-28v28m10-146v45m0 44v29m0 28v26m10-252v54m0 144v28m10-172v26m10-139v30m0 83v26m0 45v73m10-227v57m0 26v71m0 101v26m10-198v26m10-80v28m0 52v45m0 44v29m0 28v26m10-281v29m0 125v44m0 29v28m20-146v89m10-198v29m0 80v45m0 44v29m10-227v29m10 0v80m0 45v150m10-365v31m10 30v29m0 54v144m0 28v26m0 23v21m10-296v28m0 268v39m10-364v29m0 54v71m0 44v29m0 28v26m10-198v26m0 146v49m20-398v94m0 325v20m10-316v28m0 170v28m0 26v23m20-247v26m0 71v44m0 83v23m10-304v57m10 26v26m0 89v29m0 28v26m10-172v45m0 73v28m20-255v29m0 198v28m20-146v45"/>
<path stroke="#1900de" stroke-width="10" d="M985 5289v33m30-180v39m30 108v33m20 425v18m10-18v18m10-584v37m50 71v33m10-141v37m20 668v6m20-638v35m10-35v35m0 551v24m10-646v36m0 543v43m0 24v12m20-168v20m0 99v26m40-88v17m30-17v17m0 15v15m0 15v13m0 24v22m30-121v17m0 58v13m70-56v15m0 15v13m0 46v6m10-65v26m10-531v31m10 500v11m10-722v39m10 646v26m10-13v13m10-635v36m0 586v13m20-441v28m10 400v24m10-646v36m0 158v28m10 424v12m10-36v24m20-763v41m0 39v37m0 594v28m20 0v13m20-752v41m0 270v28m10 424v12m10-23v11m0 12v10m10-533v30m0 470v11m40-646v36m20 586v13m30-799v4m0 782v13m20-13v13m20-599v68m0 31v30m0 470v11m0 12v10m30-533v30m10-61v31m40-31v31m10-31v31m50-31v31m10-31v31m30 113v26m50-170v31m30-31v31m40-31v31m0 113v26m10-170v31m20-31v31m20 0v30m10-30v30m20-61v31m0 113v26m50-26v26m10-170v31m0 113v26m10-170v31m20-31v31m20 113v26m30-26v26m10-26v26m40-170v31m180-31v31m30-31v31m0 59v28m10-118v31m40-31v31m0 87v26m20-144v31m0 87v26m10-144v31m20 87v52m10-238v68m10 0v61m0 29v28m10-118v61m10-30v30m10-30v87m0 52v45m10-184v59m10-90v31m0 59v80m10-26v26m10-170v90m10-90v31m10 0v30m10-94v33m10 0v31m0 139v45m10-356v37m0 319v44m10-198v83m10-177v33m10 31v30m0 57v97m10-483v4m0 43v80m0 37v71m10 0v64m0 184v44m10-363v104m0 564v6m10-603v64m0 30v57m20-186v99m10-31v31m10-64v33m10 0v31m0 139v45m10-215v61m0 57v26m10-248v36m0 632v6m10-603v64m10 0v30m0 57v26m0 26v45m10-97v26m10-144v61m0 83v26m10-350v147m0 597v6m10-570v31m10-64v64m10-299v47m0 41v147m10 33v31m0 30v29m10-231v37m10 104v31m0 30v57m0 52v45m10-184v30m0 29v28m0 26v26m10-311v108m10-35v129m0 83v26m10-238v35m10-188v41m0 112v99m0 334v21m10-654v127m0 73v35m10-231v43m10-47v88m0 39v108m0 33v31m10-299v47m0 80v37m0 36v68m0 386v20m10-674v4m10 0v43m0 80v37m0 36v35m10-188v41m10-88v4m0 84v39m0 73v68m0 342v23m10-633v4m0 84v39m0 37v36m10-112v39m10-123v84m0 76v104m10-180v39m0 37v36m10-200v127m0 73v35m10-108v73m0 410v23m10-633v4m0 231v33m10-264v196m10-196v84m0 39v37m0 71v33m0 31v30m0 304v41m10-674v4m0 160v71m10-35v68m0 342v23m10-398v33m0 61v29m0 252v23m10-629v84m0 76v36m0 433v21m10-650v43m0 41v76m0 36v35m10 0v64m10-299v88m0 39v73m10-196v43m0 80v37m10 0v36m0 68v31m10-295v196m10 0v99m10-64v64m0 311v23m10-629v43m0 80v108m10-231v43m0 41v180m0 365v21m10-607v80m0 37v36m10-153v117m0 36v35m10-235v4m0 84v39m10-127v4m10 0v43m0 41v76m10-160v84m0 39v141m0 342v23m10-545v147m10-235v4m0 84v76m0 36v99m10 184v44m0 29v28m0 26v23m10-586v80m0 73v35m0 439v19m10-425v31m0 334v21m10-454v68m0 31v30m0 325v20m10-674v88m0 76v71m0 398v21m10-654v4m0 689v18m10-711v4m0 84v76m0 36v35m0 419v20m10-627v41m10-88v4m0 84v76m0 36v68m0 406v19m10-689v84m0 76v71m10 0v33m10-104v36m10-196v43m0 41v112m0 35v33m10-33v64m0 311v23m10-469v71m0 33v31m10-299v47m0 41v39m10-127v4m0 43v80m0 73v35m10-231v43m0 153v68m0 365v41m10-439v64m0 334v21m10-654v47m0 80v108m10-188v41m0 112v35m0 64v30m10-94v64m0 334v21"/>
<path stroke="#0060ff" stroke-width="10" d="M985 5322v31m10-31v31m10-295v84m20-88v47m0 627v19m10-689v84m10-88v4m0 264v31m10-295v43m0 221v31m0 375v19m10-693v47m0 221v31m10-252v80m10-123v43m10 221v31m10-299v47m0 607v20m10-627v80m10-123v84m10-84v43m0 221v31m10-299v4m0 43v41m10-41v41m10 586v19m10-693v47m0 221v31m10-252v41m0 147v33m10-268v47m0 41v76m0 529v18m20-711v47m0 739v13m0 33v6m20-838v4m0 650v20m0 69v15m10-84v19m0 18v62m10-685v39m0 659v13m10-166v21m10 57v17m10-118v23m0 41v19m0 35v15m0 79v10m20-199v41m0 84v15m20-769v43m0 627v19m10-646v80m0 566v18m0 17v15m0 15v15m10-769v43m0 41v39m0 566v18m0 17v30m0 52v12m0 10v6m10-184v20m0 19v35m0 45v26m0 11v12m10-822v47m0 739v13m0 33v6m10-791v80m0 601v15m0 15v15m0 13v13m10-799v88m0 566v20m0 69v15m10-754v43m0 607v20m10-670v84m20-84v43m20 311v28m0 357v15m20 0v15m10-15v15m30-387v26m0 346v15m10 13v13m10-441v28m0 372v15m10-726v41m0 270v28m0 372v15m20-30v15m10-758v4m0 754v15m10-685v76m20-164v88m0 39v37m0 609v13m10-782v84m0 39v37m0 609v26m10-799v4m20 295v30m10-325v84m20 698v13m20-13v13m20-500v30m10-329v4m10 123v37m10 135v30m0 444v13m10-659v37m0 594v28m10-622v36m0 558v64m10-695v73m0 528v30m0 52v12m20-79v15m10-594v36m0 543v15m0 74v6m10-638v35m0 493v15m0 15v15m0 26v11m10-646v36m0 35v33m10 518v13m10-56v43m10-43v15m0 74v6m10-110v15m10-543v35m0 538v13m10-622v36m0 558v15m0 13v13m0 23v10m10-668v36m0 558v15m0 26v11m10-610v35m0 538v26m10-599v35m0 575v22m10-668v36m0 35v33m10-104v71m10-71v71m0 564v11m0 12v10m10-632v35m10-71v104m10-33v64m10-135v71m0 523v52m10-646v71m0 177v26m10-274v36m0 586v13m10-635v71m0 564v23m10-658v36m0 558v28m0 13v33m10-668v36m10 0v35m0 551v13m0 23v10m10-668v36m0 558v64m10-12v12m10-94v15m10-579v36m0 573v13m0 13v23m20-695v73m0 558v41m0 11v12m10-622v35m10 0v33m10 505v59m10-668v36m0 573v49m20-658v104m10-104v36m0 586v46m10-668v36m20 543v15m0 41v11m20-646v104m0 531v11m10-52v64m10-658v36m0 599v11m20-67v15m0 74v6m10-674v104m10-104v36m0 558v15m0 13v13m0 11v22m10-59v13m0 13v11m0 22v6m10-39v23m10-658v36m0 610v12m0 10v6m10-638v35m10-71v36m0 599v23m20-658v71m0 597v6m10-638v68m0 564v6m10-674v36m0 622v10m10-597v33m10-68v35m0 597v6m10-674v71m0 575v12m0 10v6m10-603v33m10-104v36m20 0v35m10-71v71m0 564v23m0 10v6m40-674v36m0 610v28m20-674v36m0 622v16m10-674v71m10-35v35m10-71v36m0 622v10m20-668v36m10-36v71m10-71v36m0 632v6m20-711v37m0 658v10m10-705v37m0 668v6m10-838v4m0 43v41m0 324v26m0 372v12m0 10v6m10-838v4m0 43v41m0 744v6m10-28v12m10-12v12m0 10v6m10-6v6m10-838v47m0 117v36m20 622v10m10-785v41m0 734v10m10-33v11m20 0v12m10-818v43m0 763v22m10-785v41m0 722v12m10-36v13m10 11v12m10 10v6m20-838v4m0 196v35m40 597v6m10-39v11m10 0v12m10-23v23m0 10v6m30-834v43m0 785v6m30-16v16m10-834v43m0 80v37m10 658v16m20-39v11m0 22v6m20-52v13m10 11v12m10 10v6m10-791v41m10 39v37m10 319v44m70 147v19m30-83v23m30 21v20m10-64v23m50 21v20m10 0v19m40-39v20m20-64v44m30-44v23m10 21v20m40-20v20m20-41v21m30 20v19m20-19v19m20-39v20m10 19v18m40 17v15m20-32v17m10-17v17m30-17v17m20-95v21m20 20v19m50 0v18m10-37v19"/>
<path stroke="#00a0ff" stroke-width="10" d="M985 5353v59m10-59v30m10-329v4m10 354v28m30-87v30m10-30v30m10-30v30m10-329v4m0 264v31m10-31v31m10 0v59m10-90v31m20-31v31m0 375v19m40-689v84m10 211v30m20 325v39m10-458v33m40 365v21m10 0v57m0 17v30m0 64v10m20-158v19m10-605v39m0 457v26m50 101v17m10 58v13m20-56v15m10-65v18m0 88v11m0 22v6m10-16v10m20-121v32m10 0v15m10 0v15m40-387v26m0 331v15m20-372v26m70-26v26m10-54v28m0 357v15m10-758v4m10 739v15m20 0v15m10-444v29m0 415v13m10-487v30m70-30v30m0 444v13m30-13v13m20-43v15m10-30v30m0 74v6m20-674v104m0 554v10m20-104v15m10-616v37m0 579v15m0 28v13m10-13v13m10-672v37m0 668v6m10-711v37m10 564v15m10-32v17m10 0v15m0 89v6m20-127v17m0 94v10m20-89v15m10-15v15m0 41v11m10-82v15m0 67v12m10-64v15m0 59v6m10-80v15m0 37v22m10-420v26m0 335v13m0 13v11m10-646v36m0 610v12m10-79v15m0 74v6m10-65v37m0 12v10m10-705v37m0 579v15m10-631v37m0 579v15m0 64v10m10-89v15m0 74v6m10-6v6m10-80v15m0 59v6m10-711v37m0 579v15m0 64v10m10-89v15m10-711v41m0 566v39m0 139v6m10-711v37m0 564v30m10-594v36m10 528v15m0 79v10m10-22v12m10-36v36m10-695v37m10 579v15m10 28v36m10-64v28m0 13v33m10-89v15m0 74v6m10-110v30m0 15v13m0 24v12m10-695v37m0 579v30m10-80v35m10 30v15m0 37v12m10-64v15m0 13v13m0 23v10m10-705v37m0 579v15m0 74v6m10-80v15m0 37v12m10-49v26m10-88v32m10 15v28m0 24v12m10-695v37m0 668v6m10-110v15m10-616v37m0 658v10m10-121v62m10 26v11m10-67v15m0 15v26m10-635v36m0 622v16m10-39v11m10 0v12m10-23v11m20 0v12m20-658v36m10 528v15m0 15v41m10-635v36m0 622v10m20-705v37m0 609v26m10 11v28m10-28v28m10-16v16m20-39v39m10-39v11m10 0v12m10-12v22m10-785v41m0 39v37m0 635v11m10-683v37m0 646v12m10-695v37m10 668v6m10-711v37m20-160v43m0 739v13m10 11v12m30-23v11m30 12v16m110-28v12m10-339v44m10 283v12m20-295v29m0 254v12m10-36v13m10 11v12m10-36v13m10 0v11m50-24v13m10 11v12m20 10v6m10-39v11m30-327v44m30 283v12m10-12v12m10-12v28m10-311v29m60 137v18m60-57v20m30-64v23m10 21v20m10-41v21m10 0v20m60 0v19m50-60v21m40 20v19m10-19v19m10-19v19m20 0v18m10-18v18m60 0v17m50-35v18m30 0v17m60-35v18m30-37v19"/>
<path stroke="#00dfff" stroke-width="10" d="M985 5412v28m10-28v28m20 0v26m0 242v20m10-345v29m30 0v28m10-57v29m0 316v19m10-394v30m10-30v30m10 29v28m50-57v29m20-59v30m10 0v29m10-90v31m30 334v21m190 39v18m10 17v15m10 0v15m10-47v17m20-342v26m20 316v15m20 0v15m10-346v26m30-52v26m0 331v15m10-47v17m20 0v15m40-385v28m20 372v15m10-15v15m30 0v13m10-28v15m50-474v30m10 429v15m20-726v117m10-164v127m10 616v30m0 59v6m10-838v4m0 325v29m10-358v127m10 705v6m10-110v15m0 15v15m0 37v12m10-822v127m10-127v88m10-88v4m0 325v29m10-354v43m10 0v80m10-80v117m10-160v123m10-39v39m0 584v17m10-640v39m0 601v15m10-655v76m0 547v32m0 89v6m10-791v80m0 547v54m0 104v6m10-834v160m0 248v26m0 273v32m10-696v80m0 584v32m0 89v6m10-711v37m0 668v6m10-426v26m0 320v15m10-773v47m0 41v39m10 0v37m0 564v15m10-743v127m0 547v54m0 104v6m10-834v123m0 547v37m0 121v6m10-838v127m0 527v57m10-664v80m0 584v17m10-681v117m0 547v32m10-743v47m0 41v39m0 527v39m10-605v39m0 584v32m20-743v4m0 43v80m0 527v57m0 121v6m10-110v15m0 67v12m10-822v127m0 506v41m10-547v37m0 579v15m0 64v10m10-705v37m0 658v10m10-832v88m0 566v39m10-693v127m0 547v37m10-584v37m0 579v30m10-646v37m0 579v15m0 74v6m10-838v127m0 584v17m10-681v80m0 566v18m10-664v80m0 566v35m10-728v4m0 629v41m10-627v80m0 584v17m10-640v39m0 584v32m0 89v6m10-838v127m0 527v39m10-646v80m0 547v54m0 94v10m10-785v41m0 605v18m0 17v15m20 79v10m10-832v127m0 527v39m10-693v88m0 586v19m10-693v127m0 566v18m0 17v15m20-743v164m0 579v15m0 15v13m20 24v12m10-822v47m0 646v18m0 17v15m10-743v127m0 566v18m0 17v71m10-799v164m0 529v50m0 15v28m10 24v12m10-822v88m0 623v47m0 15v13m0 13v11m10-810v127m0 547v19m0 18v32m0 15v15m10 26v33m20-22v12m10-822v127m0 601v58m10-786v4m0 670v37m10-623v76m10-37v37m0 635v11m10-722v76m10-117v41m0 640v15m10-743v88m0 698v13m10-795v43m0 739v13m10-795v43m0 739v24m10-810v88m0 698v13m10-26v13m10-786v4m0 769v13m20-786v4m0 43v41m0 711v11m10-24v13m10-711v76m0 658v10m10-59v13m30 0v13m10-316v44m10 259v13m20 11v12m10-36v13m10-13v13m60-316v44m0 272v11m90-24v13m60-316v44m40 283v12m50-49v13m20 13v11m20-11v11m10-254v28m10 70v20m20 19v18m30 0v17m10-17v17m10-54v19m10-19v19m20-19v19m80-19v19m40-19v19m10 0v18m30-18v18m10-37v19m120-19v19m10 0v18m10-18v18m30-18v18m20-18v18m90-37v19m40 0v18m20-18v18"/>
<path stroke="#00ffff" stroke-width="10" d="M985 5440v26m40-54v28m10-57v29m10 0v28m40-57v29m20-29v29m10-29v29m10-29v29m30-29v29m30-59v30m30-202v37m80 36v35m10-35v35m20 375v23m70 0v21m10 20v19m20-307v26m40 0v26m20-26v26m40 290v15m40-357v26m20 0v26m10 305v15m10-15v15m10 0v15m40 0v13m40-28v15m20-474v30m0 414v15m10 0v15m20-45v15m10-743v47m0 664v17m20-601v37m0 564v15m0 56v11m20-99v17m10-728v127m0 695v10m10-121v17m50-728v47m0 664v17m10-728v47m0 664v17m10-728v4m0 689v18m10-711v88m10-84v84m0 623v17m10-728v88m10-88v47m0 252v30m0 304v41m0 148v10m10-832v4m0 670v37m10-711v47m0 607v57m10-711v127m0 566v50m10-616v37m0 668v6m10-184v20m10-674v4m0 43v80m0 547v54m10-74v20m10-674v4m0 650v20m20-674v47m0 607v57m10-711v47m0 627v37m20-711v88m0 566v57m0 121v6m10-205v21m10-650v43m10 41v39m0 584v17m20-17v17m10-640v39m0 601v30m0 74v6m30-838v4m0 43v80m0 584v32m10-739v123m0 566v50m10-69v19m10-693v47m0 252v30m0 325v39m0 129v16m10-838v47m0 607v39m0 139v6m20-838v47m0 607v57m0 111v16m10-838v88m0 566v57m20-711v47m0 586v41m0 158v6m10-838v47m0 41v39m0 584v17m10-74v20m10-674v127m0 566v50m0 89v6m30-164v19m20 0v50m20-743v164m0 547v17m0 58v24m20-99v17m10 15v15m10-711v80m0 672v11m10-452v28m10 307v18m0 62v13m10-659v37m10 510v19m10-689v160m0 609v37m10-117v35m20-728v88m0 623v88m10-799v127m0 584v47m0 28v13m10-799v88m0 670v52m10-99v17m10 30v28m10-43v43m10-43v43m10-28v28m10-43v30m10-30v30m10 0v13m10-13v26m10-387v26m0 320v28m10-786v88m0 711v23m0 10v6m10-426v26m10 348v13m10-26v13m80-13v13m20 0v13m20-316v44m60 259v13m10-13v13m20-316v44m20 246v13m30-303v44m50 259v13m50-13v13m30-316v44m20 259v13m130-125v19m10 0v18m20-78v21m20 0v20m10 0v19m20 18v17m10-35v18m10-37v19m70-39v20m10 19v18m40-18v18m10-18v18m10-37v19m10 18v17m10-17v17m50-54v19m10 35v15m20-32v17m60 0v15m10-32v17m20 0v15m30-32v17m30-35v18"/>
<path stroke="#00ffc0" stroke-width="10" d="M985 5466v26m0 216v20m20-316v28m40 26v26m10 216v20m20-345v29m10 0v28m0 268v20m10-262v26m10-80v28m0 247v21m10-296v28m0 288v19m10-335v28m20 0v26m10-26v26m0 242v20m10-345v29m10 28v26m10-83v57m30-186v35m10 375v23m60-506v73m30 433v21m30-527v37m60 490v20m20 54v15m20-331v26m10-26v26m100-26v26m30 290v15m20-357v26m10-54v28m10 357v15m20 0v15m20-444v29m40 385v15m30-15v15m10-47v17m10-399v29m20 353v17m40-728v4m0 689v18m20-382v29m30-29v29m10-29v29m60 80v45m0 171v20m30-670v43m110 586v21m10-355v30m0 304v21m0 168v10m30-178v39m20-39v20m50-41v21m80 0v20m70-316v28m10-28v28m10-28v28m10 288v19m10-19v112m30-112v37m0 17v58m40-132v20m30-316v28m20 342v15m40-15v15m10-15v15m20 15v15m10-45v30m30-320v45m80 290v13m40-13v13m40 0v13m10-316v44m50 246v13m30-259v29m10-73v44m10 246v13m10 13v11m20-327v44m20-44v44m40 246v13m20-303v44m20 259v13m30-215v26m0 200v12m10-148v19m20 18v17m40 0v15m20-50v18m20-18v18m20 0v17m10-54v19m10-39v20m30 19v18m30 0v17m30-17v17m40-35v18m10-37v19m10 18v17m30-35v18m20 0v17m10-35v18m20 17v15m40-32v17m10-35v18m20 0v17m30 30v15m70-30v15m10-65v18m10 17v15m20-32v17m10-17v17"/>
<path stroke="#00ff60" stroke-width="10" d="M985 5492v45m10-45v45m0 150v21m10-242v26m30-26v26m50-26v26m10 0v45m20-71v26m10-26v26m20-26v26m20-52v26m20-26v26m10-144v31m20-64v33m10-68v35m100-108v37m40 469v21m10-44v23m30-304v29m0 275v21m30 39v18m30-273v45m20-45v45m60 210v18m30 17v15m70 0v15m40-15v15m60-400v28m10 0v26m10-54v54m30-54v28m0 26v26m10-80v28m20 0v26m10-54v28m10-28v28m0 26v26m10-26v26m10-52v26m10-26v26m10-54v54m10 0v26m30-52v26m50 26v45m40-45v45m70 127v23m20 0v21m20-21v21m50-268v26m40 221v21m10-21v21m20-21v21m30-21v21m20-21v21m20-296v28m10 97v44m20 147v19m50-335v28m20 97v44m30-44v44m100 184v17m10 0v15m30-15v15m10-15v15m20 15v15m10-290v44m70 231v15m30-290v44m80 0v29m110-73v44m30 246v13m40-28v15m40 0v13m10-176v23m0 153v13m20-71v15m90-15v15m10-32v17m10 0v15m0 89v6m10-145v18m10-18v18m10 17v15m10-32v17m20 0v15m30-15v15m30 0v15m20-15v15m20-65v18m10 17v15m50-15v15m10-32v17m20 15v15m40-30v15m10-32v17m20 0v15m20-15v15m20 0v15m30 0v15m20 0v13m20-75v17m40 0v15m30 0v15"/>
<path stroke="#46ff00" stroke-width="10" d="M985 5537v44m0 106v21m30-171v44m30 127v20m50-64v23m70-195v45m30-125v28m40-87v30m20-94v33m0 31v30m60 0v29m20-29v29m30-29v29m10-59v30m10 0v29m0 252v23m10-247v26m0 198v23m40 41v19m10 0v18m150 0v17m20-290v45m10-97v26m10 0v26m10-109v29m10 28v52m10 290v15m10-32v17m10-342v26m10-54v28m10 325v17m20-370v28m10 325v17m90-54v19m70-335v28m10 52v45m0 191v19m10-255v45m30-45v45m10 150v21m20-268v26m10-26v26m40-26v26m20 26v45m60-97v26m10 26v45m30-71v26m100-52v26m10-26v26m40-26v26m10-54v28m70 97v44m50 147v19m60-210v44m40 184v17m110-201v29m0 202v15m70-246v29m10 202v15m90-15v15m60-246v29m40-29v29m40 202v15m20-246v29m10 0v28m0 174v15m10-246v29m20-29v29m30 155v47m20 74v6m30-6v6m30-16v10m10-10v10m20-10v10m10-33v11m10-52v15m10 37v22m10-89v15m10 15v13m0 36v10m20 0v6m10-28v12m10-49v13m10-28v15m10 59v6m30-65v13m0 46v6m20-65v13m0 46v6m10-28v12m20-64v15m20 59v6m10-95v15m0 74v6m20-80v15m0 59v6m10-95v15m10 64v10m10-59v13m30 36v10m10-74v15m0 49v16m10-95v15m20 64v10m10 0v6m10-80v15m0 37v22m20-10v16m10-39v11m0 22v6m20-52v13m0 33v6m40-95v15m10 74v6m10-65v13m0 24v12m20-64v15m20-15v15m0 49v10m10-59v13m10-28v15m0 59v6"/>
<path stroke="#ffe500" stroke-width="10" d="M985 5581v29m70 54v23m50-150v44m50 83v23m50-221v26m10-109v29m30 226v26m70-252v28m20 224v23m80 0v21m10-171v44m20 147v19m20-166v29m20-29v29m80-73v44m10-44v44m10 0v29m60-118v45m30 0v44m30 147v19m20-255v45m10 0v44m40-89v45m130 171v20m60-345v29m20-29v29m10 252v23m30-304v29m100-29v29m50 226v26m130-127v44m60-141v26m130 0v26m80 0v45m20 210v18m30-127v26m10 0v23m30-23v23m0 125v15m20-45v15m40-159v26m0 118v15m10-133v23m10-23v23m10 78v17m20 15v15m20-174v26m20 44v20m20-90v26m30 0v23m30-23v23m10-23v23m10-49v26m0 118v15m20 15v15m30-45v15m40-133v23m0 110v15m10-15v15m30 15v13m0 13v11"/>
<path stroke="#ff9600" stroke-width="10" d="M985 5610v28m20-57v29m50-29v57m10-57v29m30-29v29m20-29v29m50 54v23m20-150v44m30-169v28m30-28v28m30-28v28m70-28v28m70 97v44m20 83v23m10-77v54m30-83v29m10 0v28m0 49v21m10-98v28m10 26v23m20-106v29m0 98v20m10-147v29m60-73v44m10-44v44m10 0v29m10-73v44m10 147v19m10-19v19m10-166v29m30-73v44m20 0v29m0 77v21m100-21v21m60 20v19m10-19v19m40-335v28m10 52v45m140-125v28m150-57v29m30-29v29m0 252v23m10-275v28m10-57v29m30 0v28m50 268v20m170 19v18m140-78v21m30-44v23m10 78v17m30-118v23m10 0v21m0 74v15m10-110v21m20 74v15m50 0v15m10-125v21m0 57v17m50-95v21m20-21v21m10 57v17m20 0v15m10-110v21m10 74v15m10-89v20m20 54v15m30-110v21m10-44v23"/>
<path stroke="#ffb000" stroke-width="10" d="M985 5638v49m20 0v21m10-127v83m80-54v54m50 0v23m70-49v26m20-252v28m30-28v28m40-28v28m30-28v28m30-28v28m50 224v23m20-106v83m10-83v29m20 28v49m10 21v20m30-90v26m0 23v41m40-147v83m0 23v21m10-127v29m30 0v54m70 83v18m10-184v29m30 118v19m20-39v20m170-20v20m110-345v29m50-29v29m80 252v23m20-247v26m10-83v29m40-29v29m40 80v45m0 101v26m50 23v21m20-127v29m90-170v26m50-26v26m20-26v26m20 0v26m20 0v89m0 147v19m120 35v15m10-110v21m10 74v15m30-133v23m0 95v15m20-159v26m20 0v23m40-49v26m30 23v21m0 89v15m10-148v23m10 95v15m30-133v23m20 21v20m70-64v23m20-23v23m10 95v15m40-133v23m30-49v26"/>
<path stroke="#0080ff" stroke-width="10" d="M985 5728v19m20-605v39m0 141v31m10 0v59m10-90v31m10-299v4m0 84v39m0 141v31m10 394v18m30-707v43m10-47v4m10 650v20m20-674v47m0 221v31m10-299v4m20 0v43m0 221v31m0 375v19m10-693v4m0 264v31m10-299v4m20-4v4m10 231v33m20 386v20m30-20v20m10-674v88m0 623v17m0 30v28m0 46v6m10-184v20m60-41v21m10-654v47m0 752v23m10-822v4m0 43v41m0 566v39m0 18v17m10-724v43m10 607v20m0 37v32m10-743v47m0 664v17m0 45v13m0 24v22m10-705v73m0 474v19m20 50v15m30-30v15m20 15v15m20-30v15m10 0v15m10-15v15m20 0v13m30-58v15m30-696v41m0 270v28m0 387v13m10-400v26m10 374v13m10-799v4m30 769v13m10-786v4m10 782v13m20-26v13m10-487v30m30 429v15m10-769v43m20-47v127m20 584v17m20 0v15m10 15v15m10-609v36m0 573v13m10-586v35m10 493v15m0 15v15m0 49v10m10-104v15m0 89v6m20-711v37m0 594v15m0 59v6m10-95v30m0 26v11m10-67v15m0 15v13m0 46v6m10-711v37m0 564v30m10-594v36m0 543v30m0 26v11m0 12v10m10-668v36m0 558v52m10-398v26m0 320v41m0 11v22m10-705v37m0 579v67m10-37v26m0 11v12m10-658v36m0 573v37m10-24v13m0 11v22m10-632v35m20 575v12m10-64v28m0 13v33m10-74v41m20-41v74m10-668v36m0 573v13m0 13v23m20-658v36m0 558v52m10-683v37m0 529v35m10 30v15m10-646v37m0 36v35m10 508v15m10-594v36m10-36v71m10 508v30m10-15v15m0 59v6m10-674v104m0 554v16m10-52v13m10-41v28m10-659v37m0 594v15m0 13v24m10-37v49m10-695v37m0 564v15m0 79v10m10-705v73m0 543v15m0 15v37m10-37v13m0 24v12m10 0v10m10-705v37m0 36v35m0 508v15m0 15v26m10-635v36m0 558v15m0 26v23m10-410v26m10 348v24m10-67v15m10 0v15m10-30v56m10-26v37m10-646v36m0 610v28m20-638v68m10 542v12m10-658v36m0 622v10m10-22v12m0 10v6m10-638v35m10-71v36m0 622v10m10-33v11m0 12v10m10-632v35m10 564v11m10-610v68m10-104v36m0 610v28m20-674v71m10-71v71m10-71v71m10 564v11m10-646v36m10 610v12m10 0v16m10-452v26m0 420v6m10-28v12m0 10v6m10-16v16m10-16v16m20-16v10m10-668v104m10-268v4m0 43v80m0 672v23m10-822v127m0 695v10m10-33v11m10 0v12m20-23v11m10 0v12m10-339v44m10 272v23m10-23v11m10-11v23m20-12v28m10-39v11m10-11v11m10 12v16m20-39v11m20 0v28m10-16v16m10-39v11m30-11v11m30 12v10m20-10v16m10-28v22m20-33v11m0 12v10m10-22v12m10-339v44m10 283v12m10-23v11m20-11v11m20-11v11m20 12v16m30-205v21m10 0v20m10 0v19m10-19v19m10-19v19m30-39v20m10-41v41m10-41v21m10 0v20m10-41v21m90 0v20m10-20v20m10-20v20m20 0v19m20-19v19m10-39v20m40-41v21m30 0v20m50-20v20m20 0v19m30-19v19m20-19v19m80 18v17m10-74v20m10 19v18m20-37v19m10-19v19m20-19v19"/>
<path stroke="#0e001a" stroke-width="10" d="M985 5765v17m0 45v13m0 13v23m10-129v35m0 58v13m20 23v10m10-104v15m0 30v26m0 11v12m20-49v13m0 13v11m10-99v32m0 43v13m0 11v12m0 10v6m40-110v45m0 26v23m0 10v6m10-110v15m30-32v17m0 45v37m0 12v10m20-74v15m20-30v15m260-558v68m0 31v30m0 493v10m10-10v16m20-28v12m20 0v10m20-597v94m40-61v61m0 481v22m10-564v31m0 511v12m0 10v6m10-16v10m20-533v30m0 503v6m50-39v11m30 12v10m10-10v10m40 0v6m1090-509v57m270 0v52m80 45v44m10-198v29m0 28v26m0 144v28m30-146v45m30 73v28m50-57v57m30-146v45m100-45v45m10-154v29m0 80v45m0 101v26m60-281v57m0 26v26m0 118v28m0 26v23m40-304v29m0 275v60m20-281v26m0 118v28m0 26v23m20-275v54m20 144v28m40 0v26m10-127v44m0 29v28"/>
<path stroke="#000000" stroke-width="10" d="M985 5782v45m0 13v13m0 23v10m10-104v58m0 24v12m20-129v129m0 10v6m10-95v30m30-30v43m40-75v17m0 45v26m340 11v12m110 10v6m10-16v10m120-22v12m30-12v12m0 10v6m1370-282v28m90-172v26m0 89v29m110-227v29m240 0v275m20-49v26m0 23v21m40-325v57m0 52v118m0 28v26m40-54v28"/>
<path stroke="#38009b" stroke-width="10" d="M995 5181v37m10 36v35m0 493v15m0 30v26m10-672v37m10 0v36m10-36v71m0 493v15m40-579v36m0 543v43m0 13v39m10-6v6m20-711v37m0 658v10m10-632v35m0 476v32m10-579v71m0 458v35m0 30v28m10-659v37m0 36v35m10-35v35m0 493v15m20-579v36m0 511v62m0 26v23m10-622v35m10-71v36m0 528v15m0 56v23m0 10v6m20-638v35m0 564v11m20-52v15m0 26v11m0 12v10m180-632v35m10 587v10m10-503v29m10-29v29m0 415v13m20-457v29m10 441v11m70-481v29m0 441v11m0 12v10m30-632v35m0 564v23m10-622v35m0 64v30m20-129v35m0 33v31m10-99v99m10-99v35m10-71v36m0 35v33m10-104v36m10 0v35m0 33v31m0 511v28m30-39v11m10-646v36m40 0v35m0 587v16m10-674v36m10 68v31m10 0v30m10-61v31m40-31v31m20 0v30m30-61v31m20 0v30m20-30v30m10-30v30m10-30v30m20-30v30m10-30v30m10-30v30m20-30v30m10-30v30m20-30v30m10 83v26m20-139v30m0 109v45m20-184v30m20-30v30m60-30v30m10-30v30m100-30v30m40-30v30m0 109v45m10-215v31m40 0v59m20-29v29m50-59v30m10-61v31m10 0v59m30-29v29m10-59v30m10-30v30m20 0v29m10-29v29m10-59v30m10 0v29m30-59v30m0 57v26m30-113v30m20 0v83m10-113v59m0 28v26m20-54v28m0 52v45m10-154v29m0 28v26m10-83v29m30 0v28m0 26v71m20-97v26m10-54v28m10-57v57m0 26v26m10-109v83m0 26v45m10-125v80m10-139v59m10-29v29m0 28v26m20-54v28m0 26v71m20-215v61m10 0v29m10-59v30m10 109v45m20-184v59m0 80v45m10-154v29m0 80v45m10-154v29m10 0v28m10-28v28m0 26v26m10-26v26m10-26v71m10-125v28m20 0v26m10-177v64m10 0v59m0 28v26m0 26v45m10-125v54m10-177v94m10 29v28m10-57v29m0 80v45m10-71v26m20-139v30m10 109v45m0 44v57m10-285v30m10 0v57m0 26v26m0 89v29m10-321v64m30 59v28m0 247v21m10-419v33m0 31v59m0 226v26m10-342v61m0 29v28m0 26v71m10-215v31m0 139v89m10-259v61m0 83v26m0 45v44m10-327v68m10-268v88m0 76v104m10 31v30m0 198v29m20-321v94m10-61v31m0 184v44m10-169v125m0 101v26m10-375v64m10 113v71m0 44v29m0 28v26m10-375v33m0 342v23m10-334v59m0 28v26m0 26v45m0 44v57m10-198v26m0 71v73m0 28v26m10-375v64m10-31v61m10 0v109m0 45v127m10-311v30m10-61v31m0 285v26m10-311v30m0 29v28m0 52v45m0 44v29m20-227v29m0 54v26m0 118v28m0 26v23m10-247v26m0 71v73m0 28v26m10-342v31m10-31v31m0 228v29m10-257v30m0 29v28m10-151v64m0 113v26m10-311v37m0 104v31m10-135v135m0 334v21m10-419v94m0 281v23m10-334v30m0 57v26m0 71v44m10 83v23m10-334v30m0 29v54m0 26v45m0 44v29m0 54v23m10-275v28m0 26v26m10 216v20m10-375v30m0 281v23m10-195v45m0 44v57m10-316v31m0 30v29m10-354v123m0 108v33m10 31v30m0 29v28m10-186v35m0 33v61m10-61v61m0 29v28m0 170v28m0 49v41m10-375v30m0 109v45m10-125v80m0 45v44m0 57v26m10-522v39m0 73v35m10 33v31m0 355v39m10-394v59m0 28v26m0 26v45m0 44v83m10-375v33m0 61v29m0 275v21m10-454v68m0 365v21m10-355v87m10-87v30m0 83v26m0 45v44m10-198v154m0 73v54m10-342v61m20 83v26m0 89v29m0 54v23"/>
<path stroke="#3e0078" stroke-width="10" d="M995 5254v35m0 597v6m10-674v36m0 511v17m0 15v30m0 26v11m10-610v35m10 597v6m10-127v17m0 15v56m0 23v10m20-632v35m0 458v18m10 0v17m10-17v17m10-564v36m0 511v17m0 82v12m10-695v37m0 36v35m0 439v19m10-529v36m0 586v13m0 11v12m10-658v36m0 543v15m0 15v26m0 11v28m10-39v39m10-28v12m10-658v36m0 543v15m0 41v23m0 10v6m10-674v36m0 610v12m0 10v6m10-145v18m0 62v26m10-635v36m0 599v11m0 22v6m10-164v54m0 30v28m0 36v10m230-632v35m0 597v6m10-638v35m0 64v30m0 481v22m10-46v13m20-564v33m0 542v22m20-33v11m0 22v6m10-638v35m0 94v29m0 452v12m0 10v6m10-638v35m0 64v59m20-158v35m0 33v31m0 30v29m0 464v10m10-632v35m10 0v33m0 542v12m10-493v29m10-29v29m10-123v33m0 31v30m10-61v31m10 500v23m10-523v30m10-30v30m10-94v33m10 0v31m0 511v12m10-554v31m10-64v33m0 531v11m10 22v6m20-674v36m10 0v68m0 542v28m10-674v135m0 533v6m20-674v36m0 68v31m10-135v36m0 35v33m0 542v12m20-12v12m50-523v30m40-30v30m10-30v30m10-30v30m140-30v30m20-30v30m10-30v30m40 83v26m60-139v30m40-30v30m20-30v30m10-30v30m20-30v30m10-30v30m30-30v30m20-30v30m20-30v30m20-30v30m50-30v30m20-30v30m10-30v59m40-59v59m20-59v30m30 0v29m10-59v30m20 0v29m10-59v30m10-30v30m0 29v28m10-87v59m10-29v29m10-59v30m0 29v28m10-87v59m40 0v28m20 0v26m20 0v26m20-26v26m30-109v29m40 80v45m10-71v26m10-80v28m0 26v26m60-109v109m20-170v31m0 87v52m10-80v54m10-54v80m40-139v30m0 29v28m10 0v26m40-54v28m20 26v71m10-71v26m50-109v29m0 54v26m20-109v281m10-224v26m0 144v54m10-311v30m0 281v23m10-334v30m0 109v45m0 127v23m10-304v29m0 28v26m0 26v89m0 83v44m10-355v30m0 83v26m0 89v29m10-198v28m0 52v45m0 44v57m10-198v26m0 71v101m10-255v57m0 26v26m0 89v29m10-227v29m0 28v26m0 144v28m10-316v31m0 257v28m10-316v61m10 29v28m0 97v44m10-228v30m0 29v80m0 89v29m10-29v29m0 28v26m10-83v29m10-227v29m0 125v44m0 29v28m10-285v30m0 255v26m10-281v29m0 28v26m0 198v23m10-334v30m0 29v28m0 97v44m0 57v26m10-252v28m0 198v26m10-54v28m10-285v30m10 0v57m0 224v44m10-216v45m10-154v29m0 169v29m10-356v35m0 64v30m0 109v45m0 44v29m10-227v29m0 125v44m10-228v30m10 29v28m0 52v45m0 44v29m0 28v26m10-281v57m0 26v26m0 118v28m10-285v59m0 28v26m0 172v26m10-281v109m0 45v44m0 57v49m10-304v29m0 54v26m0 45v44m0 29v28m10-285v30m0 255v26m10-311v30m0 154v44m0 83v23m10-23v23m10-247v26m0 71v101m10-255v57m0 52v45m0 44v57m10-285v30m0 57v26m0 71v44m10-115v26m0 146v26m20-311v30m0 304v21m10-296v80m0 118v28m10-226v80m10-139v30m10-165v36m0 99v30m10 57v26m0 144v28m20-198v26m0 71v44m0 83v23m10-106v57m10-255v29m0 80v45m0 44v57m0 26v23m10-506v37m10 165v29m0 28v26m0 26v89m0 106v21m20-296v28m0 26v71m0 44v83m10-342v61m0 83v26m0 172v23m10-195v45m0 127v44m10-325v29m0 28v26m0 172v26m10-127v73m10-198v169m0 57v49m10-247v97m0 44v106m10-304v29m0 28v26m0 71v44m0 57v26"/>
<path stroke="#00c0ff" stroke-width="10" d="M995 5383v29m0 296v20m10-375v30m0 364v18m20-412v30m10-30v30m10 0v29m10-29v29m20 316v19m30-394v30m10-30v30m10-30v30m10-30v59m0 296v20m10-375v30m10-30v30m10-61v31m90 500v23m20-189v21m60 0v20m20-41v21m20-21v60m10-458v33m30 90v28m20 0v26m10-26v26m0 316v15m10 0v15m20-372v26m10 331v15m10-372v26m10 331v15m10-372v26m0 346v15m10-387v26m0 331v15m20-372v26m10 316v15m20 15v15m20-415v28m0 372v15m50-474v30m0 444v13m40-13v13m20-28v15m60-80v18m0 111v16m10-65v26m0 11v12m10-818v160m10-37v37m10 135v30m0 364v35m0 82v12m10-695v37m0 579v15m0 15v13m0 13v11m10-99v17m10-640v39m0 584v17m10-724v160m10-164v4m0 43v80m10 0v37m10 564v15m10 89v6m10-711v37m0 564v15m0 89v6m10-711v37m0 668v6m30-95v15m10-631v37m0 579v15m10-15v30m10 0v37m0 12v10m10-785v41m0 39v37m0 510v69m10 0v30m0 59v6m10-110v15m10-32v32m10-616v37m0 547v32m10-616v37m0 564v30m10-15v15m10-711v41m0 605v50m0 89v6m10-711v37m0 658v10m10-832v47m0 41v39m10 584v17m0 94v10m10-89v67m10-136v54m0 104v6m10-80v52m10-52v28m10-698v39m0 566v50m0 89v6m10-711v37m0 547v32m10 30v13m20-659v37m0 248v26m0 255v18m0 17v15m10-32v17m10 0v15m0 79v10m10-828v123m0 547v19m0 139v6m10-110v15m10-616v37m0 579v15m10-65v50m10-444v30m0 399v15m10-616v37m0 579v15m0 64v16m10-838v164m0 510v37m10-584v37m0 579v15m10-65v50m10-655v76m0 529v35m0 15v15m10-346v26m0 273v17m0 104v6m10-838v164m0 165v29m0 335v18m10 47v15m0 13v13m10-799v164m0 529v50m0 15v15m20-726v117m0 547v17m0 15v56m10-672v37m0 635v11m10-24v13m10-635v36m0 622v16m10-750v76m0 594v15m0 13v13m10-672v37m0 579v15m0 28v13m10 33v6m10-838v164m0 529v35m0 15v15m10 74v6m10-711v37m0 622v24m10-806v123m0 584v62m10 26v11m20 0v12m10-822v47m0 41v76m0 579v56m10-711v76m0 194v28m10-386v4m0 43v117m10-164v4m0 43v117m0 222v26m10-324v76m0 635v11m10-810v47m0 41v39m0 659v13m10-795v123m0 659v24m10-810v127m0 285v26m0 348v36m10-818v43m0 41v76m0 248v26m0 372v22m10-832v127m0 672v23m30-23v11m10-24v13m10 0v11m30-327v44m0 272v11m40-24v13m10-13v13m10 0v11m10-24v13m30-26v13m20 13v11m0 12v10m10-33v11m10-11v11m70-24v13m10-13v13m10 11v12m10-23v11m20-24v13m10 0v11m10 12v10m30-46v13m30-13v13m20 0v11m40-136v19m20 0v18m10-18v18m20-18v18m30-57v20m30 0v19m10-60v21m60 39v18m10-37v19m40 0v18m10-57v20m40 0v19m10-19v19m10-39v20m40-20v20m30 19v18m70-18v18m20 32v15m20-30v15m10-15v15m20-50v18m10 17v15m30-32v17m20-35v18m40 0v17m10-35v18"/>
<path stroke="#00ffdf" stroke-width="10" d="M995 5440v26m10-83v29m10 54v26m10 216v20m10-316v28m0 288v19m10-307v26m10-26v26m10-54v54m30-26v26m40-54v54m10-54v28m10-28v28m20-28v28m0 268v20m10-41v21m10-21v21m10-44v23m20-506v37m10-37v37m20 469v21m10-44v23m30-23v23m20-506v37m20-37v37m30-37v37m20 469v21m20-386v31m10 87v26m40 316v15m10-15v15m30-331v26m20-26v26m0 305v15m20-30v15m40-357v26m0 331v15m20-372v26m90 346v15m90-773v127m10 584v17m10-399v29m10 316v19m10-689v123m0 695v16m30-127v17m10-35v18m50-711v4m0 408v26m10 255v18m40-57v39m10-693v4m0 43v80m0 566v65m20-754v43m0 607v20m20-41v21m80-654v88m0 566v57m0 121v6m20-838v127m0 547v37m0 17v15m0 89v6m10-838v88m0 605v35m20-316v26m10-434v43m0 627v37m10-711v4m0 650v39m10-39v20m10-41v21m30-21v21m40 0v39m10-255v45m10 191v19m30-39v20m20 0v19m10-19v19m10 0v18m0 17v58m40-786v47m0 80v37m0 622v13m10-106v18m20-711v127m0 659v13m20-799v4m0 689v80m10-99v19m20-19v37m10-37v37m0 47v28m10-58v30m10-400v28m10 357v15m10-372v26m20 331v15m10-346v26m20 305v30m30 13v13m10-41v15m20-335v45m20 303v13m30 0v11m70-24v13m40-13v13m40 0v11m90-37v13m10-13v13m20 13v11m10-24v13m10-13v13m60-13v13m20 23v16m20-145v18m20 0v17m10-17v17m10 0v15m20-50v18m20-37v19m40-39v20m20 0v19m10-19v19m20 0v18m30-18v18m10-18v18m20 0v17m10-54v19m10 18v17m40-35v18m10-37v19m70 18v17m10-35v18m10 0v17m60-17v17m20-17v17m10 15v15m10-15v15m30-15v15m100-47v17"/>
<path stroke="#00ffa0" stroke-width="10" d="M995 5466v26m10 236v19m10-255v45m10-97v52m20 236v19m10-281v26m10-26v26m10-80v28m20 247v21m40-242v26m10 216v20m20-316v28m50-222v36m20 433v21m10-527v37m30-37v37m30 446v23m40 0v21m60-355v30m30 83v26m10 273v17m30-316v26m10 290v15m10-15v15m10-15v15m20-331v26m10-26v26m60 290v15m10-15v15m10 0v15m40-429v29m10 400v15m10-444v29m30-29v29m40-29v29m20 316v19m20-307v26m40 281v18m10-18v18m10-325v26m10-83v29m50 335v18m10-37v19m50-19v19m80-60v21m10-21v21m50 0v20m200 0v19m20-335v28m80 325v17m10-370v28m10-28v28m50 325v17m10-35v18m20 17v15m10-15v15m10-15v15m40 0v15m20 0v28m10-43v15m10 15v13m40-303v44m10 259v13m20-316v44m30-44v44m0 246v13m10-303v44m30 259v13m10-41v15m10-246v29m20 230v13m10-316v44m40-44v44m0 246v13m30-13v13m20-259v29m10 230v13m50-316v44m20-44v44m30-44v44m0 246v13m20-303v44m20 272v11m20-99v17m20 0v15m50-32v17m30-35v18m40-18v18m10-18v18m20 0v17m10 0v15m20-32v17m30 0v15m60-32v17m30-17v17m30 0v15m20-15v15m70-15v15m20 30v13m10-58v15m10 15v15m10-15v15m10-30v15m20 0v15m70-62v17m10-17v17m10 0v15"/>
<path stroke="#8cff00" stroke-width="10" d="M995 5537v44m140 83v23m50-195v45m10-97v26m10 172v26m30-281v29m60-29v29m0 226v26m90-252v28m20 224v23m20 60v18m60-228v44m10 166v18m10-228v44m30 166v18m10-37v19m40 18v17m60-370v28m0 325v17m10-290v45m20-45v45m30-45v45m20-71v26m90-26v26m60 0v45m20 191v19m70-60v21m70-268v26m20 26v45m80-154v29m50 80v45m120-97v52m10 216v20m20-147v29m20-29v29m20 98v20m10-288v26m0 262v19m40-166v29m40 98v20m20-288v26m0 242v20m30 37v17m90 0v15m10-15v15m20-187v28m20 174v15m10 0v13m60-259v29m0 187v15m10-202v28m30 174v15m20-217v28m10-57v29m0 202v15m20-163v23m0 140v13m10-43v15m20-231v29m30 0v28m10 189v13m20-230v28m10-57v29m20 217v13m70-28v15m10-246v29m20 98v20m10 148v10m20-59v13m10 13v11m20 22v6m10-52v13m0 33v6m30-39v11m10 0v12m10-64v15m30-15v15m20 37v12m20-23v11m10-24v13m10-26v13m20 46v6m10-65v13m0 13v11m10 12v10m10-10v10m10-10v10m10-74v15m10-30v15m10 52v12m10 10v6m40-65v13m0 36v10m10-74v15m20 13v36m30-12v12m10-49v13m0 24v12m10 0v16m20-65v13m10 13v11m10-24v24m20-24v36m20-12v12m10-23v11m10 12v10m20-33v33m10-74v15m10 13v24m20-11v23m10-49v13m0 36v10m10-10v16m10-65v13m0 13v11m10 12v16m10-65v13m0 13v11"/>
<path stroke="#ff7000" stroke-width="10" d="M995 5581v83m50-26v49m10-49v26m10 0v23m60-23v23m10-106v83m60-26v26m20-224v26m10-26v26m100-54v28m30-28v28m80 247v21m10-44v23m10-106v29m0 118v19m10-137v28m0 49v21m10-98v54m0 23v21m10-70v49m0 21v20m10-64v23m0 21v20m20-118v28m10-28v77m30-77v54m30 0v23m80-49v26m0 44v20m10-147v29m10 118v19m20-137v77m0 21v20m10-191v44m40 147v19m10-255v45m10 191v19m20-19v19m150-364v29m110-29v29m20-29v29m40-29v29m10 0v28m90 224v23m10-23v23m50-23v23m30 0v21m80-242v26m70-52v26m20 115v29m20 98v20m10-147v29m110 28v26m10 0v23m10 95v15m30-110v21m40 57v17m10 0v15m80-15v15m50-32v17m20-95v21m10 57v17m10-74v20m0 69v15m30-148v23m0 78v17m70-95v21m20 74v15m20-15v15"/>
<path stroke="#a9ff00" stroke-width="10" d="M995 5664v23m10-150v44m20-44v44m10-44v44m10 0v29m20 77v21m10-21v21m20-171v44m20-44v44m20-44v44m40-44v44m50 57v26m10 0v23m10-304v29m20-29v29m0 226v26m10-281v29m30-29v29m10 252v23m30-304v29m0 252v23m70-195v45m50 0v44m0 166v18m20-18v18m30-228v44m70-44v44m50-89v45m10-97v52m40 273v17m20-35v18m30-273v45m0 210v18m10-273v45m0 191v19m10-255v45m50-71v26m30 0v45m0 191v19m30-255v45m30-45v45m20 150v21m50-268v26m40 26v45m90-45v45m10-45v45m180-97v26m10 198v23m70 21v20m60-191v44m70 147v19m120-210v44m10 0v29m0 187v15m20-202v28m10 0v26m10-54v28m20 159v15m20-202v28m0 159v15m40-202v28m10-57v29m0 172v15m10-133v23m10 125v15m10-15v15m20-163v23m30 110v15m20-148v23m10-77v28m0 159v15m10-174v26m0 133v15m10-174v26m10-54v28m0 174v15m40-217v28m20 26v23m10-77v28m0 159v15m10-174v26m10-26v26m10-54v28m0 159v15m10-202v28m10 174v15m20-99v19m20 80v13m10 36v10m10-46v13m10-13v24m10 0v12m20-12v12m10-49v13m0 24v12m10-64v15m20 0v13m20-28v15m0 26v11m10-11v11m10-24v36m20-49v13m10-13v26m10 33v6m20-65v13m10 36v10m10-46v13m10-13v24m10-52v15m10 13v13m10-26v26m10 0v11m10-37v26m10-26v13m10-43v30m10 0v13m10-13v13m20-13v13m0 13v11m10-24v36m20-36v36m10-49v26m10-13v24m10-24v24m10-52v15m0 37v12m20-36v24m10-24v13m0 11v12m70-23v23m30-12v12m10-12v12m30-36v13m0 11v12m10-49v13m0 24v12m10-36v13m10-13v13m0 11v12m10-36v13m0 11v12"/>
<path stroke="#0000ff" stroke-width="10" d="M995 5728v19m20-646v41m0 586v19m20-566v37m10-37v37m10 71v33m20-141v37m20-76v39m20 0v37m0 529v18m10-584v37m10-76v39m30 0v37m30 0v36m0 573v13m10-739v41m0 39v37m20-164v127m0 547v19m10-19v19m10 93v13m20-56v15m0 15v13m0 46v6m30-838v127m0 566v18m0 88v11m0 22v6m10-52v13m0 11v22m10-89v15m0 28v13m0 23v16m10-6v6m60-65v13m0 46v6m10-711v73m0 558v15m0 13v13m0 11v22m10-33v11m0 12v16m10-539v30m10 457v13m10-799v4m10 84v76m30 0v36m10 586v24m20-810v4m0 43v117m0 622v13m10 0v11m10-37v13m10 0v13m10-711v39m10-39v76m10 0v36m20-112v39m0 646v26m40-13v13m10-672v37m0 622v13m30-500v30m10-325v43m0 41v76m30-76v76m30-117v41m0 39v37m10 0v36m0 586v13m0 33v6m20-39v11m20-11v11m10-575v64m0 511v22m20-564v31m30-31v31m10-64v33m10 0v31m10-31v31m30-31v31m10-31v31m20-31v31m10-31v31m0 113v26m30-203v33m20 0v31m0 113v26m10-26v26m20-170v31m0 113v26m40-238v68m20 0v31m0 113v26m20-170v31m30-31v31m10 139v45m50-248v33m10 144v26m10-26v26m10-170v31m0 113v26m20-170v31m0 113v26m10-238v35m0 33v31m10-31v31m10-31v31m70-64v64m10-31v31m10-31v31m10-31v31m10-31v31m50-31v31m30-31v31m20-31v31m20-31v31m10 59v28m40-151v64m20-64v33m10 0v31m0 30v29m20-158v68m10-33v33m10 0v31m20-295v43m0 80v37m0 71v33m10-104v104m10 0v31m0 30v109m10-238v35m10-71v36m0 35v64m10-99v68m0 31v30m0 109v45m10-436v41m0 76v135m10-64v33m0 170v45m10-283v35m0 597v6m10-750v39m0 73v68m10 0v31m0 30v29m10-358v4m0 160v104m10-264v123m0 73v35m0 597v6m10-638v35m0 33v61m0 83v26m10-391v41m0 112v35m0 33v61m10-94v64m0 30v29m10-354v43m0 775v16m10-750v147m10-235v164m0 658v10m20-832v4m0 123v37m0 36v68m10-264v43m0 41v112m10-36v71m10-235v4m0 43v41m0 76v71m0 597v6m10-674v36m0 35v33m0 61v29m0 28v26m10-248v36m10-200v47m0 41v76m0 36v35m0 587v10m10-705v108m10 0v64m0 30v29m10-90v90m10-231v37m10-164v88m10 76v104m10-180v39m0 37v71m10-188v41m0 722v22m10-597v33m10-33v94m0 83v26m10-203v33m10 0v31m0 30v29m10-358v47m0 41v39m10 457v26m10-610v4m0 43v153m0 410v44m10-654v47m0 80v73m20-200v4m0 84v147m10-147v39m10-80v80m10-123v196m10-200v4m0 43v80m0 37v36m10-200v47m0 41v112m10-196v84m0 39v73m10-73v37m20-164v4m0 84v76m0 420v26m10-610v88m0 39v37m0 420v26m10 23v21m10-654v127m0 73v35m10-231v123m0 37v71m0 375v23m10-23v23m10-633v4m0 84v39m0 37v71m10-231v160m10-164v47m0 41v112m10-200v4m0 123v108m0 33v31m20-299v4m0 43v41m0 76v36m0 454v20m10-670v84m0 39v73m10-112v39m0 506v21m10-654v4m0 84v39m10-127v4m0 43v41m0 39v37m0 36v35m0 349v26m10 23v21m10-607v41m0 76v36m0 454v20m10-674v4m0 43v41m0 39v37m0 36v35m10-235v4m0 629v21m10-654v4m0 43v41m10-88v47m0 153v35m10-235v47m0 563v23m10-586v41m20-88v4m0 43v41m0 76v36m10-200v4m10-4v88m10-41v41m0 545v21m10-527v37m0 36v35m20-235v200m10-200v47m0 41v112m10-112v39m20-123v84m20-41v41m0 76v36m10-200v4m0 84v76m0 510v19m10-689v43m0 41v39m0 527v20m10 19v18m10-711v4m0 43v41m10-84v160m0 36v35m0 123v28m10-386v164m10-117v41m10-84v43m0 80v73m0 454v20m10-627v41m0 39v73m0 68v31m10-135v71m10-188v80m10-127v47m0 41v112m0 35v33m10-221v188m0 419v20"/>
<path stroke="#00ff80" stroke-width="10" d="M1005 5440v26m30-26v26m10 26v45m20 171v20m10-288v26m10-26v26m20-26v26m10-26v26m10-26v26m0 242v20m10-41v21m20-242v26m10 216v20m10-262v26m30-170v31m50-172v37m10-37v37m90-37v37m40 104v31m20 412v17m10-316v26m50 273v17m30-290v45m40-71v26m10 273v17m10-316v26m0 273v17m10-316v26m10 0v45m30-97v26m20-83v29m0 385v15m20 0v15m20-30v15m20-15v15m20-30v15m10 0v15m10-429v29m10 28v26m20-83v29m10-29v29m10 0v28m0 26v26m10-52v26m30-83v29m10 28v26m20-54v54m30-83v29m10 335v18m30-101v23m20 0v21m20 0v20m30-41v21m40 0v20m130-236v45m10 127v23m60-23v23m30 0v21m20 0v20m80-316v28m70-28v28m40 307v18m20 0v17m50-316v26m40 305v15m40 15v13m20-13v13m30-13v13m10-303v44m160-44v44m10 259v13m190-106v18m20 17v15m20-15v15m10 0v15m10-15v15m10-47v17m20-35v18m10 0v17m40-54v19m10 18v17m20-17v17m20 15v15m10-30v15m20-32v17m10 0v15m20-50v18m10 17v15m10-32v17m90 15v15m30-47v17m10 0v15m30 0v15m90-30v15m20 15v15m20-30v15m10-30v15m10-15v15m50-15v15"/>
<path stroke="#00ff00" stroke-width="10" d="M1005 5492v45m20 150v21m60-21v21m20-44v23m10 21v20m10-236v45m30-45v45m0 150v21m30-242v26m20-139v30m30-94v64m10-135v71m0 33v61m30-165v36m0 35v94m10-94v64m30 0v30m10-165v36m0 68v61m10-129v129m10-165v71m10-71v165m10-165v135m10-135v36m10 99v30m10 0v57m30 52v45m30-45v45m40 228v17m10-17v17m30-290v45m30-45v45m50 245v15m10-15v15m10-385v28m0 342v15m20 0v15m20-372v26m0 316v15m20-15v15m10-331v26m10-109v29m0 353v17m10-399v29m0 370v15m20-331v26m10-26v26m10-26v26m10-80v28m10 307v18m30-325v26m0 262v19m40-19v19m30-281v26m30-52v26m0 242v20m60-41v21m30-44v23m20 0v21m20-268v26m20 26v45m10-97v26m40 221v21m40-216v45m30-97v26m70 221v21m60-171v44m30-44v44m10 147v19m50-335v28m50 268v20m10-191v44m30-141v26m10 299v17m30-17v17m60-17v17m10 15v15m10-15v15m50-231v29m20 202v15m40-15v15m20 0v13m10-303v44m0 216v15m60-202v28m30 174v15m30-15v15m10 13v13m30-41v15m20-246v29m30 202v15m10-246v29m30 217v13m30-28v15m20-30v15m20 0v15m10-15v15m10 0v13m20-43v15m20 64v10m20-22v12m20-94v15m0 89v6m10-6v6m10-80v15m10 59v6m70-16v10m10-74v15m10-45v15m70-15v15m10 0v15m20-30v15m0 79v16m10-6v6m70-65v13m0 46v6m40-28v12m10-64v15m30 0v13m20 24v12m40-64v15m0 59v6"/>
<path stroke="#ff0000" stroke-width="10" d="M1005 5610v77m30-77v77m40-106v83m10-83v83m30-54v77m10-106v83m20-54v54m20-83v83m20-83v29m60-170v26m10-26v26m0 172v26m10-224v26m10-26v26m10-54v28m30 0v26m10-26v26m0 144v28m20-198v26m10-26v26m10-26v26m30 26v45m20 44v57m10-28v54m20 23v21m10-21v41m100-41v41m10-90v49m10-77v98m20-127v83m0 83v18m10-184v57m10 70v39m10-109v90m20-191v150m0 21v20m10-20v20m30-147v147m10-147v147m20-64v44m10-127v147m20-191v191m70-236v45m40 171v20m40-41v41m30-345v29m20 0v28m10-28v28m10-28v28m20-28v28m10-28v28m10-28v28m10 224v23m10-275v28m0 224v23m10-275v28m20-28v28m30-57v57m20-28v28m10-28v28m0 224v23m30-275v28m10-28v28m0 224v23m20-304v57m10-28v28m20-57v57m0 198v26m40-252v28m20-28v28m30 97v44m20-115v71m10-71v26m0 89v29m10-144v26m10 0v45m10 171v20m10-262v26m0 89v29m30-144v26m10-52v26m0 221v21m10-216v45m0 44v29m10-144v26m0 216v20m10-262v26m10-26v26m10 195v21m30-216v45m0 150v21m10-216v45m0 44v29m10 98v20m20-191v73m0 118v37m10-228v44m0 166v18m10-273v45m20 44v29m10-29v29m0 137v18m10-273v45m10 44v83m10-26v70m10-21v21m0 39v18m20-57v20m10 37v17m10-74v20m10-20v20m0 54v15m20-110v21m10 39v18m20-78v21m0 57v17m10-95v21m10 0v20m10-20v20m30-20v20m10-20v20m10-41v21m0 57v17m40-95v21m10-21v21m10 20v19m0 35v15m30-69v19m10-39v20m20-41v21m10 57v17m10 0v15m10-32v17m60-74v20m10-41v21m0 57v17m10-95v21m0 57v17"/>
<path stroke="#23ff00" stroke-width="10" d="M1005 5708v20m40-191v44m10 106v21m20-216v45m30-45v45m40 150v21m20-21v21m30-325v29m0 252v23m20-23v23m40-469v71m0 33v31m30 0v30m60-94v94m20-30v30m10-129v99m30 87v26m70 281v18m10 0v17m90-290v45m30 228v17m20-370v28m10 0v26m10 316v15m10-385v28m10 0v52m10-26v26m10-80v28m0 342v15m30-385v54m20-54v80m40 255v18m10-273v45m60-45v45m0 210v18m60-382v29m40 28v26m40 221v21m10-268v26m0 26v45m20-97v26m40-26v26m70-26v26m20 242v20m20-41v21m30-44v23m20-247v26m0 26v45m10-97v26m20 26v45m20-97v26m10-26v26m10-83v29m120 125v44m0 127v20m70 0v19m100 18v17m10-17v17m40 30v15m20-15v15m10-246v29m0 217v13m20-28v15m20-290v44m10 231v15m30-246v29m10-29v29m20 0v28m20-57v29m0 217v13m20-230v28m20-57v29m10 202v15m20-217v28m0 189v13m10-28v15m10-246v29m20-29v29m0 217v13m60-230v28m30 159v15m10 0v15m50-45v15m20 15v15m10 49v10m30-59v13m10 46v6m10-95v15m0 74v6m10-110v15m0 89v6m10-95v15m0 74v6m20-28v12m20 0v10m10 0v6m10-95v15m0 64v10m10-89v15m10-15v15m20 74v6m10-95v15m10-15v15m10 0v15m30-15v15m10-30v15m10-30v15m0 79v16m10-16v10m10-89v15m10-47v17m20 104v6m20-28v12m10-49v13m10 36v10m10 0v6m10-95v15m0 64v16m10-80v15m0 59v6m30-16v10m10-74v15m0 59v6m10-80v15m10 59v6m30-52v13m10-13v13m20-41v15m10 13v24m10-24v13m20-26v13m10 36v10m10-74v15m0 49v16m20-95v15m10 74v6"/>
<path stroke="#c6ff00" stroke-width="10" d="M1015 5664v23m70-150v44m40-44v44m20-44v44m10-44v44m100-198v29m50 226v26m50-281v29m50 54v26m40 45v44m10 166v18m20-37v19m20-210v44m30-44v44m30 166v18m20 0v17m50-35v18m30 0v17m10-17v17m10-35v18m10-273v45m10 210v18m20-37v19m10 0v18m130-273v45m50-125v28m30-57v29m10 252v23m100-23v23m120-304v29m90-29v29m50 296v20m30-191v44m10-141v26m0 115v29m100 77v21m30-268v26m160 172v26m10 133v15m30-202v28m0 159v15m10-202v28m10-57v29m20 0v28m10-28v28m20 0v26m0 148v15m20-140v21m10-98v28m10 0v26m10-54v28m10 49v21m0 89v15m10-125v21m10-70v26m10-54v28m10-28v28m10 174v15m50-189v26m10-54v28m10-28v28m20-28v28m30 159v15m10-30v15m60 15v15m0 37v12m10-12v12m10-36v13m20 11v12m10-23v11m0 12v10m10-33v33m10-59v26m10-13v13m20-26v13m10 0v13m30-26v26m20-26v37m10 0v12m20 0v10m10-46v13m0 11v12m10-12v12m30-12v12m10-12v12m10-23v23m20-64v15m10 26v11m10-24v13m0 23v10m10-22v12m10-23v23m10-36v36m10-36v24m10-24v13m40 0v11m130-24v13m30-13v24m40-11v11m10-24v24m20-11v11"/>
<path stroke="#00ff40" stroke-width="10" d="M1015 5687v21m10-216v45m30-45v45m10-45v45m10-71v26m0 216v20m30-262v26m30 0v45m90-319v36m20 410v23m50-398v64m10-64v33m30 365v21m20-44v23m20-506v37m10 104v31m60 139v45m50-45v45m20-45v45m10-45v45m0 228v17m30-290v45m40-71v26m90-109v29m20 370v15m50-385v28m50-57v29m20 0v28m10 26v26m30-80v28m10-28v28m20-57v29m0 28v26m130 26v45m10-71v26m50-52v26m150-26v26m50 0v26m100 89v29m10-73v44m50-169v28m20-28v28m20 288v19m30-281v26m10-26v26m40 290v15m40 15v15m30 0v13m80-13v13m20-13v13m60-13v13m10-13v13m120-13v13m30-259v29m60 217v13m10-303v44m40 216v15m10-15v15m10-15v15m10 0v15m20-45v15m10-15v15m40 79v10m10-121v17m10-17v17m10 15v15m20-30v15m50-15v15m30-32v17m20 0v15m30-15v15m10-50v18m10 0v17m10 0v15m50 0v15m20-15v15m30 0v15m40 13v13m20-26v13m30-43v15m10 74v6m40-95v15m30-30v15m10-15v15"/>
<path stroke="#ff4b00" stroke-width="10" d="M1025 5581v83m10-83v29m10 0v28m130-57v83m120-224v26m90 0v26m20 146v26m10-26v26m10-83v29m0 98v20m20-20v20m20-20v20m10-64v23m20-49v26m0 23v21m20-21v60m10-60v21m10-44v64m10-64v23m10-23v23m10-106v29m10-29v29m30 137v18m10-155v28m0 109v18m20-184v29m30 0v28m0 26v44m0 20v19m10-137v98m20-171v44m30-44v44m10 0v127m170-21v21m70-296v28m40-28v28m60-28v28m20-57v57m40-28v28m30-28v28m10 52v45m10-154v29m10 0v28m80-28v28m10-28v28m60 26v26m30-52v26m20 221v21m80 0v20m80-147v29m30 137v18m20-155v28m20 127v17m30 0v15m10 0v15m20-47v17m20-95v21m20 57v17m20 0v15m10-50v18m20-78v21m0 74v15m60-32v17m30-17v17m30 0v15m10-110v21m60 57v17m10-74v20m20-41v21m0 57v17"/>
<path stroke="#ffff00" stroke-width="10" d="M1025 5664v23m10 0v21m130-171v44m10 83v23m10-49v26m180 0v23m10-304v29m0 226v26m40 44v20m10 0v19m30-210v44m30 147v19m10-19v19m10-19v19m10 0v18m20-37v19m80-210v44m10 147v19m20 0v18m20-228v44m40-44v44m10-89v45m260-154v29m40-29v29m50-29v29m20 226v26m120-172v45m60 127v23m10-304v29m20 80v45m20-97v26m10-26v26m60 71v44m40-141v26m10-26v26m60 71v44m10 166v18m10-273v45m30 210v18m10 0v17m40-290v45m10 44v29m10 155v17m30-144v26m10 0v23m20-49v26m10-26v26m10-54v28m10 26v23m10-49v26m0 133v15m20-15v15m30-15v15m10-174v26m10 0v23m10 110v15m20 0v15m10-163v23m0 95v15m50-133v23m10 125v15m20-45v15m20-159v26m0 133v15m70-174v26m20-26v26m10-54v28m20 202v13m220-13v24m30-37v13m0 13v11m30-24v13m20 0v11m10-37v13"/>
<path stroke="#00ff20" stroke-width="10" d="M1035 5492v45m0 171v20m50-236v45m30-45v45m30-45v45m20-71v26m10 0v45m0 150v21m10-44v23m10-334v30m10 0v57m20-151v33m10-104v71m10 0v33m20-104v165m10-129v35m0 375v23m10-433v35m0 321v28m10-285v30m10-61v61m10-165v135m10-99v68m10-104v36m60 99v30m10 29v28m10 26v26m0 255v18m10 0v17m10-290v45m20 228v17m10-17v17m10-290v45m40 245v15m20-32v17m10-290v45m60-71v26m10-26v26m10-109v29m40 0v28m0 357v15m10-400v28m20-57v29m10 0v54m30 316v15m10-50v18m10-18v18m20-325v26m20 281v18m10-325v26m0 242v20m10-345v57m10 26v26m40-26v26m0 255v18m10-299v26m0 255v18m10-37v19m20-307v26m50 26v45m10-45v45m20-45v45m20-97v26m10 221v21m50-268v26m30-26v26m0 198v23m30-195v45m20-154v29m10 275v21m40-268v26m10-26v26m0 198v23m20-195v45m50-45v45m90 0v44m10-169v28m20 268v20m40-191v44m20-169v28m0 97v44m130-115v26m80 348v13m100-26v13m10-13v13m40 0v13m10-41v15m80-15v15m30 13v13m20-26v13m20-13v13m60-13v13m10-75v17m30 104v6m30-80v15m30-62v17m20 0v15m0 79v16m10-95v15m20-30v15m20-15v15m20 79v16m10-80v15m10-30v15m30-15v15m0 74v6m40-16v16m10-127v17m10 15v15m0 74v6m50-95v15m20 0v15m10-15v15m0 59v6m10-80v15m10-45v15m20 0v15m10-30v15m20 0v15m10-15v15m10-15v15m10 41v11m0 12v16m30-65v13m30 36v10m10-59v13m10-58v15m10 15v15m20-30v15m10-15v15m20-15v15m10 0v15m10-30v15"/>
<path stroke="#ffca00" stroke-width="10" d="M1045 5687v21m40-44v23m20-49v26m10 23v21m80-242v26m30-80v28m50 198v26m10-281v29m0 169v29m10-198v28m60 198v26m110 64v19m30-166v29m10 0v28m10-57v29m120-73v44m20-44v44m10 166v18m10-37v19m50-19v19m10-19v19m80-39v20m70-236v45m70-154v29m80 275v21m190-325v29m340 353v17m50-201v57m30 26v23m10 110v15m50-30v15m40 0v15m20-104v20m10-64v23m30 21v20m30 54v15m10-133v23m10 110v15m10-30v15m10-15v15m10-110v21m10 89v15m40-148v23m30-23v23m10 0v21m10 57v17m10 0v15"/>
<path stroke="#69ff00" stroke-width="10" d="M1055 5537v44m10-44v44m60 106v21m80-268v26m10-144v31m10-31v31m30 311v23m70-49v26m90 64v19m90 0v18m10 0v17m10-35v18m70-273v45m10-45v45m20-71v26m0 273v17m10-17v17m20 0v15m10-305v45m20-71v26m10-52v52m0 273v17m20-316v26m0 255v18m10-325v26m0 299v17m40-74v20m10-262v26m20 0v45m140-97v26m0 221v21m20-268v26m80-83v29m20 252v23m10-23v23m10-195v45m0 127v23m40-247v26m20-26v26m0 221v21m20-268v26m10-26v26m20 198v23m10-195v45m70-45v45m60 171v20m10 0v19m20-210v44m60 127v20m20-20v20m40-191v44m20 166v18m10-299v26m50 0v45m10-45v45m80 44v29m10 0v28m20-57v29m10-29v29m10 187v15m20-231v29m20 202v15m30-189v26m10-83v29m30 28v26m10-26v26m10-54v28m10-57v29m10 187v15m10-174v26m30-54v28m20 159v15m10-15v15m10-231v29m0 202v15m20-246v29m10 28v26m0 148v15m30-217v28m10-57v29m30 202v15m10-140v21m0 39v18m10 32v15m0 74v6m10-80v15m0 49v10m10 0v6m10-65v13m0 24v12m10-49v13m0 36v10m10-46v13m20-41v15m10-15v15m10-30v15m0 52v12m10-64v15m10-30v15m10 15v37m10-67v15m10 52v12m20-64v15m10-15v15m0 49v10m10-74v15m20 49v10m10-74v15m0 49v10m10-74v15m10 37v12m20-79v15m0 74v6m20-39v11m10 0v12m20-64v15m10-45v15m0 79v10m10-74v15m0 49v10m10-74v15m0 49v10m50-59v13m0 36v10m10-74v15m0 37v12m10-49v13m30 0v36m10-12v12m10-49v13m0 36v10m10-59v13m20-13v13m10 24v22m10-33v11m0 12v16m10-28v22m10-59v13m0 46v6m20-6v6m10-16v16m10-16v10m10-46v24m10-37v26m10 33v6m10-80v15m10 37v12m20 0v10"/>
<path stroke="#ff2600" stroke-width="10" d="M1065 5610v54m10 0v23m30-106v57m40-57v29m10-29v83m30-54v28m50-198v26m20-54v28m50 0v26m30-26v26m40-54v28m10 198v26m10-26v26m10-172v45m20 127v44m30-98v77m60-49v49m20-77v54m20 64v19m10-137v28m20 49v21m30-70v70m10-127v57m10-28v118m20-118v98m0 20v19m20-39v20m40-147v83m20 44v20m180-64v23m10-275v28m10-28v28m70-57v29m40 0v28m40 52v45m20-154v29m110 0v28m10-28v28m10-57v57m120 26v26m60-26v26m60-26v26m40 45v73m0 118v19m20-166v29m60-73v44m10 184v17m10-118v23m10 0v21m20-21v21m30-21v21m0 57v17m20-118v23m60-23v23m30 95v15m30-69v19m110-60v21m10 0v20m0 69v15m10-125v21m20-21v21m50 74v15m10-133v23"/>
<path stroke="#e2ff00" stroke-width="10" d="M1075 5537v44m140-228v30m10-30v59m100-29v29m60 28v26m10 0v26m40 45v44m0 127v20m40-191v44m30 0v29m20 118v19m10-210v44m10-44v44m0 127v20m10-191v44m10 166v18m50 0v17m10-290v45m10 210v18m50-18v18m10-273v45m130-45v45m90-154v29m10 226v26m180 0v23m190-304v29m10 80v45m30-97v26m20-26v26m60-26v26m110 26v45m10-45v45m70 0v44m20 29v28m10 159v15m30-174v26m30 118v15m10-159v26m30-26v26m20-54v28m90 0v26m0 118v15m10-110v21m10-70v26m20 0v23m10-49v26m40-26v26m10-26v26m0 133v15m10-125v21m0 89v15m10-174v26m10 0v23m10-23v23m20-49v26m10-54v28m10-57v29m0 187v15m30 28v24m10-11v23m50-23v11m10-11v11m10-37v26m10-13v24m30-37v26m40-13v24m20-11v23m10-23v11m10-24v24m10-37v13m0 24v12m30-36v13m30-26v13m20 24v12m10-36v24m10-24v13m20 11v12m80-49v37m130-37v13"/>
<path stroke="#fff" stroke-width="10" d="M1195 5492v146m10-146v146m10-172v172m10-172v172m10-172v198m10-198v172m10-172v172m10-172v172m10-172v172m10-198v141m10-115v172m10-172v172m10-172v198m10-198v144m10-144v198m10-198v198m10-198v172m10-172v198m10-224v198m10-146v146m10-101v101m10-101v101m160 49v60m10-39v57m10-57v57m10-101v83m10-109v109m40-60v21m110-171v191m10-191v171m10-171v191m10-191v210m10-210v191m10-236v195m10-150v171m10-171v191m10-191v191m10-191v210m10-210v171m10-171v191m10-191v191m10-191v171m10-171v150m10-150v150m10-150v127m10-127v101m10-101v150m10-150v127m10-127v150m10-150v150m10-150v150m10-150v150m10-150v127m10-127v127m10-127v127m10-127v127m10-127v150m10-150v127m10-127v127m10-127v127m10-127v127m10-127v101m10-101v127m10-127v127m10-127v127m10-127v127m10-127v150m10-150v171m10-171v127m10-127v150m10-150v101m10-101v127m10-127v127m10-127v101m10-101v127m10-127v127m10-127v101m10-101v127m10-127v150m10-150v127m10-127v127m10-127v150m10-106v83m10-54v77m10-106v127m10-216v45m0 73v98m10-216v45m0 73v118m10-118v98m10-216v45m0 73v98m10-216v45m0 73v98m10-242v71m0 44v127m10-216v45m0 73v118m10-236v45m0 44v106m10-221v71m0 44v106m10-77v98m10-216v45m0 73v98m10-216v45m0 44v127m10-216v45m0 44v106m10-221v71m0 44v106m10-221v71m0 44v127m10-216v45m0 73v98m10-127v106m10-77v98m10-98v98m10-98v118m10-118v118m10-118v137m10-210v210m10-210v44m0 29v155m10-228v44m0 29v155m10-228v44m0 29v137m10-210v210m10-83v83m10-39v57m10-57v39m10-39v57m10-37v54m10-74v57m10-37v54m10-54v54m10-74v57m10-57v57m10-78v60m10-39v57m10-57v57m10-57v57m10-37v54m10-54v54m10-95v60m10-19v54m10-54v54m10-54v54m10-74v57m10-37v54m10-35v50m10-89v57m10-57v57m10-57v57m10-18v35m10-74v57m10-57v57m10-18v50m10-69v54m10-74v57m10-57v57m10-57v57m10-37v54m10-74v57m10-37v54m10-74v57m10-37v54m10-74v57m10-57v57m10-37v54m10-74v57m10-57v57"/>
<path stroke="#0020ff" stroke-width="40" d="M940 5892v127m0 259v26m0 281v18"/>
<path stroke="#1900de" stroke-width="40" d="M940 6019v37m0 165v29m0 353v88"/>
<path stroke="#3200be" stroke-width="40" d="M940 6056v165"/>
<path stroke="#0000ff" stroke-width="40" d="M940 6250v28m0 413v38"/>
<path stroke="#0080ff" stroke-width="40" d="M940 6304v26"/>
<path stroke="#00ff80" stroke-width="40" d="M940 6330v45m0 171v20"/>
<path stroke="#46ff00" stroke-width="40" d="M940 6375v44"/>
<path stroke="#8cff00" stroke-width="40" d="M940 6419v29"/>
<path stroke="#c6ff00" stroke-width="40" d="M940 6448v28"/>
<path stroke="#ffff00" stroke-width="40" d="M940 6476v26"/>
<path stroke="#a9ff00" stroke-width="40" d="M940 6502v23"/>
<path stroke="#23ff00" stroke-width="40" d="M940 6525v21"/>
<path stroke="#00c0ff" stroke-width="40" d="M940 6566v19"/>
<path stroke="#38009b" stroke-width="20" d="M970 5892v837"/>
<path stroke="#0000ff" stroke-width="10" d="M985 5892v47m0 339v26m10-83v29m0 335v18m0 47v28m10-659v37m0 135v59m0 353v17m0 15v15m0 15v13m0 13v23m10-695v73m0 528v82m10-683v37m0 165v29m0 28v26m0 299v17m0 30v15m0 13v24m0 12v10m10-705v37m0 36v35m0 493v30m10-429v57m0 342v15m0 15v28m0 24v12m0 10v5m10-710v37m0 579v15m0 15v37m0 22v5m10-710v37m0 579v30m0 26v11m10-424v26m0 316v30m0 41v11m10-810v4m0 123v37m0 658v10m10-785v41m0 655v15m0 28v13m10-635v71m10-147v39m0 231v54m0 387v23m0 10v5m10-479v54m0 281v18m0 47v15m0 59v5m10-479v28m0 307v18m0 47v15m0 37v22m10-828v84m0 744v5m10-508v29m0 353v17m0 15v15m0 28v13m0 33v5m10-833v43m0 339v26m0 281v18m0 47v15m0 13v36m10-695v37m0 547v32m0 15v15m10-646v37m0 194v54m0 316v15m0 79v15m10-837v127m10 566v18m0 17v15m0 56v33m10-705v37m10 529v18m0 47v15m0 13v13m30-799v4m0 160v36m0 474v19m10 65v28m10-28v15m0 49v10m10-744v39m10-127v4m0 84v39m10-80v80m0 601v15m0 43v24m0 22v5m10-144v18m0 62v26m0 23v15m10-144v50m0 56v38m10-833v43m0 763v12m10-129v18m0 17v30m0 15v26m0 33v5m20-163v19m0 50v15m0 15v13m0 36v10m10-104v30m0 74v5m10-163v19m0 18v32m0 30v13m0 24v12m0 10v5m10-837v4m0 231v33m0 518v13m10-672v73m0 493v18m0 17v15m0 56v38m10-837v47m0 80v37m0 622v13m0 11v12m10-695v37m0 222v26m0 281v18m10-711v4m0 354v54m10-412v4m0 84v39m0 285v26m10-311v37m0 194v28m0 325v75m0 13v23m10-464v28m0 288v37m0 17v15m0 15v15m10-646v37m0 609v13m10-400v26m10-54v28m0 288v19m0 35v30m0 52v12m10-695v37m0 165v29m0 335v18m0 32v15m0 15v13m10-739v41m0 39v37m0 194v28m0 413v11m0 12v10m10-785v41m0 39v37m0 194v28m10 400v24m10-683v37m0 165v29m0 370v15m0 15v28m10-659v37m0 165v29m0 385v15m0 28v24m0 12v10m10-533v30m10-282v41m0 640v15m0 79v10m10-832v4m0 84v39m0 202v29m10-358v4m0 43v41m0 270v28m10-259v37m0 165v29m0 400v15m0 26v11m0 22v5m10-837v4m0 354v28m10-386v127m0 202v57m0 342v15m0 67v12m10-818v43m0 80v37m0 222v26m0 420v5m10-710v37m0 594v52m10-683v37m0 165v29m0 452v12m10-775v41m0 270v28m0 357v15m10-631v37m0 635v11m10-683v37m0 579v15m0 64v10m10-59v13m0 13v11m0 12v15m10-710v37m0 609v13m0 36v10m10-564v31m0 474v26m10-56v15m10 15v26m10-711v39m0 231v28m10-118v31m0 459v15m0 13v13m0 33v5m10-637v68m0 443v17m0 94v10m10-632v68m0 31v30m0 382v32m0 43v13m10-106v18m0 75v13m0 33v5m10-38v11m0 12v10m10-104v15m10 30v49m10-587v33m0 460v15m0 89v5m10-602v33m0 475v15m0 52v12m0 10v5m20-15v10m10-597v33m0 531v11m0 22v5m10-79v28m0 24v12m0 10v5m10-602v33m0 531v11m10-610v35m20 0v33m0 144v26m0 384v10m10-705v73m10 0v35m0 564v11m10-424v52m0 216v39m0 18v17m0 15v15m0 28v13m10-500v30m0 57v26m0 221v21m0 89v15m0 28v24m0 12v15m10-637v35m0 439v19m10-458v33m0 118v52m0 255v18m0 17v15m0 15v15m0 13v24m10-424v26m0 221v60m0 18v32m0 15v28m10-132v20m0 37v17m0 15v15m0 15v13m0 13v11m10-542v31m0 87v52m0 216v20m0 84v15m0 13v24m10-683v37m10 248v26m0 290v15m0 67v22m10-446v26m0 262v37m0 47v64m10-587v33m0 365v21m0 20v19m0 18v32m0 15v41m0 23v15m20-569v31m0 87v26m0 316v45m0 49v10m10-597v33m0 365v21m0 20v37m0 99v12m10-587v33m0 118v52m0 236v84m0 52v12m10-554v31m0 113v26m0 255v18m10 17v15m0 79v15m10-602v33m0 342v23m0 60v18m0 17v15m0 56v33m10-533v30m0 57v26m0 262v19m0 35v15m0 15v15m10-538v33m0 475v15m10-372v26m0 262v19m0 35v15m0 56v23m0 10v5m10-602v33m0 425v35m0 82v22m10-46v13m0 33v5m10-569v31m0 113v26m0 236v37m0 32v15m0 15v13m0 13v33m10-597v33m10-33v33m0 386v39m0 65v15m0 37v12m10-554v61m10-61v31m0 113v26m0 348v13m10-26v26m10-564v33m0 386v20m0 19v35m0 45v26m0 33v5m20-451v52m0 216v20m0 19v18m0 32v30m0 13v24m0 12v15m10-183v57m0 17v15m0 15v41m0 11v27m10-637v68m0 365v21m0 132v13m10-145v20m0 19v18m0 88v11m0 22v5m10-204v21m0 57v32m0 15v15m10-505v31m0 412v17m0 30v15m0 26v11m0 12v10m10-178v20m0 69v43m0 13v23m10-554v31m0 394v18m0 99v12m10-148v19m0 18v32m10-579v36m0 35v33m0 90v28m10 325v17m0 45v37m0 12v10m10-139v18m0 47v15m10-99v19m0 50v15m0 64v10m10-597v33m10 0v31m0 412v17m0 71v23m10-523v30m0 382v17m0 15v15m0 28v13m0 33v5m10-144v18m0 32v30m10-62v17m0 30v15m0 13v13m10-88v17m0 30v28m10-518v31m0 375v19m0 35v30m0 15v26m0 33v5m10-569v31m0 474v13m0 46v5m10-538v30m0 414v43m10-93v18m0 17v15m0 89v5m10-569v31m0 412v17m0 30v28m0 13v11m10-11v11m10-542v31m0 394v18m0 47v52m10-82v15m0 30v13m0 24v12m0 10v5m10-569v31m0 511v22m10-474v28m0 436v10m10-74v15m0 59v5m10-569v31m0 394v18m0 32v30m0 26v23m0 10v5m10-673v36m0 68v31m10-64v94m0 414v15m10-558v35m0 523v52m10-542v31m10-211v39m0 37v104m0 531v11m10-722v39m0 646v26m0 11v12m0 10v5m10-833v160m0 668v5m10-749v76m0 36v35m0 564v11m10-810v88m0 39v37m0 635v11m20-683v37m0 36v35m10-35v68m10-268v47m0 117v104m0 215v44m0 283v12m10-822v4m0 84v112m0 599v11m0 12v15m20-837v47m0 41v39m0 108v33m10-141v73m0 283v44m0 272v11m0 22v5m10-673v71m10-71v36m0 35v33m0 564v5m10-833v43m0 41v147m0 564v33m10-705v73m0 35v33m10-221v80m0 37v71m0 597v5m10-569v31m10-99v99m10-211v76m10 71v64m10-64v33m10-264v43m0 41v180m10-264v43m0 41v76m0 71v33m10-268v88m0 112v68m0 564v5m10-673v36m0 68v31m10-31v31m0 139v45m10-483v4m0 806v12m10-695v37m0 71v64m10 0v30m10-329v47m0 80v37m0 36v68m0 564v5m10-833v43m10 221v31m10-252v41m0 39v37m0 71v64m0 184v44m10-527v4m0 160v104m10-221v41m0 76v104m0 531v11m0 22v5m10-837v47m0 41v39m0 705v5m10-833v231m10-188v80m0 37v104m10-104v36m10-112v76m0 71v33m10-141v37m0 36v68m0 554v10m10-705v37m0 36v35m10-235v47m0 41v39m0 37v71m10-235v88m0 39v73m10-196v43m0 80v73m10-200v4m0 43v41m0 76v36m0 511v17m10-728v4m0 160v36m20-112v76m0 36v35m10-235v4m0 84v39m0 37v36m10-200v4m0 84v39m0 37v71m0 476v17m20-681v153m20-153v153m20-200v4m0 84v39m0 37v36m10-196v123m10-127v47m0 80v37m10-160v123m0 37v36m10-196v43m0 117v71m10-231v43m0 80v37m10 0v36m10-196v43m0 80v73m10-200v4m0 43v41m0 39v37m0 36v35m10-188v80m10-127v4m0 43v41m0 39v73m10 511v17m20-728v4m0 123v37m0 36v35m10-231v84m0 39v37m0 547v17m10-681v41m0 76v36m10-200v88m0 623v17m10-724v160m10-164v47m0 41v39m10-127v47m10 681v15m10-15v15m10-743v4m10-4v88m0 39v37m10-117v41m0 640v15m10-739v160m10-164v4m0 43v188m10-231v43m0 41v39m0 37v71m10-188v41m10-88v200m20 0v35m20-35v68m10-180v76m10-164v88m0 39v73m10-200v88m0 76v71m10-147v76m0 36v35m10-235v127m10-123v43m0 80v73m10-153v41m10-84v84m0 76v36m10-200v200m10-112v39m0 37v71m10-231v43m10-43v43m0 41v39m0 37v36m10-153v41m0 112v35m10-231v43m0 117v36m0 528v15m10-743v47m0 117v36m0 511v17"/>
<path stroke="#1900de" stroke-width="10" d="M985 5939v80m10 0v108m0 33v61m0 399v15m0 43v13m10-635v135m0 459v15m10-538v94m10-165v36m0 35v64m0 429v15m10-579v36m0 35v64m0 30v29m10-231v141m0 31v30m0 457v13m10-635v36m0 35v33m0 31v59m0 452v12m10-658v135m10-135v36m0 35v123m10 353v17m0 30v15m0 26v11m0 22v5m10-710v37m0 104v31m0 429v15m0 15v15m0 26v11m0 22v5m10-602v33m10-141v37m0 71v33m0 460v15m0 43v13m10-672v37m0 165v29m0 370v15m0 67v12m10-493v29m0 428v24m0 22v5m10-749v39m0 231v28m10-259v37m0 609v13m0 13v11m10-683v37m0 36v35m0 94v29m0 353v17m0 15v15m0 15v13m10-586v68m0 61v29m10-194v36m0 129v29m0 385v56m0 11v12m10-464v54m0 281v18m10-476v33m0 406v19m0 18v17m0 15v15m0 74v5m10-27v12m10-23v23m10-129v18m10 17v15m0 15v15m0 13v36m20-79v15m0 41v11m10-136v19m0 35v30m0 15v13m0 13v23m0 10v5m10-710v37m0 609v26m0 23v15m10-790v41m0 39v37m0 646v12m10-148v37m0 32v30m0 37v22m10-121v32m0 56v23m10-148v19m0 65v28m10-132v20m0 37v17m0 45v13m0 46v5m10-163v19m10-19v19m0 18v32m0 43v13m0 23v15m10-126v17m10 30v28m10-93v18m0 47v15m10 26v23m10-79v15m0 15v26m10-413v26m0 387v11m10-646v36m0 129v29m0 353v47m10-631v37m0 510v19m0 80v13m0 13v23m10-695v37m0 529v18m0 99v12m10-658v36m0 35v33m0 386v39m0 129v10m10-668v71m0 64v30m0 444v13m10-622v36m0 129v83m0 331v30m0 13v13m0 11v27m10-790v41m0 39v37m0 529v18m0 88v11m0 22v5m10-569v31m0 487v13m0 23v15m10-538v30m0 325v39m0 18v32m10 0v30m0 13v13m0 33v5m10-51v13m0 11v27m10-673v165m10 414v15m0 28v36m0 10v5m10-673v36m0 573v13m0 24v12m10-622v99m10 30v29m0 400v15m0 37v12m0 10v5m10-710v37m0 579v15m0 28v13m0 11v22m10-828v43m0 41v76m10 564v15m0 30v26m0 11v22m10-705v37m0 165v29m0 428v13m0 11v12m10-23v11m10-763v41m0 270v28m10-222v36m0 99v59m0 452v12m10-658v36m0 68v31m0 487v24m0 12v15m10-749v76m0 222v26m10-248v71m0 33v61m0 429v15m10-444v29m0 400v15m0 13v13m0 11v12m0 10v5m10-508v29m0 400v15m0 13v13m10-470v29m0 441v23m0 10v5m10-673v36m0 35v33m0 31v30m10-202v37m0 594v15m0 37v22m10-668v36m0 99v30m10-202v37m0 564v15m10-444v30m10-30v30m0 470v23m0 10v5m10-64v13m0 13v11m10-99v17m0 15v15m0 15v13m0 13v11m0 12v10m10-597v33m0 460v15m0 15v15m0 37v12m10-554v61m10-94v33m0 443v17m0 94v10m10-74v15m10-505v31m0 459v52m10-575v33m0 443v17m0 82v12m10-49v49m0 10v5m10-126v17m0 15v15m0 64v10m10-89v15m0 28v13m10-531v31m10 500v11m0 12v10m10-564v61m10 470v23m0 10v5m10-637v35m10 0v64m0 87v26m0 262v37m0 32v15m0 64v15m10-538v30m0 364v18m10-443v31m0 375v19m0 18v32m0 30v13m10-551v33m0 365v41m0 19v18m0 62v26m0 11v27m10-538v30m0 325v20m0 37v17m0 45v13m0 24v12m10-523v30m10-61v31m0 113v26m0 290v15m0 15v15m10-140v21m10-454v35m10 64v30m0 325v20m0 112v13m10-531v31m0 113v26m0 216v20m0 148v10m10-533v30m0 83v26m0 216v20m0 19v18m10-443v31m0 334v21m0 20v19m0 50v15m0 28v24m0 12v15m10-538v30m0 83v26m0 236v19m0 18v17m0 58v13m10-500v30m0 57v26m0 242v20m0 54v45m10-505v31m0 334v41m0 99v26m10-88v17m10-460v61m0 57v52m0 255v35m0 15v79m10-554v61m0 325v39m0 50v15m0 28v13m0 33v5m10-569v31m0 394v18m0 62v13m10-518v31m0 394v18m0 17v15m0 56v23m10-554v61m0 325v20m0 112v13m10-531v31m0 429v58m0 13v11m10-542v31m0 394v18m0 32v43m0 13v11m10-424v26m0 242v20m0 37v17m0 58v13m0 33v5m10-637v35m0 458v18m10-443v61m0 83v26m0 195v21m0 39v50m0 89v5m20-538v30m10-94v33m0 118v26m0 398v27m10-569v31m0 87v52m0 195v21m0 74v15m10-508v33m0 460v15m0 43v13m10-531v31m0 429v15m0 30v13m10-518v61m0 57v52m0 305v15m0 41v11m10-542v31m0 355v20m0 19v18m0 47v15m0 26v11m0 12v10m10-564v31m0 87v26m0 262v19m0 35v15m10-475v31m0 355v20m10-375v30m0 414v15m0 15v26m10-71v15m0 79v15m10-508v29m0 370v45m0 13v24m10-511v59m0 385v30m0 13v13m0 11v12m10-554v31m0 487v13m10-71v15m10-475v31m0 429v30m0 15v13m0 24v12m10-523v30m0 382v17m0 45v49m10-129v18m0 75v13m0 11v22m10-533v30m0 414v15m0 15v26m0 23v15m10-479v28m0 342v15m0 15v28m0 13v11m10-99v32m0 67v12m10-523v59m10-59v30m0 345v37m10-412v59m0 353v17m0 30v15m0 26v11m10-117v50m0 15v15m0 26v23m10-493v29m10 353v17m0 30v15m10-444v29m0 474v5m10-479v28m10 342v15m0 79v10m10-533v30m0 29v28m0 357v15m0 28v13m10-500v30m0 399v15m0 15v28m0 13v11m10-511v30m0 481v12m10-49v13m0 13v11m10-452v28m0 342v15m10-508v33m0 564v5m10-38v11m0 22v5m10-569v31m0 444v15m0 52v27m20-710v37m0 646v12m0 10v5m10-673v36m0 35v33m10-68v68m20-104v71m0 551v13m0 23v15m10-538v30m0 109v45m10-215v31m20-31v31m10-99v99m20-172v37m0 36v35m0 33v31m0 523v10m10-828v43m0 153v99m10-31v31m10-31v31m0 139v45m10 349v5m10-749v39m10 108v64m30-135v36m0 35v64m20 0v30m10-61v31m10 523v10m10-668v36m0 283v44m0 272v11m0 12v10m10-597v33m20-264v196m0 35v33m0 531v11m0 22v5m30-749v39m0 37v36m0 283v44m0 283v12m10-822v4m0 43v41m0 722v12m0 10v5m30-569v31m10-31v31m10-135v36m0 35v33m10-33v33m10 0v31m10-64v64m10-31v31m20-64v64m10-172v37m0 564v15m10-543v35m10-235v4m0 43v80m10-123v43m0 41v39m0 73v35m10-188v117m10-164v200m0 528v15m10-508v33m10-141v37m10 71v33m0 31v30m10-325v43m10-47v47m0 153v35m10-231v43m10-47v4m0 196v35m10-71v36m10-196v84m0 640v15m10-743v4m0 123v108m10-147v39m0 37v36m0 35v33m10-268v4m10 84v39m0 108v33m10-268v4m0 43v80m0 37v36m10-200v47m0 80v37m10-117v80m0 73v35m10-231v43m0 41v39m0 37v36m10-200v47m0 80v108m10-35v35m0 476v17m10-724v196m20-153v41m10-88v4m0 84v39m0 37v71m10-235v4m0 123v37m0 36v35m0 439v19m10-566v37m10 0v36m10-153v41m0 39v73m10-153v188m0 493v15m10-743v4m0 43v41m10-88v164m10-160v123m0 37v71m10-147v39m0 37v71m10-235v47m0 80v37m10 0v104m20-268v4m0 43v41m0 39v37m10-164v47m0 153v35m10-35v35m10-147v112m10-36v36m0 35v33m0 460v15m10-743v200m10 68v31m10-299v47m0 117v104m10-180v39m0 73v35m0 476v17m10-640v76m0 564v15m20-616v73m10-200v4m0 196v35m10-231v43m0 41v112m10-112v76m0 36v35m10-35v35m10 0v33m0 443v17m10-728v4m0 43v80m0 37v36m10 0v35m0 33v31m10-299v4m0 84v112m10 0v35m10-188v117m0 36v35m10-235v47"/>
<path stroke="#3200be" stroke-width="10" d="M985 6019v37m0 529v18m0 17v15m0 89v5m10-602v33m20-68v35m10-35v35m10 64v30m10-61v31m10-99v35m0 33v31m10 0v59m10-158v35m10-71v36m0 35v33m0 460v30m0 15v26m0 11v12m10-658v36m0 35v33m0 443v17m0 45v13m0 24v12m20-622v35m0 33v31m0 412v17m0 30v28m10-622v165m0 382v17m0 45v13m10-659v141m0 31v30m0 382v47m0 15v13m10-659v73m0 68v90m0 28v26m0 281v18m0 17v15m0 30v13m0 24v12m10-658v165m10-165v36m0 35v94m10-165v36m0 68v61m10-129v129m0 470v11m10-683v37m0 646v12m0 10v5m10-673v71m0 538v26m10-41v15m0 13v24m0 22v5m30-64v13m0 36v15m10-749v76m20 529v35m0 58v13m10-106v18m0 32v15m0 52v12m10-658v36m0 622v10m10-121v17m20 58v13m10-125v37m0 17v15m0 15v15m0 26v11m0 12v10m20-139v18m0 32v43m0 13v23m10-168v20m0 84v15m30-609v71m0 419v39m0 35v45m0 59v5m10-637v35m0 476v17m0 30v15m10-609v36m0 35v33m0 425v50m0 15v28m0 36v15m10-602v94m0 444v13m10-622v36m0 129v29m0 335v35m0 15v15m0 28v13m0 23v15m10-673v36m0 129v29m0 28v26m0 361v13m0 46v5m10-637v35m0 33v61m0 364v18m10-476v64m10-99v35m0 33v31m0 394v50m10-444v59m0 370v15m0 30v13m0 24v12m10-658v36m0 35v33m0 31v59m0 415v13m10-622v135m10-135v71m0 64v59m0 415v13m0 24v12m10-658v36m0 129v29m0 400v28m0 13v11m20-646v36m10 0v99m10-135v36m10-73v37m0 36v35m0 64v30m0 444v13m0 13v11m10-82v15m0 15v15m0 26v11m0 22v5m10-508v29m0 441v11m0 22v5m10-673v71m0 508v15m10 15v13m0 13v11m0 22v5m10-710v37m0 36v35m0 538v13m0 36v15m10-51v13m10-564v33m10-68v35m0 538v13m10 24v22m10-597v33m10-104v135m0 500v11m10-646v104m0 31v30m10-165v71m0 64v30m10-129v35m10-71v36m0 68v31m0 429v15m0 30v37m0 22v5m10-637v99m10-135v36m0 35v33m0 61v29m0 385v15m20-15v56m10-531v31m0 394v18m0 47v15m10-538v64m0 429v15m10-475v31m0 444v15m0 15v26m0 33v5m20-569v61m0 414v15m10-490v61m0 414v15m0 28v13m0 11v12m10-523v30m0 399v15m10 0v15m0 41v11m0 12v15m10-602v33m0 31v30m0 382v47m10-490v61m10-61v31m0 429v15m10-444v30m10-94v33m0 443v47m0 15v26m0 33v5m20-569v31m0 412v47m0 15v26m10-564v33m0 118v26m0 242v57m10-412v30m0 83v26m0 273v32m0 15v28m30-518v31m0 87v26m0 316v15m0 15v15m0 26v11m10-542v31m10-31v31m10 0v30m0 345v19m0 93v13m20-564v33m0 118v26m0 398v12m20-523v30m0 382v17m0 15v15m10-490v31m0 87v26m10-113v30m0 57v52m0 216v20m0 54v15m0 30v13m0 24v12m10-168v20m0 99v13m10-518v31m0 113v26m10-139v30m10-30v30m20 57v52m0 195v21m0 104v28m20-487v30m0 382v17m0 30v41m0 23v15m10-425v26m0 273v17m10-316v26m0 236v19m10-255v45m0 191v19m0 18v32m0 79v10m10-533v30m0 429v15m10-505v31m0 511v12m10-436v26m0 361v13m30-487v30m0 83v26m0 195v41m0 19v50m0 56v11m10-511v30m0 429v15m10-505v31m0 87v26m0 221v41m0 19v35m0 30v15m0 26v11m0 12v15m10-538v30m0 382v17m20-342v52m0 236v19m0 18v17m0 45v13m10-487v30m0 83v26m0 273v17m0 30v28m0 24v12m30-554v61m0 345v19m10-19v19m0 18v17m0 94v15m20-163v19m0 65v15m0 49v10m10-533v59m10-59v59m0 428v13m10-470v29m0 370v15m10 30v13m0 13v11m10-117v18m0 47v15m10-444v29m10-59v59m20-29v29m20-59v59m0 385v15m0 28v13m20-500v30m0 29v28m0 387v26m0 11v22m10-533v30m0 29v28m0 342v15m10-414v29m10-59v30m10 0v29m10 0v28m0 357v15m0 28v13m10-470v29m10-59v30m0 29v80m0 290v15m0 67v22m10-533v59m0 28v52m10-139v30m0 429v15m10-15v15m0 13v13m0 11v22m20-533v113m10-144v61m0 457v13m0 23v10m10-394v45m10-215v31m10-31v31m10-64v33m10 90v28m10-87v30m10-30v30m10-30v30m20-30v30m50-94v64m10-31v31m30 0v30m60-241v76m0 104v31m10 0v30m0 109v45m10-184v30m10-129v35m0 587v10m10-503v29m20-90v31m10-211v180m0 554v10m50-564v31m10-31v31m10 0v30m20-30v30m10-61v31m20-64v33m10-33v64m0 429v15m10-543v35m0 33v31m10-172v37m10 36v68m10-33v33m10 0v31m0 30v29m0 28v26m10-212v35m10 33v31m0 30v29m0 80v89m0 29v28m0 49v21m10-654v4m0 43v41m0 39v73m0 528v15m10-32v17m10-681v80m0 37v36m0 528v15m20-743v127m10 0v37m0 36v35m10 0v33m10-68v35m0 64v30m10-129v68m20-68v35m0 458v18m10-664v80m0 584v17m10-493v33m10-33v33m0 406v19m10-458v64m10-64v94m10-329v4m0 196v35m10-235v47m0 41v39m0 37v36m0 511v17m10-493v64m10-64v64m10-64v33m0 386v20m10-474v99m10-99v68m10-68v35m0 476v17m10-493v33m10-264v43m0 41v147m10-71v71m10-108v37m10 71v33m10-180v39m0 37v71m10 33v31m0 30v29m10-123v94m0 281v23m10-398v33m10-180v112m0 528v15m10-508v33m10-268v88m10 180v31m10-99v68m10 31v30m0 57v52m0 172v23m0 21v20m20-439v33m10-33v33m10-33v64m0 30v29m10-158v68m0 443v17m10-640v39m0 584v17m10-728v4m0 196v35m10 0v64m10-64v64m10-31v61m0 227v28m10-457v37m0 36v68m0 460v15m10-508v33m0 406v19m0 18v17m10-724v43m0 188v33m10-33v64m0 285v26m0 44v20m20-627v188"/>
<path stroke="#3e0078" stroke-width="10" d="M985 6056v36m0 129v29m0 353v17m0 82v12m210-493v29m0 385v15m20-65v18m0 17v15m0 30v13m40-75v17m0 45v13m40-43v15m0 15v13m10-13v13m110-457v29m30-123v64m0 487v24m0 12v10m40-668v36m0 35v33m0 90v28m0 325v17m0 58v13m100-599v35m10-71v71m0 508v15m20-523v33m0 490v15m10-474v30m0 414v15m10-558v99m0 500v11m30-610v129m0 457v13m80-599v35m0 64v30m0 429v15m0 13v13m0 11v12m0 10v5m100-64v26m80-500v30m0 399v15m0 67v12m40-410v26m50-170v31m0 113v26m0 195v21m0 57v32m0 56v11m120-398v26m50-139v30m0 57v52m0 216v20m0 84v15m40-30v15m20-15v15m80 15v13m20-457v29m0 353v17m0 45v13m0 13v11m0 22v5m130-38v11m90-424v52m0 335v13m0 13v33m20-503v29m0 28v26m10 0v26m10-26v26m10-139v30m0 57v26m10-113v30m10-30v30m0 109v45m70-125v54m20-113v30m10 0v57m10-57v29m10-59v30m10-30v30m0 109v45m10-184v30m10 0v29m0 54v71m10-154v57m0 26v26m10-139v30m10 0v29m0 54v26m10-109v29m10 80v45m20-184v30m10 0v29m10 54v26m30-80v54m10-113v30m20 29v28m10-57v57m10-87v30m10 109v45m10-184v30m10-30v30m20 57v26m0 26v45m20-154v29m0 80v45m10-184v30m0 109v45m10 0v44m0 106v41m10-345v29m0 169v29m0 28v26m10-311v30m0 57v26m0 221v21m0 39v35m10-460v61m0 281v23m10-365v61m20 29v28m0 26v71m0 101v70m0 20v19m10-364v57m0 247v21m10-296v28m0 141v29m0 98v20m10-439v64m10-31v61m0 29v54m0 71v44m0 29v28m0 90v19m10-458v33m10 31v59m0 80v89m0 83v23m0 21v20m0 19v18m10-476v64m10-31v61m10 382v17m10-316v26m0 195v21m0 57v17m10-370v54m0 71v44m0 57v70m0 20v19m10-255v89m0 57v26m0 44v20m0 19v35m10-144v49m10-398v33m0 31v30m10 364v18m10-412v30m0 29v28m0 141v57m0 49v21m10-355v30m0 83v26m0 89v29m0 54v23m0 41v37m10-299v26m0 118v28m0 26v23m0 21v20m10-439v33m0 31v30m10-61v31m10 139v45m0 44v57m10-285v30m0 57v26m0 26v45m0 150v21m0 20v19m10-281v26m0 118v54m10-281v29m0 80v45m0 210v18m10-412v30m0 57v97m0 44v83m0 23v21m0 20v19m10-425v61m10-30v59m0 54v26m10-203v33m10 0v61m10 198v29m0 155v17m10-429v113m0 299v17m10-460v31m10 87v52m0 45v44m0 57v70m0 20v37m10-299v26m0 118v28m0 90v54m20-460v61m10 154v101m0 26v23m0 21v20m0 19v18m10-511v68m10 61v109m0 195v41m10 54v15m10-260v44m0 29v28m10-198v26m0 221v21m0 57v17m10-429v59m0 252v23m10-304v29m0 28v26m10-54v54m0 26v45m0 150v41m0 19v18m10-443v31m0 30v29m0 28v26m10-113v30m0 83v26m0 45v44m0 29v28m0 70v20m10-406v31m0 412v17m10-429v59m0 275v60m10-394v59m0 54v26m0 45v73m0 77v21m0 20v37m10-353v54m0 26v45m0 44v29m0 28v26m0 64v19m20-364v255m0 70v20m20-262v115m0 29v28m0 26v44m0 39v35m20-493v33m0 443v17"/>
<path stroke="#38009b" stroke-width="10" d="M985 6092v129m0 29v28m0 357v15m0 28v24m0 12v10m40-533v30m60-129v35m0 33v31m10-99v35m20-71v36m0 99v59m20-90v31m10-99v68m0 443v17m0 15v30m0 13v24m50-646v165m0 382v32m0 15v15m0 13v24m0 12v10m10-74v15m10-99v19m0 18v17m0 15v15m0 64v10m10-121v17m20-35v35m0 15v15m10 52v12m0 10v5m30-163v19m0 18v17m0 30v15m0 26v11m10-117v50m0 15v15m0 13v13m0 33v5m40-94v15m0 28v13m60-106v35m0 45v13m0 36v10m10-597v33m10-68v35m0 33v61m0 29v28m0 357v15m10-558v35m10-35v129m0 399v15m0 15v15m10-573v35m0 64v30m0 29v28m0 325v62m30-538v33m0 31v30m0 470v11m10-610v35m0 33v31m0 444v30m0 49v10m10-632v35m20 0v64m10-99v129m20-129v129m10-30v30m20-165v36m0 35v64m0 444v15m0 28v13m10-635v36m0 35v94m0 444v13m10-551v94m0 399v15m0 15v41m0 11v22m10-597v94m10-165v71m0 33v61m0 493v10m10-668v36m0 68v31m0 459v15m0 13v13m10-635v36m0 99v30m0 429v28m0 24v22m10-632v35m0 33v31m10-64v33m0 31v30m10-165v36m0 558v15m0 26v11m0 22v5m20-538v30m0 444v13m10-518v31m10-64v64m0 459v15m0 13v13m20-599v68m0 31v30m20-61v31m0 500v11m20-542v31m0 429v15m30-444v30m20 399v15m0 15v15m10 0v13m20-518v61m0 399v15m0 15v15m10-505v31m0 459v15m20-474v30m0 470v11m20-542v61m0 429v15m0 37v12m20-523v30m0 429v15m10-361v26m0 394v5m10-183v20m0 112v13m30-500v30m0 382v17m0 15v15m50-459v30m0 325v39m0 50v56m0 23v15m40-144v35m0 30v15m60-62v17m20-54v19m20-394v30m10-30v30m0 83v26m0 372v12m20-148v19m0 18v17m0 45v37m0 12v15m10-94v15m30-490v31m0 375v19m0 65v15m20-474v30m0 83v26m0 236v19m0 80v13m0 24v12m30-523v30m0 399v15m10 0v15m30-47v17m0 58v13m10-500v30m20-30v30m0 364v18m0 17v30m0 52v12m40-523v87m0 325v62m0 59v5m10-508v29m0 370v15m20-385v28m0 400v13m60-470v29m0 385v15m30-429v29m20-29v29m20-29v29m0 385v15m0 28v13m20-470v29m0 428v13m10-470v83m0 26v45m0 290v13m10-487v30m0 29v28m30-118v31m10 30v29m20-90v31m10 30v29m0 28v52m10 0v45m30-184v30m10 0v29m0 54v71m30-184v30m10-30v30m40-30v30m20 109v45m10-184v30m10 57v26m10-113v30m10-61v61m30 0v83m10-144v31m10 0v30m10 0v29m0 80v45m20-215v31m0 184v44m10-228v30m10-30v30m20-30v30m40-30v30m20-30v30m20-61v61m10-30v30m0 109v45m10-248v33m10-33v33m20-68v35m10 64v30m0 154v73m0 137v35m10-493v94m0 154v44m0 147v19m10-307v26m0 172v49m0 60v18m10-623v39m0 73v35m10 0v33m10-268v4m0 123v37m0 36v35m10 0v64m10-172v37m0 36v35m10 0v33m10 0v90m10-90v31m10-31v61m10-61v90m0 28v26m0 262v19m10-458v64m10-99v35m0 33v31m10-31v61m10-61v31m0 355v20m10 37v17m10-370v54m0 262v37m10-443v31m10-252v41m0 39v37m0 36v35m10 64v87m0 268v57m10-155v28m0 109v18m10-443v61m0 304v21m20-386v31m10-64v33m10 0v31m10-31v31m10-64v33m10-33v64m10-31v31m10-64v33m0 31v30m10-30v30m0 109v45m20-215v118m10-151v33m10 0v90m0 226v26m10 101v17m10-429v30m0 109v45m0 73v28m10-316v31m10 30v57m0 52v45m0 44v29m0 28v26m0 23v21m0 20v37m10-443v90m10-90v31m10-31v61m10-30v30m0 83v26m0 45v73m0 118v19m0 18v17m10-118v23m10-398v64m10-64v33m0 31v30m30 0v29m0 54v26m0 45v44m0 166v18m10-443v31m10 0v30m0 255v26m0 23v21m0 39v18m10-443v90m10-59v59m10-123v94m10-61v31"/>
<path stroke="#0020ff" stroke-width="10" d="M985 6304v26m10-80v28m0 357v15m0 52v12m0 10v5m10-479v28m0 342v15m0 79v15m10-749v39m0 202v29m0 353v17m0 94v15m10-790v41m0 270v28m0 307v18m0 62v13m0 24v12m10-436v26m0 281v18m10-664v80m0 672v11m10-452v28m0 26v26m0 320v15m0 49v10m10-744v39m0 601v15m0 30v13m0 24v27m10-790v41m0 39v37m0 609v26m0 33v5m10-833v43m0 41v39m10-123v43m0 41v39m0 695v10m10-705v37m0 104v31m0 412v17m10-728v88m0 605v18m0 32v15m0 64v10m10-832v4m0 739v15m0 28v24m0 12v10m10-832v127m0 259v26m10-412v4m0 818v10m10-744v39m0 231v54m0 316v15m0 15v15m0 37v12m10-775v80m0 231v28m0 342v15m0 79v15m10-144v18m0 32v15m0 15v26m10-799v47m0 41v39m0 285v26m20-438v164m10-160v123m0 37v36m10-200v4m0 43v41m0 39v37m0 510v19m0 35v30m0 15v13m0 46v5m10-94v15m10-754v84m0 39v37m10-160v84m10 0v39m0 566v35m0 82v12m0 10v5m10-833v160m10-164v4m0 43v41m0 566v20m10-670v43m0 627v19m10-689v43m0 80v141m10-141v37m0 510v19m0 65v15m10-30v15m10-711v117m10-37v37m0 547v17m0 30v15m0 26v33m10-828v160m10-160v43m0 80v37m0 529v18m0 17v15m0 43v24m0 22v5m10-183v39m0 18v17m0 58v13m0 11v22m10-705v37m0 579v15m0 28v24m0 12v10m10-785v41m0 39v37m10-117v80m10-80v80m10-123v43m0 41v39m0 231v28m0 400v24m0 22v5m10-833v123m10-80v41m10-88v47m0 41v39m0 202v29m0 428v13m0 33v5m10-710v37m0 165v29m0 353v17m0 15v15m0 28v36m0 10v5m10-833v123m10-127v47m0 41v39m0 285v26m10-311v37m0 529v35m0 30v15m10-685v39m0 631v15m0 13v24m0 22v5m10-837v4m0 382v26m0 316v15m10-743v4m0 84v39m0 616v15m10-631v37m0 594v15m10-726v80m0 695v10m10 0v5m10-710v37m10-160v43m0 41v39m10-123v84m30-84v123m0 616v15m20-758v4m0 84v39m0 616v15m10-758v4m0 43v80m0 616v15m0 64v15m10-833v123m0 231v28m10-386v47m10 282v29m0 415v26m10-799v88m0 270v28m10-339v117m0 646v12m10-818v123m0 616v15m10-15v15m0 52v22m10-828v123m0 202v29m10-354v43m0 41v76m0 594v15m0 26v23m10-822v88m10 640v30m0 52v22m10-668v36m10 543v15m0 52v22m10-632v35m0 64v30m0 429v15m0 37v12m10-695v37m0 36v35m10 508v15m0 28v13m10-599v35m0 597v5m10-710v108m0 564v11m0 12v10m10-10v10m10-668v71m10-147v39m0 73v35m10 493v15m0 15v28m0 24v12m10-587v33m0 554v10m10-104v58m0 24v27m10-710v73m10 35v33m0 443v32m0 15v64m0 10v5m10-710v108m0 151v26m10-324v39m10 506v21m10-386v31m0 429v15m0 56v11m10-575v33m0 144v26m0 216v20m0 19v18m0 47v15m10-646v37m10 510v19m0 50v15m0 64v15m10-602v33m0 144v26m0 255v18m0 32v15m0 28v24m0 22v5m10-602v33m0 118v26m0 281v18m0 99v12m0 10v5m10-602v33m0 31v30m0 345v19m0 35v30m0 74v5m10-749v39m0 37v36m0 410v23m10-365v31m0 87v26m0 281v35m0 15v15m0 74v5m10-109v15m0 89v5m10-673v36m0 543v15m0 41v11m10-683v141m10-33v33m0 365v21m0 39v18m0 88v11m0 22v5m10-126v17m0 45v37m0 12v10m20-394v45m0 245v30m0 28v13m10-599v35m0 419v39m10-493v35m10 0v33m0 144v26m0 216v20m0 37v17m0 15v15m0 28v36m10-658v71m0 151v26m0 26v45m0 171v20m10-41v21m0 39v18m0 32v43m0 36v10m10-446v26m0 26v45m0 171v20m0 112v13m10-635v36m0 35v33m10-141v37m0 71v33m0 460v15m10-616v37m0 469v21m10-454v35m0 551v24m0 12v10m10-420v26m0 236v84m0 41v33m10-597v33m0 118v26m0 242v20m0 19v18m0 17v15m0 30v13m10-622v71m10-71v36m0 474v19m0 50v15m0 41v33m10-668v71m10-35v35m0 439v19m0 117v12m10-587v33m0 443v17m10 15v15m0 52v12m10-658v104m0 365v21m0 132v13m0 23v10m10-89v15m0 15v26m0 11v22m10-668v36m0 35v33m0 425v18m0 121v5m10-637v68m0 425v18m10-476v33m10 0v31m0 394v18m0 62v13m0 13v11m0 12v15m10-710v37m0 36v35m0 248v44m10-292v64m0 375v37m0 32v15m0 52v12m10-587v33m0 406v19m0 18v17m0 71v11m0 22v5m10-569v31m0 394v18m0 47v15m0 59v5m10-710v108m0 33v31m10-99v68m0 406v19m10-458v33m0 542v12m10-554v31m0 474v13m0 13v11m0 12v15m10-569v31m0 394v18m0 17v30m10 28v24m10-575v33m0 425v18m0 99v22m10-474v28m10-118v31m0 59v28m0 413v23m10-658v135m10 394v18m0 32v15m0 28v13m0 23v10m10-533v30m0 382v32m0 79v10m10-632v35m0 476v17m0 15v15m0 52v12m10-622v35m0 33v31m0 459v15m0 26v11m10-683v141m0 443v17m10-460v31m0 444v15m0 28v24m0 22v5m10-637v99m10 412v17m0 45v26m0 23v10m10-632v35m0 508v15m20-594v36m0 35v33m10-141v37m0 36v68m0 554v15m10-64v13m10-786v88m0 39v37m0 36v35m0 564v11m0 12v10m10-832v4m0 160v36m0 238v45m0 327v12m10-822v4m0 160v36m0 35v33m0 564v5m10-749v39m0 683v12m10-554v31m10-135v36m0 35v33m10-264v196m0 68v31m0 523v15m10-790v117m0 363v29m0 276v5m10-833v84m0 722v12m10-587v64m10-252v41m0 76v36m0 586v36m0 10v5m10-837v4m0 84v39m0 695v10m10-832v88m0 39v37m0 71v33m0 542v12m0 10v5m10-790v117m0 36v35m10-235v4m0 43v41m0 395v44m10-523v84m0 112v35m0 564v11m10-810v47m0 80v37m0 319v44m0 283v22m10-785v117m0 36v35m0 587v10m10-832v47m0 80v73m0 632v5m10-833v84m0 112v35m0 575v22m10-744v76m0 36v35m0 248v44m10-527v4m0 196v35m0 33v31m10-299v4m0 43v41m0 711v11m10-810v4m0 43v41m0 76v71m0 248v44m10 259v13m0 11v12m10-775v41m0 112v35m20 248v44m0 259v13m10-795v43m0 41v39m0 73v35m0 248v44m0 283v12m10-622v99m10-252v41m0 734v10m10-46v24m10-722v39m0 37v104m10-180v39m0 73v35m0 575v12m10-818v160m0 635v33m10-832v47m0 41v76m0 622v13m10-752v41m0 39v37m0 36v35m0 564v11m0 12v10m10-832v4m0 479v44m0 283v22m10-832v47m0 80v37m0 319v44m0 259v24m0 22v5m10-837v164m0 36v35m0 575v12m0 10v5m10-837v88m0 76v71m0 248v44m0 272v11m10-810v4m0 160v36m10-200v47m0 41v39m0 37v36m10-153v41m10 0v39m30-123v43m0 681v15m20-739v84m0 76v36m0 528v15m10-739v84m10-84v84m0 39v37m10 594v15m20-30v30m10-769v43m0 664v17m10 0v15m20-15v15m10-696v41m10 39v37m0 547v17m10-728v4m0 43v41m0 39v37m10 547v17m20-728v4m0 724v15m10-50v18m20-707v43m0 41v39m30-123v43m0 41v39m0 37v36m0 511v17m20-724v43m0 41v39m10-39v39m0 37v36m10-200v4m60 724v15m20-743v4m0 707v17m10-724v43m10 696v15m20-47v17m20-728v164m10 579v15m10-754v123m0 37v36m10-153v41m30-88v47m0 117v36m20-153v41m20-88v4m0 724v15m10-32v17m10-728v4m0 43v41m0 39v37m20-164v4m0 43v41m0 39v37m20-164v4m0 43v117"/>
<path stroke="#00ffa0" stroke-width="10" d="M985 6330v45m40-45v45m10 171v20m70-262v26m20 0v45m40 171v20m60-474v35m0 419v20m10-474v35m20 0v33m0 61v57m0 268v20m20-20v20m10-474v35m20 33v31m40-99v35m60 151v26m10 26v45m0 171v20m10-20v20m30-262v26m30 0v45m20 127v23m20 21v20m10 19v35m10-316v26m0 195v21m20 20v37m10-78v21m10-21v21m10-242v26m20 216v20m10-41v21m10-216v45m20 191v19m10-255v45m0 171v20m20-20v20m20-20v20m10 0v37m10-299v26m10 236v19m50-39v20m30-262v26m10 255v18m30-37v19m20-281v26m30-109v29m10-29v29m290 275v21m100-216v45m10-125v28m50 247v21m60 0v20m70-288v26m10 242v20m10-147v29m50 172v15m20-305v45m0 191v19m60-166v29m70-29v29m50-29v29m0 172v15m10-187v28m20 159v15m20-202v28m10-28v28m60 144v15m10-187v28m20 159v15m10-174v26m0 118v15m20 0v15m10-231v29m40-29v29m10 172v15m10 0v15m20-47v17m300 0v30"/>
<path stroke="#00ff20" stroke-width="10" d="M985 6375v44m100-44v44m50 106v21m60-171v44m0 106v21m10-44v23m10-275v28m0 224v23m10-334v30m10-94v64m10 334v21m20-355v30m10 29v28m20 224v23m10-304v29m0 252v23m10-334v59m10 275v21m10-70v26m10-311v30m10 281v23m10-365v61m10-94v94m0 281v23m10-334v59m20 54v26m20 195v21m10-216v45m0 127v23m40 0v21m10-44v44m30-216v45m10-45v45m0 150v21m40-21v21m10-216v45m0 127v23m10-195v45m0 127v23m10-195v45m0 101v26m20-172v45m0 150v21m10-216v45m0 127v23m10-150v44m0 106v21m30-171v44m20-89v45m10-45v45m60 210v18m60-273v45m0 191v19m10-255v45m20 191v19m30-255v45m100 127v23m180-304v29m30-29v29m80 252v23m30-304v29m30 275v21m20-216v45m90-45v45m40 171v20m30-236v45m20-45v45m0 191v19m20-137v28m10-57v29m10 77v21m10-171v73m30 0v28m20-28v28m20 26v23m30 95v15m20-133v23m10-77v28m0 144v15m10-32v17m10-17v17m20-17v17m10-118v23m0 78v17m10-144v26m20-26v26m10-26v26m0 118v15m10-187v54m0 101v17m10-118v23m10-23v23m10-49v26m10 0v23m10 0v21m10-98v28m0 127v17m20-95v21m0 57v17m10 15v15m10 0v15m10-140v21m0 74v15m20-159v26m0 118v15m10-15v15m10-159v26m10-26v26m20 0v23m10-49v26m10-26v26m0 101v17m10 0v15m10-159v26"/>
<path stroke="#46ff00" stroke-width="10" d="M985 6419v29m0 54v23m30 0v21m10-171v44m0 106v21m10-216v45m10 0v44m10-44v73m10-73v44m10 127v20m20-41v21m10 0v20m20-41v21m10-171v44m10 83v23m10-150v44m0 106v21m20-21v21m20-127v29m30 54v23m10-275v28m0 247v21m50-296v28m40-28v28m30 198v26m30-26v26m30-83v29m0 28v26m10 0v23m10-77v28m10-57v57m10-146v45m10 127v23m20-106v83m10-26v26m10-172v45m0 73v28m10-101v44m0 57v26m10-127v44m10-89v45m0 150v21m10-171v44m0 57v26m10 0v23m10-23v23m10-150v44m10 0v29m10-73v73m10-73v44m0 57v26m10-83v57m10-28v28m20-101v44m0 106v21m10-127v29m0 77v21m30-171v44m0 83v23m10-150v44m0 83v23m10-150v101m10-146v45m10 0v44m20 106v21m40-21v21m40 20v19m10-19v19m50-19v19m20-60v21m40-296v28m10-57v57m20-28v28m10-57v29m10 0v28m10-57v29m20-29v57m0 224v23m20-304v57m20-28v28m10-28v28m10-28v28m40-57v57m20-57v57m30-57v29m20 0v28m40-28v28m70 97v44m10-44v44m10-141v52m30 195v21m30-242v71m10-97v26m20-26v26m40-26v26m0 26v45m20-45v45m10-45v45m60 101v26m10-54v28m60 0v26m10 64v19m10-83v23m10 0v21m0 20v19m10-83v23m0 95v15m10-133v23m20 21v20m0 37v17m10-95v21m20 39v18m10-18v18m10-78v21m10-44v23m0 60v18m10-18v18m10-18v18m10-57v20m0 19v18m20-78v21m0 57v17m50-95v21m0 57v17m10-74v20m10-64v23m0 60v18m10-127v26m10 64v19m20 50v15m10-65v35m20-17v17m10-95v21m0 57v17m10-95v21m0 39v18m10-18v18m10-78v21m0 39v18m10-78v21m0 39v18m20-101v23m0 60v18m10 0v17m10-95v21m0 39v18"/>
<path stroke="#8cff00" stroke-width="10" d="M985 6448v28m10 26v23m30-106v29m10-73v44m10 106v21m10-98v28m0 70v20m10-147v29m10-29v29m40-29v29m0 54v23m10-106v29m30-29v29m10 54v23m30-77v28m40 26v23m20-49v26m10 0v23m10-49v26m30-252v28m30-28v28m0 170v28m10 0v26m40-252v28m10 170v28m30-57v57m30-101v44m10 57v26m30-54v28m10-57v29m10-29v57m20-101v44m0 83v23m10-77v28m10-57v57m10-146v45m80 73v28m10 26v23m20-106v29m20-29v57m10 0v26m10-127v44m0 83v23m20-106v29m10 54v23m10 41v19m60-39v20m50-20v20m30-41v21m440-242v26m20-26v26m10-26v26m10-26v26m30 0v45m10-45v45m10-71v26m10-52v52m10-26v26m10-26v26m10-52v26m0 26v45m10 44v29m140 98v20m10-41v41m10-41v21m0 20v19m20 18v17m10-95v21m10 0v20m0 19v18m10-18v18m10-57v20m20-20v20m20-20v39m10-60v21m0 20v19m20-39v39m20-39v20m0 19v18m10-57v20m0 19v18m10-37v19m10-39v20m10-20v20m0 37v17m10-74v20m10 0v19m20-60v21m0 20v19m30 18v17m10 0v15m30-89v20m10 19v18m10-57v39m20-39v39m20-39v20m10-41v21m0 20v19m20-39v39"/>
<path stroke="#a9ff00" stroke-width="10" d="M985 6476v26m20-83v29m30 54v23m10-106v29m30 77v21m10-70v26m10-54v28m0 26v23m10-150v44m20 83v23m10-106v29m10 0v54m20-83v29m20 28v26m40-26v26m70-26v26m160-83v29m10 0v28m30-57v29m10-73v44m30 57v26m20-26v26m10-127v44m0 57v26m80-26v26m30-54v54m20-26v26m20-83v29m20 0v54m10-83v83m20 23v21m110 0v20m350-90v26m120 23v21m120-242v26m20 89v29m50 0v28m80 49v21m20 0v20m20-41v21m10 0v39m10-19v19m30-60v21m0 39v18m40-57v20m40 0v19m20-39v20m10 0v37m10-37v37m50-101v23m20 41v19m10-19v19m30-19v37m10-37v19m20-39v39m40-39v20m10 0v19"/>
<path stroke="#00ff40" stroke-width="10" d="M985 6525v21m20 0v20m10-236v45m50 191v19m20-39v20m10-20v20m10-236v45m20 171v20m10-236v45m10 150v21m20-216v45m10-45v45m10 191v19m20-364v29m0 275v21m10-21v21m10-419v64m20 0v87m10 224v23m10-398v64m10-31v90m0 275v21m10-355v30m0 281v23m20-334v30m0 304v21m20-419v94m10-30v30m0 281v23m10-398v64m10 0v59m10-123v33m0 342v23m10-433v35m30 398v21m10-21v21m30-21v21m10-44v23m10 0v21m40-242v26m30 216v20m30-262v26m80 216v20m20-41v21m40-216v45m20 127v23m50-221v26m10-26v26m10 0v45m40-45v45m20-45v45m10 191v19m20-255v45m40-125v28m20 224v23m60-49v26m90-281v29m10 252v23m30-304v29m180 54v26m170-52v52m10-26v26m20 0v45m60 228v17m40-172v28m20-28v28m0 127v17m10-144v26m10 133v15m10-202v28m10 0v26m10 0v23m10-49v26m20-26v26m10-26v26m10-26v26m0 118v15m10-187v28m20-28v28m10 26v23m10-77v28m0 144v15m10-187v28m20 0v26m0 133v15m10-174v26m0 133v15m10-47v17m10-144v26m0 118v15m10-133v23m50-49v26m20 23v21m0 57v17m10-172v28m10 0v26m20-54v28m10 0v26m10-26v26m30 0v23"/>
<path stroke="#00ffff" stroke-width="10" d="M985 6546v20m40 0v19m40 0v18m20-325v26m10-113v59m0 316v19m10-364v29m50 316v19m30 0v18m20-443v31m10 355v20m80-406v31m20-64v33m20 365v21m100 0v20m20-41v21m60 0v20m10 0v19m20-19v19m10-281v26m0 273v17m10-17v17m10-54v19m10-19v19m10-60v21m10 20v37m10-37v19m10-281v26m0 216v39m10-19v37m20 17v15m30-50v35m20-35v35m20-54v19m40-335v28m10-28v28m10-28v28m20-386v4m10 354v54m10-26v26m10-54v28m30-28v28m10-28v54m10-26v26m20-412v4m40-4v4m10-4v4m0 434v45m20-483v4m10-4v4m20-4v47m20-47v88m10-88v4m10 434v45m10 127v23m20-195v45m10-483v4m10 0v123m30-127v4m10 629v21m10-654v4m10-4v4m20-4v4m30 0v84m10-88v88m20-88v4m20-4v47m10-47v4m30-4v47m0 252v30m0 83v26m10-438v47m0 282v29m0 54v26m10 0v45m60-483v4m30-4v47m20-47v47m10-47v47m0 436v44m10-169v28m10 268v20m10-674v88m30-88v47m10 436v44m10-115v26m20 45v44m10-44v73m0 137v18m50-273v45m0 228v17m30 0v15m20-15v15m20 0v15m10-231v29m10 202v15m50-246v29m10 187v15m10-231v29m40-29v29m0 202v15m80-15v15m30 13v13m40-272v29m0 202v15m10-30v15m20-15v15m10-15v15m10-15v15m10-15v15m20-15v15m10-202v28m0 159v15m70 52v12m20 10v5m140-126v17m0 45v13m10 13v11m10-11v23m40-49v49m10-23v11m10-67v56m170-71v109"/>
<path stroke="#0060ff" stroke-width="10" d="M985 6566v19m10-689v43m10 646v18m10-664v41m0 270v54m0 398v12m10-818v43m10-43v43m0 41v39m0 683v22m10-446v52m0 305v15m10-758v4m10 408v26m10 384v10m30-832v4m0 43v41m0 744v5m10-425v26m20-26v26m0 236v19m10-281v26m0 236v19m10-689v43m0 365v26m10-26v26m10-52v26m0 398v12m50-818v43m10 41v76m0 510v19m0 106v23m0 10v5m10-673v36m0 474v19m20-693v47m0 80v73m10-200v4m0 160v36m30 454v20m10-627v41m10-84v84m20-88v4m0 43v41m10 76v36m20-196v43m10-47v4m0 43v41m0 112v68m20 0v31m20 375v19m10-281v26m10 236v19m50-693v4m10 382v26m10 262v19m0 18v17m10 0v15m10-739v123m0 616v15m0 74v5m10-451v26m10-26v26m10-408v43m0 41v39m0 202v29m0 400v15m0 26v33m10-446v26m10-26v26m0 299v17m20-342v26m10 316v15m30-739v43m0 339v26m30-408v123m0 695v10m10-446v26m20-26v26m10-412v47m0 41v39m0 202v29m10 28v26m0 299v17m10-728v4m0 43v41m0 655v15m10-47v17m10-601v73m10-73v37m10 0v36m10-112v39m10-39v39m0 202v29m10-194v71m0 597v5m10-673v36m10-112v39m0 202v29m10-29v29m20-29v29m10-270v39m0 37v71m10-147v39m10 0v37m0 36v35m20-35v35m10-147v39m20-39v39m10 0v108m10 375v23m10-545v39m10 0v37m0 469v21m10-527v73m0 622v10m10-705v37m10-37v37m0 36v35m0 458v18m0 99v12m20-695v73m20-112v39m0 483v23m10-545v39m20 0v73m10-73v37m10 71v33m0 542v22m10-705v37m0 469v21m10-566v39m10 0v108m20-108v73m10-36v36m10-73v37m0 490v20m10-510v36m10-112v39m0 311v45m10-395v112m10 186v26m0 26v45m0 171v20m10-510v71m0 587v15m20-749v76m10-76v39m10 0v37m10-37v37m10-76v39m10-39v76m10 36v35m0 151v26m0 198v23m0 60v18m0 121v5m10-710v37m0 564v15m10-655v39m0 202v29m0 275v21m10-566v147m10-71v71m20-108v37m0 36v35m0 597v5m10-749v39m10 37v36m10 474v19m10-210v44m10-363v71m0 458v18m10-476v33m0 215v44m10-400v37m0 510v19m10-605v76m0 36v35m10-147v112m0 454v20m10-547v73m0 283v44m10-327v68m0 406v19m0 18v17m0 58v13m10-672v37m0 319v44m20-400v37m0 36v35m10-147v39m0 231v28m10-259v73m10-112v39m0 285v26m0 255v18m10-584v73m0 186v26m0 346v15m60-685v39m0 616v30m10-290v44m10 231v15m10 0v13m0 13v11m10-37v26m10-316v44m10-527v127m0 356v44m10-44v44m0 305v5m60-51v13m20-795v43m0 436v44m0 259v24m10-37v13m10-303v44m0 259v13m10-13v13m10 0v23m10-23v23m10-23v11m10-11v11m0 12v15m10-5v5m10-354v44m0 246v13m10 0v24m10-37v13m10-786v4m0 479v44m0 283v27m10-837v88m10 685v13m10 46v5m10-837v47m0 41v39m10 659v13m10-41v28m10-786v4m0 479v44m0 283v12m0 10v5m10-15v10m10-349v44m0 259v13m10-316v44m20 259v13m30-13v13m10-795v43m0 436v44m0 272v11m10-11v38m40-109v30m0 52v12m20-79v30m0 13v36m40 10v5m10-109v15m10 56v11m0 22v5m20-38v23m0 10v5m10-64v26m20-71v15m40 0v15m0 64v10m60-59v13m0 46v5m60-109v15m20 15v74m10-89v15m0 15v49m0 10v5m10-109v15m20 15v64m20-94v15m20 15v52m0 12v10m20-59v64m20-79v28m20-58v15m60 15v15m40-30v67m20-67v15m30-30v15m0 15v41m0 11v27"/>
<path stroke="#2d0056" stroke-width="10" d="M985 6650v28m270-93v18m0 17v30m0 28v24m0 12v10m30-104v15m10 56v11m330-575v33m40 61v29m0 415v13m80-13v13m0 36v10m180-564v31m0 412v17m0 15v67m0 12v10m90-139v18m170 17v30m380-400v28m0 52v45m10-71v26m10-26v26m30-80v28m10 26v26m20-139v30m0 109v45m20-125v54m10-83v29m0 28v26m0 26v45m10-125v28m10-57v57m0 52v45m20-184v59m10-29v29m20 28v26m10-83v29m10-29v57m30 0v26m0 26v45m10-154v109m10-52v26m0 26v45m20-71v26m10-109v29m0 28v97m20-97v26m20-113v30m10 29v28m0 26v26m10-26v26m30-109v29m0 28v26m10 0v26m10 0v45m10-125v28m10 52v45m10-45v45m10-154v29m0 28v26m0 26v45m20-97v26m10 0v26m10-109v109m10-109v29m0 80v45m0 44v57m0 26v23m0 41v19m0 18v17m10-370v54m0 71v44m0 29v28m0 49v41m10-345v29m0 54v26m0 146v49m0 41v19m10-364v29m0 28v97m0 73v28m0 109v18m10-382v57m0 141v83m0 23v21m0 20v19m10-425v31m0 139v45m0 101v26m0 64v19m10-137v28m0 70v20m10-288v97m0 44v29m0 28v49m0 21v20m10-262v26m0 236v19m10-364v29m10-29v29m0 80v45m0 101v26m0 44v20m0 19v18m10-443v61m0 382v17m10-370v80m0 89v29m0 28v26m0 23v21m10-355v30m0 382v17m10-399v57m0 268v57m10-273v89m0 106v21m0 20v19m10-307v26m0 26v89m0 29v28m0 90v37m10-382v29m0 54v71m0 44v29m0 98v20m10-316v28m0 26v26m0 118v28m0 26v23m10-334v87m0 97v44m0 29v28m0 90v19m10-19v19m10-364v57m0 26v26m0 89v29m0 54v64m0 37v17m10-399v29m0 28v52m0 45v44m0 57v49m10-304v29m0 28v26m0 172v26m0 23v21m10-325v29m0 80v118m0 77v21m10-325v29m0 252v44m0 20v37m10-476v33m0 31v30m10 83v26m0 45v44m0 57v49m10-304v29m0 125v44m0 57v49m0 21v20m10-345v83m0 26v118m0 54v23m10-334v30m0 57v52m0 45v127m0 23v21m0 20v19m10-364v29m0 125v44m0 83v23m0 21v20m10-262v115m0 83v23m10-150v73m0 28v26m10-311v30m10 382v17m10-429v59m0 54v26m0 118v28m10-172v26m0 45v127m0 44v57m20-353v28m0 141v57m0 70v20m10-345v29m0 28v26m0 71v73m0 28v26m0 23v41m10 19v18m20-353v125m0 150v21m0 20v19m10-425v61m10 154v73m0 28v49m0 78v17m10-429v59m0 80v45m0 191v54m20-316v198m0 83v18m10-353v54m0 26v172m0 23v60m10-210v44m0 29v77m0 78v17m10-172v28m0 26v23m10-334v30m0 83v115m0 106v21m0 39v18m10-325v26m0 26v45m0 127v23m10-150v44m0 29v28m0 49v21m10-296v252m0 83v35m10-370v54m0 144v28m0 26v23m0 21v20m10-64v64m10-375v59m0 169v29m10 54v23m10-247v26m0 115v29m0 54v23m0 21v20m0 54v15m10-385v54m0 115v29m10-144v115m0 57v70m0 39v18m10-412v59"/>
<path stroke="#0040ff" stroke-width="10" d="M995 5892v4m0 43v80m0 259v26m0 299v17m0 71v11m0 12v10m10-832v127m0 659v13m10-799v47m0 646v18m10-711v4m0 84v39m0 616v15m0 74v5m10-837v4m0 43v41m0 270v28m0 325v17m0 30v52m0 22v5m10-837v47m0 664v17m0 94v10m10-828v123m0 259v26m0 316v15m10-743v88m0 270v54m0 299v17m0 58v13m10-799v47m0 41v39m0 231v28m0 26v26m0 273v17m0 30v15m0 37v12m10-775v41m10-88v4m0 689v18m10-623v39m0 601v82m20-806v123m0 285v26m30-438v4m0 43v41m0 605v18m0 111v10m10-832v4m10-4v127m0 231v28m0 413v11m0 22v5m10-790v41m10 324v26m20-438v4m0 196v35m10-147v39m0 695v10m10-121v32m0 15v41m0 23v10m10-832v4m0 84v39m20-80v41m0 640v15m0 43v13m0 23v10m20-828v43m10 153v68m10-268v4m10-4v47m0 41v39m0 37v36m0 543v15m10-758v4m0 84v76m10-164v4m10 0v43m0 41v39m10-127v4m10-4v4m0 43v80m0 683v12m10-775v117m0 529v18m0 88v11m10-806v43m0 117v36m0 454v20m10-670v43m0 41v39m10-127v47m0 627v19m10-281v26m10-438v4m0 43v41m0 670v15m0 37v22m20-828v43m10 0v41m0 298v26m10-412v127m0 259v26m0 410v10m10-832v4m0 408v26m20-434v123m0 259v26m0 387v11m10-810v88m0 270v28m0 424v22m10-828v43m0 41v39m0 566v18m10-707v43m0 339v26m10-83v29m0 415v13m0 24v22m10-832v47m0 311v28m10-386v127m0 231v28m0 372v15m10-773v4m0 43v41m0 655v15m0 15v26m10-799v4m0 354v28m10-28v28m10 0v26m0 299v17m10-728v127m0 231v28m10 0v26m10-26v26m10 0v26m10-80v28m10-386v4m0 382v52m0 320v15m10-361v26m10-438v4m0 354v28m0 357v15m0 52v12m0 10v5m10-749v39m10-127v47m0 311v28m0 357v15m10-758v4m0 354v28m10-339v41m0 39v37m0 594v15m0 26v11m0 22v5m10-837v4m0 354v28m10-57v29m0 464v15m10-451v26m10-212v68m0 505v13m0 13v11m10-722v39m0 566v18m10-623v76m0 668v5m10-710v73m10-36v36m0 511v17m10-493v33m0 443v17m0 30v28m0 13v33m10-744v76m20-37v108m10-147v76m0 165v29m10-231v73m10-73v37m0 622v13m10-672v108m0 476v17m10-564v36m0 586v13m10-711v39m10 0v37m0 579v15m0 64v10m10-139v18m10-78v21m10-527v73m0 610v12m10-587v33m0 365v21m0 104v28m0 24v12m0 10v5m10-710v108m0 575v12m10-658v36m10-36v71m10-35v35m0 575v12m10-658v71m0 587v10m10-668v36m0 511v17m0 45v13m0 36v10m20-632v68m0 406v19m0 65v28m0 13v11m10-683v141m10-141v37m0 36v35m0 575v12m20-695v108m0 575v12m10-622v35m0 597v5m10-673v71m0 523v15m0 26v11m0 12v15m10-163v19m0 65v28m0 13v11m0 22v5m10-673v36m0 35v33m10-141v73m10 433v21m0 168v10m10-705v37m10 36v68m10-141v37m0 36v35m0 597v5m10-637v35m10-35v35m10-71v36m20 0v68m0 490v41m0 33v5m10-204v21m0 20v19m0 18v17m0 15v30m0 26v23m10-734v76m10 36v35m10-108v37m10 0v36m0 35v33m10-104v71m10-108v73m0 632v5m20-673v36m0 35v33m0 406v19m10-493v35m0 439v19m0 117v12m10-695v73m10 454v20m10-547v37m0 71v33m10-180v39m10 37v36m0 558v15m10-646v108m0 419v20m0 148v10m10-744v76m0 36v68m10 215v44m10-400v73m0 158v28m10-118v31m0 523v10m10-705v108m10-71v104m0 90v28m0 387v13m0 13v38m10-673v36m0 35v64m0 429v30m0 52v27m10-637v35m10-35v68m0 406v19m0 129v10m10-668v36m0 493v18m0 17v15m0 79v15m20-710v141m0 542v12m10-658v36m0 35v64m0 444v56m0 11v12m0 10v5m10-710v73m0 35v33m0 406v19m0 139v5m10-602v33m0 554v10m10 0v5m10-602v33m0 144v26m0 290v15m0 30v13m10-659v73m0 511v17m10-640v180m10-141v37m10-37v108m0 493v15m10-655v76m0 547v32m10-579v36m0 573v49m10-822v88m0 350v45m0 260v30m10-290v44m10 259v13m0 23v10m10-828v84m0 395v44m0 283v22m10-59v13m10-659v141m10-268v127m0 695v10m10-832v4m0 479v44m0 283v12m10-23v11m0 12v10m10-349v44m10-527v235m10 248v44m10-480v41m0 722v12m10-734v39m0 356v44m0 295v10m10-832v4m0 806v22m10-46v13m10-799v4m0 806v27m10-38v11m10-810v47m0 117v36m0 35v33m0 215v44m0 305v5m10-790v80m0 356v44m0 295v10m10-832v4m0 479v44m0 259v13m0 33v5m10-837v88m0 76v36m0 327v29m0 254v12m10-818v196m0 283v44m0 272v11m10-24v13m0 11v27m10-27v12m0 10v5m20-833v43m0 41v76m0 622v13m10-711v180m20-268v4m0 43v41m0 76v36m0 327v29m0 266v10m10-785v41m0 39v73m0 283v44m10 0v29m0 243v11m20-806v84m0 39v37m0 635v11m0 12v10m10-832v47m0 117v36m0 599v11m0 22v5m10-5v5m10-27v22m10-349v44m0 259v13m0 11v12m10-23v11m0 22v5m10-27v22m10-349v44m0 259v24m0 12v10m10-22v27m10-790v80m0 659v13m0 11v12m0 10v5m10-790v41m0 395v44m30 201v15m40-743v4m30 739v15m0 15v59m20-59v26m0 11v22m20-89v56m0 23v10m130-104v45m0 13v46m50-139v18m30 32v15m10 0v15m30-30v15m40-15v15m20-30v45m30-773v4m0 123v37m0 547v17m40-681v41m10 640v15m20-15v15m30-739v43m0 681v15"/>
<path stroke="#00c0ff" stroke-width="10" d="M995 6304v26m20-26v26m40 273v17m20-35v18m10-382v29m20-59v30m210-129v35m20-71v36m70 129v29m60 54v26m50-26v26m10-26v26m0 273v17m10-370v54m80 0v26m80-26v26m0 290v15m10-331v26m10 290v15m40-32v17m10-728v47m10-47v47m10-47v47m0 282v29m10-358v4m20-4v47m10-47v47m10-47v47m0 664v17m10-370v28m20-382v84m0 605v18m10-711v47m10 0v41m0 623v17m10-399v29m0 54v26m10-26v26m0 255v18m10-711v47m20 0v41m30-88v88m0 522v23m20-23v23m10-586v41m30 350v45m20-436v41m10-88v88m10 350v45m10-436v41m20 298v26m0 242v20m10-627v41m10-41v41m20-84v84m20 0v39m10-80v41m0 241v29m10-311v41m0 350v45m30-395v39m20-123v43m0 391v45m10-436v41m10-88v47m20 391v45m10-436v41m0 350v45m10-436v41m0 350v45m0 127v23m30-629v43m10 0v41m0 270v28m0 97v44m20-527v4m0 650v20m10-316v28m20-28v28m10-386v88m10 566v20m20-586v39m0 547v19m40-646v41m20-41v41m30-84v84m10-84v84m0 298v26m10-412v47m0 436v44m10-480v41m10-88v4m10-4v47m10 537v26m10-610v4m20 479v44m0 201v15m40 15v15m20 13v13m10-41v15m10 0v13m10-13v13m20 0v13m0 23v10m20-74v15m10 0v13m10-28v15m30-15v15m10 0v13m10-13v13m30 0v13m10-56v15m10-231v29m20 202v15m10-290v44m0 246v26m0 23v10m20-59v26m20-41v15m10-30v15m10 15v13m10-13v13m10-28v15m10-15v15m10-15v15m10-15v15m10-15v15m30-15v15m20 37v27m10-5v5m50-94v30m0 26v11m0 12v10m10-46v13m0 11v12m10-79v15m0 52v12m40-49v13m0 13v38m30-5v5m20-5v5m10-94v15m0 41v38m30-51v36m10-23v11m0 12v10m10 0v5m10-109v15m30-15v15m0 67v12m0 10v5m10-109v15m10-50v18m0 121v5m10-109v15m0 67v12m0 10v5m10-126v121m60-10v10m20-104v82m0 12v10m10-46v13m0 11v22m30-104v15m0 43v51m20-94v30m0 37v12m0 10v5m40-64v13m0 13v11m20-67v79m0 10v5m20-51v13m20-13v13m10 11v12m0 10v5m10-79v28m0 13v11m20-67v15m0 28v36m0 10v5m20-94v30m0 13v46"/>
<path stroke="#00ff00" stroke-width="10" d="M995 6330v45m0 150v21m50 0v20m70-41v21m30-171v44m40-44v44m40-198v29m0 275v21m10-355v30m0 325v20m10-64v23m20-304v29m0 296v20m10-64v23m10-49v26m30 23v21m10-325v29m20-29v29m0 275v21m20-325v29m10-29v29m10 252v23m10-49v26m20 0v23m10-195v45m20 0v44m0 83v23m40-150v44m20 57v26m40-172v45m0 127v23m10 0v21m30-70v26m20-172v45m0 127v23m30-106v29m10-118v45m10 0v44m0 127v20m10-118v28m20 49v21m20-21v21m20-216v45m30-45v45m40 191v19m120-83v23m50-304v57m40-28v28m10-57v57m40-28v28m20 198v26m40-252v28m20-28v28m30 247v21m20-296v28m40-57v57m20-57v57m10-57v29m70 80v45m20-97v26m60-26v26m40 26v45m30-97v26m20 26v45m80 127v23m10-77v28m40 0v26m0 83v18m10-127v26m10 83v18m10-155v28m10 0v26m0 101v17m10-118v23m10 0v21m0 74v15m10-32v17m20-118v23m10-23v23m10-23v23m30-23v23m0 78v17m30-118v23m60 78v17m20-201v29m0 155v17m20-118v44m10-44v23m20 60v18m20-101v23m10-23v23m0 78v17m10-17v17m10-118v23m0 78v17m10-17v17m10-17v17m20-95v21m10-44v23m0 78v17"/>
<path stroke="#69ff00" stroke-width="10" d="M995 6375v44m10-44v44m0 106v21m10-171v44m50 127v20m20-118v28m0 49v21m10-127v29m40 54v23m10-106v29m30-73v44m10 29v28m0 70v20m10-64v23m10-49v26m10-26v26m110-26v26m20-252v28m20 170v28m10-28v28m30 0v26m10-54v28m10-101v44m0 57v26m10-83v29m20 0v28m10-101v44m10 0v83m20-127v44m30 0v83m20-83v29m10-73v44m20 0v57m10-28v28m20-57v57m10 0v26m30-83v29m0 54v23m10-77v54m20-127v44m0 83v23m10-106v83m40-83v57m10-101v44m0 83v23m10-150v44m30 106v21m70 0v20m90-90v26m10-281v29m40 0v28m0 198v26m110-252v28m100 198v26m10-252v28m10-57v57m20 198v26m100-224v26m0 221v21m20-268v26m10-26v26m10-26v26m10 242v20m10-262v26m10-26v26m10-26v26m10-52v26m0 26v45m20-97v26m40 242v20m120-20v20m10-64v23m10-23v23m20 21v20m20 19v18m10-78v21m0 57v17m10-54v19m10-19v19m10-83v23m0 78v17m10-95v21m0 20v19m10-39v39m10 0v18m20-57v39m10-60v21m10 20v19m10-60v21m20-21v21m10 57v17m20-95v21m0 20v19m10-39v20m0 19v18m10-37v19m20 0v18m20-57v20m10-20v20m10 0v19m20-60v21m10 0v20m20-41v21m20 0v39m10-60v21m0 20v37m20-57v20m0 19v18"/>
<path stroke="#c6ff00" stroke-width="10" d="M995 6419v29m20-29v29m0 54v23m10-23v23m40-77v28m0 49v21m40-127v29m10 0v28m10-28v28m10-28v54m20 0v23m20-23v23m10 0v21m10-70v26m50-26v26m10-224v26m60 172v26m150-83v29m70-29v57m30-57v57m150-28v54m70 0v23m10 21v20m10-20v20m20-20v20m30-41v21m30 0v20m80-90v26m120-26v26m130-26v26m40 0v23m160 21v20m80 0v19m20-19v19m10-137v28m70 0v26m10-26v26m190 64v19m70-39v20m10 0v19m20 0v18m10-18v35"/>
<path stroke="#ffff00" stroke-width="10" d="M995 6448v28m30 0v26m10-26v26m10 0v23m10-23v44m10-70v26m10-26v49m90-49v26m50-224v26m90 144v28m100-57v57m650 0v26m400 23v21m90 20v19m20-39v20m90 0v19m220-39v20"/>
<path stroke="#e2ff00" stroke-width="10" d="M995 6476v26m10-54v28m0 26v23m20-77v28m10-57v29m10 0v28m10 0v26m20-54v28m10 26v23m10-49v26m10 23v21m10-70v26m10-26v26m30-54v28m10-28v28m10-57v29m10 54v23m20-247v26m80 144v28m10-198v26m70-54v28m20 170v28m10-198v26m10 26v45m370 127v23m60 21v20m60-64v23m10-23v23m20-49v26m210 0v23m140-49v26m10-26v26m10-54v28m100 49v21m210-44v23m50 21v20m0 19v18m50-57v39m170-60v21"/>
<path stroke="#00ffc0" stroke-width="10" d="M995 6546v20m50 0v19m40-19v19m10-307v52m10-52v26m10 242v20m80-236v45m0 171v20m20-406v31m50-99v35m10-35v35m80-35v35m40 33v31m0 334v21m10 0v20m70-20v20m70-20v20m10 0v19m20-281v26m10-26v26m20-26v26m40 236v19m10 0v18m20-37v37m20-37v19m20-281v26m0 273v17m10-95v21m10 39v18m40-325v26m20 0v26m0 255v18m10-18v18m20-299v26m10-26v26m20-26v26m30-80v28m0 26v26m10-80v28m0 52v45m0 191v19m10-19v19m20-83v23m140-23v23m60-23v23m20-23v23m100-23v23m140-106v29m110-73v44m10-115v26m50 236v19m40 0v18m10-18v18m50 47v15m20-30v15m10-202v28m20 159v15m40-30v15m40-216v29m20 172v15m30-15v15m10 0v15m10-202v28m10 144v15m10 0v15m10-202v28m20 189v13m30-259v29m40-29v29m60 54v23m0 95v15m230 0v15m10-15v15m0 15v13m60-75v17m0 30v28"/>
<path stroke="#0080ff" stroke-width="10" d="M995 6566v19m10-307v52m20-26v26m60 255v18m20-707v43m0 763v22m70-10v10m10-121v17m30-493v33m10-104v36m10-200v88m140-88v4m10 84v39m30 547v19m70-19v19m50-693v4m10 707v17m10 0v15m10-15v15m0 89v5m10-126v17m50-17v17m30 15v15m20-372v26m10 316v15m20-15v15m10-385v28m40-57v29m20 316v19m10-19v19m20-566v37m0 165v29m10-29v29m10 353v17m10-640v39m10-80v41m10-41v41m0 605v18m10-382v29m10-29v29m10-29v29m10 28v26m10-324v39m0 37v36m0 186v26m10 262v19m10-689v84m0 350v45m10 127v23m10 189v10m10-744v39m20-39v39m10-39v39m10-39v39m0 311v45m0 150v21m10-566v39m0 483v23m30 0v21m30-566v39m10-39v39m0 483v23m10-545v39m10 37v71m10-147v39m20-39v39m0 705v5m20-749v39m30 506v21m30-527v73m10-112v76m30 274v45m10-45v45m10-395v39m0 506v21m30-566v39m0 672v11m40-722v39m0 356v44m20-439v39m0 356v44m20-44v44m0 127v20m20-586v39m10 0v37m0 363v29m50-468v39m10 0v37m10-76v39m0 547v19m10-605v39m30 584v17m10-342v26m10-324v39m0 73v35m0 476v17m10-640v39m20-127v127m10-39v39m10-123v84m0 605v18m10-707v84m10 640v15m20-260v44m0 231v15m20-15v15m10 37v12m10-12v12m10-36v24m10-24v13m10-26v26m10-316v44m0 283v12m0 10v5m10-64v13m20 0v24m10-37v13m30-13v13m30-13v13m20-259v29m0 254v22m40-59v13m0 13v11m10 0v12m0 10v5m10-79v15m10 26v11m10-283v29m10 217v13m10-259v29m10 230v13m10-13v13m20-26v13m10-13v13m10-13v13m20-13v13m30 0v13m20-56v30m10-30v30m10-15v41m0 23v15m10-94v30m0 49v10m10-59v13m0 36v15m20-144v18m0 32v15m30 0v28m20-58v15m20 0v30m0 26v23m0 10v5m10-94v43m0 24v12m30-94v15m10-15v30m0 15v49m10-94v15m0 15v15m0 13v36m0 10v5m30-109v15m90 0v79m0 10v5m10-94v56m0 33v5m10-5v5m10-15v10m10-89v43m0 13v11m0 12v10m10 0v5m10-15v15m30-79v64m10-12v12m0 10v5m40-51v24m0 12v15m20-64v13m0 13v11m10-82v30m10-15v15m0 41v11m10-82v15m10 0v15m0 28v13m0 11v22m10-104v15m0 15v28m0 13v11m10-67v15m0 15v49m0 10v5m10-94v15m30 52v27m20-79v15m0 13v13m0 11v22m20-104v45m0 13v13m10-56v15m0 41v11"/>
<path stroke="#00ff60" stroke-width="10" d="M1005 6330v45m10 171v20m10-20v20m70-236v45m10 191v19m50-39v20m20-20v20m30-375v30m10-30v59m30-90v31m0 355v20m30-439v33m10-33v64m0 30v29m0 275v21m10-21v21m40-419v64m0 30v29m20-123v64m0 334v21m10-454v35m20 398v21m10-355v59m0 252v23m40 0v21m40-216v45m20 150v21m20-21v21m120 0v20m40-20v20m20-20v20m20-20v20m20-20v20m10-20v20m20-262v26m40-26v26m30 255v18m10-273v45m50 171v20m10-316v28m10-28v28m10-57v29m90 226v26m100-26v26m70 0v23m130-23v23m50-195v45m40 191v19m30-60v21m10-21v21m20 0v20m60-147v29m10-29v29m30-73v44m20 0v29m10-29v29m20 137v18m10 0v17m10-201v29m10 155v17m20 0v15m10-187v28m10 0v26m10-54v28m10-57v29m10 0v28m20-28v28m10-57v29m10 28v26m20-26v26m0 118v15m60-187v28m30-57v29m20 54v23m10-49v26m20 0v23m10-23v23m30-77v28m40-28v28m10-57v57m10 0v26m10-54v28m10 90v37"/>
<path stroke="#ffe500" stroke-width="10" d="M1005 6476v26m10-54v54m20-54v28m10 0v26m20 0v23m40-77v28m0 26v23m50-49v26m20-54v54m30-54v28m30 0v26m10-224v26m10 144v28m500 70v20m10-236v45m50 150v21m50-21v21m60-171v44m230 83v23m190-106v29m150 0v28m20-28v28m60 49v21m30-21v21"/>
<path stroke="#00ffdf" stroke-width="10" d="M1005 6566v19m70-255v45m10-71v26m10-80v28m10-28v28m30 268v20m10-20v20m100-474v35m20 439v19m80-39v20m30-510v36m70 454v20m20-20v20m20-20v20m50-262v26m20 255v18m20-57v20m30-20v20m40 19v35m10-17v17m20-17v17m10-54v19m10 0v35m10-54v19m20-39v20m10-262v26m0 273v17m10-54v19m10-335v54m10-26v26m0 262v19m20-307v26m20-54v54m20-54v28m20 26v26m20-52v26m10 281v18m40-78v21m70-216v45m20-45v45m90-483v4m60 629v21m50-654v4m10 434v45m80-125v28m0 198v26m10-252v28m60-28v28m0 97v44m50 0v29m20-198v28m60 307v18m10-325v26m10 71v44m40-44v44m80 201v15m20-216v29m0 217v13m40-259v29m10 202v15m20-246v29m0 187v15m10-15v15m40-15v15m10-15v15m30 0v15m10-15v15m70-15v15m20-217v28m10-28v28m10 159v15m50-231v29m50 28v26m230 118v15m0 15v15m10-15v15m0 13v13m10-56v56m40-56v30m10 13v13"/>
<path stroke="#00dfff" stroke-width="10" d="M1015 6566v19m20-281v26m30 0v45m20-125v28m20 307v18m20-37v19m50-19v19m30-39v20m50-474v35m70 419v20m30-20v20m10-510v36m0 433v21m40-296v28m90 26v26m0 216v20m40 54v15m10-50v18m20-325v26m10 281v18m10-57v20m0 19v18m10-57v39m20 0v35m10-35v18m10 0v17m10 0v15m20-69v54m10-316v26m0 290v15m10-331v26m40 255v18m20-18v18m10-711v88m20 241v29m20 0v54m10-408v84m10 605v18m20-325v26m10-26v26m0 281v18m10-353v54m10-412v4m20-4v47m20-43v84m10 350v45m20-483v47m0 391v45m10-479v84m0 350v45m10-479v84m20-84v84m10-84v84m10-88v47m10 0v41m30-84v84m10-88v47m20-47v88m10-88v47m10-43v84m0 350v45m0 127v23m20-633v47m10-47v47m0 391v45m10-479v84m0 350v45m10-483v4m10 0v84m0 350v45m10-479v84m10-88v47m0 339v26m10-408v43m20-47v88m0 350v45m20 127v23m10-633v4m10 0v43m0 391v45m20-436v41m0 545v21m10-650v84m10-88v47m0 563v23m10-633v47m10 0v41m10-41v41m0 298v26m0 242v20m10-674v4m10-4v47m10-47v88m20-88v88m10-88v88m10-84v84m20-88v88m10-41v80m10-127v88m10-41v41m10-41v41m10-88v88m0 395v44m10-527v47m20-47v47m10-47v88m0 586v19m10-646v80m0 400v29m10-556v4m10-4v4m0 689v18m20-711v47m40 509v28m30 127v17m10 0v15m10 0v15m10-15v15m40 0v15m20-30v15m10 15v13m10-43v15m20 0v15m20-30v15m10-15v15m20 0v15m20-30v15m10 15v13m10-13v13m20-28v15m10-246v29m0 187v15m10-15v15m20-15v15m20-202v28m0 215v11m30-52v15m30-30v15m50 0v15m20-15v15m70 0v26m0 33v5m20-79v52m0 12v10m130-89v43m10 0v13m0 11v12m10-12v22m10-10v15m30-94v67m0 12v10m10-10v15m10-27v22m10-33v11m0 12v10m90-22v12m0 10v5m120-15v10m60-89v15m0 28v13m0 11v27m20-79v28m0 36v10m20-59v13m0 46v5"/>
<path stroke="#23ff00" stroke-width="10" d="M1035 6525v21m20 20v19m20-210v44m10 0v29m10-73v44m20-44v44m10-44v44m40-44v44m0 106v21m20-127v29m20-198v28m20-28v28m10-57v29m30 0v28m0 247v21m40-70v26m10-252v28m0 224v23m10-23v23m20-23v23m10-275v28m10 198v26m10-26v26m20-252v28m10 224v23m10-150v44m20-44v44m0 57v26m10-26v26m10-26v26m10-172v45m10 0v44m0 83v23m20-195v45m0 127v23m20-23v23m10-23v23m30-195v45m20 101v26m10-127v44m10 29v28m20-101v44m0 83v23m10-150v73m0 28v26m10-54v77m30-106v29m0 28v49m10-195v45m0 150v21m20-21v21m10-44v23m10 0v21m10-70v26m10-172v45m0 150v21m30 0v20m40-236v45m0 191v19m50-39v20m10-236v45m10 191v19m60-364v57m20 198v26m20-281v29m20-29v29m0 252v23m40-304v57m0 224v23m10-49v26m10-281v29m10-29v29m10-29v29m10-29v29m10 275v21m10-325v57m10-57v29m40 0v28m10-28v28m10-28v28m0 224v23m20-304v29m10-29v29m30-29v29m20 0v28m10-57v57m10-57v57m10-57v57m20 247v21m30-216v45m10-71v26m10 0v45m20-45v45m0 150v21m10-268v26m10 26v45m80-71v26m60 0v45m0 191v19m20-255v45m40 73v28m0 90v19m20-19v19m20 0v18m20-127v26m40 83v18m10-127v26m20 23v21m10 57v17m10-144v26m10 23v21m20-21v21m0 57v17m10-118v23m0 78v17m20-118v23m0 60v18m10-78v21m0 74v15m10-110v21m0 74v15m10-133v23m0 60v18m20-18v18m10-127v26m10-54v28m10 70v20m0 19v18m10 17v15m10-110v21m10 0v20m10-20v39m10-83v23m30-23v23m30-23v23"/>
<path stroke="#00a0ff" stroke-width="10" d="M1035 6566v19m10 0v18m10-273v45m30-184v30m30 345v19m50-19v19m10-281v26m10 0v45m10 191v19m40-529v36m50-36v36m40-36v36m20-36v36m30 433v21m30-355v30m20 83v26m50 236v19m30-60v21m20 39v18m40-353v28m30 307v18m10 0v17m30 0v15m10-331v26m20 290v15m30-357v26m20-26v26m20-54v54m0 316v15m10-331v26m10-350v39m10-80v41m0 241v29m10-311v41m10-41v41m10-84v84m10 0v39m10-80v41m10-41v41m10-41v41m10-88v47m10-47v47m20 0v41m10 0v39m10-127v88m0 605v18m20-664v41m0 566v20m10-674v4m20 84v39m20 311v45m10-45v45m40-483v88m0 350v45m10-395v39m0 506v21m10-566v39m0 311v45m20-45v45m40-356v37m10 274v45m30-395v39m30-39v39m10-39v39m10-127v88m10 522v23m30-586v41m0 522v23m10-23v23m10-586v41m10 0v39m40 0v37m10-76v39m10-80v41m20 270v28m0 268v20m10-670v84m10 566v20m30-586v39m20 356v44m20-439v39m0 356v44m10 127v20m30-586v39m0 356v44m20-44v44m30-439v39m10-80v41m10 605v18m10-707v84m10-41v41m20-84v84m10-88v4m0 479v44m10-527v4m20 739v15m30-15v15m10 41v11m0 12v15m10-64v37m30-52v15m10 26v11m10-52v15m10 0v13m30-28v15m10-15v28m10-259v29m10 230v13m10-13v13m10-41v15m10 13v13m20-41v15m10 0v13m10-28v15m20 26v11m10-283v29m20 254v27m50-64v13m40-13v13m10-28v15m10-246v29m0 217v13m10-13v13m10-259v29m0 217v13m10-43v67m10-37v59m10-59v64m10-38v11m10-37v49m0 10v5m30-126v32m0 15v28m0 13v11m0 12v15m10-109v15m20 0v15m0 28v51m20-94v30m0 13v13m20 23v10m10-46v24m0 12v10m10-89v94m10-109v104m10-74v41m10-41v15m0 49v15m10-64v13m10 36v15m10-5v5m30-109v109m60-5v5m10-15v10m10-33v33m30-46v13m0 11v12m0 10v5m10-94v79m30-79v43m0 13v11m0 22v5m10-15v15m20-94v43m20-13v37m0 12v10m10-22v12m20-79v30m0 13v13m0 11v27m10-79v15m0 13v13m0 11v27m10-79v41m0 11v27m20-79v28m0 13v11m0 22v5m10-94v15m0 52v27m10-15v10m10-74v28m0 13v38m10-109v82m0 12v10m30-104v15m10 30v13m0 13v11m0 22v5m20-64v13m0 13v38"/>
<path stroke="#00ff80" stroke-width="10" d="M1045 6330v45m10 210v18m20-37v19m10-255v45m30-45v45m30-45v45m10-45v45m90-248v33m10 0v61m0 304v21m40-355v87m0 268v20m20-406v31m0 355v20m10-474v35m10-35v35m50 33v31m60 139v45m90 191v19m20-39v20m10-20v20m30-64v23m10 0v21m50-216v45m90-45v45m10-71v26m20 216v20m90-262v26m20 255v18m20-273v45m0 171v20m410-288v26m230 26v45m20 44v57m0 26v23m10-49v26m30-83v29m0 118v19m10-166v29m0 155v17m10-201v29m20 0v28m20-57v29m20 187v15m10-30v15m20-15v15m10-187v28m0 144v15m30-187v28m0 144v15m50-216v29m30-29v29m10 0v28m10 0v26m0 118v15m20-15v15m10-159v26m30-26v26m30-54v28m10 144v15m10-216v29m0 172v15m10-187v28m0 144v15m10-187v28m0 144v15m10-15v15m20-187v28m10-57v29m0 172v15m10-110v41"/>
<path stroke="#ffca00" stroke-width="10" d="M1105 6476v26m110-54v28m40-172v26m60-52v26m40 144v28m40-57v29m10-73v44m440 106v21m220-70v26m120-127v44m60 57v26m50-172v45m210 150v21m20-70v26m60 44v20"/>
<path stroke="#1c0034" stroke-width="10" d="M1195 6665v13m60-28v15m380-444v29m970 0v28m20-28v28m10-28v54m10-83v29m0 54v26m20-109v29m0 54v26m10-80v28m0 26v26m10-109v29m0 28v26m10 0v26m20-80v54m0 26v45m10-125v80m10-52v97m10-125v28m10 26v26m10-26v26m10-109v57m10-28v54m30-54v28m10-28v28m0 26v71m10-154v29m0 28v26m10-54v28m10-57v57m10-28v28m0 26v26m20 0v45m10-97v26m0 26v45m20-71v71m10-184v30m10 83v26m10 0v45m10-154v83m10-83v29m0 28v52m10-109v83m10-26v52m10-80v28m0 26v26m10-109v57m10-57v57m0 26v26m10-80v54m20-54v80m0 146v26m0 83v18m10-299v26m0 236v54m10-370v28m0 52v146m0 70v20m10-316v28m0 141v29m0 77v60m10-307v141m0 127v20m0 37v17m10-429v59m0 125v44m0 29v28m0 26v23m0 21v20m0 19v35m20-172v28m20-285v30m10 83v26m0 89v29m0 54v23m10-106v29m10 0v28m10 49v21m10-242v26m0 45v73m0 28v49m0 78v17m10-370v80m0 89v57m0 26v23m0 21v20m0 19v18m10-382v29m0 169v29m0 28v49m0 21v20m10-118v28m0 109v18m10-184v29m0 77v21m10-268v97m0 44v29m0 77v21m10-325v29m0 80v45m0 127v23m0 21v20m0 19v18m10-273v89m0 147v19m10-255v45m10-125v28m0 52v89m0 29v28m0 70v20m20-316v169m0 29v28m20-198v26m0 221v21m10-296v28m0 26v26m0 89v29m20-198v28m0 224v23m0 21v20m10-316v28m10-57v57m0 141v29m0 28v26m0 23v41m0 19v18m10-325v26m0 26v45m0 150v60m0 18v17m10-399v29m0 198v28m0 26v23m0 78v17m10-399v83m0 71v44m0 106v21m10-296v54m0 26v45m0 101v127m10-273v45m0 127v44m10-325v57m0 26v115m0 29v28m20-226v28m0 52v45m10-97v97m0 44v166m0 18v32m10-414v57m0 26v26m0 118v54m0 23v21m0 20v19m20-307v26m0 198v23m10 41v37m10-353v80m0 89v29m0 28v26m0 23v21m20-44v23m0 21v39m10-281v26m10-80v28m0 26v71m0 44v29m0 77v60m10-109v26m10-252v28m0 141v83m0 44v39m10-364v29m0 169v29m0 28v26m0 23v21m0 20v37m10-382v57m0 198v49m0 21v57m10-101v23m10-195v45m0 101v26m20-252v54m0 71v44m0 29v28m0 26v44m20-296v28m0 26v115m0 29v28m0 49v21m0 20v37m10-37v19m10-364v57m0 141v57m0 70v20m10-316v54m0 144v54m0 23v21m0 39v18"/>
<path stroke="#ff7000" stroke-width="10" d="M1205 6304v26m0 89v29m10-144v26m0 89v29m10-170v26m20 0v26m10 89v29m20 0v28m70-198v26m20 115v29m30-144v26m0 45v44m390-89v45m10 0v44m0 106v21m10-21v21m30-171v44m20-44v44m20 106v21m10-21v21m80-171v44m90-44v44m50 57v26m10-54v28m40-101v44m10 0v29m20 28v26m40-127v44m180 29v28m40 26v23m10-106v29m130 28v26m10 44v20"/>
<path stroke="#ff0000" stroke-width="10" d="M1205 6330v45m10-45v89m10-115v26m0 89v29m10-144v26m0 118v28m10-57v29m20 0v28m20-172v26m10 0v45m10-71v115m10-115v26m0 45v73m10-144v26m0 45v73m20-144v26m0 45v73m20-73v44m10-141v141m10-115v115m370-44v44m0 83v44m20-98v28m20-57v83m10-127v44m0 83v23m10-49v26m10 0v23m10-106v29m0 54v23m10-106v83m10-83v57m10-101v44m0 57v26m20 0v23m10-106v29m10-73v44m0 57v26m40-127v44m10-44v44m0 29v28m30-101v44m20-44v44m20-44v44m0 57v26m10-26v26m10-127v44m0 29v28m20-101v44m10-44v44m0 29v28m10-101v44m10-44v73m0 54v23m30-150v44m30 0v29m20 28v26m20-127v44m10 0v29m10-73v44m20-44v44m80 29v28m40 26v23m30-77v28m30-28v28m70-28v28m10 0v26m0 44v20m10-64v23m10 21v20m10-41v21m60-44v44m10-21v21"/>
<path stroke="#ff2600" stroke-width="10" d="M1205 6375v44m20 29v28m40-172v26m10-26v26m0 89v29m20-73v44m20 29v28m40-172v26m0 45v44m10-141v26m30 26v45m370 0v44m10 57v26m10-54v28m70 0v26m10 0v23m10-23v23m10-150v44m90 57v26m20-26v26m10-54v28m100-101v44m10-44v44m30-44v44m20 83v23m40-150v44m50-44v44m10-44v44m110 83v23m110 0v21m20-98v28m20 70v20"/>
<path stroke="#fff" stroke-width="10" d="M1225 6330v89m10-89v118m10-118v89m10-89v89m10-89v118m10-118v89m10-89v89m30-89v45m10-45v45m10-71v71m10-45v45m10-45v45m10-71v71m390 44v83m10-83v57m10-101v73m10-73v73m20-29v83m10-83v57m10-57v83m10-54v54m30-83v57m10-57v83m10-83v83m10-54v28m10-57v57m10-57v57m10-57v57m10-57v57m10-57v57m10-57v29m10-29v57m10-57v57m10-57v57m10-57v57m10-57v29m10-29v29m10-29v57m10-57v57m10-57v29m10-29v57m10-57v57m10-57v29m10-29v57m10-28v54m10-83v57m10-57v29m10-29v57m10-28v54m10-83v57m10-28v54m10-54v54m10-83v57m10-57v57m10-57v57m10-28v54m10-83v57m10-57v57m10-57v57m10-57v57m10-57v83m10-83v57m10-57v57m10-57v57m10-101v73m10 0v54m10-83v29m10-29v83m10-83v106m10-77v77m10-106v83m10-83v83m10-83v83m10-26v70m10-98v77m10-49v70m10-70v70m10-98v77m10-106v83m10-83v83m10-54v77m10-77v77m10-77v77m10-49v49m10-23v44m10-70v26m10 0v44m10-44v23m10-23v64m10-64v64m10-90v70m10 20v54m10-74v57"/>
<path stroke="#ff4b00" stroke-width="10" d="M1235 6278v26m10 144v28m20 0v26m30-83v29m10-29v29m30-73v44m10 29v28m10-57v29m30-29v29m380 28v26m10-172v45m10 101v26m10 0v23m20-150v44m0 83v23m10-150v44m0 106v21m10-21v21m40-171v44m20 57v26m40-127v44m10 57v26m30-127v44m20-44v44m40-44v44m100 0v29m40-73v44m90 57v26m10-127v44m10-44v44m20 83v23m20-23v23m70-106v29m30-29v29m40 77v21m40-127v29m90 54v23"/>
<path stroke="#ffb000" stroke-width="10" d="M1265 6278v26m10-26v26m20 0v26m0 118v28m60-198v26m20-54v28m0 141v29m10-170v26m470 198v23m40-150v44m20-44v44m100-44v44m130 57v26m20-127v44m40 83v23m160-23v23m60 0v21m40-127v29m50 28v26m20-26v26m20 44v20"/>
<path stroke="#ff9600" stroke-width="10" d="M1285 6278v26m0 115v29m20-170v26m20-26v26m0 144v28m10-198v26m0 115v29m430 54v23m80-150v44m0 83v23m70-49v26m100-54v28m110 0v26m10-127v44m110-44v44m60 0v29m10 28v26m90 44v20m30-64v23m40 0v21"/>
<path stroke="#0e001a" stroke-width="10" d="M2605 6221v29m0 28v26m10-83v29m0 54v26m10-52v26m10-83v29m10 0v28m40 26v71m10-97v26m20 0v26m10 0v45m20-71v26m10-80v28m0 52v45m10-97v26m10-26v52m60-80v28m20 0v26m0 26v45m30-154v29m30 28v26m10-26v26m10 26v45m10-97v26m10 0v26m20-26v26m10-109v57m20 26v26m10 0v45m40 127v23m20-150v44m10 83v23m0 60v18m10-325v26m0 221v21m40-127v57m0 26v23m0 21v20m0 19v35m10-95v21m10-325v57m0 97v44m0 57v26m0 23v21m0 20v19m10-19v19m10-364v29m0 80v89m0 166v18m10-325v26m0 26v45m0 73v28m10 0v26m10-252v28m30 268v20m10-288v52m0 45v127m0 23v21m10-268v26m0 144v54m30-26v26m10-83v29m0 98v20m10-316v28m0 26v26m0 45v44m0 83v23m0 21v20m0 19v18m60-325v26m0 144v28m0 90v19m10-335v28m0 170v28m0 26v23m0 60v18m10-299v144m0 28v26m0 44v20m10-262v71m0 44v83m0 44v57m10-228v44m20-141v26m0 115v29m0 28v49m0 21v39m0 18v17m30-245v44m10-141v26m0 26v45m0 44v29m0 54v23m0 21v20m0 19v35m20-399v29m0 169v29m0 137v18m20-228v44m0 29v28m0 26v23m0 21v20m20-316v28m10 307v18m10-18v18m30-353v28m10 0v97m0 44v29m40-118v45m0 101v26m0 44v57m20-127v26m0 101v17m20-342v26m0 262v19m10-255v118m0 118v19"/>
<path stroke="#000000" stroke-width="10" d="M2635 6304v26m10-52v26m110-26v26m20 26v45m80-71v26m30-80v80m30-109v57m10-57v57m0 26v71m150 101v26m20-252v28m0 26v26m0 89v29m40-198v169m0 57v26m0 23v21m0 20v19m20-307v97m0 73v28m0 26v23m0 21v20m0 19v18m20-353v80m0 89v106m0 21v39m10-60v21m60-296v28m50 198v26m10-281v29m0 28v26m0 26v45m0 44v83m0 23v21m0 20v19m80-335v54m0 221v21m0 20v37m10-101v23m30 0v21m0 39v18m40-228v44m20-169v28m0 26v115m0 29v54m0 23v60m140-281v26m0 273v17m50-316v26m0 172v23m0 21v20"/>
</g>
<rect x="92" y="174.5" width="275.5" height="1.3" fill="#fff"/>
<line x1="98.5" y1="80.0" x2="98.5" y2="245.0" stroke="#e8d8ff" stroke-opacity="0.3" stroke-width="0.8" stroke-dasharray="1.2 1.6"/>
<line x1="98.5" y1="339.0" x2="98.5" y2="420.7" stroke="#e8d8ff" stroke-opacity="0.3" stroke-width="0.8" stroke-dasharray="1.2 1.6"/>
<line x1="98.5" y1="422.7" x2="98.5" y2="504.4" stroke="#e8d8ff" stroke-opacity="0.3" stroke-width="0.8" stroke-dasharray="1.2 1.6"/>
<line x1="98.5" y1="506.4" x2="98.5" y2="588.2" stroke="#e8d8ff" stroke-opacity="0.3" stroke-width="0.8" stroke-dasharray="1.2 1.6"/>
<line x1="98.5" y1="590.2" x2="98.5" y2="671.9" stroke="#e8d8ff" stroke-opacity="0.3" stroke-width="0.8" stroke-dasharray="1.2 1.6"/>
<g font-weight="bold" font-size="10.3" stroke="#000" stroke-width="0.7">
<text x="102.5" y="89.4" textLength="28.5" lengthAdjust="spacingAndGlyphs">TOTAL</text>
<text x="102" y="348.6" textLength="45" lengthAdjust="spacingAndGlyphs">A sensor</text>
<text x="102" y="432.3" textLength="45" lengthAdjust="spacingAndGlyphs">B sensor</text>
<text x="102" y="516.0" textLength="45" lengthAdjust="spacingAndGlyphs">C sensor</text>
<text x="102" y="599.8" textLength="45" lengthAdjust="spacingAndGlyphs">D sensor</text>
</g>
</g>
<g>
<rect x="91.5" y="79.0" width="428.5" height="167.0" fill="none" stroke="#000" stroke-width="1.2"/>
<rect x="91.5" y="246.0" width="428.5" height="84.0" fill="none" stroke="#000" stroke-width="1.2"/>
<rect x="91.5" y="338.0" width="428.5" height="83.69999999999999" fill="none" stroke="#000" stroke-width="1.2"/>
<rect x="91.5" y="421.7" width="428.5" height="83.69999999999999" fill="none" stroke="#000" stroke-width="1.2"/>
<rect x="91.5" y="505.4" width="428.5" height="83.80000000000007" fill="none" stroke="#000" stroke-width="1.2"/>
<rect x="91.5" y="589.2" width="428.5" height="83.69999999999993" fill="none" stroke="#000" stroke-width="1.2"/>
<line x1="91.5" y1="246.0" x2="91.5" y2="242.8" stroke="#000" stroke-width="1"/>
<line x1="91.5" y1="79.0" x2="91.5" y2="82.2" stroke="#000" stroke-width="1"/>
<line x1="127.2" y1="246.0" x2="127.2" y2="244.0" stroke="#000" stroke-width="1"/>
<line x1="127.2" y1="79.0" x2="127.2" y2="81.0" stroke="#000" stroke-width="1"/>
<line x1="162.9" y1="246.0" x2="162.9" y2="244.0" stroke="#000" stroke-width="1"/>
<line x1="162.9" y1="79.0" x2="162.9" y2="81.0" stroke="#000" stroke-width="1"/>
<line x1="198.6" y1="246.0" x2="198.6" y2="242.8" stroke="#000" stroke-width="1"/>
<line x1="198.6" y1="79.0" x2="198.6" y2="82.2" stroke="#000" stroke-width="1"/>
<line x1="234.3" y1="246.0" x2="234.3" y2="244.0" stroke="#000" stroke-width="1"/>
<line x1="234.3" y1="79.0" x2="234.3" y2="81.0" stroke="#000" stroke-width="1"/>
<line x1="270.0" y1="246.0" x2="270.0" y2="244.0" stroke="#000" stroke-width="1"/>
<line x1="270.0" y1="79.0" x2="270.0" y2="81.0" stroke="#000" stroke-width="1"/>
<line x1="305.8" y1="246.0" x2="305.8" y2="242.8" stroke="#000" stroke-width="1"/>
<line x1="305.8" y1="79.0" x2="305.8" y2="82.2" stroke="#000" stroke-width="1"/>
<line x1="341.5" y1="246.0" x2="341.5" y2="244.0" stroke="#000" stroke-width="1"/>
<line x1="341.5" y1="79.0" x2="341.5" y2="81.0" stroke="#000" stroke-width="1"/>
<line x1="377.2" y1="246.0" x2="377.2" y2="244.0" stroke="#000" stroke-width="1"/>
<line x1="377.2" y1="79.0" x2="377.2" y2="81.0" stroke="#000" stroke-width="1"/>
<line x1="412.9" y1="246.0" x2="412.9" y2="242.8" stroke="#000" stroke-width="1"/>
<line x1="412.9" y1="79.0" x2="412.9" y2="82.2" stroke="#000" stroke-width="1"/>
<line x1="448.6" y1="246.0" x2="448.6" y2="244.0" stroke="#000" stroke-width="1"/>
<line x1="448.6" y1="79.0" x2="448.6" y2="81.0" stroke="#000" stroke-width="1"/>
<line x1="484.3" y1="246.0" x2="484.3" y2="244.0" stroke="#000" stroke-width="1"/>
<line x1="484.3" y1="79.0" x2="484.3" y2="81.0" stroke="#000" stroke-width="1"/>
<line x1="520.0" y1="246.0" x2="520.0" y2="242.8" stroke="#000" stroke-width="1"/>
<line x1="520.0" y1="79.0" x2="520.0" y2="82.2" stroke="#000" stroke-width="1"/>
<line x1="91.5" y1="330.0" x2="91.5" y2="326.8" stroke="#000" stroke-width="1"/>
<line x1="91.5" y1="246.0" x2="91.5" y2="249.2" stroke="#000" stroke-width="1"/>
<line x1="127.2" y1="330.0" x2="127.2" y2="328.0" stroke="#000" stroke-width="1"/>
<line x1="127.2" y1="246.0" x2="127.2" y2="248.0" stroke="#000" stroke-width="1"/>
<line x1="162.9" y1="330.0" x2="162.9" y2="328.0" stroke="#000" stroke-width="1"/>
<line x1="162.9" y1="246.0" x2="162.9" y2="248.0" stroke="#000" stroke-width="1"/>
<line x1="198.6" y1="330.0" x2="198.6" y2="326.8" stroke="#000" stroke-width="1"/>
<line x1="198.6" y1="246.0" x2="198.6" y2="249.2" stroke="#000" stroke-width="1"/>
<line x1="234.3" y1="330.0" x2="234.3" y2="328.0" stroke="#000" stroke-width="1"/>
<line x1="234.3" y1="246.0" x2="234.3" y2="248.0" stroke="#000" stroke-width="1"/>
<line x1="270.0" y1="330.0" x2="270.0" y2="328.0" stroke="#000" stroke-width="1"/>
<line x1="270.0" y1="246.0" x2="270.0" y2="248.0" stroke="#000" stroke-width="1"/>
<line x1="305.8" y1="330.0" x2="305.8" y2="326.8" stroke="#000" stroke-width="1"/>
<line x1="305.8" y1="246.0" x2="305.8" y2="249.2" stroke="#000" stroke-width="1"/>
<line x1="341.5" y1="330.0" x2="341.5" y2="328.0" stroke="#000" stroke-width="1"/>
<line x1="341.5" y1="246.0" x2="341.5" y2="248.0" stroke="#000" stroke-width="1"/>
<line x1="377.2" y1="330.0" x2="377.2" y2="328.0" stroke="#000" stroke-width="1"/>
<line x1="377.2" y1="246.0" x2="377.2" y2="248.0" stroke="#000" stroke-width="1"/>
<line x1="412.9" y1="330.0" x2="412.9" y2="326.8" stroke="#000" stroke-width="1"/>
<line x1="412.9" y1="246.0" x2="412.9" y2="249.2" stroke="#000" stroke-width="1"/>
<line x1="448.6" y1="330.0" x2="448.6" y2="328.0" stroke="#000" stroke-width="1"/>
<line x1="448.6" y1="246.0" x2="448.6" y2="248.0" stroke="#000" stroke-width="1"/>
<line x1="484.3" y1="330.0" x2="484.3" y2="328.0" stroke="#000" stroke-width="1"/>
<line x1="484.3" y1="246.0" x2="484.3" y2="248.0" stroke="#000" stroke-width="1"/>
<line x1="520.0" y1="330.0" x2="520.0" y2="326.8" stroke="#000" stroke-width="1"/>
<line x1="520.0" y1="246.0" x2="520.0" y2="249.2" stroke="#000" stroke-width="1"/>
<line x1="91.5" y1="421.7" x2="91.5" y2="418.5" stroke="#000" stroke-width="1"/>
<line x1="91.5" y1="338.0" x2="91.5" y2="341.2" stroke="#000" stroke-width="1"/>
<line x1="127.2" y1="421.7" x2="127.2" y2="419.7" stroke="#000" stroke-width="1"/>
<line x1="127.2" y1="338.0" x2="127.2" y2="340.0" stroke="#000" stroke-width="1"/>
<line x1="162.9" y1="421.7" x2="162.9" y2="419.7" stroke="#000" stroke-width="1"/>
<line x1="162.9" y1="338.0" x2="162.9" y2="340.0" stroke="#000" stroke-width="1"/>
<line x1="198.6" y1="421.7" x2="198.6" y2="418.5" stroke="#000" stroke-width="1"/>
<line x1="198.6" y1="338.0" x2="198.6" y2="341.2" stroke="#000" stroke-width="1"/>
<line x1="234.3" y1="421.7" x2="234.3" y2="419.7" stroke="#000" stroke-width="1"/>
<line x1="234.3" y1="338.0" x2="234.3" y2="340.0" stroke="#000" stroke-width="1"/>
<line x1="270.0" y1="421.7" x2="270.0" y2="419.7" stroke="#000" stroke-width="1"/>
<line x1="270.0" y1="338.0" x2="270.0" y2="340.0" stroke="#000" stroke-width="1"/>
<line x1="305.8" y1="421.7" x2="305.8" y2="418.5" stroke="#000" stroke-width="1"/>
<line x1="305.8" y1="338.0" x2="305.8" y2="341.2" stroke="#000" stroke-width="1"/>
<line x1="341.5" y1="421.7" x2="341.5" y2="419.7" stroke="#000" stroke-width="1"/>
<line x1="341.5" y1="338.0" x2="341.5" y2="340.0" stroke="#000" stroke-width="1"/>
<line x1="377.2" y1="421.7" x2="377.2" y2="419.7" stroke="#000" stroke-width="1"/>
<line x1="377.2" y1="338.0" x2="377.2" y2="340.0" stroke="#000" stroke-width="1"/>
<line x1="412.9" y1="421.7" x2="412.9" y2="418.5" stroke="#000" stroke-width="1"/>
<line x1="412.9" y1="338.0" x2="412.9" y2="341.2" stroke="#000" stroke-width="1"/>
<line x1="448.6" y1="421.7" x2="448.6" y2="419.7" stroke="#000" stroke-width="1"/>
<line x1="448.6" y1="338.0" x2="448.6" y2="340.0" stroke="#000" stroke-width="1"/>
<line x1="484.3" y1="421.7" x2="484.3" y2="419.7" stroke="#000" stroke-width="1"/>
<line x1="484.3" y1="338.0" x2="484.3" y2="340.0" stroke="#000" stroke-width="1"/>
<line x1="520.0" y1="421.7" x2="520.0" y2="418.5" stroke="#000" stroke-width="1"/>
<line x1="520.0" y1="338.0" x2="520.0" y2="341.2" stroke="#000" stroke-width="1"/>
<line x1="91.5" y1="505.4" x2="91.5" y2="502.2" stroke="#000" stroke-width="1"/>
<line x1="91.5" y1="421.7" x2="91.5" y2="424.9" stroke="#000" stroke-width="1"/>
<line x1="127.2" y1="505.4" x2="127.2" y2="503.4" stroke="#000" stroke-width="1"/>
<line x1="127.2" y1="421.7" x2="127.2" y2="423.7" stroke="#000" stroke-width="1"/>
<line x1="162.9" y1="505.4" x2="162.9" y2="503.4" stroke="#000" stroke-width="1"/>
<line x1="162.9" y1="421.7" x2="162.9" y2="423.7" stroke="#000" stroke-width="1"/>
<line x1="198.6" y1="505.4" x2="198.6" y2="502.2" stroke="#000" stroke-width="1"/>
<line x1="198.6" y1="421.7" x2="198.6" y2="424.9" stroke="#000" stroke-width="1"/>
<line x1="234.3" y1="505.4" x2="234.3" y2="503.4" stroke="#000" stroke-width="1"/>
<line x1="234.3" y1="421.7" x2="234.3" y2="423.7" stroke="#000" stroke-width="1"/>
<line x1="270.0" y1="505.4" x2="270.0" y2="503.4" stroke="#000" stroke-width="1"/>
<line x1="270.0" y1="421.7" x2="270.0" y2="423.7" stroke="#000" stroke-width="1"/>
<line x1="305.8" y1="505.4" x2="305.8" y2="502.2" stroke="#000" stroke-width="1"/>
<line x1="305.8" y1="421.7" x2="305.8" y2="424.9" stroke="#000" stroke-width="1"/>
<line x1="341.5" y1="505.4" x2="341.5" y2="503.4" stroke="#000" stroke-width="1"/>
<line x1="341.5" y1="421.7" x2="341.5" y2="423.7" stroke="#000" stroke-width="1"/>
<line x1="377.2" y1="505.4" x2="377.2" y2="503.4" stroke="#000" stroke-width="1"/>
<line x1="377.2" y1="421.7" x2="377.2" y2="423.7" stroke="#000" stroke-width="1"/>
<line x1="412.9" y1="505.4" x2="412.9" y2="502.2" stroke="#000" stroke-width="1"/>
<line x1="412.9" y1="421.7" x2="412.9" y2="424.9" stroke="#000" stroke-width="1"/>
<line x1="448.6" y1="505.4" x2="448.6" y2="503.4" stroke="#000" stroke-width="1"/>
<line x1="448.6" y1="421.7" x2="448.6" y2="423.7" stroke="#000" stroke-width="1"/>
<line x1="484.3" y1="505.4" x2="484.3" y2="503.4" stroke="#000" stroke-width="1"/>
<line x1="484.3" y1="421.7" x2="484.3" y2="423.7" stroke="#000" stroke-width="1"/>
<line x1="520.0" y1="505.4" x2="520.0" y2="502.2" stroke="#000" stroke-width="1"/>
<line x1="520.0" y1="421.7" x2="520.0" y2="424.9" stroke="#000" stroke-width="1"/>
<line x1="91.5" y1="589.2" x2="91.5" y2="586.0" stroke="#000" stroke-width="1"/>
<line x1="91.5" y1="505.4" x2="91.5" y2="508.6" stroke="#000" stroke-width="1"/>
<line x1="127.2" y1="589.2" x2="127.2" y2="587.2" stroke="#000" stroke-width="1"/>
<line x1="127.2" y1="505.4" x2="127.2" y2="507.4" stroke="#000" stroke-width="1"/>
<line x1="162.9" y1="589.2" x2="162.9" y2="587.2" stroke="#000" stroke-width="1"/>
<line x1="162.9" y1="505.4" x2="162.9" y2="507.4" stroke="#000" stroke-width="1"/>
<line x1="198.6" y1="589.2" x2="198.6" y2="586.0" stroke="#000" stroke-width="1"/>
<line x1="198.6" y1="505.4" x2="198.6" y2="508.6" stroke="#000" stroke-width="1"/>
<line x1="234.3" y1="589.2" x2="234.3" y2="587.2" stroke="#000" stroke-width="1"/>
<line x1="234.3" y1="505.4" x2="234.3" y2="507.4" stroke="#000" stroke-width="1"/>
<line x1="270.0" y1="589.2" x2="270.0" y2="587.2" stroke="#000" stroke-width="1"/>
<line x1="270.0" y1="505.4" x2="270.0" y2="507.4" stroke="#000" stroke-width="1"/>
<line x1="305.8" y1="589.2" x2="305.8" y2="586.0" stroke="#000" stroke-width="1"/>
<line x1="305.8" y1="505.4" x2="305.8" y2="508.6" stroke="#000" stroke-width="1"/>
<line x1="341.5" y1="589.2" x2="341.5" y2="587.2" stroke="#000" stroke-width="1"/>
<line x1="341.5" y1="505.4" x2="341.5" y2="507.4" stroke="#000" stroke-width="1"/>
<line x1="377.2" y1="589.2" x2="377.2" y2="587.2" stroke="#000" stroke-width="1"/>
<line x1="377.2" y1="505.4" x2="377.2" y2="507.4" stroke="#000" stroke-width="1"/>
<line x1="412.9" y1="589.2" x2="412.9" y2="586.0" stroke="#000" stroke-width="1"/>
<line x1="412.9" y1="505.4" x2="412.9" y2="508.6" stroke="#000" stroke-width="1"/>
<line x1="448.6" y1="589.2" x2="448.6" y2="587.2" stroke="#000" stroke-width="1"/>
<line x1="448.6" y1="505.4" x2="448.6" y2="507.4" stroke="#000" stroke-width="1"/>
<line x1="484.3" y1="589.2" x2="484.3" y2="587.2" stroke="#000" stroke-width="1"/>
<line x1="484.3" y1="505.4" x2="484.3" y2="507.4" stroke="#000" stroke-width="1"/>
<line x1="520.0" y1="589.2" x2="520.0" y2="586.0" stroke="#000" stroke-width="1"/>
<line x1="520.0" y1="505.4" x2="520.0" y2="508.6" stroke="#000" stroke-width="1"/>
<line x1="91.5" y1="672.9" x2="91.5" y2="669.7" stroke="#000" stroke-width="1"/>
<line x1="91.5" y1="589.2" x2="91.5" y2="592.4" stroke="#000" stroke-width="1"/>
<line x1="127.2" y1="672.9" x2="127.2" y2="670.9" stroke="#000" stroke-width="1"/>
<line x1="127.2" y1="589.2" x2="127.2" y2="591.2" stroke="#000" stroke-width="1"/>
<line x1="162.9" y1="672.9" x2="162.9" y2="670.9" stroke="#000" stroke-width="1"/>
<line x1="162.9" y1="589.2" x2="162.9" y2="591.2" stroke="#000" stroke-width="1"/>
<line x1="198.6" y1="672.9" x2="198.6" y2="669.7" stroke="#000" stroke-width="1"/>
<line x1="198.6" y1="589.2" x2="198.6" y2="592.4" stroke="#000" stroke-width="1"/>
<line x1="234.3" y1="672.9" x2="234.3" y2="670.9" stroke="#000" stroke-width="1"/>
<line x1="234.3" y1="589.2" x2="234.3" y2="591.2" stroke="#000" stroke-width="1"/>
<line x1="270.0" y1="672.9" x2="270.0" y2="670.9" stroke="#000" stroke-width="1"/>
<line x1="270.0" y1="589.2" x2="270.0" y2="591.2" stroke="#000" stroke-width="1"/>
<line x1="305.8" y1="672.9" x2="305.8" y2="669.7" stroke="#000" stroke-width="1"/>
<line x1="305.8" y1="589.2" x2="305.8" y2="592.4" stroke="#000" stroke-width="1"/>
<line x1="341.5" y1="672.9" x2="341.5" y2="670.9" stroke="#000" stroke-width="1"/>
<line x1="341.5" y1="589.2" x2="341.5" y2="591.2" stroke="#000" stroke-width="1"/>
<line x1="377.2" y1="672.9" x2="377.2" y2="670.9" stroke="#000" stroke-width="1"/>
<line x1="377.2" y1="589.2" x2="377.2" y2="591.2" stroke="#000" stroke-width="1"/>
<line x1="412.9" y1="672.9" x2="412.9" y2="669.7" stroke="#000" stroke-width="1"/>
<line x1="412.9" y1="589.2" x2="412.9" y2="592.4" stroke="#000" stroke-width="1"/>
<line x1="448.6" y1="672.9" x2="448.6" y2="670.9" stroke="#000" stroke-width="1"/>
<line x1="448.6" y1="589.2" x2="448.6" y2="591.2" stroke="#000" stroke-width="1"/>
<line x1="484.3" y1="672.9" x2="484.3" y2="670.9" stroke="#000" stroke-width="1"/>
<line x1="484.3" y1="589.2" x2="484.3" y2="591.2" stroke="#000" stroke-width="1"/>
<line x1="520.0" y1="672.9" x2="520.0" y2="669.7" stroke="#000" stroke-width="1"/>
<line x1="520.0" y1="589.2" x2="520.0" y2="592.4" stroke="#000" stroke-width="1"/>
<line x1="91.5" y1="234.4" x2="100.5" y2="234.4" stroke="#000" stroke-width="1.2"/>
<line x1="520.0" y1="234.4" x2="511.0" y2="234.4" stroke="#000" stroke-width="1.2"/>
<line x1="91.5" y1="188.6" x2="100.5" y2="188.6" stroke="#000" stroke-width="1.2"/>
<line x1="520.0" y1="188.6" x2="511.0" y2="188.6" stroke="#000" stroke-width="1.2"/>
<line x1="91.5" y1="142.8" x2="100.5" y2="142.8" stroke="#000" stroke-width="1.2"/>
<line x1="520.0" y1="142.8" x2="511.0" y2="142.8" stroke="#000" stroke-width="1.2"/>
<line x1="91.5" y1="97.0" x2="100.5" y2="97.0" stroke="#000" stroke-width="1.2"/>
<line x1="520.0" y1="97.0" x2="511.0" y2="97.0" stroke="#000" stroke-width="1.2"/>
<line x1="91.5" y1="245.8" x2="96.0" y2="245.8" stroke="#000" stroke-width="1.2"/>
<line x1="520.0" y1="245.8" x2="515.5" y2="245.8" stroke="#000" stroke-width="1.2"/>
<line x1="91.5" y1="222.9" x2="96.0" y2="222.9" stroke="#000" stroke-width="1.2"/>
<line x1="520.0" y1="222.9" x2="515.5" y2="222.9" stroke="#000" stroke-width="1.2"/>
<line x1="91.5" y1="211.5" x2="96.0" y2="211.5" stroke="#000" stroke-width="1.2"/>
<line x1="520.0" y1="211.5" x2="515.5" y2="211.5" stroke="#000" stroke-width="1.2"/>
<line x1="91.5" y1="200.1" x2="96.0" y2="200.1" stroke="#000" stroke-width="1.2"/>
<line x1="520.0" y1="200.1" x2="515.5" y2="200.1" stroke="#000" stroke-width="1.2"/>
<line x1="91.5" y1="177.2" x2="96.0" y2="177.2" stroke="#000" stroke-width="1.2"/>
<line x1="520.0" y1="177.2" x2="515.5" y2="177.2" stroke="#000" stroke-width="1.2"/>
<line x1="91.5" y1="165.7" x2="96.0" y2="165.7" stroke="#000" stroke-width="1.2"/>
<line x1="520.0" y1="165.7" x2="515.5" y2="165.7" stroke="#000" stroke-width="1.2"/>
<line x1="91.5" y1="154.2" x2="96.0" y2="154.2" stroke="#000" stroke-width="1.2"/>
<line x1="520.0" y1="154.2" x2="515.5" y2="154.2" stroke="#000" stroke-width="1.2"/>
<line x1="91.5" y1="131.3" x2="96.0" y2="131.3" stroke="#000" stroke-width="1.2"/>
<line x1="520.0" y1="131.3" x2="515.5" y2="131.3" stroke="#000" stroke-width="1.2"/>
<line x1="91.5" y1="119.9" x2="96.0" y2="119.9" stroke="#000" stroke-width="1.2"/>
<line x1="520.0" y1="119.9" x2="515.5" y2="119.9" stroke="#000" stroke-width="1.2"/>
<line x1="91.5" y1="108.5" x2="96.0" y2="108.5" stroke="#000" stroke-width="1.2"/>
<line x1="520.0" y1="108.5" x2="515.5" y2="108.5" stroke="#000" stroke-width="1.2"/>
<line x1="91.5" y1="85.5" x2="96.0" y2="85.5" stroke="#000" stroke-width="1.2"/>
<line x1="520.0" y1="85.5" x2="515.5" y2="85.5" stroke="#000" stroke-width="1.2"/>
<line x1="91.5" y1="325.8" x2="100.5" y2="325.8" stroke="#000" stroke-width="1.2"/>
<line x1="520.0" y1="325.8" x2="511.0" y2="325.8" stroke="#000" stroke-width="1.2"/>
<line x1="91.5" y1="307.2" x2="100.5" y2="307.2" stroke="#000" stroke-width="1.2"/>
<line x1="520.0" y1="307.2" x2="511.0" y2="307.2" stroke="#000" stroke-width="1.2"/>
<line x1="91.5" y1="288.6" x2="100.5" y2="288.6" stroke="#000" stroke-width="1.2"/>
<line x1="520.0" y1="288.6" x2="511.0" y2="288.6" stroke="#000" stroke-width="1.2"/>
<line x1="91.5" y1="270.0" x2="100.5" y2="270.0" stroke="#000" stroke-width="1.2"/>
<line x1="520.0" y1="270.0" x2="511.0" y2="270.0" stroke="#000" stroke-width="1.2"/>
<line x1="91.5" y1="251.4" x2="100.5" y2="251.4" stroke="#000" stroke-width="1.2"/>
<line x1="520.0" y1="251.4" x2="511.0" y2="251.4" stroke="#000" stroke-width="1.2"/>
<line x1="91.5" y1="321.2" x2="96.0" y2="321.2" stroke="#000" stroke-width="1.2"/>
<line x1="520.0" y1="321.2" x2="515.5" y2="321.2" stroke="#000" stroke-width="1.2"/>
<line x1="91.5" y1="316.5" x2="96.0" y2="316.5" stroke="#000" stroke-width="1.2"/>
<line x1="520.0" y1="316.5" x2="515.5" y2="316.5" stroke="#000" stroke-width="1.2"/>
<line x1="91.5" y1="311.9" x2="96.0" y2="311.9" stroke="#000" stroke-width="1.2"/>
<line x1="520.0" y1="311.9" x2="515.5" y2="311.9" stroke="#000" stroke-width="1.2"/>
<line x1="91.5" y1="302.6" x2="96.0" y2="302.6" stroke="#000" stroke-width="1.2"/>
<line x1="520.0" y1="302.6" x2="515.5" y2="302.6" stroke="#000" stroke-width="1.2"/>
<line x1="91.5" y1="297.9" x2="96.0" y2="297.9" stroke="#000" stroke-width="1.2"/>
<line x1="520.0" y1="297.9" x2="515.5" y2="297.9" stroke="#000" stroke-width="1.2"/>
<line x1="91.5" y1="293.2" x2="96.0" y2="293.2" stroke="#000" stroke-width="1.2"/>
<line x1="520.0" y1="293.2" x2="515.5" y2="293.2" stroke="#000" stroke-width="1.2"/>
<line x1="91.5" y1="284.0" x2="96.0" y2="284.0" stroke="#000" stroke-width="1.2"/>
<line x1="520.0" y1="284.0" x2="515.5" y2="284.0" stroke="#000" stroke-width="1.2"/>
<line x1="91.5" y1="279.3" x2="96.0" y2="279.3" stroke="#000" stroke-width="1.2"/>
<line x1="520.0" y1="279.3" x2="515.5" y2="279.3" stroke="#000" stroke-width="1.2"/>
<line x1="91.5" y1="274.7" x2="96.0" y2="274.7" stroke="#000" stroke-width="1.2"/>
<line x1="520.0" y1="274.7" x2="515.5" y2="274.7" stroke="#000" stroke-width="1.2"/>
<line x1="91.5" y1="265.4" x2="96.0" y2="265.4" stroke="#000" stroke-width="1.2"/>
<line x1="520.0" y1="265.4" x2="515.5" y2="265.4" stroke="#000" stroke-width="1.2"/>
<line x1="91.5" y1="260.7" x2="96.0" y2="260.7" stroke="#000" stroke-width="1.2"/>
<line x1="520.0" y1="260.7" x2="515.5" y2="260.7" stroke="#000" stroke-width="1.2"/>
<line x1="91.5" y1="256.1" x2="96.0" y2="256.1" stroke="#000" stroke-width="1.2"/>
<line x1="520.0" y1="256.1" x2="515.5" y2="256.1" stroke="#000" stroke-width="1.2"/>
<line x1="91.5" y1="246.8" x2="96.0" y2="246.8" stroke="#000" stroke-width="1.2"/>
<line x1="520.0" y1="246.8" x2="515.5" y2="246.8" stroke="#000" stroke-width="1.2"/>
<line x1="91.5" y1="416.1" x2="100.5" y2="416.1" stroke="#000" stroke-width="1.2"/>
<line x1="520.0" y1="416.1" x2="511.0" y2="416.1" stroke="#000" stroke-width="1.2"/>
<line x1="91.5" y1="393.1" x2="100.5" y2="393.1" stroke="#000" stroke-width="1.2"/>
<line x1="520.0" y1="393.1" x2="511.0" y2="393.1" stroke="#000" stroke-width="1.2"/>
<line x1="91.5" y1="370.2" x2="100.5" y2="370.2" stroke="#000" stroke-width="1.2"/>
<line x1="520.0" y1="370.2" x2="511.0" y2="370.2" stroke="#000" stroke-width="1.2"/>
<line x1="91.5" y1="347.2" x2="100.5" y2="347.2" stroke="#000" stroke-width="1.2"/>
<line x1="520.0" y1="347.2" x2="511.0" y2="347.2" stroke="#000" stroke-width="1.2"/>
<line x1="91.5" y1="410.3" x2="96.0" y2="410.3" stroke="#000" stroke-width="1.2"/>
<line x1="520.0" y1="410.3" x2="515.5" y2="410.3" stroke="#000" stroke-width="1.2"/>
<line x1="91.5" y1="404.6" x2="96.0" y2="404.6" stroke="#000" stroke-width="1.2"/>
<line x1="520.0" y1="404.6" x2="515.5" y2="404.6" stroke="#000" stroke-width="1.2"/>
<line x1="91.5" y1="398.9" x2="96.0" y2="398.9" stroke="#000" stroke-width="1.2"/>
<line x1="520.0" y1="398.9" x2="515.5" y2="398.9" stroke="#000" stroke-width="1.2"/>
<line x1="91.5" y1="387.4" x2="96.0" y2="387.4" stroke="#000" stroke-width="1.2"/>
<line x1="520.0" y1="387.4" x2="515.5" y2="387.4" stroke="#000" stroke-width="1.2"/>
<line x1="91.5" y1="381.6" x2="96.0" y2="381.6" stroke="#000" stroke-width="1.2"/>
<line x1="520.0" y1="381.6" x2="515.5" y2="381.6" stroke="#000" stroke-width="1.2"/>
<line x1="91.5" y1="375.9" x2="96.0" y2="375.9" stroke="#000" stroke-width="1.2"/>
<line x1="520.0" y1="375.9" x2="515.5" y2="375.9" stroke="#000" stroke-width="1.2"/>
<line x1="91.5" y1="364.4" x2="96.0" y2="364.4" stroke="#000" stroke-width="1.2"/>
<line x1="520.0" y1="364.4" x2="515.5" y2="364.4" stroke="#000" stroke-width="1.2"/>
<line x1="91.5" y1="358.7" x2="96.0" y2="358.7" stroke="#000" stroke-width="1.2"/>
<line x1="520.0" y1="358.7" x2="515.5" y2="358.7" stroke="#000" stroke-width="1.2"/>
<line x1="91.5" y1="352.9" x2="96.0" y2="352.9" stroke="#000" stroke-width="1.2"/>
<line x1="520.0" y1="352.9" x2="515.5" y2="352.9" stroke="#000" stroke-width="1.2"/>
<line x1="91.5" y1="341.5" x2="96.0" y2="341.5" stroke="#000" stroke-width="1.2"/>
<line x1="520.0" y1="341.5" x2="515.5" y2="341.5" stroke="#000" stroke-width="1.2"/>
<line x1="91.5" y1="499.8" x2="100.5" y2="499.8" stroke="#000" stroke-width="1.2"/>
<line x1="520.0" y1="499.8" x2="511.0" y2="499.8" stroke="#000" stroke-width="1.2"/>
<line x1="91.5" y1="476.8" x2="100.5" y2="476.8" stroke="#000" stroke-width="1.2"/>
<line x1="520.0" y1="476.8" x2="511.0" y2="476.8" stroke="#000" stroke-width="1.2"/>
<line x1="91.5" y1="453.9" x2="100.5" y2="453.9" stroke="#000" stroke-width="1.2"/>
<line x1="520.0" y1="453.9" x2="511.0" y2="453.9" stroke="#000" stroke-width="1.2"/>
<line x1="91.5" y1="430.9" x2="100.5" y2="430.9" stroke="#000" stroke-width="1.2"/>
<line x1="520.0" y1="430.9" x2="511.0" y2="430.9" stroke="#000" stroke-width="1.2"/>
<line x1="91.5" y1="494.0" x2="96.0" y2="494.0" stroke="#000" stroke-width="1.2"/>
<line x1="520.0" y1="494.0" x2="515.5" y2="494.0" stroke="#000" stroke-width="1.2"/>
<line x1="91.5" y1="488.3" x2="96.0" y2="488.3" stroke="#000" stroke-width="1.2"/>
<line x1="520.0" y1="488.3" x2="515.5" y2="488.3" stroke="#000" stroke-width="1.2"/>
<line x1="91.5" y1="482.6" x2="96.0" y2="482.6" stroke="#000" stroke-width="1.2"/>
<line x1="520.0" y1="482.6" x2="515.5" y2="482.6" stroke="#000" stroke-width="1.2"/>
<line x1="91.5" y1="471.1" x2="96.0" y2="471.1" stroke="#000" stroke-width="1.2"/>
<line x1="520.0" y1="471.1" x2="515.5" y2="471.1" stroke="#000" stroke-width="1.2"/>
<line x1="91.5" y1="465.3" x2="96.0" y2="465.3" stroke="#000" stroke-width="1.2"/>
<line x1="520.0" y1="465.3" x2="515.5" y2="465.3" stroke="#000" stroke-width="1.2"/>
<line x1="91.5" y1="459.6" x2="96.0" y2="459.6" stroke="#000" stroke-width="1.2"/>
<line x1="520.0" y1="459.6" x2="515.5" y2="459.6" stroke="#000" stroke-width="1.2"/>
<line x1="91.5" y1="448.1" x2="96.0" y2="448.1" stroke="#000" stroke-width="1.2"/>
<line x1="520.0" y1="448.1" x2="515.5" y2="448.1" stroke="#000" stroke-width="1.2"/>
<line x1="91.5" y1="442.4" x2="96.0" y2="442.4" stroke="#000" stroke-width="1.2"/>
<line x1="520.0" y1="442.4" x2="515.5" y2="442.4" stroke="#000" stroke-width="1.2"/>
<line x1="91.5" y1="436.6" x2="96.0" y2="436.6" stroke="#000" stroke-width="1.2"/>
<line x1="520.0" y1="436.6" x2="515.5" y2="436.6" stroke="#000" stroke-width="1.2"/>
<line x1="91.5" y1="425.2" x2="96.0" y2="425.2" stroke="#000" stroke-width="1.2"/>
<line x1="520.0" y1="425.2" x2="515.5" y2="425.2" stroke="#000" stroke-width="1.2"/>
<line x1="91.5" y1="583.5" x2="100.5" y2="583.5" stroke="#000" stroke-width="1.2"/>
<line x1="520.0" y1="583.5" x2="511.0" y2="583.5" stroke="#000" stroke-width="1.2"/>
<line x1="91.5" y1="560.5" x2="100.5" y2="560.5" stroke="#000" stroke-width="1.2"/>
<line x1="520.0" y1="560.5" x2="511.0" y2="560.5" stroke="#000" stroke-width="1.2"/>
<line x1="91.5" y1="537.6" x2="100.5" y2="537.6" stroke="#000" stroke-width="1.2"/>
<line x1="520.0" y1="537.6" x2="511.0" y2="537.6" stroke="#000" stroke-width="1.2"/>
<line x1="91.5" y1="514.6" x2="100.5" y2="514.6" stroke="#000" stroke-width="1.2"/>
<line x1="520.0" y1="514.6" x2="511.0" y2="514.6" stroke="#000" stroke-width="1.2"/>
<line x1="91.5" y1="577.7" x2="96.0" y2="577.7" stroke="#000" stroke-width="1.2"/>
<line x1="520.0" y1="577.7" x2="515.5" y2="577.7" stroke="#000" stroke-width="1.2"/>
<line x1="91.5" y1="572.0" x2="96.0" y2="572.0" stroke="#000" stroke-width="1.2"/>
<line x1="520.0" y1="572.0" x2="515.5" y2="572.0" stroke="#000" stroke-width="1.2"/>
<line x1="91.5" y1="566.3" x2="96.0" y2="566.3" stroke="#000" stroke-width="1.2"/>
<line x1="520.0" y1="566.3" x2="515.5" y2="566.3" stroke="#000" stroke-width="1.2"/>
<line x1="91.5" y1="554.8" x2="96.0" y2="554.8" stroke="#000" stroke-width="1.2"/>
<line x1="520.0" y1="554.8" x2="515.5" y2="554.8" stroke="#000" stroke-width="1.2"/>
<line x1="91.5" y1="549.0" x2="96.0" y2="549.0" stroke="#000" stroke-width="1.2"/>
<line x1="520.0" y1="549.0" x2="515.5" y2="549.0" stroke="#000" stroke-width="1.2"/>
<line x1="91.5" y1="543.3" x2="96.0" y2="543.3" stroke="#000" stroke-width="1.2"/>
<line x1="520.0" y1="543.3" x2="515.5" y2="543.3" stroke="#000" stroke-width="1.2"/>
<line x1="91.5" y1="531.8" x2="96.0" y2="531.8" stroke="#000" stroke-width="1.2"/>
<line x1="520.0" y1="531.8" x2="515.5" y2="531.8" stroke="#000" stroke-width="1.2"/>
<line x1="91.5" y1="526.1" x2="96.0" y2="526.1" stroke="#000" stroke-width="1.2"/>
<line x1="520.0" y1="526.1" x2="515.5" y2="526.1" stroke="#000" stroke-width="1.2"/>
<line x1="91.5" y1="520.3" x2="96.0" y2="520.3" stroke="#000" stroke-width="1.2"/>
<line x1="520.0" y1="520.3" x2="515.5" y2="520.3" stroke="#000" stroke-width="1.2"/>
<line x1="91.5" y1="508.9" x2="96.0" y2="508.9" stroke="#000" stroke-width="1.2"/>
<line x1="520.0" y1="508.9" x2="515.5" y2="508.9" stroke="#000" stroke-width="1.2"/>
<line x1="91.5" y1="667.3" x2="100.5" y2="667.3" stroke="#000" stroke-width="1.2"/>
<line x1="520.0" y1="667.3" x2="511.0" y2="667.3" stroke="#000" stroke-width="1.2"/>
<line x1="91.5" y1="644.3" x2="100.5" y2="644.3" stroke="#000" stroke-width="1.2"/>
<line x1="520.0" y1="644.3" x2="511.0" y2="644.3" stroke="#000" stroke-width="1.2"/>
<line x1="91.5" y1="621.4" x2="100.5" y2="621.4" stroke="#000" stroke-width="1.2"/>
<line x1="520.0" y1="621.4" x2="511.0" y2="621.4" stroke="#000" stroke-width="1.2"/>
<line x1="91.5" y1="598.4" x2="100.5" y2="598.4" stroke="#000" stroke-width="1.2"/>
<line x1="520.0" y1="598.4" x2="511.0" y2="598.4" stroke="#000" stroke-width="1.2"/>
<line x1="91.5" y1="661.5" x2="96.0" y2="661.5" stroke="#000" stroke-width="1.2"/>
<line x1="520.0" y1="661.5" x2="515.5" y2="661.5" stroke="#000" stroke-width="1.2"/>
<line x1="91.5" y1="655.8" x2="96.0" y2="655.8" stroke="#000" stroke-width="1.2"/>
<line x1="520.0" y1="655.8" x2="515.5" y2="655.8" stroke="#000" stroke-width="1.2"/>
<line x1="91.5" y1="650.1" x2="96.0" y2="650.1" stroke="#000" stroke-width="1.2"/>
<line x1="520.0" y1="650.1" x2="515.5" y2="650.1" stroke="#000" stroke-width="1.2"/>
<line x1="91.5" y1="638.6" x2="96.0" y2="638.6" stroke="#000" stroke-width="1.2"/>
<line x1="520.0" y1="638.6" x2="515.5" y2="638.6" stroke="#000" stroke-width="1.2"/>
<line x1="91.5" y1="632.8" x2="96.0" y2="632.8" stroke="#000" stroke-width="1.2"/>
<line x1="520.0" y1="632.8" x2="515.5" y2="632.8" stroke="#000" stroke-width="1.2"/>
<line x1="91.5" y1="627.1" x2="96.0" y2="627.1" stroke="#000" stroke-width="1.2"/>
<line x1="520.0" y1="627.1" x2="515.5" y2="627.1" stroke="#000" stroke-width="1.2"/>
<line x1="91.5" y1="615.6" x2="96.0" y2="615.6" stroke="#000" stroke-width="1.2"/>
<line x1="520.0" y1="615.6" x2="515.5" y2="615.6" stroke="#000" stroke-width="1.2"/>
<line x1="91.5" y1="609.9" x2="96.0" y2="609.9" stroke="#000" stroke-width="1.2"/>
<line x1="520.0" y1="609.9" x2="515.5" y2="609.9" stroke="#000" stroke-width="1.2"/>
<line x1="91.5" y1="604.1" x2="96.0" y2="604.1" stroke="#000" stroke-width="1.2"/>
<line x1="520.0" y1="604.1" x2="515.5" y2="604.1" stroke="#000" stroke-width="1.2"/>
<line x1="91.5" y1="592.7" x2="96.0" y2="592.7" stroke="#000" stroke-width="1.2"/>
<line x1="520.0" y1="592.7" x2="515.5" y2="592.7" stroke="#000" stroke-width="1.2"/>
<line x1="91.5" y1="288.6" x2="520.0" y2="288.6" stroke="#000" stroke-width="1.1"/>
</g>
<polyline points="91.8,300.9 91.4,300.9 92.3,301.3 93.1,302.3 94.0,301.1 94.9,302.0 95.8,303.3 96.7,303.2 97.2,308.9 98.3,300.9 99.2,300.8 100.0,300.9 100.9,302.6 101.7,301.4 102.6,301.4 103.6,301.1 104.5,301.6 105.4,301.8 106.3,300.9 107.2,301.5 108.0,302.5 108.9,301.9 109.7,303.2 110.6,302.6 111.4,302.3 112.3,301.4 113.2,302.0 114.3,302.1 115.5,304.3 116.3,302.6 117.2,303.0 118.0,302.5 118.9,302.0 119.7,304.5 120.5,307.3 121.9,299.8 122.8,301.0 123.7,301.1 124.6,303.2 125.5,303.0 126.4,303.2 127.3,303.4 128.3,302.2 129.2,302.7 130.1,302.6 131.0,301.7 131.9,302.9 132.8,301.9 133.8,303.6 134.7,302.6 135.6,304.2 136.5,301.8 137.4,303.8 138.3,303.2 139.2,304.3 140.2,304.8 141.1,305.9 142.1,305.3 143.1,304.5 144.0,303.2 145.2,305.6 146.3,306.6 147.5,303.6 148.6,300.9 149.8,302.2 150.9,304.3 152.1,302.8 153.2,302.0 154.3,303.3 155.5,305.9 156.6,305.1 157.8,304.3 158.6,306.9 159.4,310.5 160.3,308.2 161.2,304.3 162.1,300.4 163.0,299.1 163.8,299.8 164.6,302.0 165.8,300.6 166.9,300.4 167.8,299.6 168.6,302.9 169.5,300.5 170.4,302.7 171.2,302.9 172.1,303.2 172.9,305.1 173.8,304.3 174.9,301.2 176.1,300.9 177.2,304.2 178.4,305.9 179.2,305.2 180.1,305.4 180.9,304.8 181.8,305.0 182.6,305.7 183.5,304.7 184.4,305.7 185.2,305.9 186.1,305.8 186.9,306.4 187.8,303.0 188.7,304.3 189.5,306.3 190.4,306.7 191.2,306.6 192.1,307.8 192.9,307.5 193.8,306.5 194.7,307.5 195.5,305.9 196.4,305.7 197.2,305.0 198.1,304.6 198.9,304.3 199.8,304.4 200.7,304.6 201.5,304.2 202.4,305.0 203.2,306.7 204.1,304.1 205.0,303.2 205.8,305.9 206.7,305.6 207.5,305.4 208.4,305.5 209.2,305.0 210.2,305.0 211.1,305.1 212.0,305.5 212.9,306.1 213.8,305.5 214.7,304.9 215.6,304.8 216.6,306.1 217.5,304.9 218.4,304.3 219.3,303.8 220.2,306.2 221.1,305.3 222.1,304.5 223.0,305.0 223.8,304.8 224.7,306.4 225.5,306.2 226.4,307.3 227.2,306.2 228.0,306.6 228.9,305.5 229.7,305.9 230.6,306.9 231.4,305.9 232.4,304.7 233.4,303.1 234.4,303.2 235.3,302.9 236.2,301.7 237.2,300.9 238.0,302.1 238.9,302.9 239.7,302.5 240.6,303.2 241.4,303.2 242.3,303.4 243.2,302.7 244.0,303.6 244.9,303.9 245.7,304.2 246.6,303.1 247.4,302.7 248.3,303.1 249.2,303.7 250.0,303.9 250.9,305.0 251.7,304.3 252.6,304.4 253.4,303.9 254.3,304.3 255.2,304.9 256.0,304.9 256.9,307.2 257.7,307.8 258.6,308.1 259.5,307.5 260.3,307.0 261.2,308.9 262.0,309.2 262.9,310.3 263.7,309.3 264.6,310.1 265.5,309.3 266.3,308.7 267.2,309.1 268.0,308.2 268.9,307.4 269.7,308.5 270.6,307.3 271.5,307.3 272.3,307.6 273.2,306.6 274.0,306.1 274.9,305.9 276.0,304.1 277.2,304.3 278.3,304.2 279.5,305.0 280.6,306.2 281.8,307.8 282.6,308.5 283.5,308.5 284.3,308.1 285.2,308.9 286.0,309.5 286.9,310.2 287.8,309.7 288.6,310.1 289.5,309.9 290.3,310.0 291.2,311.0 292.1,310.5 292.9,311.2 293.8,310.5 294.6,311.8 295.5,311.9 296.3,311.8 297.2,311.8 298.1,313.4 298.9,312.8 299.8,313.5 300.6,312.6 301.5,313.4 302.3,313.5 303.1,312.1 303.9,310.1 304.9,307.9 305.8,306.6 306.6,306.7 307.5,307.4 308.4,305.9 309.2,307.3 310.1,307.2 310.9,307.1 311.8,306.6 312.6,305.9 313.5,304.8 314.4,305.7 315.2,304.6 316.1,305.0 316.9,305.8 317.8,306.2 318.6,306.4 319.5,306.6 320.4,305.5 321.2,305.1 322.1,305.5 322.9,304.3 323.8,304.6 324.7,306.4 325.5,307.3 326.4,307.8 327.2,307.0 328.1,308.3 328.9,306.1 329.8,305.5 330.7,307.4 331.5,305.0 332.4,305.3 333.2,307.3 334.1,307.3 334.9,306.3 335.8,304.9 336.7,304.3 337.5,305.0 338.4,304.5 339.2,306.1 340.1,307.3 340.9,306.1 341.8,306.2 342.7,306.6 343.5,305.5" fill="none" stroke="#ff0000" stroke-width="1.4" stroke-linejoin="round"/>
<polyline points="91.8,290.6 91.4,290.6 92.3,290.9 93.1,291.6 94.0,291.1 94.9,291.8 95.8,295.5 96.7,298.6 97.6,283.7 99.0,290.6 99.9,291.0 100.8,290.2 101.7,289.5 102.6,290.8 103.6,288.9 104.5,289.8 105.4,289.3 106.3,289.9 107.2,291.0 108.1,293.3 109.0,295.2 110.0,291.9 110.9,288.3 112.0,294.0 113.2,295.5 114.3,296.3 115.5,295.8 116.6,294.5 117.5,295.9 118.3,294.4 119.2,292.0 120.0,292.9 120.9,292.5 121.7,291.3 122.6,290.8 123.5,290.6 124.3,291.3 125.2,289.6 126.0,287.8 126.9,289.0 127.7,288.5 128.6,287.3 129.5,285.8 130.3,286.0 131.5,285.9 132.6,287.2 133.8,285.8 134.9,285.3 135.8,285.7 136.6,285.7 137.5,286.4 138.3,286.7 139.2,287.6 140.2,284.9 141.1,284.9 142.0,279.1 142.9,274.6 143.8,273.6 144.7,273.0 145.6,280.3 147.0,274.6 147.8,274.9 148.6,273.5 149.4,276.3 150.2,280.3 151.1,283.2 152.1,283.7 153.0,284.4 153.9,287.2 154.7,284.6 155.5,283.7 156.3,286.0 157.1,288.3 158.5,280.3 159.3,287.1 160.1,295.2 160.9,290.7 161.7,287.2 162.6,285.8 163.5,283.7 164.6,282.6 165.8,280.3 166.7,279.8 167.6,279.2 168.4,280.7 169.2,282.6 170.0,283.1 170.8,281.5 171.7,285.2 172.6,288.3 173.6,287.0 174.5,286.0 175.3,288.7 176.1,289.5 177.2,287.4 178.4,286.7 179.2,287.1 180.1,287.7 180.9,287.4 181.8,287.6 182.6,287.3 183.5,288.3 184.4,287.7 185.2,288.3 186.1,288.1 186.9,288.1 187.8,290.2 188.7,289.5 189.5,288.6 190.4,289.5 191.2,288.4 192.1,287.6 192.9,287.6 193.8,288.5 194.7,288.4 195.5,288.3 196.4,288.3 197.3,287.0 198.3,288.1 199.2,288.7 200.1,287.9 201.0,288.1 201.9,288.4 202.8,288.6 203.8,287.6 204.7,287.2 205.6,289.2 206.5,286.9 207.4,288.4 208.3,287.0 209.2,289.5 210.2,290.2 211.1,289.7 212.0,291.1 212.9,289.5 213.8,289.9 214.7,288.0 215.6,290.3 216.6,287.9 217.5,287.6 218.4,288.3 219.5,288.0 220.7,287.9 221.5,289.1 222.4,288.8 223.3,290.1 224.1,290.6 225.1,289.3 226.1,292.3 227.0,291.1 228.0,291.3 228.9,290.6 229.7,290.3 230.6,289.2 231.4,288.3 232.4,287.7 233.4,286.1 234.4,286.0 235.3,285.2 236.2,284.9 237.2,283.7 238.3,286.5 239.4,287.6 240.3,287.7 241.2,288.1 242.0,288.4 242.9,288.3 243.7,288.7 244.6,288.3 245.4,287.8 246.3,287.9 247.2,287.4 248.1,288.7 249.0,288.0 250.0,287.7 250.9,287.6 251.7,290.6 252.6,288.7 253.4,288.8 254.3,288.3 255.5,289.6 256.6,290.6 257.7,291.5 258.9,294.0 260.0,295.5 261.2,295.2 262.3,296.3 263.5,297.5 264.6,298.7 265.7,299.8 266.9,298.3 268.0,295.2 269.2,297.1 270.3,297.5 271.5,295.9 272.6,294.0 273.8,291.8 274.9,289.5 276.0,291.7 277.2,290.6 278.3,293.9 279.5,296.3 280.6,296.4 281.8,298.2 282.9,297.3 284.0,295.2 285.2,297.2 286.3,299.1 287.5,296.8 288.6,294.5 289.8,297.7 290.9,299.8 292.1,297.1 293.2,294.0 294.3,298.2 295.5,299.1 296.6,297.9 297.8,296.3 298.9,298.2 300.1,299.8 300.9,298.4 301.7,295.2 302.6,297.0 303.5,299.8 304.6,287.2 305.4,287.4 306.2,286.0 307.6,290.6 308.5,279.2 309.9,295.2 310.7,289.4 311.5,283.7 312.3,291.0 313.1,296.3 314.0,288.8 314.9,282.6 316.1,295.2 317.2,294.4 318.4,292.9 319.5,293.3 320.6,296.3 321.8,294.8 322.9,294.0 324.1,297.5 325.2,300.9 326.4,298.4 327.5,295.2 328.7,293.3 329.8,288.3 330.9,302.0 331.9,298.4 332.8,291.8 333.6,296.2 334.4,302.7 335.5,298.4 336.7,295.2 337.8,299.6 338.9,302.0 340.1,300.1 341.2,297.5 342.4,292.9 343.5,295.2" fill="none" stroke="#80ff00" stroke-width="1.4" stroke-linejoin="round"/>
<rect x="346.6" y="289.2" width="1.2" height="1.6" fill="#80ff00"/><rect x="346.6" y="301.5" width="1.4" height="1.4" fill="#ff0000"/>
<defs><linearGradient id="cb" x1="0" y1="1" x2="0" y2="0">
<stop offset="0.0000" stop-color="#000000"/>
<stop offset="0.0125" stop-color="#000000"/>
<stop offset="0.0225" stop-color="#2a0060"/>
<stop offset="0.0325" stop-color="#0000ff"/>
<stop offset="0.0550" stop-color="#00ffff"/>
<stop offset="0.0950" stop-color="#00ff60"/>
<stop offset="0.1400" stop-color="#00ff00"/>
<stop offset="0.2200" stop-color="#80ff00"/>
<stop offset="0.2950" stop-color="#ffff00"/>
<stop offset="0.4250" stop-color="#ffa800"/>
<stop offset="0.5000" stop-color="#ff6a00"/>
<stop offset="0.6550" stop-color="#ff2000"/>
<stop offset="0.7500" stop-color="#ff0000"/>
<stop offset="0.9870" stop-color="#ff0000"/>
<stop offset="0.9880" stop-color="#000"/>
<stop offset="1.0000" stop-color="#000"/>
</linearGradient></defs>
<rect x="526.2" y="87.2" width="6.3" height="151.60000000000002" fill="url(#cb)" stroke="#000" stroke-width="0.9"/>
<text x="535.6" y="239.4" font-size="11.3" text-anchor="start" fill="#000" >0</text>
<text x="535.6" y="204.9" font-size="11.3" text-anchor="start" fill="#000" >50</text>
<text x="535.6" y="167.0" font-size="11.3" text-anchor="start" fill="#000" >100</text>
<text x="535.6" y="129.1" font-size="11.3" text-anchor="start" fill="#000" >150</text>
<text x="535.6" y="94.6" font-size="11.3" text-anchor="start" fill="#000" >200</text>
<text transform="translate(567.3 163.0) rotate(-90)" font-size="11" text-anchor="middle" textLength="63.3" lengthAdjust="spacing">current [pA]</text>
<rect x="526.2" y="346.3" width="6.3" height="68.0" fill="url(#cb)" stroke="#000" stroke-width="0.9"/>
<text x="535.6" y="414.6" font-size="11.3" text-anchor="start" fill="#000" >0</text>
<text x="535.6" y="401.3" font-size="11.3" text-anchor="start" fill="#000" >50</text>
<text x="535.6" y="384.3" font-size="11.3" text-anchor="start" fill="#000" >100</text>
<text x="535.6" y="367.3" font-size="11.3" text-anchor="start" fill="#000" >150</text>
<text x="535.6" y="354.0" font-size="11.3" text-anchor="start" fill="#000" >200</text>
<text transform="translate(567.3 380.3) rotate(-90)" font-size="11" text-anchor="middle" textLength="63.3" lengthAdjust="spacing">current [pA]</text>
<rect x="526.2" y="430.0" width="6.3" height="68.0" fill="url(#cb)" stroke="#000" stroke-width="0.9"/>
<text x="535.6" y="498.3" font-size="11.3" text-anchor="start" fill="#000" >0</text>
<text x="535.6" y="485.0" font-size="11.3" text-anchor="start" fill="#000" >50</text>
<text x="535.6" y="468.0" font-size="11.3" text-anchor="start" fill="#000" >100</text>
<text x="535.6" y="451.0" font-size="11.3" text-anchor="start" fill="#000" >150</text>
<text x="535.6" y="437.7" font-size="11.3" text-anchor="start" fill="#000" >200</text>
<text transform="translate(567.3 464.0) rotate(-90)" font-size="11" text-anchor="middle" textLength="63.3" lengthAdjust="spacing">current [pA]</text>
<rect x="526.2" y="513.6999999999999" width="6.3" height="68.0" fill="url(#cb)" stroke="#000" stroke-width="0.9"/>
<text x="535.6" y="582.0" font-size="11.3" text-anchor="start" fill="#000" >0</text>
<text x="535.6" y="568.7" font-size="11.3" text-anchor="start" fill="#000" >50</text>
<text x="535.6" y="551.7" font-size="11.3" text-anchor="start" fill="#000" >100</text>
<text x="535.6" y="534.7" font-size="11.3" text-anchor="start" fill="#000" >150</text>
<text x="535.6" y="521.4" font-size="11.3" text-anchor="start" fill="#000" >200</text>
<text transform="translate(567.3 547.7) rotate(-90)" font-size="11" text-anchor="middle" textLength="63.3" lengthAdjust="spacing">current [pA]</text>
<rect x="526.2" y="597.5" width="6.3" height="68.0" fill="url(#cb)" stroke="#000" stroke-width="0.9"/>
<text x="535.6" y="665.8" font-size="11.3" text-anchor="start" fill="#000" >0</text>
<text x="535.6" y="652.5" font-size="11.3" text-anchor="start" fill="#000" >50</text>
<text x="535.6" y="635.5" font-size="11.3" text-anchor="start" fill="#000" >100</text>
<text x="535.6" y="618.5" font-size="11.3" text-anchor="start" fill="#000" >150</text>
<text x="535.6" y="605.2" font-size="11.3" text-anchor="start" fill="#000" >200</text>
<text transform="translate(567.3 631.5) rotate(-90)" font-size="11" text-anchor="middle" textLength="63.3" lengthAdjust="spacing">current [pA]</text>
<text x="192.5" y="73.8" font-size="13.6" text-anchor="start" fill="#000" textLength="224.5" lengthAdjust="spacing" >SPC ion mode quick look, mode 1</text>
<text x="88.0" y="238.4" font-size="11" text-anchor="end" fill="#000" stroke="#000" stroke-width="0.5" >200</text>
<text x="88.0" y="192.6" font-size="11" text-anchor="end" fill="#000" stroke="#000" stroke-width="0.5" >400</text>
<text x="88.0" y="146.8" font-size="11" text-anchor="end" fill="#000" stroke="#000" stroke-width="0.5" >600</text>
<text x="88.0" y="101.0" font-size="11" text-anchor="end" fill="#000" stroke="#000" stroke-width="0.5" >800</text>
<text transform="translate(58.5 162.4) rotate(-90)" font-size="11" text-anchor="middle" stroke="#000" stroke-width="0.25" textLength="53.5" lengthAdjust="spacing">v<tspan font-size="7.5" dy="2">eq</tspan><tspan dy="-2"> [km/s]</tspan></text>
<text x="88.0" y="329.8" font-size="11" text-anchor="end" fill="#000" stroke="#000" stroke-width="0.15" >-40</text>
<text x="88.0" y="311.2" font-size="11" text-anchor="end" fill="#000" stroke="#000" stroke-width="0.15" >-20</text>
<text x="88.0" y="292.6" font-size="11" text-anchor="end" fill="#000" stroke="#000" stroke-width="0.15" >0</text>
<text x="88.0" y="274.0" font-size="11" text-anchor="end" fill="#000" stroke="#000" stroke-width="0.15" >20</text>
<text x="88.0" y="255.4" font-size="11" text-anchor="end" fill="#000" stroke="#000" stroke-width="0.15" >40</text>
<text transform="translate(60.0 288.6) rotate(-90)" font-size="11" text-anchor="middle" stroke="#000" stroke-width="0.3" textLength="44" lengthAdjust="spacing">angle [°]</text>
<text x="88.0" y="420.1" font-size="11" text-anchor="end" fill="#000" stroke="#000" stroke-width="0.5" >200</text>
<text x="88.0" y="397.1" font-size="11" text-anchor="end" fill="#000" stroke="#000" stroke-width="0.5" >400</text>
<text x="88.0" y="374.2" font-size="11" text-anchor="end" fill="#000" stroke="#000" stroke-width="0.5" >600</text>
<text x="88.0" y="351.2" font-size="11" text-anchor="end" fill="#000" stroke="#000" stroke-width="0.5" >800</text>
<text transform="translate(58.5 379.6) rotate(-90)" font-size="11" text-anchor="middle" stroke="#000" stroke-width="0.25" textLength="53.5" lengthAdjust="spacing">v<tspan font-size="7.5" dy="2">eq</tspan><tspan dy="-2"> [km/s]</tspan></text>
<text x="88.0" y="503.8" font-size="11" text-anchor="end" fill="#000" stroke="#000" stroke-width="0.5" >200</text>
<text x="88.0" y="480.8" font-size="11" text-anchor="end" fill="#000" stroke="#000" stroke-width="0.5" >400</text>
<text x="88.0" y="457.9" font-size="11" text-anchor="end" fill="#000" stroke="#000" stroke-width="0.5" >600</text>
<text x="88.0" y="434.9" font-size="11" text-anchor="end" fill="#000" stroke="#000" stroke-width="0.5" >800</text>
<text transform="translate(58.5 463.2) rotate(-90)" font-size="11" text-anchor="middle" stroke="#000" stroke-width="0.25" textLength="53.5" lengthAdjust="spacing">v<tspan font-size="7.5" dy="2">eq</tspan><tspan dy="-2"> [km/s]</tspan></text>
<text x="88.0" y="587.5" font-size="11" text-anchor="end" fill="#000" stroke="#000" stroke-width="0.5" >200</text>
<text x="88.0" y="564.5" font-size="11" text-anchor="end" fill="#000" stroke="#000" stroke-width="0.5" >400</text>
<text x="88.0" y="541.6" font-size="11" text-anchor="end" fill="#000" stroke="#000" stroke-width="0.5" >600</text>
<text x="88.0" y="518.6" font-size="11" text-anchor="end" fill="#000" stroke="#000" stroke-width="0.5" >800</text>
<text transform="translate(58.5 547.0) rotate(-90)" font-size="11" text-anchor="middle" stroke="#000" stroke-width="0.25" textLength="53.5" lengthAdjust="spacing">v<tspan font-size="7.5" dy="2">eq</tspan><tspan dy="-2"> [km/s]</tspan></text>
<text x="88.0" y="671.3" font-size="11" text-anchor="end" fill="#000" stroke="#000" stroke-width="0.5" >200</text>
<text x="88.0" y="648.3" font-size="11" text-anchor="end" fill="#000" stroke="#000" stroke-width="0.5" >400</text>
<text x="88.0" y="625.4" font-size="11" text-anchor="end" fill="#000" stroke="#000" stroke-width="0.5" >600</text>
<text x="88.0" y="602.4" font-size="11" text-anchor="end" fill="#000" stroke="#000" stroke-width="0.5" >800</text>
<text transform="translate(58.5 630.8) rotate(-90)" font-size="11" text-anchor="middle" stroke="#000" stroke-width="0.25" textLength="53.5" lengthAdjust="spacing">v<tspan font-size="7.5" dy="2">eq</tspan><tspan dy="-2"> [km/s]</tspan></text>
<text x="91.5" y="688.8" font-size="11" text-anchor="middle" fill="#000" stroke="#000" stroke-width="0.5" >00:00</text>
<text x="198.6" y="688.8" font-size="11" text-anchor="middle" fill="#000" stroke="#000" stroke-width="0.5" >06:00</text>
<text x="305.8" y="688.8" font-size="11" text-anchor="middle" fill="#000" stroke="#000" stroke-width="0.5" >12:00</text>
<text x="412.9" y="688.8" font-size="11" text-anchor="middle" fill="#000" stroke="#000" stroke-width="0.5" >18:00</text>
<text x="520.0" y="688.8" font-size="11" text-anchor="middle" fill="#000" stroke="#000" stroke-width="0.5" >00:00</text>
<text x="305.7" y="702.5" font-size="11" text-anchor="middle" fill="#000" stroke="#000" stroke-width="0.5" textLength="69.5" lengthAdjust="spacing" >2023-03-16</text>
<text x="509.3" y="257.0" font-size="11" text-anchor="end" fill="#ff0000" stroke="#ff0000" stroke-width="0.1" textLength="75" lengthAdjust="spacing" >inflow azimuth</text>
<text x="509.3" y="267.2" font-size="11" text-anchor="end" fill="#80ff00" stroke="#80ff00" stroke-width="0.1" textLength="74" lengthAdjust="spacing" >inflow attitude</text>
<text x="65.0" y="759.6" font-size="7.6" text-anchor="start" fill="#000" stroke="#000" stroke-width="0.15" textLength="279" lengthAdjust="spacing" xml:space="preserve">Generated on Fri Jun  2 14:33:28 2023 by mstevens@cfa.harvard.edu</text>
<text x="65.0" y="766.6" font-size="7.6" text-anchor="start" fill="#000" stroke="#000" stroke-width="0.15" textLength="101" lengthAdjust="spacing" >For browse purposes only.</text>
</svg>
</body></html>
